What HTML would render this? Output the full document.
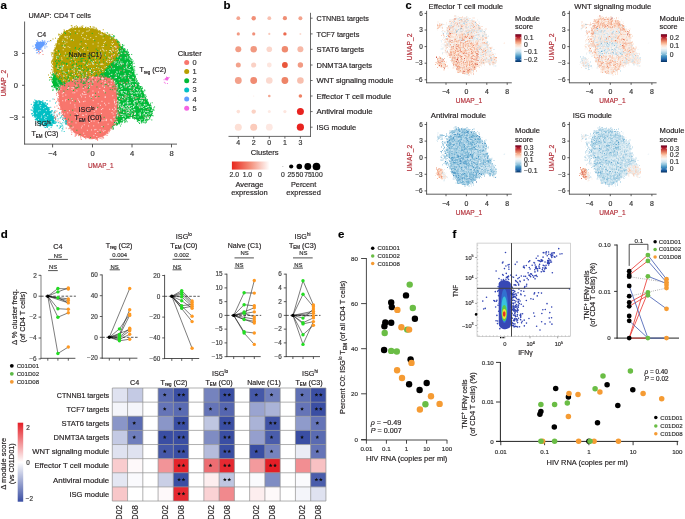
<!DOCTYPE html>
<html><head><meta charset="utf-8"><style>
html,body{margin:0;padding:0;background:#fff;}
svg{display:block;will-change:transform;}
text{font-family:"Liberation Sans",sans-serif;stroke:#231f20;stroke-width:0.18px;}
</style></head><body>
<svg width="685" height="519" viewBox="0 0 685 519" font-size="7" fill="#231f20">
<rect width="685" height="519" fill="#fff"/>
<path d="M106.14 34.6 L108.16 35.6 L110.02 36.61 L111.71 37.62 L113.23 38.64 L114.57 39.66 L115.74 40.61 L116.71 41.47 L117.5 42.25 L118.1 42.95 L118.86 43.79 L119.79 44.76 L120.88 45.88 L122.12 47.12 L123.28 48.28 L124.34 49.34 L125.31 50.31 L126.19 51.19 L126.97 52.09 L127.66 53.03 L128.25 54 L128.75 55 L129.25 56 L129.75 57 L130.25 58 L130.75 59 L131.19 60.06 L131.56 61.19 L131.88 62.38 L132.12 63.62 L132.38 64.91 L132.62 66.22 L132.88 67.56 L133.12 68.94 L133.47 70.47 L133.91 72.16 L134.44 74 L135.06 76 L135.75 77.94 L136.5 79.81 L137.31 81.62 L138.19 83.38 L139 84.88 L139.75 86.12 L140.44 87.12 L141.06 87.88 L141.72 88.91 L142.41 90.22 L143.12 91.81 L143.88 93.69 L144.62 95.44 L145.38 97.06 L146.12 98.56 L146.88 99.94 L147.66 101.28 L148.47 102.59 L149.31 103.88 L150.19 105.12 L150.93 106.31 L151.52 107.44 L151.99 108.5 L152.31 109.5 L152.48 110.59 L152.49 111.76 L152.35 113.02 L152.05 114.38 L151.57 115.64 L150.92 116.83 L150.1 117.94 L149.1 118.96 L147.93 119.81 L146.59 120.49 L145.09 120.99 L143.41 121.31 L141.82 121.39 L140.31 121.21 L138.88 120.79 L137.52 120.11 L136.26 119.44 L135.07 118.76 L133.96 118.09 L132.94 117.41 L132 116.99 L131.15 116.83 L130.39 116.93 L129.71 117.27 L128.96 117.71 L128.12 118.22 L127.2 118.81 L126.2 119.49 L125.11 120.16 L123.94 120.84 L122.67 121.51 L121.33 122.19 L119.97 122.86 L118.62 123.54 L117.27 124.21 L115.93 124.89 L114.66 125.56 L113.47 126.24 L112.36 126.91 L111.34 127.59 L110.71 126.93 L110.47 124.94 L110.62 121.62 L111.18 116.98 L111.65 112.55 L112.05 108.35 L112.38 104.38 L112.62 100.62 L112.31 97 L111.44 93.5 L110 90.12 L108 86.88 L105.56 84.31 L102.69 82.44 L99.38 81.25 L95.62 80.75 L91.56 80.5 L87.19 80.5 L82.5 80.75 L77.5 81.25 L73.31 82 L69.94 83 L67.38 84.25 L65.62 85.75 L63.88 87 L62.12 88 L60.38 88.75 L58.62 89.25 L57.09 89.25 L55.78 88.75 L54.69 87.75 L53.81 86.25 L53.16 84.62 L52.72 82.88 L52.5 81 L52.5 79 L52.97 77.12 L53.91 75.38 L55.31 73.75 L57.19 72.25 L61.09 70.5 L67.03 68.5 L75 66.25 L85 63.75 L92.69 60.19 L98.08 55.58 L101.16 49.91 L101.94 43.19 L103.02 38.39 L104.42 35.53Z" fill="#00BA38"/>
<path d="M53.01 74.46h.01M58.71 73.55h.01M111.23 94.98h.01M107.61 37.38h.01M51.41 77.26h.01M59.86 67.46h.01M142.55 92.5h.01M75.99 65.83h.01M100.77 39.69h.01M76.94 67.77h.01M132.35 64.06h.01M73.26 82.86h.01M119.68 122.07h.01M105.9 83.44h.01M103.09 82.31h.01M110.05 101.13h.01M80.02 81.1h.01M128.27 56.66h.01M99.78 81.37h.01M138.37 120.28h.01M111.49 120.37h.01M138.43 86.95h.01M89.93 79h.01M148.12 102.39h.01M94.8 58.61h.01M116.5 122.43h.01M124.91 120.66h.01M130.37 60.59h.01M102.04 49.83h.01M149.13 105.72h.01M78.94 66.24h.01M136.95 74.34h.01M116.83 125.41h.01M95 80.44h.01M84.07 63.05h.01M52.62 86.35h.01M129.03 115.79h.01M138.93 122.53h.01M111.4 124.11h.01M112.78 93.09h.01M113.13 96.26h.01M117.39 40.21h.01M126.89 51.46h.01M98.31 47.35h.01M102.97 45.69h.01M126.56 120.82h.01M109.17 106.84h.01M96.29 82.11h.01M77.13 81.69h.01M121.72 120.63h.01M111.68 97.46h.01M92.01 57.52h.01M127.48 55.95h.01M53.71 84.25h.01M82.1 61.12h.01M97.41 53.69h.01M131.71 65.77h.01M102.32 42.09h.01M86.29 63.76h.01M117.26 41.79h.01M116.22 40.89h.01M121.25 124.11h.01M90.59 80.08h.01M53.08 85.43h.01M134.75 70.29h.01M81.29 79.05h.01M120.52 120.48h.01M84.4 62.81h.01M111.75 94.57h.01M112.8 99.19h.01M117.66 124.47h.01M109.72 35.04h.01M112.34 124.86h.01M127.49 49.84h.01M152.18 102.81h.01M111.77 112.69h.01M135.85 117.81h.01M144.97 119.6h.01M85.9 83.04h.01M132.37 73.69h.01M54.46 86.83h.01M112.28 106.88h.01M148.93 117.76h.01M144.76 97.92h.01M114.53 101.87h.01M66.49 68.21h.01M101.94 82.42h.01M62.06 71.66h.01M112.32 117.2h.01M110.29 105.75h.01M138.85 83.65h.01M54.73 82.83h.01M56.41 74.4h.01M143.62 119.55h.01M72.71 82.34h.01M124.81 122.56h.01M54.08 87.59h.01M104.36 82.82h.01M109.06 88.5h.01M131.45 63.38h.01M111.34 127.05h.01M67.56 66.94h.01M131.57 69.58h.01M60.66 87.29h.01M138.82 88.11h.01M132.08 59.73h.01M64.18 87.42h.01M69.31 85.4h.01M131.86 115.05h.01M101.9 81.05h.01M53.27 75.04h.01M133.2 73.64h.01M137.38 121.49h.01M75.91 80.02h.01M111.96 39.12h.01M56.86 75.05h.01M74.35 68.33h.01M150.43 103.27h.01M113.6 41.06h.01M91 78.67h.01M142.41 92.18h.01M144.65 90.01h.01M78.25 81.09h.01M117.46 123.38h.01M55.15 72.52h.01M109.36 129.84h.01M131.83 67.35h.01M132.44 117.42h.01M125.65 119.28h.01M53.05 81.57h.01M102.57 42.33h.01M53.62 81.97h.01M128.84 116.44h.01M105.06 83.84h.01M110.92 123.57h.01M96.06 80.22h.01M109.39 36.6h.01M140.89 86.66h.01M134.81 116.75h.01M98.67 79.99h.01M108.5 36.22h.01M55.18 74.47h.01M56.7 90.72h.01M122.39 46.58h.01M141.44 90.87h.01M113.07 127.82h.01M52.61 82.43h.01M118.2 44.3h.01M119.95 47.49h.01M100.38 46h.01M102.08 84.69h.01M112.69 109.49h.01M113.11 129.38h.01M152.62 109.84h.01M74.32 80.36h.01M49.48 80h.01M66.36 83.81h.01M75.84 66.33h.01M144.63 97.72h.01M132.31 62.57h.01M129.53 58.64h.01M120.62 121.24h.01M145.12 120.97h.01M85.39 64.2h.01M52.04 81.56h.01M124.3 50.77h.01M147.43 103.34h.01M77.22 66.63h.01M135.07 76.6h.01M134.03 78.72h.01M60.13 90.21h.01M111.65 94.73h.01M113.1 37.37h.01M144.19 122.72h.01M140.1 86.68h.01M112.61 111.04h.01M54.8 85.64h.01M153.7 107.97h.01M118.39 122.73h.01M81.16 65.94h.01M129.53 58.52h.01M66.24 84.19h.01M112.25 96.7h.01M111.8 97.21h.01M75.92 67.72h.01M52.14 74.93h.01M100.31 48.48h.01M118.67 45.6h.01M150.17 105.13h.01M52.84 75h.01M111.41 125.03h.01M111.21 119.74h.01M103.87 42.76h.01M74.31 67.72h.01M93.66 78.98h.01M101.62 49.94h.01M108.96 36.22h.01M59.08 89.71h.01M126.5 53.2h.01M114.18 40.01h.01M148.68 118.82h.01M103.22 83.22h.01M131.42 68.26h.01M115.2 41.59h.01M141.34 88.58h.01M149.39 105.52h.01M132.69 118.07h.01M142.51 88.42h.01M111.86 114.01h.01M71.25 67.33h.01M130.26 117.94h.01M129.07 54.8h.01M82.79 81.55h.01M141.48 88.35h.01M83.58 79.06h.01M107.94 123.28h.01M116.42 42.33h.01M124.52 48.61h.01M143.3 91.19h.01M130.05 57.33h.01M110.34 121.81h.01M126.23 52.55h.01M128.68 54.3h.01M111.3 127.77h.01M71.02 81.84h.01M111.97 111.18h.01M107.16 32.61h.01M136.15 78.45h.01M141.56 89.92h.01M70.03 82.97h.01M102.81 81.48h.01M87.3 61.74h.01M152.41 111.53h.01M77.87 79.81h.01M130.45 64.39h.01M132.23 115.31h.01M98.42 52.35h.01M87.28 64.64h.01M84.05 63.94h.01M99.54 50.85h.01M67.36 82.05h.01M60.39 92.28h.01M137.58 83.16h.01M103.55 81.22h.01M59.78 72.29h.01M126.93 51.56h.01M129.81 58.97h.01M53.51 75.99h.01M130.62 58.71h.01M111.87 103.19h.01M102.16 49.76h.01M138.17 119.02h.01M65.52 85.07h.01M130.28 62.87h.01M81.62 80.24h.01M89.18 80.29h.01M154.56 106.94h.01M137.39 120.6h.01M151.12 109.01h.01M77.97 80.4h.01M103.28 45.41h.01M139.82 87.78h.01M130.99 61.73h.01M90.2 60.39h.01M128.09 52.51h.01M109.65 117.34h.01M72.68 68.62h.01M106.51 84.38h.01M96.69 54.39h.01M112.75 96.5h.01M131.37 62.6h.01M126.97 50.87h.01M84.32 63.2h.01M143.75 91.93h.01M148.02 119.8h.01M86.51 80.93h.01M134.94 78.25h.01M51.7 80.02h.01M128.15 52.09h.01M145.05 97.57h.01M151.04 115.21h.01M101.75 80.22h.01M93.93 57.71h.01M84.15 62.41h.01M112.7 108.65h.01M60.85 72.14h.01M143.68 96.48h.01M74.87 82.47h.01M85.35 63.22h.01M65.72 83.84h.01M151.78 109.35h.01M138.69 86.96h.01M109.03 90.83h.01M53.29 77.69h.01M136.32 79.93h.01M110.8 124.47h.01M76.24 67.82h.01M134.56 76.98h.01M128.01 55.88h.01M116.47 124.07h.01M52.92 74.26h.01M123.91 45.25h.01M137.72 82.71h.01M131.09 64.75h.01M77.27 82.03h.01M133.03 67.73h.01M153.91 110.33h.01M119.41 44.2h.01M87.5 63.5h.01M141.53 121.6h.01M109.56 91.21h.01M86.64 63.04h.01M71.06 67.98h.01M112.63 113.91h.01M106.17 89.3h.01M147.63 103.45h.01M114.37 40.6h.01M52.67 82.68h.01M59.48 89.08h.01M113.09 113.16h.01M76.39 82.1h.01M122.07 47.12h.01M110.28 123.52h.01M112.85 96.33h.01M147.94 117.6h.01M131.59 61.66h.01M140.11 87.91h.01M146.14 96.47h.01M113.73 105.23h.01M138.26 85.35h.01M78.59 82.54h.01M141.85 120.61h.01M55.58 87.21h.01M118.51 45.7h.01M63.18 85.95h.01M142.49 92.67h.01M64.59 85.9h.01M110.49 118.71h.01M66.41 87.59h.01M99.92 52.78h.01M57.04 89.18h.01M134.82 76.55h.01M104.34 35.3h.01M93.61 59.38h.01M130.84 58.86h.01M89.14 78.52h.01M120.37 47.94h.01M152.28 115.44h.01M147.15 120.57h.01M110.33 113.82h.01M84.2 78.79h.01M116.51 42.36h.01M91.82 80.97h.01M53.79 76.08h.01M112.99 109.68h.01M111.95 120.12h.01M134.56 119.01h.01M99.99 52.29h.01M78.71 82.72h.01M125.97 52.01h.01M111.42 89.03h.01M67.81 68.02h.01M53.15 77.74h.01M138.71 120.82h.01M132.57 69.82h.01M61.1 88.13h.01M144.23 97.42h.01M76.26 79.78h.01M117.54 122.05h.01M56.93 72.99h.01M105.28 83.62h.01M122.54 49.01h.01M92.43 80.69h.01M100.69 52.92h.01M120.53 126h.01M111.02 90.66h.01M62.34 87h.01M125.11 52.63h.01M130.33 115.47h.01M105.55 83.82h.01M73.35 83.65h.01M55.2 85.02h.01M113.85 104.69h.01M121.93 121.44h.01M118.79 46.54h.01M96.58 59.49h.01M117.82 44.32h.01M143.54 119.59h.01M134.02 63.3h.01M99.88 79.55h.01M132.07 68.65h.01M126.18 52.86h.01M107.7 121.8h.01M144.81 90.73h.01M110.4 114.13h.01M111.03 103.47h.01M122.89 47.14h.01M101.04 49.85h.01M133.7 72.24h.01M140.47 86.74h.01M67.66 85.12h.01M65.15 71.18h.01M82.07 66.34h.01M141.16 120.28h.01M100.99 81.45h.01M107.37 35.48h.01M108.39 90.71h.01M123.33 49.18h.01M111.83 111.6h.01M113.18 36.54h.01M129.25 56.75h.01M79.49 66.61h.01M108.27 85.6h.01M113.07 106.5h.01M109.77 122.42h.01M106.09 36.49h.01M59.82 88.51h.01M76.56 66.62h.01M67.92 85.33h.01M109.61 92.93h.01M145.91 98.22h.01M111.76 116.21h.01M137.01 84.46h.01M129.03 118.35h.01M122.42 44.53h.01M111.36 39.24h.01M101.72 80.11h.01M118.09 42.1h.01M137.92 86.77h.01M109.78 86.95h.01M109.5 124.02h.01M138.9 83.45h.01M101.39 45.54h.01M100.19 52.39h.01M133.1 118.31h.01M62.93 88.17h.01M106.99 35.45h.01M137.55 86.09h.01M131.69 54.44h.01M112.61 98.74h.01M53.92 84.83h.01M136.62 117.88h.01M52.18 86.82h.01M113.15 115h.01M104.92 82.33h.01M114.25 104.67h.01M111.65 97.68h.01M81.66 80.53h.01M53.09 78.25h.01M113.74 35.53h.01M91.24 79.22h.01M119.66 121.88h.01M79.39 67.05h.01M136.78 81.49h.01M74.89 65.48h.01M59.54 89.74h.01M113.67 107.68h.01M90.06 58.94h.01M132.49 73.87h.01M111.54 127.77h.01M117.52 41.69h.01M132.76 71.55h.01M146.35 121.43h.01M110.93 96.74h.01M96.56 57.55h.01M132.38 115.54h.01M113.6 40h.01M62.7 72.01h.01M59.93 87.52h.01M117.68 44.92h.01M121.13 47.22h.01M86.36 81.19h.01M87 81.64h.01M116.55 39.38h.01M128.76 56.18h.01M113.36 128.4h.01M110.71 128.08h.01M62.41 89.26h.01M144.28 97.47h.01M129 57.85h.01M132.4 61.85h.01M112.89 94.74h.01M56.45 89.37h.01M60.89 70.27h.01M135.37 117.61h.01M125.19 121.65h.01M72.89 83.58h.01M101.34 81.28h.01M134.37 76.52h.01M128.43 117.94h.01M112.22 94.2h.01M144.71 94.75h.01M138.22 119.95h.01M85.59 81.91h.01M110.65 115.36h.01M62.66 86.48h.01M125.02 121.31h.01M135.4 75.2h.01M99.72 45.93h.01M117.47 124.07h.01M54.26 79.05h.01M86.7 79.29h.01M69.99 81.82h.01M98.96 56.72h.01M112.26 108.61h.01M57.5 89.64h.01M95.04 58.17h.01M141.35 122.84h.01M69.25 69.75h.01M64.57 68.74h.01M102.68 48.3h.01M122 122.46h.01M70.09 81.18h.01M83.68 65.87h.01M98.56 55.79h.01M153.1 115.83h.01M143.1 120.96h.01M122.16 46.89h.01M50.83 77.08h.01M110.41 92.9h.01M140.26 88.8h.01M68.92 69.44h.01M52.68 82.9h.01M130.98 65.59h.01M60.49 86.87h.01M115.08 41.2h.01M112.39 122.83h.01M83.68 79.37h.01M109.96 37.7h.01M111.61 91.38h.01M112.85 40.62h.01M142.06 121.65h.01M150.98 110.84h.01M111.18 117.99h.01M102.34 81.01h.01M60.12 68.88h.01M149.45 118.58h.01M99.42 52.83h.01M96.18 57.16h.01M53.15 73.62h.01M129.94 60.51h.01M102.78 47.28h.01M78.23 79.51h.01M111.74 118.29h.01M109.99 37.67h.01M102.78 50.03h.01M119.43 42.31h.01M127.2 121.82h.01M55.76 85.73h.01M110.67 88.93h.01M69.18 69.51h.01M62.81 71.54h.01M140.81 120.05h.01M90.36 61.7h.01M102.86 34.86h.01M65.83 85.03h.01M118.19 42.72h.01M109.89 35.86h.01M125.32 49.23h.01M103.7 42.57h.01M129.27 118.01h.01M133.99 68.81h.01M55.36 72.38h.01M112.86 127.2h.01M140.76 90.08h.01M141.17 120.67h.01M150.21 104.55h.01M85.33 78.62h.01M113.6 125.04h.01M52.86 90.53h.01M73.27 66.16h.01M136.97 118.65h.01M101.46 49.56h.01M64.63 86.86h.01M112.01 108.28h.01M142.93 95.11h.01M108.49 117.63h.01M92.64 81.91h.01M86.93 64.67h.01M68.23 83.24h.01M115.52 41.08h.01M110.5 99.75h.01M135.94 82.57h.01M133.96 66.55h.01M69.97 69.46h.01M129.34 59.92h.01M69.92 69.09h.01M109.3 116.62h.01M79.03 79.86h.01M77.07 81.16h.01M86.62 63.8h.01M129.18 54.56h.01M147.29 100.33h.01M113.88 124.02h.01M102.21 48.89h.01M54.95 85.09h.01M146.35 119.09h.01M139.17 87.29h.01M97.64 56.45h.01M93.62 58.97h.01M68.82 67.45h.01M94.63 80.72h.01M138.22 85.74h.01M123.56 119.6h.01M66.69 83.9h.01M102.47 40.68h.01M139.5 123.49h.01M113.07 106.49h.01M133.06 70.75h.01M78.22 66.3h.01M113.63 98.48h.01M57.86 74.1h.01M55.68 73.07h.01M118.18 122.47h.01M134.13 118.6h.01M122.78 45.63h.01M150.33 105.81h.01M118.21 42.89h.01M54.61 85.05h.01M108.75 117.38h.01M134.31 74.1h.01M137.2 80.48h.01M51.53 86.3h.01M72.14 67.2h.01M124.88 52.34h.01M138.07 85.73h.01M110.17 91.39h.01M56.75 88.19h.01M53.4 85.7h.01M109.14 37.04h.01M64.78 84.63h.01M149.88 118.95h.01M53.64 73.89h.01M111.59 108.87h.01M122.83 49.35h.01M70.29 67.64h.01M140.13 120.44h.01M135.14 76.5h.01M124.37 49.81h.01M131.41 65.87h.01M74.77 67.92h.01M147.39 119.06h.01M98.38 56.04h.01M82.15 64.32h.01M130.75 66.91h.01M64.09 70.45h.01M105.87 84.84h.01M136.21 81.73h.01M73.87 68.45h.01M102.39 42.26h.01M130.89 63.62h.01M53.85 84.58h.01M85.93 65.19h.01M112.52 98.62h.01M111.73 118.47h.01M77.96 81.52h.01M133.77 69.46h.01M61.59 86.7h.01M54.94 73.04h.01M128.25 52.46h.01M127.99 54.01h.01M79.15 82.1h.01M60.89 87.13h.01M67.29 84.22h.01M140.9 86.51h.01M133.14 115.8h.01M145.76 119.62h.01M79.85 79.99h.01M93.28 80.89h.01M139.19 120.56h.01M130.14 61.3h.01M148.78 118.6h.01M69.23 69.53h.01M54.57 82.2h.01M102.5 81.34h.01M60.55 67.13h.01M97.76 54.25h.01M63.06 85.89h.01M54.44 75.13h.01M149.82 116.19h.01M148.21 105.62h.01M103.56 43.58h.01M102.31 51.91h.01M112.49 106.36h.01M138.97 86.16h.01M94.11 59.6h.01M72.83 80.19h.01M120.01 120.7h.01M153.62 109.62h.01M132.03 69.13h.01M53.39 79.57h.01M138.48 82.8h.01M91.29 60.7h.01M99.59 54.32h.01M113.72 110.57h.01M60.38 72.48h.01M146.06 102.45h.01M105.6 36.49h.01M84.68 63.47h.01M88.77 62.84h.01M133.13 61.13h.01M98.42 79.18h.01M51.2 77.83h.01M82.9 81.37h.01M134.04 116.46h.01M80.58 64.8h.01M118.17 41.92h.01M134.81 80.44h.01M101.16 80.09h.01M133.8 71.08h.01M143.62 95.09h.01M111.27 36.59h.01M119.25 123.7h.01M143.13 95.63h.01M98.14 55.4h.01M73.12 83.08h.01M103.99 40.65h.01M54.84 83.27h.01M135.9 78.86h.01M108.62 88.51h.01M112 119.57h.01M147.98 119.03h.01M104.93 38.99h.01M91.86 62.52h.01M131 60.21h.01M86.29 80.3h.01M114.55 36.27h.01M71.79 80.97h.01M81.25 80.66h.01M112.53 125.06h.01M100.76 85.46h.01M78.67 66.8h.01M149.97 114.83h.01M78.15 81.25h.01M141.75 89.97h.01M61.42 70.44h.01M53.8 85.48h.01M70.83 80.98h.01M113.78 102.04h.01M60.92 88.67h.01M92.02 61.12h.01M68.09 68.52h.01M101.63 46.33h.01M54.75 84.08h.01M131.21 62.63h.01M93.05 79.85h.01M128.08 55.22h.01M135.47 79.37h.01M150.89 105.46h.01M67.61 69.02h.01M116.02 124.3h.01M68.98 84.94h.01M119.34 123.72h.01M111.38 123.46h.01M65.09 84.97h.01M143.44 93.79h.01M149.97 115.75h.01M145.65 95.15h.01M141.87 122.71h.01M76.36 81.91h.01M112.36 102.31h.01M53.94 85.35h.01M106.19 36.83h.01M102.3 49.24h.01M111.87 111.54h.01M122.53 48.47h.01M65.79 84.63h.01M147.81 101.99h.01M102.43 39.64h.01M91.07 57.05h.01M106.04 89.82h.01M89.14 80.73h.01M116.34 43.18h.01M113.03 92.16h.01M81.75 82.54h.01M114.4 41.33h.01M113.76 102.63h.01M68.61 67.65h.01M58.36 73.57h.01M68.78 82.95h.01M110.72 89.86h.01M110.77 91.05h.01M98.96 56.72h.01M56.55 87.35h.01M81.49 66.27h.01M79.02 81.14h.01M111.7 120.42h.01M101.42 83.13h.01M148.3 105.7h.01M72.12 68.52h.01M115.59 43.1h.01M110.79 93.63h.01M55.8 73.79h.01M102.97 42.81h.01M73.85 80.14h.01M123.53 119.94h.01M79.38 66.62h.01M78.76 84.34h.01M131.08 59.45h.01M109.61 96.21h.01M122.18 121.59h.01M113 40.88h.01M141.76 92.01h.01M60.6 89.67h.01M129.56 60.62h.01M99.43 52.8h.01M102.85 49.7h.01M132.05 63.78h.01M72.13 66.39h.01M93.76 55.96h.01M54.9 70.14h.01M111.89 124.5h.01M108.48 88.16h.01M111.67 118.7h.01M67.23 85.99h.01M147.38 99.44h.01M58.4 90.35h.01M68.22 86.95h.01M88.86 79.36h.01M143.38 122.23h.01M152.33 113.67h.01M89.36 60.85h.01M62.79 70.9h.01M105.67 37.14h.01M109.83 121.34h.01M134.7 72.14h.01M56.51 74.29h.01M103.78 44.24h.01M147.02 103.17h.01M112.59 112.79h.01M103.56 84.95h.01M135.72 117.66h.01M109.95 126.24h.01M56.42 75.42h.01M110.17 118.55h.01M130.17 62.64h.01M107.11 85.15h.01M71.37 83.66h.01M151.79 119.95h.01M145.43 122.94h.01M111.82 118.47h.01M60.86 89.38h.01M142.24 87.22h.01M83.62 62.73h.01M116.33 43.35h.01M55.01 74.5h.01M71.44 65.7h.01M103.38 38.31h.01M98.6 46.62h.01M147.4 104.01h.01M103.99 36.39h.01M90.41 79.98h.01M58.11 92.47h.01M93.6 60.67h.01M53.3 82.38h.01M133.94 116.96h.01M91.05 81.38h.01M71.22 80.67h.01M100.67 41.73h.01M112.95 40.3h.01M113.65 38.69h.01M58.97 87.67h.01M130.44 62.1h.01M107.07 88.03h.01M89.61 80.35h.01M134.92 77.67h.01M128.48 117.31h.01M116.11 124.62h.01M101.32 42.61h.01M60.03 87.25h.01M114.36 99.84h.01M118.2 41.43h.01M134.69 66.73h.01M110.62 127.03h.01M110.31 90.61h.01M113.42 110.06h.01M53.07 89.35h.01M52.71 79.25h.01M93.16 82.03h.01M146.17 122.54h.01M124.8 52.29h.01M113.39 124.8h.01M151.38 109.7h.01M109.5 118.82h.01M75.31 85.04h.01M84.79 64.47h.01M111.91 90.73h.01M137.41 82.91h.01M90.11 63.42h.01M110.32 118.53h.01M151.32 107.04h.01M111.93 122.9h.01M56.27 89.42h.01M52.87 79.33h.01M67.4 82.46h.01M61.88 69.76h.01M78.8 82.42h.01M109.77 88.57h.01M118.25 46.02h.01M64.1 71.08h.01" stroke="#00BA38" stroke-width="0.9" stroke-linecap="square" fill="none"/>
<path d="M55.55 74.46 L55.05 73.44 L54.59 72.25 L54.18 70.9 L53.81 69.39 L53.49 67.71 L53.28 65.95 L53.19 64.1 L53.22 62.16 L53.38 60.14 L53.58 58.11 L53.83 56.09 L54.13 54.06 L54.47 52.04 L54.86 50.18 L55.29 48.49 L55.75 46.97 L56.25 45.63 L56.75 44.28 L57.25 42.92 L57.75 41.58 L58.25 40.23 L58.88 38.88 L59.64 37.53 L60.54 36.18 L61.56 34.82 L62.58 33.64 L63.59 32.63 L64.6 31.79 L65.6 31.11 L66.86 30.44 L68.37 29.76 L70.14 29.09 L72.16 28.41 L74.27 27.95 L76.46 27.7 L78.73 27.66 L81.08 27.84 L83.49 28.03 L85.96 28.23 L88.5 28.44 L91.1 28.66 L93.56 29.09 L95.87 29.71 L98.04 30.54 L100.06 31.56 L102.09 32.58 L104.11 33.59 L106.14 34.6 L108.16 35.6 L110.02 36.61 L111.71 37.62 L113.23 38.64 L114.57 39.66 L115.76 40.77 L116.77 41.96 L117.61 43.23 L118.29 44.58 L118.71 46.01 L118.87 47.52 L118.77 49.11 L118.43 50.79 L117.91 52.47 L117.24 54.16 L116.4 55.85 L115.4 57.55 L114.31 59.16 L113.14 60.69 L111.88 62.13 L110.52 63.48 L109.17 64.83 L107.83 66.17 L106.48 67.53 L105.12 68.88 L103.77 70.24 L102.42 71.61 L101.07 73 L99.73 74.4 L98.23 75.64 L96.59 76.71 L94.81 77.62 L92.89 78.38 L90.82 79 L88.61 79.5 L86.25 79.88 L83.75 80.12 L81.25 80.34 L78.75 80.53 L76.25 80.69 L73.75 80.81 L71.38 80.94 L69.12 81.06 L67 81.19 L65 81.31 L63.14 81.06 L61.43 80.44 L59.86 79.44 L58.44 78.06 L57.24 76.78 L56.28 75.57Z" fill="#B79F00"/>
<path d="M108.45 63.54h.01M86.44 79.11h.01M95.22 29.45h.01M85.58 29.05h.01M53.93 64.96h.01M117.7 44.28h.01M101.72 71.93h.01M117.74 40.81h.01M55.61 49.16h.01M54.8 49.24h.01M91.87 77.79h.01M56.48 49.83h.01M93.06 77.52h.01M113.98 41.47h.01M54.35 73.21h.01M82.73 78.59h.01M116.21 42.9h.01M54.26 53.75h.01M59.32 79.6h.01M95.74 76.75h.01M67.43 32.22h.01M58.31 43.45h.01M55.18 71.71h.01M67.77 79.73h.01M70.03 79.29h.01M118.35 43.03h.01M57.7 75.64h.01M110.63 62.22h.01M58.78 43.89h.01M101.7 33.93h.01M69.61 31.35h.01M114.78 55.98h.01M110.34 65.69h.01M118.32 55.7h.01M79.43 28.74h.01M96.01 27.95h.01M87.49 27.93h.01M51.61 66.08h.01M72.59 29.95h.01M109.67 34.33h.01M110.64 38.63h.01M81.86 29.63h.01M54.94 55.05h.01M55.03 66.56h.01M116.27 44.49h.01M66.43 30.99h.01M72.25 28.03h.01M55.08 64.27h.01M65.36 82.42h.01M111 39.44h.01M65.12 79.79h.01M107.28 35.71h.01M91.18 78.69h.01M102.07 72.25h.01M79.54 29.34h.01M66.54 79.72h.01M97.23 74.13h.01M89.8 82.3h.01M59.78 34.52h.01M118.92 47.35h.01M71.32 25.65h.01M120.18 44.2h.01M77.44 28.16h.01M115.08 58.25h.01M82.18 29.48h.01M119.26 51.94h.01M76.78 80.76h.01M97.54 31.25h.01M74.14 29.29h.01M90.47 29.18h.01M87.17 29.62h.01M63.05 80.21h.01M63.32 35.02h.01M111.01 62.67h.01M65.77 81.19h.01M57.63 76.87h.01M62.39 34.65h.01M93.73 30.92h.01M52.44 72.29h.01M63.13 82.15h.01M76.12 81.04h.01M85.45 27.55h.01M93.56 30.55h.01M63.02 35.81h.01M55.76 56.47h.01M70.35 80.77h.01M75.37 29.16h.01M109.97 61.43h.01M103.81 34.98h.01M76.51 82.24h.01M100.6 73.72h.01M74.14 81.82h.01M87.05 28.94h.01M51.87 74.76h.01M103.81 68.6h.01M107.68 33.39h.01M84.13 79.65h.01M86.23 29.58h.01M53.95 56.77h.01M64.52 80.24h.01M102.96 72.95h.01M54.71 55.05h.01M90.63 30.2h.01M117.8 50.76h.01M79.65 27.32h.01M51.62 69.69h.01M117.18 47.59h.01M65.77 79.38h.01M57.69 40.52h.01M113.8 37.37h.01M105.81 36.6h.01M68.3 79.72h.01M104.98 35.32h.01M91.56 29.68h.01M63.95 31.36h.01M93.01 26.89h.01M60.29 39.38h.01M53.33 68.31h.01M60.96 37.8h.01M64.14 29.85h.01M111.32 39.53h.01M53.02 69.79h.01M54.12 67.26h.01M62.74 35.72h.01M53.86 61.41h.01M58.26 42.71h.01M110.25 37.78h.01M114.67 56.95h.01M54.25 50.42h.01M87.37 78.65h.01M112.07 62.69h.01M67.76 80.67h.01M51.63 61.81h.01M115.43 42.76h.01M54.06 69.67h.01M51.92 60.72h.01M53.71 59.84h.01M55.25 60.73h.01M75.58 80.04h.01M70.77 81.54h.01M59.94 40.65h.01M61.12 37.02h.01M110.09 37.46h.01M54.43 69.09h.01M119.28 46.32h.01M111.98 39.4h.01M92.87 78.31h.01M56.36 51.47h.01M56.47 75.32h.01M59.35 78.03h.01M53.81 53.38h.01M65 81.37h.01M99.34 31.69h.01M61.01 78.44h.01M55.07 73.94h.01M90.93 78.37h.01M119.81 54.06h.01M85.46 79.05h.01M54.62 53.61h.01M91.67 30.37h.01M51.63 55.07h.01M64.96 31.85h.01M67.13 81.24h.01M101.35 33.94h.01M55.04 45.58h.01M76.69 80.29h.01M99.56 33.2h.01M55.52 56.65h.01M116.17 56.13h.01M76.45 28.94h.01M97.26 32.29h.01M107.72 36.76h.01M116.43 42.76h.01M54.57 59.82h.01M82.49 27.58h.01M57.43 45.23h.01M56.46 51.59h.01M57.6 41.84h.01M120.55 48.45h.01M115.94 43.5h.01M111.56 38.43h.01M58.46 76.6h.01M57.73 46.31h.01M65.5 33.02h.01M71.31 81.05h.01M55.17 72.19h.01M60.2 39.53h.01M53.85 62.24h.01M78.75 79.96h.01M117.17 53.67h.01M67.39 31.82h.01M56.15 52.19h.01M57.14 47.03h.01M117.04 55.67h.01M78.44 80.94h.01M100.61 32.5h.01M115.89 54.07h.01M112.44 40.37h.01M110.31 36.65h.01M73.54 28.27h.01M117.14 43.65h.01M55.28 71.76h.01M82.12 27.17h.01M83.65 82.39h.01M86.57 29.97h.01M87.62 78.97h.01M117.65 55.88h.01M96.95 75.33h.01M82.42 28.1h.01M113.09 37.78h.01M55.28 69.95h.01M54.55 54.08h.01M52.12 61.55h.01M69.79 80.39h.01M55.31 60.2h.01M61.54 79.88h.01M108.66 34.87h.01M75.89 81.29h.01M63.63 33.08h.01M96.53 32h.01M100.48 31.64h.01M99.9 32.48h.01M54.24 54.9h.01M82.09 27.64h.01M112.18 34.45h.01M53.94 72.01h.01M99.84 32.84h.01M88.47 29.86h.01M59.74 37.11h.01M95.7 75.96h.01M89.51 77.26h.01M106.52 66.5h.01M95.25 30.05h.01M64.27 80.35h.01M66.85 79.2h.01M57.84 76.67h.01M76.35 80.64h.01M76.15 28.74h.01M90.05 78.13h.01M103 34.33h.01M55.72 55.25h.01M57.3 41.84h.01M55.26 57.75h.01M59.3 78.54h.01M117.11 56.9h.01M103.27 71.58h.01M99.06 75.32h.01M111.78 38.61h.01M115.94 40.27h.01M62.11 81.19h.01M105.02 32.99h.01M84.51 28.92h.01M69.69 30.73h.01M73.01 29.89h.01M95.89 76.73h.01M92.46 29.19h.01M98.43 75.37h.01M97.86 73.54h.01M55.48 59.04h.01M89.03 28.56h.01M104.02 72.46h.01M70.09 80.83h.01M105.6 36.14h.01M102.21 33.49h.01M100.54 72.33h.01M100.3 32.71h.01M94.89 29.49h.01M61.11 79.63h.01M81.28 78.34h.01M73.11 29.77h.01M82.8 25.84h.01M55.88 44.11h.01M66.65 30.96h.01M52.79 61.18h.01M116.15 51.61h.01M77.09 27.73h.01M116.54 41.97h.01M81.01 80.54h.01M96.94 29.42h.01M77.3 27.95h.01M70.71 29.34h.01M75.32 80.78h.01M54.12 71.22h.01M90.57 27.21h.01M69.12 29.94h.01M59.71 79.67h.01M55.19 67.8h.01M90.24 78.73h.01M102.2 76.75h.01M57.49 46.84h.01M76.97 28.98h.01M110.58 61.48h.01M63.79 81.82h.01M58.17 41.12h.01M105.13 34.09h.01M75 81.03h.01M57.52 41.91h.01M107.15 66.25h.01M94.18 28.03h.01M110.1 61.64h.01M100.08 72.42h.01M112.55 59.11h.01M52.52 60.18h.01M115.74 43.14h.01M60.72 37.93h.01M54.31 71.5h.01M55.19 68.19h.01M98.58 31.63h.01M73.34 29.67h.01M82.49 27.55h.01M76.93 79.26h.01M62.95 34.93h.01M57.65 43.15h.01M59.65 38.04h.01M85.63 27.87h.01M81.8 28.75h.01M116.39 53.97h.01M91.99 80.85h.01M51.33 52.86h.01M61.79 35.48h.01M104.56 68.68h.01M114.62 57.34h.01M103.71 70.45h.01M65.36 81.95h.01M105.59 67.31h.01M84.72 29.78h.01M109.7 36.74h.01M51.75 62.5h.01M70.07 29.22h.01M62.2 81.59h.01M77.31 27.64h.01M54.46 65.88h.01M52.55 60.8h.01M53.35 59.01h.01M96.12 30.86h.01M64.87 33.56h.01M56.56 47.9h.01M99.44 30.81h.01M51.92 54.19h.01M55.97 49.22h.01M54.3 59.7h.01M97.72 30.84h.01M116.48 42.46h.01M55.58 74.17h.01M117.79 44.97h.01M52.51 64.19h.01M115.01 39.35h.01M90.8 28.92h.01M71.95 25.85h.01M83.76 78.75h.01M56.5 74.68h.01M58.77 41.95h.01M106.64 68.13h.01M68.48 80.33h.01M77.47 79.98h.01M105.48 67.51h.01M64.31 32.46h.01M119.02 43.19h.01M82.8 81.65h.01M64.08 33.88h.01M72.13 81.13h.01M76.4 80.16h.01M73.93 81.97h.01M57.64 40.12h.01M63.56 34.83h.01M92.13 29.78h.01M55.82 74.09h.01M91.48 29.19h.01M64.05 80.34h.01M54.21 56.41h.01M97.52 76.14h.01M96.21 28.51h.01M91.9 80.06h.01M116.53 42.22h.01M52.6 67.18h.01M78.23 28.76h.01M63.04 80.44h.01M97.77 30.25h.01M88.7 29.28h.01M81.83 81.02h.01M55.62 73.15h.01M114.88 55.39h.01M56 47.28h.01M57.84 75.68h.01M54.85 66.44h.01M56.72 48.51h.01M78.85 79.8h.01M56.9 49.06h.01M116.86 52.17h.01M115.84 43.38h.01M60.24 36.16h.01M105.84 34.42h.01M63.76 33.61h.01M76.61 78.99h.01M89.24 78.2h.01M92.85 30.91h.01M76.71 80.07h.01M112.44 60.8h.01M101.82 71.89h.01M56.55 72.65h.01M54.64 68.08h.01M93.99 77.83h.01M58.28 41.69h.01M58.78 34.04h.01M57.66 46.51h.01M109.26 62.35h.01M54.97 60.6h.01M53.67 54.84h.01M52.65 53.6h.01M79.38 79.81h.01M57.61 76.67h.01M74.72 26.72h.01M115.57 60.64h.01M97.54 75.21h.01M54.86 49.59h.01M78.93 79.65h.01M98.3 76.47h.01M85.09 78.73h.01M53.43 62.64h.01M107.67 63.68h.01M54 70.57h.01M53.5 67.76h.01M55.45 48.67h.01M93.22 81.49h.01M54.45 56.69h.01M117.21 45.47h.01M64.52 30.86h.01M103.26 29.73h.01M104.96 69.18h.01M61.66 33.32h.01M90.17 26.69h.01M54.45 72.76h.01M109.62 35.77h.01M82.68 27.17h.01M98.47 31.88h.01M62.86 80.21h.01M57.93 44.61h.01M71.14 28.49h.01M60.59 77.61h.01M108.88 37.03h.01M75.69 78.9h.01M54.49 70.16h.01M107.07 64.11h.01M55.63 73.68h.01M56.64 45.19h.01M103.53 75.15h.01M98.93 31.58h.01M66.83 31.19h.01M56.74 75.16h.01M112.08 37.66h.01M116.87 54.33h.01M108.69 36.37h.01M66.27 80.68h.01M92.82 77.32h.01M117.2 59.47h.01M66.26 32.68h.01M54.39 62.62h.01M113.95 61.61h.01M68.67 31.77h.01M55.36 52.1h.01M68.47 79.93h.01M52.2 56.67h.01M109.4 62.43h.01M74.43 27.85h.01M62.67 36.01h.01M54.24 63.69h.01M105.17 35.2h.01M115.3 40.12h.01M55.44 71.74h.01M72.28 27.36h.01M77.87 79.59h.01M86.04 79.05h.01M114.64 59.56h.01M76.32 25.76h.01M120.8 46.46h.01M101.52 32.51h.01M69.9 79.27h.01M108.07 67.46h.01M95.57 78.63h.01M114.05 41.63h.01M98.1 73.37h.01M118.65 44.21h.01M109.32 36.83h.01M81.88 28.57h.01M117.37 43.45h.01M91.12 78.27h.01M71.43 28.47h.01M55.06 49.45h.01M119.99 52.04h.01M68.44 79.98h.01M52.4 52.78h.01M65.55 33.47h.01M100.87 33.7h.01M63.72 34.63h.01M72.85 29.22h.01M55.62 57.49h.01M56.67 45.62h.01M55.24 74.52h.01M88.1 27.72h.01M54.02 50.26h.01M52.89 71.14h.01M91.23 30.09h.01M97.34 74.55h.01M101.32 70.55h.01M62.29 81.44h.01M103.95 34.65h.01M58.66 44.82h.01M87.24 30.29h.01M112.27 59.86h.01M58.16 38.81h.01M54.83 47.82h.01M53.16 63.77h.01M59.8 36.8h.01M86.03 27.17h.01M54.53 50.5h.01M71.43 80.2h.01M54.62 62.02h.01M53.74 63.04h.01M118.74 46.4h.01M54.35 54.31h.01M92.31 30.67h.01M61.12 38h.01M102.74 69.32h.01M94.83 77.65h.01M56.81 43.72h.01M101.01 33.87h.01M84.8 78.05h.01M97.98 31.75h.01M64.45 33.03h.01M115.44 41.33h.01M58.78 38.54h.01M78.02 79.15h.01M101.68 34.56h.01M58.87 76.85h.01M103.75 71.52h.01M117.27 48.18h.01M104.72 34.08h.01M118.41 46.56h.01M88.2 77.94h.01M109.65 62.02h.01M90.23 79.88h.01M58.44 40.19h.01M90.29 30.12h.01M53.98 63.87h.01M53.84 65.9h.01M94.46 31.39h.01M57.71 78.92h.01M84.7 79.53h.01M58.68 42.08h.01M53.67 61.4h.01M97.02 74.43h.01M55.2 50.99h.01M99.93 30.67h.01M69.67 79.42h.01M119.76 47.05h.01M106.97 35.22h.01M78.15 28.83h.01M116.91 55.76h.01M57.42 75.97h.01M117.66 56.29h.01M90.49 26.62h.01M114.51 41.79h.01M118.78 52.65h.01M54.17 70.89h.01M56.04 44.24h.01M57.95 75.22h.01M116.69 55h.01M81.27 26.34h.01M62.14 81.3h.01M76.4 78.77h.01M58.12 77.77h.01M70.18 29.24h.01M98.06 73.73h.01M80.71 27.79h.01M91.77 77.3h.01M94.1 27.11h.01M91.6 76.78h.01M53.91 52.1h.01M74.98 28.97h.01M53.8 58.63h.01M111.03 39.07h.01M96.8 75.28h.01M113.61 58.64h.01M117.68 53.28h.01M102.94 34.8h.01M77.12 82.28h.01M69.7 29.78h.01M97.61 76.98h.01M56.14 77.24h.01M114.38 56.05h.01M114.21 55.7h.01M107.14 65.46h.01M94.04 77.74h.01M55.77 49.08h.01M62.32 35.73h.01M84.18 30.07h.01M103.9 33.38h.01M60.12 35.19h.01M102.01 32.62h.01M64.08 33.25h.01M55.93 48.82h.01M52.72 64.05h.01M72.72 80.93h.01M56.68 75.17h.01M56.41 46.27h.01M115.91 59.55h.01M54.06 52.13h.01M111.63 60.22h.01M55.04 63.94h.01M53.9 59.56h.01M92.21 28.36h.01M110.99 39.42h.01M53.28 61.12h.01M89.18 78.7h.01M103.55 33.36h.01M62.75 34.62h.01M58.5 34.96h.01M59.23 38.67h.01M80.53 28.61h.01M56.24 75.57h.01M93.66 28.25h.01M104 34.75h.01M52.62 59.18h.01M114.57 56.67h.01M81.89 29.46h.01M77.3 26.55h.01M85.15 28.96h.01M54.81 64.54h.01M96.73 29.43h.01M96.43 77.99h.01M114.23 41.22h.01M114.98 39.62h.01M63.5 33.49h.01M54.91 71.44h.01M57.89 46.69h.01M113.88 60.64h.01M116.35 43.69h.01M64.77 31.8h.01M117 43.52h.01M113.99 39.12h.01M66.02 81.92h.01M82.26 29.36h.01M53.27 57.2h.01M73.47 80.86h.01M76.59 79.52h.01M117.3 53.52h.01M58.97 76.89h.01M101.75 32.67h.01M105.24 68.38h.01M80.43 82.39h.01M102.26 32.51h.01M91.86 28.37h.01M61.08 35.47h.01M107.54 64.14h.01M115.51 57.66h.01M64.12 32.35h.01M104.4 70.48h.01M80.56 78.71h.01M117.44 53.01h.01M56.3 51.92h.01M59.81 41.25h.01M53.22 67.45h.01M63.43 34.5h.01M92.9 79.18h.01M56.96 76.57h.01M88.32 28.09h.01M57.18 76.2h.01M112.05 59.04h.01M94.4 77h.01M86.97 29.74h.01M77.21 27.78h.01M98.63 31.68h.01M110.07 64.45h.01M55.54 72.77h.01M66.34 81.71h.01M95.16 77.2h.01M66.6 32h.01M116.34 40.56h.01M118.37 46.28h.01M75.93 81.05h.01M106.03 66.79h.01M88.45 80.17h.01M89.24 28.64h.01M102.98 35.13h.01M113.38 57.05h.01M114.44 55.61h.01M67.96 30.52h.01M56.45 73.88h.01M117.29 51h.01M60.52 37.66h.01M75.01 26.88h.01M88.22 81h.01M62.09 80.58h.01M59.17 77.45h.01M52.79 64.66h.01M53.95 55.88h.01M66.75 30.53h.01M60.59 77.8h.01M51.71 63.21h.01M108.16 65.59h.01" stroke="#B79F00" stroke-width="0.9" stroke-linecap="square" fill="none"/>
<path d="M59.53 100.25 L59.87 102.95 L60.39 105.65 L61.06 108.35 L61.9 111.05 L62.9 113.75 L63.91 116.28 L64.92 118.64 L65.94 120.84 L66.96 122.86 L68.07 124.8 L69.26 126.65 L70.53 128.41 L71.88 130.09 L73.39 131.59 L75.08 132.93 L76.94 134.1 L78.96 135.1 L81.07 135.98 L83.26 136.74 L85.53 137.39 L87.88 137.91 L90.03 138.26 L91.99 138.44 L93.76 138.44 L95.34 138.26 L96.86 138.04 L98.32 137.78 L99.73 137.48 L101.07 137.12 L102.51 136.44 L104.02 135.43 L105.61 134.09 L107.29 132.41 L108.88 130.57 L110.39 128.56 L111.83 126.38 L113.17 124.02 L114.32 121.42 L115.26 118.56 L115.99 115.44 L116.51 112.06 L116.86 108.69 L117.04 105.31 L117.04 101.94 L116.86 98.56 L116.56 95.19 L116.14 91.81 L115.59 88.44 L114.91 85.06 L113.91 82.41 L112.59 80.47 L110.94 79.25 L108.96 78.75 L106.96 78.28 L104.94 77.84 L102.89 77.44 L100.81 77.06 L98.65 76.88 L96.4 76.88 L94.06 77.06 L91.64 77.44 L89.19 77.81 L86.73 78.19 L84.25 78.56 L81.75 78.94 L79.25 79.38 L76.75 79.88 L74.25 80.44 L71.75 81.06 L69.5 81.78 L67.5 82.59 L65.75 83.5 L64.25 84.5 L62.97 85.5 L61.91 86.5 L61.06 87.5 L60.44 88.5 L59.94 89.64 L59.56 90.91 L59.31 92.32 L59.19 93.88 L59.18 95.71 L59.29 97.84Z" fill="#F8766D"/>
<path d="M105.5 132.23h.01M69.02 124.51h.01M102.12 78.05h.01M114.32 92.25h.01M61.41 113.24h.01M101.3 78.16h.01M113.41 118.43h.01M106.93 133.57h.01M78.39 132.9h.01M109.39 79.17h.01M98.16 137.39h.01M87.24 78.57h.01M75 78.43h.01M61.62 103.58h.01M59.56 97.72h.01M115.58 95.92h.01M115.53 97.01h.01M61.49 100.13h.01M108.97 128.86h.01M115.08 107.2h.01M72.68 81.44h.01M60.77 89.32h.01M61.14 96.73h.01M104.66 79.77h.01M77.52 81.35h.01M62.5 119.27h.01M71.85 132.22h.01M60.61 103.71h.01M64.98 113.94h.01M118.25 114.3h.01M102.85 136.99h.01M90.49 137.37h.01M113.59 85.52h.01M73.59 131.56h.01M108.41 78.64h.01M90.77 76.81h.01M64.46 113.94h.01M115.42 90.82h.01M108.75 78.47h.01M116.37 105.4h.01M108.84 129.94h.01M116.53 104.84h.01M67.45 124.82h.01M76.34 133.42h.01M85.14 136.74h.01M114.05 124.21h.01M71.29 81.57h.01M62.76 111.04h.01M70.82 81.49h.01M118.58 106.41h.01M63.88 111.66h.01M73.66 81.94h.01M77.43 132.45h.01M61.01 101.24h.01M110.48 125.33h.01M58.76 87.2h.01M114.98 85.07h.01M89.73 78.56h.01M76.61 134.76h.01M89.9 138.7h.01M116.24 97.71h.01M100.84 136.06h.01M71.05 81.63h.01M61.75 108.95h.01M96.38 138.27h.01M106.29 131.47h.01M109.4 78.46h.01M67.71 80.03h.01M115.29 100.34h.01M105.43 134.62h.01M115.62 91.4h.01M66.75 83.36h.01M108.95 131.99h.01M92.44 76.4h.01M82.48 78.86h.01M62.06 109.79h.01M116.98 89.8h.01M116.29 97.46h.01M116.77 97.71h.01M94.68 77.87h.01M116.21 107.02h.01M115.77 109.89h.01M93.38 78.59h.01M98.33 136.41h.01M70.13 124.53h.01M115.16 104.92h.01M92.8 77.45h.01M59.61 96.04h.01M117.09 117.38h.01M115.28 97.74h.01M103.25 137.14h.01M109.67 78.79h.01M92.32 138.76h.01M68.26 123.53h.01M115.49 116.44h.01M114.33 120.23h.01M115.07 89.03h.01M115.31 103.19h.01M56.47 93.42h.01M71.15 126.84h.01M60.59 106.49h.01M114.12 124.32h.01M102.03 138.87h.01M63.51 84.02h.01M66.67 119.45h.01M114.47 114.61h.01M108.35 78.15h.01M104.01 134.04h.01M94.75 77.16h.01M115.2 87.37h.01M111.09 125.92h.01M70.35 124.85h.01M83.37 80.57h.01M116.87 103.35h.01M79.59 78.03h.01M82.63 135.23h.01M83.99 135.78h.01M79.76 80.6h.01M88.89 137.42h.01M102.26 79.27h.01M86.45 77.11h.01M62.69 87.93h.01M105.33 132.02h.01M97.91 78.77h.01M116.79 114.87h.01M60.76 92.66h.01M103.83 133.15h.01M115.43 115.81h.01M61.57 91.14h.01M96.75 78.4h.01M62.36 111.71h.01M110.39 130.01h.01M90.44 78.44h.01M116.79 108.16h.01M97.28 77.78h.01M112.35 79.64h.01M80.82 79.75h.01M114.86 112.67h.01M110.9 126.01h.01M116.24 112.85h.01M61.91 112.22h.01M107.6 131.27h.01M73.52 79.79h.01M67.18 119.79h.01M115.79 95.61h.01M58.81 91.35h.01M100.38 78.32h.01M118.64 103.75h.01M79.29 134.88h.01M104.03 132.93h.01M66.06 118.12h.01M114.54 87.18h.01M115.94 95.26h.01M61.89 86.45h.01M105.57 77.73h.01M65.45 118.84h.01M61.86 88.69h.01M76.35 135.08h.01M81.86 135.48h.01M65.63 118.88h.01M61.56 86.07h.01M69.47 83.2h.01M73.05 80.17h.01M117 102.69h.01M102.03 76.68h.01M62.4 86.47h.01M88.08 79.56h.01M70.16 82.83h.01M82.32 79.34h.01M103.03 135.05h.01M113.97 116.76h.01M103.59 138.01h.01M60.78 101.86h.01M58.95 92.79h.01M115.47 116.87h.01M93.09 138.19h.01M81.71 79.59h.01M115.2 121.22h.01M60 100.9h.01M79.22 79.33h.01M61.27 99.89h.01M109.39 130.71h.01M94.91 138.28h.01M74.26 78.34h.01M102.35 136.79h.01M65.12 117.09h.01M75.34 135.16h.01M105.74 78.03h.01M83.42 80.15h.01M115.48 98.99h.01M114.94 85.85h.01M92.06 138.19h.01M81.3 139.4h.01M68.33 125.59h.01M97.57 139.78h.01M94.06 138.08h.01M81.41 135.15h.01M114.78 110.63h.01M105.91 134.7h.01M117.41 94.99h.01M115.14 109.4h.01M66.32 119.44h.01M110.3 77.96h.01M115.34 118.7h.01M59.68 97.94h.01M81.92 134.2h.01M115.41 95.94h.01M77.41 132.56h.01M96.51 139.08h.01M105.08 132.7h.01M98.93 78.61h.01M79.39 134.8h.01M85.6 79.32h.01M101.89 78.88h.01M68.82 128.72h.01M85.37 79.26h.01M61.97 86.34h.01M117.37 99.96h.01M115.22 97.97h.01M116.29 87.85h.01M63.1 85.34h.01M63.7 115.68h.01M116.53 119.63h.01M59.05 104.55h.01M103.43 134.86h.01M66.3 84.69h.01M63.24 112.37h.01M115.99 110.66h.01M60.12 105.46h.01M100.58 77.12h.01M116.86 88.23h.01M100.28 75.8h.01M67.48 122.2h.01M80.84 78.52h.01M83.39 80.06h.01M96.47 78.28h.01M116.17 88.47h.01M96.1 74.88h.01M60.44 89.8h.01M75.2 133.01h.01M74.12 132.15h.01M98.03 75.49h.01M116.06 93.41h.01M58.02 98.15h.01M114.99 109.96h.01M94.92 77.14h.01M74.74 131.29h.01M65.15 116.92h.01M114.85 111.79h.01M60.35 87.48h.01M116.23 98.1h.01M115.1 87.31h.01M114.48 94.58h.01M114.18 84.94h.01M74.52 130.98h.01M119.22 116.13h.01M62.24 111.76h.01M67.58 83.76h.01M60.65 100.11h.01M112.89 121.74h.01M117.4 92.18h.01M57.87 100.55h.01M108.68 80.55h.01M77.73 133.16h.01M113.25 120.45h.01M66.29 118.83h.01M107.71 132.86h.01M58.65 108.34h.01M91.69 136.93h.01M76.83 131.9h.01M112.31 82.03h.01M106.16 79.85h.01M84.12 78.51h.01M113.92 87.6h.01M82.19 78.91h.01M85.79 138.69h.01M61.16 87.64h.01M114.92 119.79h.01M117.98 93.55h.01M63.02 109.85h.01M115.55 98.3h.01M102.03 136.99h.01M113.5 118.39h.01M112.89 120.09h.01M66.56 122.47h.01M60.68 88.79h.01M62.5 107.87h.01M76.21 80.19h.01M63.78 115.69h.01M70.24 80.59h.01M98.38 137.11h.01M116.54 113.58h.01M97.46 136.54h.01M114.23 121.3h.01M87.96 136.43h.01M79.92 133.77h.01M56.55 95.1h.01M114.41 118.91h.01M68.85 83.41h.01M107.15 78.85h.01M75.7 78.59h.01M59.49 100.16h.01M62.27 111.57h.01M115.95 101.66h.01M114.01 123.52h.01M59.72 94.72h.01M84.93 135.56h.01M99.59 135.95h.01M116.58 89.59h.01M111.58 127.53h.01M59.54 97.52h.01M61.66 105.04h.01M66.78 121.27h.01M64.88 119.37h.01M60.14 101.34h.01M72.01 128.28h.01M99.12 77.09h.01M60.33 104.59h.01M64.63 113h.01M60.18 88.72h.01M105.42 133.24h.01M76.46 81.87h.01M66.26 128.11h.01M60.12 109.3h.01M107.32 80.02h.01M87.92 137.75h.01M116.7 96.98h.01M80.8 137.94h.01M113.63 86.69h.01M97.27 136.21h.01M84.78 137.35h.01M69.79 82.23h.01M80.91 135.63h.01M71.62 127.43h.01M104.48 79.45h.01M64.41 115.96h.01M99.72 135.89h.01M88.82 136.99h.01M58.78 93.8h.01M118.06 88.01h.01M60.46 105.06h.01M60.08 103.39h.01M117.32 106.13h.01M85.14 136.69h.01M89.28 76.68h.01M104.9 132.17h.01M115.79 114.04h.01M60.25 101.01h.01M64.52 115.86h.01M76.69 80.76h.01M107.96 129.44h.01M99.49 136.68h.01M91.17 138.75h.01M61.82 88.38h.01M58.95 90.48h.01M74.64 79.35h.01M116.57 101.64h.01M79.58 79.42h.01M61.76 106.02h.01M95.75 139.12h.01M64.32 112.99h.01M106.57 77.38h.01M60.08 91.96h.01M63.08 117.37h.01M112.08 128.4h.01M118.12 112.07h.01M62.32 107.06h.01M116.6 109.72h.01M91.49 137.45h.01M102.8 77.8h.01M116.4 105.6h.01M116.05 101.07h.01M103.7 135.07h.01M105.68 79.15h.01M118.28 115.55h.01M85.75 137.96h.01M107.84 133.61h.01M85.01 137.04h.01M107.63 130.67h.01M97.03 136.32h.01M62.27 108.95h.01M94.17 76.85h.01M70.29 128.3h.01M116.03 115.29h.01M68.05 84.52h.01M114.17 82.69h.01M67.67 120.22h.01M61.93 87.77h.01M113.18 125.19h.01M62.21 111.77h.01M85.95 79.05h.01M92.27 137.83h.01M61.05 107.26h.01M79.92 77.08h.01M116.57 87.02h.01M109.09 131.57h.01M114.81 86.51h.01M110.51 125.62h.01M61.22 92.39h.01M106.92 133.13h.01M81.66 80.2h.01M112.61 125.65h.01M108.82 79.7h.01M100.02 138.41h.01M89.87 137.44h.01M67.79 124.4h.01M113.71 124.21h.01M97.02 137.83h.01M107.31 130.39h.01M110.77 126.1h.01M60.43 85.23h.01M82.18 80.12h.01M117.5 111.09h.01M74.62 132.34h.01M118.79 114.51h.01M112.03 81.38h.01M111.96 82.3h.01M112.83 122.1h.01M102.99 78.11h.01M112.49 81.1h.01M72.57 82.42h.01M68.08 121.16h.01M98.12 76.88h.01M97.91 136.2h.01M114.9 90.04h.01M98.81 78.26h.01M87.74 77.57h.01M83.4 79.12h.01M118.95 96.16h.01M91.85 78.22h.01M70.99 129.27h.01M60.01 105.68h.01M114.18 82.24h.01M66.81 82.62h.01M106.45 130.4h.01M85.22 79.42h.01M101.68 77.62h.01M95.8 76.66h.01M109.23 80.03h.01M60.01 102.84h.01M93.88 138.52h.01M113.87 117.94h.01M62.15 85.91h.01M114.34 88.55h.01M118.73 107.83h.01M62.43 114.49h.01M112.25 83.62h.01M111.47 124.6h.01M58.75 93.28h.01M82.92 78.99h.01M59.86 87.46h.01M63.48 113.4h.01M59.21 101.85h.01M106.42 78.59h.01M115.31 102.09h.01M87.2 77.54h.01M108.14 130.58h.01M112.97 80.34h.01M114.1 116.91h.01M70.36 83.39h.01M107.53 130.02h.01M61.16 95.15h.01M95.35 136.32h.01M75.37 134.01h.01M65.54 121.24h.01M109.65 128.66h.01M63.87 118.45h.01M72.06 129.73h.01M113.74 86.62h.01M59.24 98.65h.01M57.99 92.59h.01M61 97.22h.01M71.28 81.59h.01M102.28 134.61h.01M113.45 81.94h.01M66.64 83.56h.01M58.89 92.21h.01M71.63 134.3h.01M102.7 78.75h.01M83.73 80.06h.01M115.72 90.41h.01M61.32 89.13h.01M103.29 133.54h.01M92.85 78.46h.01M104.9 77.93h.01M61.57 107.29h.01M80.62 136.74h.01M75.41 80.35h.01M84.6 80.1h.01M66.57 122.51h.01M96.38 76.09h.01M111.26 80.8h.01M82.57 136.21h.01M61.98 109.15h.01M100.04 136.5h.01M71.12 130.66h.01M117.74 103.85h.01M97.13 77.94h.01M116.36 112.66h.01M114.35 90.45h.01M112.2 80.51h.01M81.44 135.31h.01M115.85 95.18h.01M105.92 130.96h.01M115.6 98.75h.01M114.79 116.95h.01M68.91 125.03h.01M113.46 122.74h.01M59.9 97.31h.01M97.59 140.17h.01M90.19 136.61h.01M115.52 97.6h.01M116.36 107.24h.01M67.38 83.96h.01M68.46 123.27h.01M115.71 101.24h.01M60.9 103.9h.01M84.04 136.71h.01M98.84 78.46h.01M100.92 137.9h.01M101.14 78.52h.01M59.09 93.45h.01M68.89 124.68h.01M101.38 135.62h.01M116.59 99.65h.01M112.27 82.71h.01M61.04 109.49h.01M88.51 136.84h.01M61.89 109.23h.01M78.57 135.62h.01M112.39 123.24h.01M84.54 137.41h.01M103.79 134.06h.01M60.01 99.06h.01M60.6 108.74h.01M114.11 85.18h.01M88.11 137.42h.01M61.55 87.5h.01M112.74 80.6h.01M116.99 100h.01M115.9 109.94h.01M113.65 88.63h.01M100.61 78.12h.01M104.11 76.1h.01M116.34 91.25h.01M84.17 135.87h.01M116.98 111.17h.01M90.75 137.97h.01M106.1 131.36h.01M65.76 120.19h.01M60.16 93.47h.01M110.86 77.99h.01M75.07 81.43h.01M105.5 131.92h.01M65.71 123.69h.01M84.37 79.64h.01M61.54 115.84h.01M100.21 135.59h.01M60.53 95.34h.01M100.25 136.26h.01M64.23 115.93h.01M113.31 86.67h.01M66.51 84.22h.01M72.89 82.21h.01M83.53 136.88h.01M68.7 83.29h.01M113.19 120.97h.01M112.51 82.24h.01M114.55 93.21h.01M115.76 111.35h.01M63.07 86.44h.01M101.25 75.59h.01M114.02 115.92h.01M96.89 138.48h.01M80.14 133.43h.01M108.39 80.2h.01M61.35 89.7h.01M82.22 135.48h.01M60.17 104.74h.01M111.92 125.38h.01M67.91 120.59h.01M108.86 79.32h.01M95.13 137.91h.01M88.95 137.45h.01M60.35 109.19h.01M63.48 113.97h.01M108.71 128.53h.01M112.75 80.78h.01M117.45 100.87h.01M115.14 102.98h.01M97.63 138.67h.01M106.43 78.81h.01M61.44 90.37h.01M115.17 90.76h.01M107.11 132.81h.01M96.69 74.89h.01M106.27 80.15h.01M107.09 135.45h.01M57.9 89.49h.01M62.97 83.2h.01M107.46 129.97h.01M88.01 76.91h.01M93.19 138.42h.01M107.12 132.12h.01M112.7 121.48h.01M115.08 94.68h.01M60.41 93.06h.01M75.18 136.31h.01M93.45 136.7h.01M61.32 103.7h.01M81.34 135.64h.01M76.04 79.5h.01M60.41 93.77h.01M60.15 99.47h.01M82.56 80.63h.01M63.25 115.65h.01M114.74 93.01h.01M67.37 123.01h.01M73.59 80.61h.01M115.18 84.03h.01M96.8 78.72h.01M61.3 107.12h.01M105.35 132.08h.01M79.1 134.17h.01M87.59 76.2h.01M59.88 96.73h.01M66.29 85.3h.01M74.67 80.37h.01M58.66 99.97h.01M118.05 107.28h.01M109.29 126.88h.01M60.48 99.21h.01M59.63 105.41h.01M81.23 134.34h.01M64.51 116.22h.01M58.49 96.42h.01M66.31 120.29h.01M60.08 95.41h.01M106.09 132.28h.01M89.26 138.52h.01M70.25 126.9h.01M115.32 121.28h.01M109.56 80.57h.01M63.2 112.65h.01M117.76 104.98h.01M59.57 114.79h.01M112.98 79.27h.01M65.76 82.3h.01M102.92 133.79h.01M115.21 116.23h.01M105.84 77.19h.01M62.59 87.52h.01M63.19 86.37h.01M58.35 91.69h.01M111.94 128.95h.01M112.13 79.9h.01M112.57 81.38h.01M112.17 81.42h.01M118.15 95.29h.01M117.06 119.3h.01M110.33 126.79h.01M118.35 109.77h.01M99.13 78.91h.01M60.7 88.78h.01M114.64 90.91h.01M60.26 98.54h.01M61.58 85.25h.01M60.67 107.64h.01M89.49 138.03h.01M114.02 120.88h.01M115.96 95.24h.01M96.58 138.62h.01M74.12 130.47h.01M68.86 122.28h.01M101.18 78.29h.01M104.68 135.21h.01M111.88 125.73h.01M69.48 128.1h.01M115.5 112.51h.01M62.26 107.54h.01M69.85 83.38h.01M97.2 75.84h.01M80.72 134.26h.01M63.31 114.32h.01M88.7 77.96h.01M118.47 102.03h.01M63.37 87.12h.01M109.28 128.7h.01M86.6 79.88h.01M58.91 94.58h.01M86.03 136.33h.01M115.84 99.87h.01M85.21 80.17h.01M106.93 78.05h.01M60.57 87.05h.01M90.91 78.14h.01M84.09 78.98h.01M66.85 124.17h.01M98.21 77.12h.01M67.4 119.64h.01" stroke="#F8766D" stroke-width="0.9" stroke-linecap="square" fill="none"/>
<path d="M37.19 101.05 L38.31 100.75 L39.44 100.76 L40.56 101.07 L41.69 101.69 L42.81 102.61 L43.94 103.65 L45.06 104.8 L46.19 106.06 L47.31 107.44 L48.34 108.81 L49.28 110.19 L50.12 111.56 L50.88 112.94 L51.56 114.31 L52.19 115.69 L52.75 117.06 L53.25 118.44 L53.56 119.75 L53.69 121 L53.62 122.19 L53.38 123.31 L52.92 124.22 L52.28 124.91 L51.43 125.38 L50.38 125.62 L49.19 125.72 L47.88 125.66 L46.44 125.44 L44.86 125.06 L43.37 124.58 L41.96 123.97 L40.62 123.26 L39.38 122.44 L38.22 121.51 L37.16 120.47 L36.19 119.33 L35.31 118.08 L34.62 116.75 L34.12 115.35 L33.81 113.88 L33.69 112.32 L33.62 110.85 L33.62 109.45 L33.69 108.12 L33.81 106.88 L34 105.72 L34.25 104.66 L34.56 103.69 L34.94 102.81 L35.5 102.08 L36.25 101.49Z" fill="#00BFC4"/>
<path d="M35.28 112.29h.01M34.9 106.24h.01M52.92 116.31h.01M44.77 103.11h.01M53.87 120.36h.01M46.78 109.76h.01M54.23 123.43h.01M45.9 105.96h.01M35.79 120.22h.01M36.29 101.58h.01M43.97 103.02h.01M34.21 111.49h.01M44.39 125.24h.01M39.95 101.32h.01M53.33 120.57h.01M46.94 125.19h.01M53.68 122.13h.01M35.44 112.55h.01M51.69 112.15h.01M45.47 105.94h.01M38.24 122.15h.01M34.45 106.81h.01M52.16 116.27h.01M48.11 108.97h.01M32.36 107.07h.01M55.99 122.02h.01M41.05 103.18h.01M45.17 124.53h.01M49.93 111.16h.01M46.3 105.7h.01M41.72 103.5h.01M45.3 102.53h.01M34.26 117.09h.01M44.77 123.06h.01M33.6 108.32h.01M35.47 101.94h.01M49.57 109.11h.01M52.41 118.25h.01M35.64 112.79h.01M38.41 102.6h.01M44.56 124.22h.01M34.38 115.09h.01M34.91 113.16h.01M48.1 107.94h.01M42.07 122.33h.01M55.51 119.28h.01M39.98 120.7h.01M35.03 111.06h.01M46.24 125.93h.01M51.19 125.43h.01M41.92 124.63h.01M44.22 122.82h.01M45 123.04h.01M52.96 121.87h.01M53.2 122.44h.01M49.51 107.77h.01M44.47 104.59h.01M40.79 122.89h.01M45.55 105.27h.01M50.76 115.43h.01M38.77 101.24h.01M47.45 125.53h.01M41.34 102.06h.01M42.92 123.41h.01M46.59 108.37h.01M51.35 117.22h.01M34.18 103.17h.01M46.91 108.8h.01M51.61 120.11h.01M51.7 125.11h.01M31.03 109.91h.01M51.77 124.11h.01M50.95 113.81h.01M46.96 107.06h.01M46.02 106.74h.01M47.3 103.61h.01M48.6 124.06h.01M47 127.25h.01M44.38 127.1h.01M55.59 118.61h.01M50.21 114.54h.01M40.13 101.99h.01M34.34 105.15h.01M53.21 116.25h.01M32.8 107.88h.01M52.29 118.72h.01M35.62 100.69h.01M44.09 124.92h.01M40.8 123.31h.01M47.95 124.78h.01M35.16 106.75h.01M49.82 112.27h.01M43.82 124.38h.01M51.41 118.87h.01M36.47 117.59h.01M37.88 102.68h.01M45.04 124.74h.01M37.5 120.59h.01M33.61 105.91h.01M35.33 112.84h.01M54.08 121.23h.01M34.34 103.97h.01M51.04 114.82h.01M50.38 113.39h.01M38.07 118.8h.01M42.87 122.21h.01M45.76 105.91h.01M38.14 101.65h.01M33.98 104.72h.01M37.28 117.94h.01M49.32 111.6h.01M37.27 120.72h.01M34.45 102.42h.01M49.07 129.05h.01M34.8 116.03h.01M43.74 123.81h.01M33.58 102.04h.01M50.05 111.62h.01M35.58 110.55h.01M51.69 124.32h.01M44.98 125.38h.01M38.48 121.39h.01M49 124.03h.01M37.36 103.12h.01M37.46 119.68h.01M45.54 105.78h.01M35.91 103.65h.01M52.32 121.75h.01M42.75 101.09h.01M51.64 116.02h.01M56 122.61h.01M55.51 119.69h.01M33.26 115.18h.01M34.19 107.55h.01M49.39 113.73h.01M46.38 123.62h.01M34.79 99.98h.01M34.69 106.46h.01M44.02 105.98h.01M45.29 106.88h.01M42.63 122.59h.01M32.74 110.84h.01M36.46 102.81h.01M40.02 102.98h.01M39.98 120.6h.01M51.34 114.81h.01M46.84 109.17h.01M39.33 123.47h.01M48.4 107.71h.01M34.38 108.97h.01M34.99 106.1h.01M33.55 111.39h.01M39.02 102.36h.01M52.16 116.59h.01M34.16 110.79h.01M53 116.9h.01M45.18 123.9h.01M45.32 107.63h.01M51.88 125.83h.01M52.95 121.64h.01M44.77 105.3h.01M44 125.43h.01M40.52 101.95h.01M53.93 117.23h.01M48.59 108.56h.01M35.75 105.1h.01M46.91 109.83h.01M53.27 118.01h.01M53.62 121.75h.01M53.25 120.29h.01M37.86 118.9h.01M31.75 110.23h.01M35.69 119.47h.01M43.42 102.97h.01M37.41 101.14h.01M35.57 104.77h.01M45.65 103.72h.01M54.13 115.82h.01M53.54 120.72h.01M54.02 112.28h.01M47.56 104.26h.01M35.65 123.36h.01M41 123.49h.01M46.23 109.33h.01M39.24 101.05h.01M34.53 105.78h.01M44.33 106.51h.01M52.74 116.44h.01M48.57 107.74h.01M47.8 124.45h.01M50.3 125.03h.01M50.73 107.3h.01M51.23 114.6h.01M47.12 107.12h.01M47.51 107.17h.01M43.76 125.77h.01M34.72 109.43h.01M35.6 105.62h.01M42.63 122.8h.01M36.24 102.24h.01M51.68 122.46h.01M38.94 120.71h.01M31.56 113.93h.01M34.71 116.21h.01M46.14 106.94h.01M49.05 109.55h.01M51.46 124.55h.01M53.01 118.72h.01M52.34 114.23h.01M35.48 102.41h.01M40.08 124.29h.01M46.11 107.84h.01M46.56 126.26h.01M43.02 104.53h.01M47.33 109.37h.01M35.86 104.99h.01M46.22 104.23h.01M53.83 120.61h.01M52.02 111.41h.01M49.36 113.96h.01M44.55 104.38h.01M45.9 106.7h.01M43.86 104.68h.01M32.14 113.6h.01M43.58 125.31h.01M54.3 123.09h.01M50.86 112.36h.01M46.36 123.56h.01M46 105.54h.01M45.52 127.54h.01M47.18 107.99h.01M38.5 101.02h.01M48.99 126.04h.01M47.28 110.14h.01M51.81 116.52h.01M34.12 105.57h.01M49.68 112.27h.01M51.46 124.07h.01M50.94 125.55h.01M36.35 101.87h.01M43.29 125.55h.01M39.8 101.12h.01M35.24 119.47h.01M33.79 105.34h.01M41.39 102.51h.01M54.61 122.07h.01M51.16 127.33h.01M47.49 109.71h.01M52.06 125.47h.01M34.85 106.98h.01M47.26 110h.01M52.16 110.52h.01M51.04 123.57h.01M40.18 126.12h.01M39.8 121.81h.01M51.63 119.01h.01M50.76 112.3h.01M47.33 127.53h.01M47.13 125.93h.01M33.82 115.13h.01M43.38 103.44h.01M37.36 118.01h.01M36.49 119.16h.01M32.46 115.9h.01M51.98 116.57h.01M53.01 121.85h.01M44.56 104.11h.01M44.11 104.79h.01M38.63 123.74h.01M33.32 109.74h.01M37.02 102.4h.01M48.58 109.41h.01M53.06 118.05h.01M53.13 122.37h.01M46.22 107.82h.01M45.17 125.39h.01M40 124.92h.01M31.31 104.38h.01M36.45 100.76h.01M42.14 102.72h.01M40.45 124.43h.01M37.19 119.57h.01M51.7 117.77h.01M42.75 104.14h.01M32.78 115.23h.01M33.51 112.26h.01M36.53 103.43h.01M38.13 120.95h.01M43.08 123.39h.01M37.48 120.49h.01M34.64 110.95h.01M35.74 104.76h.01M41.51 101.89h.01M32.6 113.37h.01M42.82 100.96h.01M55.7 121.92h.01M34.59 104.67h.01M42.59 103.32h.01M47.73 126.55h.01M42.41 102.22h.01" stroke="#00BFC4" stroke-width="0.9" stroke-linecap="square" fill="none"/>
<path d="M36.38 43.25 L37.03 42.75 L37.76 42.34 L38.59 42.03 L39.5 41.81 L40.5 41.69 L41.47 41.64 L42.41 41.66 L43.31 41.76 L44.19 41.94 L44.75 42.28 L45 42.78 L44.94 43.44 L44.56 44.26 L44.09 45.04 L43.53 45.76 L42.88 46.44 L42.12 47.06 L41.47 47.72 L40.91 48.41 L40.44 49.12 L40.06 49.88 L39.62 50.38 L39.12 50.62 L38.56 50.62 L37.94 50.38 L37.38 50.06 L36.88 49.69 L36.44 49.25 L36.06 48.75 L35.77 48.12 L35.58 47.38 L35.46 46.5 L35.44 45.5 L35.58 44.62 L35.89 43.88Z" fill="#619CFF"/>
<path d="M42.34 42.07h.01M37.01 43.05h.01M36.95 40.33h.01M37.82 41.72h.01M35.47 45.57h.01M46.15 44.13h.01M43.99 44.64h.01M36.37 42.62h.01M40.76 46.61h.01M43.01 45.87h.01M36.52 44.94h.01M42.81 41.11h.01M38.88 44.02h.01M44.9 48.16h.01M37.03 44.92h.01M39.53 52.79h.01M45.73 42.22h.01M38.82 42.48h.01M41.85 45.04h.01M42.01 47.23h.01M46.89 46.82h.01M32.97 46.16h.01M35.36 44.59h.01M36.06 45.72h.01M41.44 45.87h.01M44.75 40.86h.01M44.17 41.56h.01M37.21 45.99h.01M42.81 42.33h.01M35.35 47.58h.01M40.49 41.96h.01M36.59 52.83h.01M43.96 45.29h.01M34.2 48.6h.01M42.54 50.97h.01M40.5 49.46h.01M36.28 50.49h.01M45.13 44.2h.01M37.64 41.21h.01M42.28 40.4h.01M44.9 46.84h.01M39.98 46.89h.01M37.22 49.95h.01M36.35 43.63h.01M37.56 47.73h.01M39.03 51.65h.01M41.65 48.97h.01M37.59 52.65h.01M37.32 42.54h.01M38.35 51.05h.01" stroke="#619CFF" stroke-width="0.9" stroke-linecap="square" fill="none"/>
<path d="M166.06 77.55 L166.44 77.25 L166.84 77.07 L167.28 77.01 L167.75 77.06 L168.25 77.24 L168.59 77.49 L168.78 77.83 L168.81 78.25 L168.69 78.75 L168.47 79.19 L168.16 79.56 L167.75 79.88 L167.25 80.12 L166.78 80.28 L166.34 80.34 L165.94 80.31 L165.56 80.19 L165.31 79.97 L165.19 79.66 L165.19 79.25 L165.31 78.75 L165.5 78.3 L165.75 77.9Z" fill="#F564E3"/>
<path d="M164.34 82.29h.01M166.51 77.07h.01M164.05 79.71h.01M167.45 83.49h.01M166.58 78.93h.01M165.25 78.84h.01M165.8 78.95h.01M165.29 83.21h.01M167.2 80.23h.01M169.11 77.42h.01" stroke="#F564E3" stroke-width="0.9" stroke-linecap="square" fill="none"/>
<path d="M100.36 70.39h.01M91.11 61.04h.01M65.53 33.56h.01M87.44 60.96h.01M66.25 63.35h.01M91.17 60.63h.01M55.79 53.38h.01M91.2 57.24h.01M64.44 77.39h.01M68.87 79.77h.01M59.31 65.44h.01M110.83 60h.01M73.52 61.39h.01M87.77 76.69h.01M76.55 63.41h.01M97.01 53.12h.01M72.97 73.66h.01M89.42 63.96h.01M62.9 80.19h.01M58.71 69.28h.01M78.2 72.34h.01M63.82 75.23h.01M82.31 58.62h.01M72.2 65.62h.01M68.3 80.07h.01M81.83 67.85h.01M70.7 69.4h.01M71.36 75.85h.01M96.29 75.25h.01M96.5 58.39h.01M58.35 58.17h.01M93.08 73.26h.01M59.57 78.08h.01M82.01 69.93h.01M73.96 64.09h.01M59.53 67.75h.01M68.81 74.67h.01M80.73 73.27h.01M96.12 73h.01M78.39 76.98h.01M72.35 65.13h.01M61.65 66.48h.01M58.8 51.37h.01M68.18 77.18h.01M100.06 53.02h.01M72.92 60.39h.01M68.12 76.91h.01M75.63 76.08h.01M66.7 63.72h.01M55.56 61.41h.01M109.86 51.65h.01M64.98 45.59h.01M62.12 45.84h.01M85.3 75.97h.01M72.01 58.19h.01M70.37 52.89h.01M65.75 55.68h.01M56.86 72.33h.01M96.28 53.67h.01M76.09 79.84h.01M57.47 69.39h.01M81.41 77.02h.01M94.05 68.16h.01M60.26 54.36h.01M96.98 75.22h.01M76.81 58.25h.01M97.8 52.32h.01M110.05 55.13h.01M92.28 33.42h.01M58.55 50.64h.01M96.08 54.99h.01M67.9 78.6h.01M61.85 71.09h.01M70.29 75.67h.01M96.16 70.57h.01M72.24 40.23h.01M56.76 63h.01M78.6 49.95h.01M81.42 61.66h.01M59.3 61.72h.01M97.65 50.49h.01M56.81 56.22h.01M87.47 47.82h.01M93.29 63.33h.01M99.1 59.76h.01M96.23 49.14h.01M78.78 70.96h.01M70.55 73.98h.01M70.31 54.35h.01M94.98 76.29h.01M82.32 61.07h.01M66.57 72.72h.01M81.61 65.45h.01M56.24 74.18h.01M86.82 62.18h.01M60.14 75.74h.01M76.99 67.24h.01M67.11 73.36h.01M75.44 33.15h.01M84.8 73.98h.01M66.48 64.55h.01M62.61 73.44h.01M70.5 50.88h.01M99.5 61.77h.01M111.33 39h.01M83.63 76.77h.01M60.3 67.29h.01M70.84 58.89h.01M100.82 52.4h.01M87.87 70.25h.01M82.72 79.05h.01M91.39 74.44h.01M91.92 72.05h.01M57.13 57.05h.01M73.56 77.83h.01M82.61 75.73h.01M75.3 73.42h.01M63.92 41.87h.01M59.61 54.39h.01M68.2 71.34h.01M88.94 58.01h.01M90.54 68.65h.01M75.44 47.62h.01M87.4 74.42h.01M59.54 77.19h.01M76.45 76.41h.01M81.77 74.53h.01M82.46 73.53h.01M62.16 66.75h.01M86.56 63.06h.01M65.12 78.52h.01M98.66 72.11h.01M85.89 75.7h.01M88.02 68.94h.01M71.39 73.06h.01M91.41 55.78h.01M90.8 59.75h.01M66.77 79.35h.01M105.35 55.81h.01M94.76 40.73h.01M63.89 63.09h.01M92.71 63.57h.01M81.35 66.33h.01M66.95 63.53h.01M70.29 34.07h.01M99.65 62.68h.01M72.88 67.95h.01M81.15 46.92h.01M106.43 66.53h.01M64.24 63.09h.01M87.73 77.57h.01M87.99 77.25h.01M110.76 47.29h.01M116.71 48.06h.01M74.76 78.63h.01M60.4 75.99h.01M60.17 77.37h.01M70.43 62.22h.01M61.26 78.14h.01M69.15 53.73h.01M68.34 77.64h.01M86.93 70.74h.01M69.47 80.48h.01M77.32 57.03h.01M76.56 64.44h.01M76.4 57.37h.01M75.25 79.19h.01M84.55 69.66h.01M64.76 32.54h.01M85 65.44h.01M86.45 67.43h.01M81.13 41.69h.01M113.31 58.31h.01M84.55 53.54h.01M91.55 72.21h.01M89.74 54.38h.01M56.84 63.54h.01M87.94 55.49h.01M77.61 77.15h.01M101.54 71.25h.01M56.04 73.56h.01M82.62 75.28h.01M103.81 62.02h.01M96.78 58.04h.01M106.33 58.63h.01M73.91 78.11h.01M96.73 75.31h.01M97.89 64.17h.01M56.7 67.35h.01M74.24 67.39h.01M96.56 74.87h.01M63.09 66.44h.01M106.86 63.16h.01M80.23 59.11h.01M79.12 68.79h.01M78.43 61.77h.01M98.83 67.06h.01M73.08 64.62h.01M95.77 62.48h.01M85.83 64.33h.01M96.23 66.08h.01M85.79 72.68h.01M103.4 59.61h.01M113.58 52.55h.01M83.83 53.35h.01M65.08 72.35h.01M56.27 65.02h.01M88.62 69.17h.01M90.81 55.18h.01M86.32 78.73h.01M81.49 58.7h.01M62.34 68.73h.01M81 79.52h.01M79.29 65.44h.01M56.28 60.32h.01M67.11 72.44h.01M80.22 54.51h.01M79.79 65.75h.01M56.51 65.99h.01M70.12 62.06h.01M83.89 58.54h.01M83.42 76.65h.01M55.71 73.59h.01M70.25 68.99h.01M105.08 52.97h.01M92.48 72.12h.01M57.29 63.09h.01M77.77 77.93h.01M67.04 69.21h.01M89.02 58.82h.01M68.09 58.88h.01M61.43 65.22h.01M75.34 68.17h.01M60.84 66.93h.01M61.33 63.1h.01M60.32 60.34h.01M61.58 77.89h.01M58.76 60.63h.01M93.35 59.48h.01M57.8 57.57h.01M73.08 69.74h.01M78.08 66.68h.01M92.7 61.45h.01M83.47 70.38h.01M81.26 60.25h.01M106.03 45.07h.01M76.03 77.26h.01M104.78 55.08h.01M67.84 75.93h.01M91.21 70.31h.01M95.65 75.72h.01M106.92 57.21h.01M79.49 48.61h.01M75.18 48.68h.01M88.19 78.5h.01M76.13 71.13h.01M104.19 36.15h.01M55.82 66.24h.01M91.06 74.09h.01M62.64 62.1h.01M80.49 70.17h.01M70.93 57.26h.01M58.29 60.96h.01M67.06 58.57h.01M80.1 61.36h.01M72.92 76.31h.01M78.88 68.75h.01M67.08 54.22h.01M85.49 60.64h.01M88.31 58.3h.01M79.36 68.91h.01M68.9 56.86h.01M100.11 67.61h.01M63.07 71.34h.01M83.86 72.18h.01M106.98 65.82h.01M59.04 56.16h.01" stroke="#00BA38" stroke-width="0.9" stroke-linecap="square" fill="none"/>
<path d="M75.77 88.04h.01M112.34 89.71h.01M68.5 99.61h.01M105.24 84.41h.01M93.37 79.83h.01M76.86 130.25h.01M85.09 85.55h.01M75.46 83.94h.01M81.24 82.09h.01M104.43 85.93h.01M92.83 84.05h.01M103.39 126.75h.01M71 125.99h.01M74.79 82.89h.01M87 79.52h.01M95.37 96.68h.01M98.85 96.54h.01M88.94 90.96h.01M82.94 83.2h.01M68.48 119.17h.01M86.32 81.05h.01M89.36 86.39h.01M77.76 81.58h.01M63.94 91.17h.01M100.86 79.32h.01M83.83 83.47h.01M83.45 86.72h.01M75.3 101.08h.01M64.96 110.64h.01M100.15 132.33h.01M88.93 85.4h.01M89.44 81.58h.01M80.82 82.09h.01M101.22 83.69h.01M70.27 115.01h.01M64.45 85.44h.01M75.82 81.02h.01M91.39 98.37h.01M88.38 82.47h.01M92.29 82.28h.01M106.16 80.01h.01M72.7 110.18h.01M88.93 87.91h.01M64.73 85.85h.01M76.29 87.19h.01M105.28 92.84h.01M78.67 86.04h.01M98.7 80.8h.01M95.56 93.25h.01M72.28 81.58h.01M84.85 83.03h.01M108.09 85.88h.01M114.82 88.91h.01M88.59 87.59h.01M79.91 134.44h.01M112.76 86.86h.01M78.22 84.81h.01M104.09 79.32h.01M84.04 82.25h.01M83.86 81.77h.01M100.23 79.57h.01M100.25 115.25h.01M97.6 81.89h.01M71.96 98.88h.01M96.94 87h.01M78.9 87.09h.01M100.57 78.02h.01M86 80.78h.01M77.56 87.53h.01M104.1 117.32h.01M109.04 82.01h.01M74.19 86.65h.01M90.52 137.66h.01M68.74 86.21h.01M113.86 86.15h.01M110.28 89.34h.01M106.33 84.38h.01M83.35 83.66h.01M85.12 83.2h.01M91.01 81.26h.01M71.92 121.89h.01M81.54 80.84h.01M73.53 90.47h.01M88.12 88.55h.01M87.83 92.04h.01M67.65 89.38h.01M92.26 84.42h.01M97.63 107.4h.01M76.19 88.27h.01" stroke="#00BA38" stroke-width="0.9" stroke-linecap="square" fill="none"/>
<path d="M89.32 78.39h.01M60.94 77.37h.01M86.9 72.88h.01M73.79 73.64h.01M60.56 75.65h.01M96.14 71.57h.01M78.14 75.55h.01M55.46 73.07h.01M65.51 80.43h.01M92.95 74.21h.01M59.78 73.88h.01M86.82 74.66h.01M90.37 74.29h.01M79.2 72.78h.01M83.22 75.44h.01M91.11 78.03h.01" stroke="#F8766D" stroke-width="0.9" stroke-linecap="square" fill="none"/>
<path d="M111.69 56.12h.01M132.1 90.44h.01M129.34 106.6h.01M125.73 96.41h.01M121.05 57.25h.01M133.63 116.85h.01M127.52 65.92h.01M111.84 55.49h.01M138.12 104.81h.01M119.96 82.43h.01M147.64 109.65h.01M135.7 97.34h.01M113.23 106.65h.01M133.93 111.62h.01M137.55 101.89h.01M130.02 73.77h.01M115.93 124.2h.01M117.27 122.13h.01M121.41 98.89h.01M113.95 51.47h.01M114.59 123.68h.01M113.02 122.04h.01M116.51 47.8h.01M117.45 84.69h.01M143.48 98.48h.01M112.69 120.42h.01M119.84 60.92h.01M116.56 109.2h.01M110.41 84.85h.01M141.85 98.39h.01M115.67 124.24h.01M127.32 82.39h.01M120.94 111.4h.01M121.04 65.79h.01M125.14 99.1h.01M132.45 114.21h.01M129.14 106.94h.01M120.15 82.9h.01M115.93 48.18h.01M113.62 105.56h.01M116.84 46.71h.01M124.28 52.92h.01M116.67 85.61h.01M143.91 116.76h.01M135.22 98.51h.01M116.47 77.64h.01M129.35 115.33h.01M121.11 99.5h.01M125.23 109.48h.01M147.22 118.31h.01M132.17 95.21h.01M121.93 107.5h.01M135.69 85.1h.01M112.21 57.45h.01M120.17 48.14h.01M122.21 49.42h.01M114.67 92.12h.01M122.76 77.34h.01M111.49 66.76h.01M110.53 85.06h.01M122.16 107.25h.01M119.13 54.64h.01M119.74 116.38h.01M126.08 75.48h.01M116.86 107.9h.01M137.9 97.53h.01M112.41 116.54h.01M112.25 58.75h.01M130.73 85.62h.01M114.98 74.72h.01M116.72 46.22h.01M135.34 78.92h.01M118.16 56.09h.01M119.93 70.21h.01M130.94 80.05h.01M115.21 121.17h.01M123.88 97.31h.01M123.74 67.94h.01M114.3 63.98h.01M110.42 84.08h.01M128.6 112.63h.01M148.3 115.95h.01M126.33 87.3h.01M115.84 121.68h.01M126.98 55.27h.01M124.78 83.77h.01M139.73 108.03h.01M128.39 93.13h.01M125.03 112.27h.01M124.79 95.78h.01M123.58 82.33h.01M120.15 113.91h.01M135.61 85.69h.01M119.08 93.13h.01M123.93 71.66h.01M113.91 103.06h.01M111.77 67.23h.01M115.73 95.73h.01M134.4 113.89h.01M119.54 54.73h.01M123.25 64.1h.01M144.6 101.2h.01M129.23 110.49h.01M114.32 40.96h.01M110.71 61.44h.01M115.19 90.99h.01M118.18 113.11h.01M128.36 78.32h.01M116.73 120.8h.01M121.07 70.25h.01M126.48 82.74h.01M133.15 87.91h.01M127.11 95.92h.01" stroke="#F8766D" stroke-width="0.9" stroke-linecap="square" fill="none"/>
<path d="M112.56 44.54h.01M125.11 53.28h.01M80.19 70.73h.01M114.89 63.27h.01M78.44 70.22h.01M139.48 100.4h.01M120.85 76.04h.01M115.75 73.52h.01M112.97 68.77h.01M117.15 86.46h.01M121.55 92.89h.01M120.63 62.15h.01M130.83 87.92h.01M119.25 104.48h.01M132.9 81.59h.01M116.04 82.8h.01M123.59 104.09h.01M109.33 71.83h.01M124.64 98.61h.01M113.29 50.06h.01M104.08 50.95h.01M117.6 122.55h.01M126.88 85.39h.01M116.29 85.42h.01M124.81 76.1h.01M138.9 113.9h.01M125.27 58.93h.01M68.58 79.25h.01M110.12 68.86h.01M120.74 57.83h.01M126.64 63.3h.01M59.58 73.69h.01M116.33 75.01h.01M68.04 81.95h.01M75.92 80.7h.01M79.92 70.68h.01M114.96 91.04h.01M102.13 46.57h.01M145.94 115.98h.01M121.95 77.95h.01M110.07 58h.01M110.36 38.21h.01M130.82 79.41h.01M135.82 86.22h.01M79.85 70.24h.01M124.62 68.45h.01M126.83 113.8h.01M90.47 70.59h.01M131.61 114.75h.01M93.36 72.24h.01M128.86 75.58h.01M102.12 79h.01M129.4 73.3h.01M102.47 77.91h.01M134.57 116.55h.01M124.89 116.34h.01M121.29 91.47h.01M84.96 80.06h.01M126.84 97.08h.01M130.55 60.02h.01M101.36 68.69h.01M117.47 114.95h.01M118.29 61.96h.01M74.05 70.4h.01M72.87 79.6h.01M113.94 117.38h.01M127.16 57.93h.01M128.76 106.39h.01M126.37 66.78h.01M107.16 62.3h.01M61.09 86.76h.01M137.44 90.28h.01M108.47 84.11h.01M89.97 76.25h.01M56.14 87.12h.01M117.17 116.21h.01M141.37 110.96h.01M125.83 53.2h.01M93.64 64.23h.01M122.81 97.56h.01M128.42 96.19h.01M137.97 93.13h.01M118.03 92.02h.01M117.75 56.97h.01M109.71 62.38h.01M105.24 80.7h.01M147.82 106.99h.01M129.22 58.24h.01M114.88 77.9h.01M57.41 87.39h.01M144.05 113.29h.01M123.72 108.73h.01M115.87 62.18h.01M134.83 109.79h.01M140.56 120.63h.01M57.14 81.02h.01M135.07 112.83h.01M122.32 96.57h.01M130.27 62.4h.01M82.37 68.62h.01M59.47 85.74h.01M124.06 70.32h.01M63.21 80.71h.01M103.54 46.52h.01M129.7 87.5h.01M123.44 84.81h.01M111.98 121.05h.01M115.76 109.11h.01M123.86 109.05h.01M82.02 73.09h.01M141 106.82h.01M111.86 52.63h.01M114.9 123.64h.01M105.24 41.59h.01M83.34 79.46h.01M96.4 77.78h.01M89.92 70.59h.01M103.18 78.58h.01M101.17 53.16h.01M101.55 64.37h.01M110.57 50.51h.01M113.44 43.56h.01M90.22 72.5h.01M103.44 49.96h.01M109.94 86.3h.01M125.68 106.17h.01M122.26 116.47h.01M125.24 97.11h.01M111.34 80.75h.01M127.1 107.73h.01M65.8 73.24h.01M109.29 52.44h.01M57.97 82.78h.01M141.95 100.59h.01M128.09 85.66h.01M105.03 67.19h.01M119.19 64.82h.01M126.46 64.77h.01M98.82 68.01h.01M137.75 89.71h.01M92.8 64.01h.01M131.44 64.62h.01M100 53.1h.01M128.13 115.19h.01M123.65 112.05h.01M58.99 84.27h.01M112.85 47.92h.01M78.07 78.85h.01M121.57 86.34h.01M116.36 113.3h.01M113.16 113.94h.01M134.92 100.82h.01M128.13 112.76h.01M142.03 119.36h.01M127.08 105.37h.01M122.78 99.86h.01M97.07 64.53h.01M121.53 63.71h.01M111.87 74.29h.01M108.24 70.03h.01M125.18 75.01h.01M57.2 74.42h.01M85.49 77.33h.01M130.37 92.24h.01M58.67 88.43h.01M93.54 61.52h.01M140.68 105.01h.01M130.71 82.96h.01M103.61 44.67h.01M144.22 97.07h.01M102.84 71.37h.01M127.84 84.02h.01M111.19 74.6h.01M86.66 73.27h.01M109.6 57.94h.01M150.61 113.85h.01M93.83 68.52h.01M144.83 105.41h.01M119.54 71.92h.01M140.63 98.43h.01M150.27 106.61h.01M120.8 76.21h.01M122.28 50.78h.01M140.61 100.34h.01M134.07 109.66h.01M120.66 86.94h.01M118 63.74h.01M102.91 64.49h.01M100.34 56.25h.01M129.68 59.29h.01M134.86 96.77h.01M108.33 57.22h.01M106.33 50.68h.01M64.28 72.2h.01M121.46 83.26h.01M109.4 75.65h.01M102.26 81.22h.01M111.2 51.4h.01M146.03 114.8h.01M111.38 60.56h.01M123.19 120.29h.01M95.64 60.8h.01M118.59 54.82h.01M121.67 53.58h.01M93.1 63.4h.01M117.36 49.45h.01M125.38 57.44h.01M72.62 80.06h.01M121.96 62h.01M68.63 70.51h.01M102.63 69.51h.01M143.77 108.58h.01M116.56 71.92h.01M118.06 51.15h.01M119.74 101.39h.01M131.6 110.16h.01M98.94 77.23h.01M111.49 56.16h.01M63.85 79.95h.01M134.38 101.54h.01M117.48 85.01h.01M149.29 116.65h.01M118.43 74.95h.01M82.65 78.03h.01M74.41 73.71h.01M112.08 80.97h.01M129.47 79.24h.01M105.39 71.52h.01M110.81 77.84h.01M127.89 100.37h.01M88.73 64.16h.01M126.44 91.72h.01M104.89 83.02h.01M134.21 90.89h.01M117 92.33h.01M111.18 46.49h.01M123.28 93.69h.01M122.99 119.01h.01M128.69 85.14h.01M135.52 113.56h.01M117.05 121.61h.01M116.5 77.39h.01M115.64 46.35h.01" stroke="#ffffff" stroke-width="0.75" stroke-linecap="square" fill="none"/>
<path d="M88.07 31.08h.01M63.17 71.83h.01M86.48 65.08h.01M91.96 73.41h.01M114.47 54.71h.01M62.35 41.43h.01M112.33 41.39h.01M93.2 76.83h.01M75.93 55.86h.01M86.3 44.05h.01M84.8 38.71h.01M74.24 71.68h.01M109.55 60.47h.01M109.72 50.64h.01M70.26 62.8h.01M93.32 39.57h.01M69.79 76.64h.01M57.98 66.26h.01M63.25 46.46h.01M56.62 50.26h.01M84.66 50.06h.01M76.68 57.56h.01M87.43 65.46h.01M65.18 47.21h.01M98.07 46.06h.01M102.79 34.87h.01M66.84 75.69h.01M104.25 42.51h.01M75.43 61.85h.01M85.03 39.07h.01M63.22 49.77h.01M81.8 71.79h.01M68.99 31.43h.01M100.56 50.26h.01M102.06 63.62h.01M90.69 37.66h.01M83.71 47.66h.01M74.8 66.76h.01M62.61 67.82h.01M61.96 68.88h.01M77.27 67.47h.01M99.7 70.76h.01M67.29 38.69h.01M89.36 30.08h.01M106.52 66.58h.01M86.47 35.73h.01M74.21 57.5h.01M77.22 50.73h.01M64.88 36.76h.01M103.13 38.23h.01M75.05 67.09h.01M90 64.18h.01M65.45 52.91h.01M114.48 46.38h.01M84.63 62.85h.01M66.91 42.13h.01M57.94 56.82h.01M89.74 60.09h.01M62.76 69.1h.01M101.33 33.12h.01M86.81 31.22h.01M56.56 56.84h.01M75.36 75.63h.01M100.32 34.58h.01M73.95 68.97h.01M86.29 75.37h.01M98.73 33.27h.01M94.46 71.5h.01M58.17 68.46h.01M66.12 37h.01M80.04 44.13h.01M112.74 49.78h.01M102.57 49.15h.01M56.52 58.32h.01M96.1 36.37h.01M88.89 54.65h.01M82.95 74.81h.01M85.42 43.48h.01M86.4 72.8h.01M101.05 54.75h.01M74.81 78.09h.01M82.86 37.63h.01M100.37 64.22h.01M77.28 33.66h.01M72.27 69.63h.01M112.78 59.96h.01M91.43 68.61h.01M107.89 60.16h.01M82.92 76.71h.01M69.42 36.82h.01M87.88 39.49h.01M111.87 43.78h.01M62.06 65.97h.01M83.25 32.81h.01M74 59.01h.01M79.13 31.01h.01M89.95 69.84h.01M67.37 65.63h.01M71.68 39.42h.01M76.55 77.81h.01M83.28 62.3h.01M65.07 43.17h.01M106.44 61.41h.01M82.48 48.53h.01M75.2 30.58h.01M60.32 66.1h.01M92.5 77.3h.01M95.25 57.89h.01M64.7 41.33h.01M99.14 60.95h.01M57.18 67.86h.01M101.22 54.35h.01M78.57 51.29h.01M77.47 72.21h.01M61.63 57.99h.01M92.5 62.97h.01M87.95 50.6h.01M80.26 53h.01M61.9 67.02h.01M64.44 47.36h.01M91.89 61.82h.01M113.33 55.24h.01M63.64 45.05h.01M101.49 34.74h.01M115.9 47.4h.01M63.95 76.43h.01M98.23 42.93h.01M69.78 47.44h.01M59.49 54.17h.01M67.25 36.87h.01M58.36 75.21h.01M81.52 35.31h.01M105.53 55h.01M65.31 37.14h.01M68.74 71.64h.01M117.31 52.62h.01M59.59 54.01h.01M64.25 55.84h.01M61.95 59.67h.01M70.29 32.47h.01M82.33 33.23h.01M72.54 74.43h.01M68.14 46.67h.01M59.02 43.82h.01M73.55 40.13h.01M75.01 65.42h.01M63.24 66.2h.01M60.2 69.62h.01M71.03 39.83h.01M67.09 55.99h.01M93.07 43.96h.01M93.34 53.84h.01M63.08 39.97h.01M71.24 59.36h.01M63.51 65.42h.01M63.8 75.32h.01M78.95 74.4h.01M96.57 67.43h.01" stroke="#ffffff" stroke-width="0.75" stroke-linecap="square" fill="none"/>
<path d="M81.11 107.43h.01M81.59 96.85h.01M76.81 113.28h.01M84.84 94.59h.01M94.73 129.75h.01M73.27 127.06h.01M79.75 119.01h.01M77.75 98.87h.01M67.99 88.42h.01M100.46 105.31h.01M65.98 99.45h.01M93.79 94.79h.01M95.03 115.87h.01M114.05 110.81h.01M91.53 129.96h.01M68.73 87.6h.01M103.85 90.71h.01M83.51 115.32h.01M80.01 112.89h.01M101.54 109.59h.01M106.43 120.57h.01M71.98 87.53h.01M82.45 115.19h.01M63.64 92.73h.01M104.54 103.26h.01M114.59 101.38h.01M98.35 122.76h.01M103.71 131.63h.01M102.95 130.18h.01M72.1 127.88h.01M90.59 106.53h.01M109.69 109.26h.01M95.38 133.49h.01M88.57 125.97h.01M92.76 80.98h.01M76.87 90.86h.01M74.93 112.27h.01M84.29 120.92h.01M76.08 86h.01M101.4 113.53h.01M94.19 111.29h.01M73.03 92.8h.01M88.99 81.31h.01M83.4 101.65h.01M108.86 103.29h.01M84.97 101.17h.01M91.23 97.8h.01M102.75 108.55h.01M105.08 120.16h.01M65.81 95.02h.01M64.68 113.99h.01M104.44 87.55h.01M73.06 87.89h.01M102.98 120.72h.01M92.54 94.97h.01M100.03 129.87h.01M105.18 97.46h.01M86.09 114.24h.01M92.71 95.14h.01M67.72 112.86h.01M102.76 86.03h.01M83.03 94.65h.01M71.96 89.62h.01M83.97 91.63h.01M112.76 95.74h.01M100.78 120.74h.01M62.96 96.18h.01M81.43 127.89h.01M91.56 121.12h.01M89.43 122.56h.01M84.03 121.8h.01M104.6 91.93h.01M83.13 120.6h.01M75.85 117.72h.01M98.5 92.07h.01M79.43 101.45h.01M101.94 101.33h.01M105.67 104.94h.01M84.31 124.78h.01M84.76 92.38h.01M92.89 82.26h.01M70.4 103.02h.01M85.95 94.38h.01M71.75 98.65h.01M79.62 102.21h.01M104.4 86.04h.01M101.83 78.64h.01M83.17 88.47h.01M77.83 119.96h.01M91.9 78h.01M92.95 91.05h.01M69.51 110.69h.01M96.08 109.69h.01M96.79 136.5h.01M95.87 129.39h.01M74.75 92.73h.01M83.68 133.16h.01M80.91 120.53h.01M63.22 92.44h.01M91.87 85.12h.01M96.23 109.17h.01M65.49 100.84h.01M111.22 83.33h.01M98.19 103.78h.01M89.59 96.11h.01M106.44 119.37h.01M85.35 97.22h.01M99.82 88.43h.01M105.15 82.4h.01M62.31 93.76h.01M82.19 126.1h.01M85.63 87.02h.01M111.97 112.59h.01M105.23 96.69h.01M72.42 100.54h.01M110.47 119.88h.01M74.79 104.94h.01M80.76 95.1h.01M110.93 86.08h.01M87.36 130.3h.01M115.22 109h.01M96.67 108.11h.01M114.57 102.95h.01M69.15 122.25h.01M87.43 111.11h.01M92.57 118.37h.01M93.86 135.73h.01M111.49 119.95h.01M94.06 121.05h.01M89.51 87.33h.01M103.14 79.08h.01M96 97.72h.01M86.65 110.08h.01M103.85 90.35h.01M73.54 87.91h.01M79.88 108.39h.01M89.27 85.83h.01M76.01 122.88h.01M93.72 125.89h.01M94.95 113.96h.01M77.45 114.78h.01M62.72 100.73h.01M104.98 130.48h.01M75.14 107.12h.01M89.11 80.96h.01M78.48 100.27h.01M101.87 126.56h.01M93.2 100.66h.01M60.95 89.19h.01M108.1 124.19h.01M82.36 93.64h.01M84.85 135.66h.01M89.65 109.43h.01M95.67 80.09h.01M112.51 109.35h.01M97.78 131.51h.01" stroke="#ffffff" stroke-width="0.75" stroke-linecap="square" fill="none"/>
<path d="M40.75 105.45h.01M44.13 113.78h.01M38.08 103.41h.01M46.33 110.64h.01M47.68 115.67h.01M42.63 123.04h.01M39.81 105.93h.01M38.54 119.55h.01M40.68 107.73h.01M48.92 123.9h.01M51.5 121.86h.01M45.03 116.98h.01M43.56 123.36h.01M36.14 117.23h.01M43.76 122.11h.01M47.53 123.14h.01M38.55 111.03h.01M38.28 102.08h.01M45.26 107.46h.01M46.06 117.45h.01M41.45 103.26h.01M52.13 123.94h.01M50.43 121.61h.01M45.98 119.66h.01M47.38 122.82h.01M50.56 113.91h.01M36.7 113.24h.01M44.55 113.9h.01M47.78 121.29h.01M40.01 110.59h.01M43.53 114.62h.01M43.66 108.61h.01M44.64 118.69h.01M41.59 116.15h.01M41.32 117.67h.01" stroke="#ffffff" stroke-width="0.75" stroke-linecap="square" fill="none"/>
<path d="M121.14 109.95h.01M136.21 98.03h.01M123.4 115.86h.01M121.62 88.74h.01M136.5 93h.01M122.9 114.44h.01M139.08 105.13h.01M131.76 105.33h.01M118.14 103.93h.01M118.48 106.39h.01M133.4 107.45h.01M135.64 116.89h.01M127.12 110.26h.01M131.33 115.49h.01M120.72 85.95h.01M137.03 101.95h.01M139.1 87h.01M139.74 107.56h.01M117.91 96.53h.01M122.4 96.98h.01M117.33 72.08h.01M133.97 102.51h.01M131.72 97.21h.01M132.45 110.72h.01M127.44 62.35h.01M123.54 119.28h.01M127.32 103.07h.01M144.7 104.39h.01M119.32 98.66h.01M132.37 92.73h.01M137.03 82.77h.01M127.78 56.82h.01M133.65 99.58h.01M133.51 85h.01M122.41 116.34h.01M126.29 106.46h.01M141.08 102.19h.01M147.84 113.3h.01M116.06 62.01h.01M133.69 103.06h.01M124 103.12h.01M114.5 81.55h.01M140.14 112.72h.01M121.97 92.98h.01M131.73 107.59h.01M133.24 97.9h.01M143.78 111.05h.01M117.66 112.95h.01M140.43 114.8h.01M117.63 65.43h.01M119.42 59.93h.01M129.08 110.5h.01M130.11 84.65h.01M129.38 106.03h.01M141.84 107.06h.01M148.56 118.59h.01M119.02 102.06h.01M147.88 111.32h.01M130.26 102.71h.01M143.3 106.43h.01M121.66 64.33h.01M123.05 106.56h.01M145.91 118.51h.01M121.14 91.96h.01M131.09 74.13h.01M116.38 103.87h.01M114.34 61.87h.01M130.6 66.44h.01M146.7 111.62h.01M131.34 81.4h.01M132.43 71.32h.01M148.39 106.63h.01M120.4 104.95h.01M138.42 92.12h.01M125.55 117.15h.01M146.52 107.44h.01M141.6 95.08h.01M124.98 86.87h.01M114.72 83.14h.01M127.1 112.5h.01M132.5 95.35h.01M123.21 76h.01M128.52 77.36h.01M144.19 101.95h.01M148.09 111.64h.01M115.84 50.63h.01M135.83 92.82h.01M151.29 110.35h.01M141.94 98.72h.01M117.07 87.71h.01M138.82 103.93h.01M121.74 114.56h.01M115.58 122.71h.01M139.85 90.36h.01M116.89 101.19h.01M144.48 120.21h.01M125.19 77.95h.01M131.29 92.11h.01M123.44 103.92h.01M137.68 105.61h.01M124.99 94.46h.01M124.67 108.2h.01M126.26 67.46h.01M151.15 112.91h.01M145.48 118.05h.01M140.75 89.11h.01M125.08 73.83h.01M127.81 63.9h.01M119.55 98.5h.01M129.85 109.16h.01M117.6 115.7h.01M139.91 119.52h.01M123.63 118.99h.01M121.66 120.65h.01M136.02 80.69h.01M136.8 100.77h.01M118.59 90.14h.01M114.82 80.93h.01M139.11 106.69h.01M145.52 111.28h.01M117.88 100.54h.01M133.78 106.51h.01M121.08 53.13h.01M120.23 96.95h.01M148.96 114.34h.01M140.81 92.4h.01M147.7 117.2h.01M131.21 93.22h.01M124.56 75.56h.01M129.2 87.79h.01M134.89 113.24h.01M115.76 77.21h.01M130.36 86.86h.01M115.21 119.32h.01M118.04 109.57h.01M145.11 114.7h.01M147.71 117.88h.01M127.88 108.62h.01M131.32 95.48h.01M134.12 109.31h.01M126.06 108.84h.01M129.3 69.43h.01M128.99 106.2h.01M114.12 116.84h.01M130.68 69.85h.01M144.23 104.66h.01M134.09 93.36h.01M143.08 98.32h.01M134.88 104.82h.01M140 93.76h.01M133.64 89.41h.01M128.17 69.23h.01M126.37 92.76h.01M132.94 96.5h.01M137.02 92.89h.01M116.19 77.46h.01M128.94 102.84h.01M134.89 105.32h.01M132.76 77.22h.01M120.75 50.85h.01M130.71 108.52h.01M145.81 107.35h.01M150.08 112.96h.01M127.01 68.73h.01M149.08 108.94h.01M140.11 115.65h.01M138.09 116.95h.01M140.16 114.42h.01M120.86 114.35h.01M134.67 103.3h.01M141.93 101.4h.01M119.58 110.51h.01M117.63 95.54h.01M114.57 102.14h.01M124.66 85.32h.01M129.43 67.53h.01M146.14 104.85h.01M144.58 112.96h.01M132.46 84.32h.01M148.14 118.52h.01M136.58 89.45h.01M121.41 107.87h.01M129.38 108h.01M122.3 107.82h.01M120.31 63.62h.01M125.54 91.95h.01M130.21 80.67h.01M147.86 106.31h.01M126.64 86.23h.01M114.71 107.31h.01M147.18 118.89h.01M148.83 118.11h.01M130.95 112h.01M127.86 100.32h.01M145.08 118.93h.01M137.2 100.83h.01M115.26 104.8h.01M124.48 84.52h.01M122.41 88.2h.01M128.31 112.42h.01M147.13 117.13h.01M121.97 82.95h.01M144.69 98.66h.01M119.07 101.8h.01M123.65 112.33h.01M123 63.55h.01M126.1 95.26h.01M119.5 111.07h.01M114.41 68.38h.01M133.49 77.7h.01M134.53 114.48h.01M129.61 82.75h.01M135.25 101.5h.01M119.76 89.55h.01M134.22 87.38h.01M129.84 81.87h.01M123.78 107.26h.01M135.61 79h.01M131.41 85.66h.01M127.94 103.74h.01M144.77 119.8h.01M124.34 91.51h.01M134.22 88.48h.01M127.97 98.84h.01M141.23 97.28h.01M130.19 90.71h.01M148.36 117.61h.01M135.31 81.6h.01M114.2 99.91h.01M130.77 105.75h.01M135.53 84.47h.01M127.8 105.22h.01M142.14 107.33h.01M136.43 85.07h.01M116.96 121.45h.01M137.37 95.24h.01M126.33 111h.01M142.42 100.65h.01M145 117.41h.01M129.18 111.27h.01M122.07 106.88h.01M146.63 114.62h.01M127.6 102.66h.01M151.86 109.96h.01M120.43 106.78h.01M120.12 103.99h.01M122.51 91.78h.01M144.22 113.51h.01M118.82 105.49h.01M119.21 79.73h.01M140.17 113.61h.01M119.13 108.97h.01M134.92 114.38h.01M122.27 105.26h.01M127.09 101.22h.01M128.34 109.65h.01M135.11 114.05h.01M132.17 113.66h.01M129.7 113.15h.01M124.91 115.03h.01M124.1 119.09h.01M118.52 51.25h.01M125.82 102.8h.01M140.13 92.06h.01M142.99 114.83h.01M133.71 106.45h.01" stroke="#ffffff" stroke-width="0.8" stroke-linecap="square" fill="none"/>
<path d="M50.15 120.32h.01M58.33 122.63h.01M59.73 112.79h.01M66.27 121.86h.01M53.68 117.95h.01M50.77 111.43h.01M60.88 117.43h.01M63.55 120.58h.01M57.14 125.5h.01M62.25 128.59h.01M62.97 118.06h.01M48.17 111.03h.01M54.54 117.81h.01M49.73 117.5h.01M65.56 121.99h.01M54.02 113.9h.01M58.14 118.93h.01M59.29 128.18h.01M61.9 130.9h.01M64.19 131.47h.01M57.28 126.05h.01M53.53 118.88h.01M66.24 123.79h.01M54.43 111.96h.01M62.86 129.08h.01M62.93 127.05h.01M60.62 126.71h.01M61.38 116.18h.01M62.63 125.2h.01M65.97 124.29h.01M60.3 127.55h.01M66.17 121.4h.01M65.81 120.5h.01M61.67 126.07h.01M62.83 122.78h.01M60.1 125.85h.01M51.04 119.7h.01M56.96 114.98h.01M50.54 116.98h.01M51.67 110.78h.01M55.23 123.46h.01M48.01 118.92h.01M55.1 110.79h.01M60.2 118.13h.01M66.39 123.39h.01M59.69 113.1h.01M64.93 118.27h.01M65.36 123.11h.01M66.64 120.92h.01M57.34 116.3h.01M62.86 115.4h.01M53.57 123.38h.01M60.25 123.28h.01M53.71 121.74h.01M53.64 121.66h.01M64.87 122h.01M62.79 119.41h.01M61.46 123.91h.01M65.32 118.48h.01M50 101h.01M47 100.5h.01M53 99h.01M55.5 103h.01" stroke="#00BFC4" stroke-width="0.9" stroke-linecap="square" fill="none"/>
<path d="M47.5 41.8h.01M49 41.3h.01M51 40.8h.01M46.5 43.5h.01M45.8 45h.01" stroke="#619CFF" stroke-width="0.9" stroke-linecap="square" fill="none"/>
<path d="M38.5 51.5h.01M40.5 52.5h.01M42 51h.01M39 53.8h.01M43 54.5h.01M37 49.5h.01" stroke="#F8766D" stroke-width="0.9" stroke-linecap="square" fill="none"/>
<path d="M50.5 40.5h.01M53 39h.01M55.5 38.2h.01M48.5 75h.01M49.5 77.5h.01M50.5 73h.01M51 79.5h.01" stroke="#B79F00" stroke-width="0.9" stroke-linecap="square" fill="none"/>
<path d="M55.78 117.92h.01M54.4 118.07h.01M58.17 108.39h.01M55.72 116.74h.01M59.46 101.42h.01M56.87 111.18h.01M56.99 105.94h.01M54.92 112.06h.01M58.87 99.64h.01M55.38 117.67h.01M58.75 113.93h.01M54.15 115.34h.01M59.87 121.96h.01M58.21 99.17h.01M59.05 103.26h.01M57.87 120.85h.01M58.27 101.23h.01M55.75 120.03h.01M54.9 112.65h.01M56.48 101.87h.01M57.73 99.05h.01M54.65 107.1h.01M54.43 99.38h.01M57.45 115.82h.01M59.27 101.22h.01" stroke="#F8766D" stroke-width="0.9" stroke-linecap="square" fill="none"/>
<text x="37.2" y="36.77" textLength="9" lengthAdjust="spacingAndGlyphs" font-size="7.35">C4</text>
<text x="68.5" y="57.15" textLength="33.2" lengthAdjust="spacingAndGlyphs" font-size="7.56">Naive (C1)</text>
<text x="139.4" y="72.19" font-size="7.2">T<tspan font-size="4.46" dy="1.7">reg</tspan><tspan dy="-1.7"> (C2)</tspan></text>
<text x="78.6" y="112.29" font-size="7.2">ISG<tspan font-size="4.46" dy="-2.7">lo</tspan></text>
<text x="74.5" y="120.09" font-size="7.2">T<tspan font-size="4.46" dy="1.7">EM</tspan><tspan dy="-1.7"> (C0)</tspan></text>
<text x="34.7" y="126.39" font-size="7.2">ISG<tspan font-size="4.46" dy="-2.7">hi</tspan></text>
<text x="31.4" y="135.89" font-size="7.2">T<tspan font-size="4.46" dy="1.7">EM</tspan><tspan dy="-1.7"> (C3)</tspan></text>
<text x="0.6" y="8.88" fill="#000" style="stroke:#000" font-weight="bold" font-size="11.5">a</text>
<text x="28.6" y="18.25" textLength="62.4" lengthAdjust="spacingAndGlyphs" font-size="7.56">UMAP: CD4 T cells</text>
<line x1="24.6" y1="21.5" x2="24.6" y2="144.4" stroke="#333" stroke-width="0.8"/>
<line x1="24.2" y1="144.1" x2="177" y2="144.1" stroke="#333" stroke-width="0.8"/>
<line x1="22" y1="53.4" x2="24.6" y2="53.4" stroke="#333" stroke-width="0.8"/>
<text x="18.1" y="56.06" text-anchor="end" fill="#333" style="stroke:#333" font-size="7.6">3</text>
<line x1="22" y1="85.3" x2="24.6" y2="85.3" stroke="#333" stroke-width="0.8"/>
<text x="18.1" y="87.96" text-anchor="end" fill="#333" style="stroke:#333" font-size="7.6">0</text>
<line x1="22" y1="117.1" x2="24.6" y2="117.1" stroke="#333" stroke-width="0.8"/>
<text x="18.1" y="119.76" text-anchor="end" fill="#333" style="stroke:#333" font-size="7.6">−3</text>
<line x1="52.6" y1="144.1" x2="52.6" y2="147.4" stroke="#333" stroke-width="0.8"/>
<text x="52.6" y="156.36" text-anchor="middle" fill="#333" style="stroke:#333" font-size="7.6">−4</text>
<line x1="92.5" y1="144.1" x2="92.5" y2="147.4" stroke="#333" stroke-width="0.8"/>
<text x="92.5" y="156.36" text-anchor="middle" fill="#333" style="stroke:#333" font-size="7.6">0</text>
<line x1="132" y1="144.1" x2="132" y2="147.4" stroke="#333" stroke-width="0.8"/>
<text x="132" y="156.36" text-anchor="middle" fill="#333" style="stroke:#333" font-size="7.6">4</text>
<line x1="171.5" y1="144.1" x2="171.5" y2="147.4" stroke="#333" stroke-width="0.8"/>
<text x="171.5" y="156.36" text-anchor="middle" fill="#333" style="stroke:#333" font-size="7.6">8</text>
<text x="100.75" y="168.02" text-anchor="middle" fill="#b3303a" style="stroke:#b3303a" textLength="25.7" lengthAdjust="spacingAndGlyphs" font-size="7.77">UMAP_1</text>
<text transform="translate(6.42 83.2) rotate(-90)" text-anchor="middle" fill="#b3303a" style="stroke:#b3303a" textLength="26.6" lengthAdjust="spacingAndGlyphs" font-size="7.77">UMAP_2</text>
<text x="177.7" y="56.09" textLength="24.1" lengthAdjust="spacingAndGlyphs" font-size="7.98">Cluster</text>
<circle cx="186.7" cy="62.4" r="2.5" fill="#F8766D"/>
<text x="192.6" y="64.99" fill="#333" style="stroke:#333" font-size="7.4">0</text>
<circle cx="186.7" cy="71.56" r="2.5" fill="#B79F00"/>
<text x="192.6" y="74.15" fill="#333" style="stroke:#333" font-size="7.4">1</text>
<circle cx="186.7" cy="80.72" r="2.5" fill="#00BA38"/>
<text x="192.6" y="83.31" fill="#333" style="stroke:#333" font-size="7.4">2</text>
<circle cx="186.7" cy="89.88" r="2.5" fill="#00BFC4"/>
<text x="192.6" y="92.47" fill="#333" style="stroke:#333" font-size="7.4">3</text>
<circle cx="186.7" cy="99.04" r="2.5" fill="#619CFF"/>
<text x="192.6" y="101.63" fill="#333" style="stroke:#333" font-size="7.4">4</text>
<circle cx="186.7" cy="108.2" r="2.5" fill="#F564E3"/>
<text x="192.6" y="110.79" fill="#333" style="stroke:#333" font-size="7.4">5</text>
<text x="223.6" y="8.88" fill="#000" style="stroke:#000" font-weight="bold" font-size="11.5">b</text>
<circle cx="238.3" cy="18.2" r="1.9" fill="#f4a590"/>
<circle cx="253.7" cy="18.2" r="2.2" fill="#f18f77"/>
<circle cx="269.3" cy="18.2" r="1.9" fill="#f8c0b0"/>
<circle cx="284.9" cy="18.2" r="2.1" fill="#ef8e74"/>
<circle cx="300.4" cy="18.2" r="2" fill="#f3a28c"/>
<circle cx="238.3" cy="33.9" r="1.6" fill="#f29a83"/>
<circle cx="253.7" cy="33.9" r="1.6" fill="#f0907a"/>
<circle cx="269.3" cy="33.9" r="1.1" fill="#f9c8ba"/>
<circle cx="284.9" cy="33.9" r="1.7" fill="#ec6a4f"/>
<circle cx="300.4" cy="33.9" r="1" fill="#fbdbd1"/>
<circle cx="238.3" cy="49.3" r="3" fill="#f29c85"/>
<circle cx="253.7" cy="49.3" r="3.2" fill="#f19880"/>
<circle cx="269.3" cy="49.3" r="2.8" fill="#fbd6cb"/>
<circle cx="284.9" cy="49.3" r="3.2" fill="#ef8a6f"/>
<circle cx="300.4" cy="49.3" r="3" fill="#f7b8a6"/>
<circle cx="238.3" cy="65" r="2.5" fill="#f3a28c"/>
<circle cx="253.7" cy="65" r="2.6" fill="#fad1c5"/>
<circle cx="269.3" cy="65" r="2.4" fill="#fde6df"/>
<circle cx="284.9" cy="65" r="2.9" fill="#e9573c"/>
<circle cx="300.4" cy="65" r="2.7" fill="#f29a83"/>
<circle cx="238.3" cy="80.5" r="3.4" fill="#f3a08a"/>
<circle cx="253.7" cy="80.5" r="3.4" fill="#f08b72"/>
<circle cx="269.3" cy="80.5" r="3.3" fill="#fbd9cf"/>
<circle cx="284.9" cy="80.5" r="3.4" fill="#ee8467"/>
<circle cx="300.4" cy="80.5" r="3.3" fill="#f8bfae"/>
<circle cx="238.3" cy="96" r="0.3" fill="#fff3f0"/>
<circle cx="253.7" cy="96" r="0.6" fill="#fde8e2"/>
<circle cx="269.3" cy="96" r="1.3" fill="#f4a58f"/>
<circle cx="300.4" cy="96" r="1.8" fill="#ef8063"/>
<circle cx="238.3" cy="111.6" r="1.8" fill="#fde0d6"/>
<circle cx="253.7" cy="111.6" r="2.2" fill="#fbd2c4"/>
<circle cx="269.3" cy="111.6" r="1.5" fill="#fdeae4"/>
<circle cx="284.9" cy="111.6" r="1.6" fill="#fde5de"/>
<circle cx="300.4" cy="111.6" r="3.5" fill="#e8231f"/>
<circle cx="238.3" cy="127.2" r="3.5" fill="#fde0d6"/>
<circle cx="253.7" cy="127.2" r="3.5" fill="#fbcbbb"/>
<circle cx="269.3" cy="127.2" r="3.4" fill="#fde8e2"/>
<circle cx="300.4" cy="127.2" r="3.6" fill="#e8231f"/>
<line x1="310.5" y1="12.8" x2="310.5" y2="136.8" stroke="#444" stroke-width="0.8"/>
<line x1="228.5" y1="136.4" x2="310.9" y2="136.4" stroke="#444" stroke-width="0.8"/>
<line x1="310.5" y1="18.2" x2="312.6" y2="18.2" stroke="#444" stroke-width="0.8"/>
<text x="316.5" y="20.92" textLength="52.4" lengthAdjust="spacingAndGlyphs" font-size="7.77">CTNNB1 targets</text>
<line x1="310.5" y1="33.9" x2="312.6" y2="33.9" stroke="#444" stroke-width="0.8"/>
<text x="316.5" y="36.62" textLength="42.8" lengthAdjust="spacingAndGlyphs" font-size="7.77">TCF7 targets</text>
<line x1="310.5" y1="49.3" x2="312.6" y2="49.3" stroke="#444" stroke-width="0.8"/>
<text x="316.5" y="52.02" textLength="47.6" lengthAdjust="spacingAndGlyphs" font-size="7.77">STAT6 targets</text>
<line x1="310.5" y1="65" x2="312.6" y2="65" stroke="#444" stroke-width="0.8"/>
<text x="316.5" y="67.72" textLength="55.6" lengthAdjust="spacingAndGlyphs" font-size="7.77">DNMT3A targets</text>
<line x1="310.5" y1="80.5" x2="312.6" y2="80.5" stroke="#444" stroke-width="0.8"/>
<text x="316.5" y="83.22" textLength="77" lengthAdjust="spacingAndGlyphs" font-size="7.77">WNT signaling module</text>
<line x1="310.5" y1="96" x2="312.6" y2="96" stroke="#444" stroke-width="0.8"/>
<text x="316.5" y="98.72" textLength="74.8" lengthAdjust="spacingAndGlyphs" font-size="7.77">Effector T cell module</text>
<line x1="310.5" y1="111.6" x2="312.6" y2="111.6" stroke="#444" stroke-width="0.8"/>
<text x="316.5" y="114.32" textLength="56.1" lengthAdjust="spacingAndGlyphs" font-size="7.77">Antiviral module</text>
<line x1="310.5" y1="127.2" x2="312.6" y2="127.2" stroke="#444" stroke-width="0.8"/>
<text x="316.5" y="129.92" textLength="39.7" lengthAdjust="spacingAndGlyphs" font-size="7.77">ISG module</text>
<line x1="238.3" y1="136.4" x2="238.3" y2="138.6" stroke="#444" stroke-width="0.8"/>
<text x="238.3" y="145.25" text-anchor="middle" fill="#333" style="stroke:#333">4</text>
<line x1="253.7" y1="136.4" x2="253.7" y2="138.6" stroke="#444" stroke-width="0.8"/>
<text x="253.7" y="145.25" text-anchor="middle" fill="#333" style="stroke:#333">2</text>
<line x1="269.3" y1="136.4" x2="269.3" y2="138.6" stroke="#444" stroke-width="0.8"/>
<text x="269.3" y="145.25" text-anchor="middle" fill="#333" style="stroke:#333">0</text>
<line x1="284.9" y1="136.4" x2="284.9" y2="138.6" stroke="#444" stroke-width="0.8"/>
<text x="284.9" y="145.25" text-anchor="middle" fill="#333" style="stroke:#333">1</text>
<line x1="300.4" y1="136.4" x2="300.4" y2="138.6" stroke="#444" stroke-width="0.8"/>
<text x="300.4" y="145.25" text-anchor="middle" fill="#333" style="stroke:#333">3</text>
<text x="264.7" y="154.65" text-anchor="middle" textLength="27.8" lengthAdjust="spacingAndGlyphs" font-size="7.56">Clusters</text>
<defs><linearGradient id="gb" x1="0" x2="1" y1="0" y2="0"><stop offset="0" stop-color="#e8281e"/><stop offset="0.5" stop-color="#f4917c"/><stop offset="1" stop-color="#fff"/></linearGradient></defs>
<rect x="231.9" y="161.5" width="37.6" height="8.1" fill="url(#gb)"/>
<text x="234.2" y="176.88" text-anchor="middle" fill="#333" style="stroke:#333" font-size="6.8">2.0</text>
<text x="247.4" y="176.88" text-anchor="middle" fill="#333" style="stroke:#333" font-size="6.8">1.0</text>
<text x="260" y="176.88" text-anchor="middle" fill="#333" style="stroke:#333" font-size="6.8">0</text>
<text x="249.4" y="187.15" text-anchor="middle" textLength="27.9" lengthAdjust="spacingAndGlyphs" font-size="7.56">Average</text>
<text x="249.4" y="194.75" text-anchor="middle" textLength="36.5" lengthAdjust="spacingAndGlyphs" font-size="7.56">expression</text>
<circle cx="282.9" cy="166.5" r="0.35" fill="#000"/>
<circle cx="291.2" cy="166.5" r="2.1" fill="#000"/>
<circle cx="299.3" cy="166.5" r="2.8" fill="#000"/>
<circle cx="307.8" cy="166.5" r="3.4" fill="#000"/>
<circle cx="316.5" cy="166.5" r="3.85" fill="#000"/>
<text x="282.9" y="176.88" text-anchor="middle" fill="#333" style="stroke:#333" font-size="6.8">0</text>
<text x="291.2" y="176.88" text-anchor="middle" fill="#333" style="stroke:#333" font-size="6.8">25</text>
<text x="299.6" y="176.88" text-anchor="middle" fill="#333" style="stroke:#333" font-size="6.8">50</text>
<text x="308.1" y="176.88" text-anchor="middle" fill="#333" style="stroke:#333" font-size="6.8">75</text>
<text x="317" y="176.88" text-anchor="middle" fill="#333" style="stroke:#333" font-size="6.8">100</text>
<text x="303.6" y="187.15" text-anchor="middle" textLength="25.3" lengthAdjust="spacingAndGlyphs" font-size="7.56">Percent</text>
<text x="303.6" y="194.75" text-anchor="middle" textLength="34.5" lengthAdjust="spacingAndGlyphs" font-size="7.56">expressed</text>
<text x="405.5" y="8.49" fill="#000" style="stroke:#000" font-weight="bold" font-size="11">c</text>
<path d="M473.63 22.07 L474.59 22.55 L475.47 23.04 L476.27 23.53 L476.99 24.02 L477.63 24.52 L478.19 24.98 L478.65 25.4 L479.02 25.78 L479.31 26.12 L479.67 26.52 L480.11 27 L480.63 27.54 L481.22 28.14 L481.77 28.7 L482.27 29.22 L482.73 29.69 L483.15 30.11 L483.52 30.55 L483.85 31.01 L484.13 31.48 L484.37 31.96 L484.6 32.45 L484.84 32.93 L485.08 33.42 L485.31 33.9 L485.52 34.42 L485.7 34.97 L485.85 35.54 L485.97 36.15 L486.09 36.77 L486.21 37.41 L486.32 38.06 L486.44 38.73 L486.61 39.47 L486.81 40.29 L487.07 41.18 L487.36 42.15 L487.69 43.09 L488.05 44 L488.43 44.88 L488.85 45.73 L489.23 46.46 L489.59 47.06 L489.92 47.55 L490.21 47.91 L490.52 48.41 L490.85 49.05 L491.19 49.82 L491.55 50.73 L491.9 51.58 L492.26 52.37 L492.62 53.1 L492.97 53.77 L493.34 54.42 L493.73 55.05 L494.13 55.68 L494.54 56.28 L494.9 56.86 L495.18 57.4 L495.4 57.92 L495.55 58.41 L495.63 58.93 L495.64 59.5 L495.57 60.12 L495.43 60.77 L495.2 61.39 L494.9 61.96 L494.5 62.5 L494.03 63 L493.47 63.41 L492.84 63.74 L492.12 63.98 L491.33 64.14 L490.57 64.17 L489.85 64.09 L489.17 63.88 L488.53 63.55 L487.93 63.23 L487.37 62.9 L486.84 62.57 L486.35 62.24 L485.91 62.04 L485.5 61.96 L485.14 62.01 L484.82 62.18 L484.46 62.39 L484.07 62.64 L483.63 62.92 L483.15 63.25 L482.64 63.58 L482.08 63.91 L481.48 64.23 L480.84 64.56 L480.2 64.89 L479.56 65.22 L478.92 65.54 L478.28 65.87 L477.67 66.2 L477.11 66.53 L476.58 66.85 L476.1 67.18 L475.8 66.86 L475.68 65.9 L475.76 64.29 L476.02 62.03 L476.25 59.89 L476.44 57.85 L476.59 55.92 L476.71 54.1 L476.56 52.34 L476.14 50.64 L475.46 49.01 L474.51 47.43 L473.35 46.18 L471.99 45.28 L470.42 44.7 L468.64 44.46 L466.71 44.34 L464.63 44.34 L462.4 44.46 L460.03 44.7 L458.04 45.06 L456.44 45.55 L455.22 46.15 L454.39 46.88 L453.56 47.49 L452.73 47.97 L451.9 48.34 L451.07 48.58 L450.34 48.58 L449.72 48.34 L449.2 47.85 L448.78 47.13 L448.47 46.34 L448.26 45.49 L448.16 44.58 L448.16 43.61 L448.38 42.7 L448.83 41.85 L449.49 41.06 L450.38 40.33 L452.24 39.48 L455.06 38.51 L458.84 37.42 L463.59 36.21 L467.24 34.48 L469.8 32.25 L471.27 29.49 L471.63 26.23 L472.15 23.91 L472.81 22.52Z" fill="#f9efe9" opacity="0.7"/>
<path d="M448.4 40.21 L448.17 39.71 L447.95 39.13 L447.75 38.48 L447.58 37.74 L447.42 36.93 L447.33 36.08 L447.28 35.18 L447.3 34.24 L447.37 33.26 L447.46 32.27 L447.58 31.29 L447.73 30.31 L447.89 29.33 L448.08 28.43 L448.28 27.61 L448.5 26.87 L448.73 26.22 L448.97 25.56 L449.21 24.91 L449.45 24.25 L449.68 23.6 L449.98 22.94 L450.35 22.29 L450.77 21.63 L451.26 20.98 L451.74 20.4 L452.22 19.91 L452.7 19.5 L453.17 19.17 L453.77 18.85 L454.49 18.52 L455.33 18.19 L456.29 17.86 L457.29 17.64 L458.33 17.52 L459.41 17.5 L460.52 17.58 L461.67 17.68 L462.84 17.77 L464.05 17.88 L465.28 17.99 L466.45 18.19 L467.55 18.49 L468.58 18.89 L469.54 19.39 L470.5 19.89 L471.46 20.38 L472.42 20.87 L473.39 21.35 L474.27 21.84 L475.07 22.33 L475.79 22.82 L476.43 23.32 L476.99 23.86 L477.47 24.44 L477.87 25.05 L478.19 25.71 L478.39 26.4 L478.47 27.13 L478.43 27.91 L478.26 28.72 L478.02 29.54 L477.69 30.35 L477.3 31.18 L476.82 32 L476.31 32.78 L475.75 33.52 L475.15 34.22 L474.51 34.88 L473.87 35.53 L473.23 36.19 L472.58 36.84 L471.94 37.5 L471.3 38.16 L470.66 38.82 L470.02 39.5 L469.38 40.18 L468.67 40.78 L467.89 41.3 L467.05 41.74 L466.13 42.1 L465.15 42.41 L464.1 42.65 L462.98 42.83 L461.79 42.95 L460.61 43.06 L459.42 43.15 L458.23 43.23 L457.04 43.29 L455.92 43.35 L454.85 43.41 L453.84 43.47 L452.89 43.53 L452.01 43.41 L451.2 43.11 L450.45 42.62 L449.77 41.95 L449.21 41.33 L448.75 40.75Z" fill="#f9ece4" opacity="0.7"/>
<path d="M450.45 54.62 L450.62 55.93 L450.86 57.24 L451.18 58.55 L451.58 59.86 L452.06 61.17 L452.53 62.39 L453.02 63.54 L453.5 64.61 L453.99 65.59 L454.51 66.53 L455.08 67.43 L455.68 68.28 L456.32 69.09 L457.04 69.82 L457.84 70.47 L458.72 71.04 L459.68 71.53 L460.68 71.95 L461.72 72.32 L462.8 72.64 L463.92 72.89 L464.94 73.06 L465.87 73.14 L466.71 73.14 L467.46 73.06 L468.18 72.95 L468.88 72.83 L469.54 72.68 L470.18 72.51 L470.86 72.18 L471.58 71.69 L472.34 71.03 L473.13 70.22 L473.89 69.33 L474.61 68.35 L475.29 67.29 L475.93 66.15 L476.47 64.89 L476.92 63.5 L477.27 61.99 L477.52 60.35 L477.68 58.71 L477.76 57.07 L477.76 55.44 L477.68 53.8 L477.54 52.16 L477.34 50.52 L477.08 48.89 L476.76 47.25 L476.28 45.96 L475.65 45.02 L474.87 44.43 L473.93 44.19 L472.98 43.96 L472.02 43.75 L471.05 43.55 L470.06 43.37 L469.03 43.28 L467.96 43.28 L466.85 43.37 L465.7 43.55 L464.54 43.73 L463.37 43.91 L462.2 44.09 L461.01 44.28 L459.82 44.49 L458.63 44.73 L457.45 45 L456.26 45.31 L455.19 45.66 L454.24 46.05 L453.41 46.49 L452.7 46.98 L452.09 47.46 L451.59 47.95 L451.18 48.43 L450.89 48.92 L450.65 49.47 L450.47 50.09 L450.35 50.77 L450.29 51.52 L450.29 52.42 L450.34 53.45Z" fill="#fce1d1" opacity="0.7"/>
<path d="M439.16 57.6 L439.62 57.48 L440.08 57.48 L440.53 57.61 L440.99 57.87 L441.45 58.25 L441.91 58.69 L442.37 59.17 L442.83 59.69 L443.29 60.27 L443.71 60.84 L444.1 61.42 L444.44 61.99 L444.75 62.56 L445.03 63.14 L445.28 63.71 L445.51 64.29 L445.72 64.86 L445.85 65.41 L445.9 65.93 L445.87 66.42 L445.77 66.89 L445.58 67.27 L445.32 67.56 L444.97 67.75 L444.54 67.86 L444.06 67.9 L443.52 67.87 L442.93 67.78 L442.29 67.62 L441.68 67.42 L441.1 67.17 L440.56 66.87 L440.05 66.53 L439.58 66.14 L439.14 65.71 L438.75 65.23 L438.39 64.71 L438.11 64.15 L437.91 63.57 L437.78 62.95 L437.73 62.31 L437.7 61.69 L437.7 61.11 L437.73 60.56 L437.78 60.03 L437.85 59.55 L437.96 59.11 L438.08 58.7 L438.24 58.34 L438.47 58.03 L438.77 57.79Z" fill="#fddbc7" opacity="0.7"/>
<path d="M437.99 24.93 L438.25 24.72 L438.56 24.55 L438.89 24.42 L439.27 24.33 L439.67 24.28 L440.07 24.26 L440.45 24.27 L440.82 24.31 L441.18 24.38 L441.41 24.52 L441.51 24.73 L441.49 25.01 L441.33 25.35 L441.14 25.67 L440.91 25.98 L440.64 26.26 L440.34 26.52 L440.07 26.79 L439.84 27.08 L439.65 27.38 L439.5 27.69 L439.32 27.9 L439.11 28.01 L438.88 28.01 L438.63 27.9 L438.4 27.77 L438.19 27.62 L438.01 27.43 L437.86 27.22 L437.74 26.96 L437.66 26.65 L437.62 26.29 L437.61 25.87 L437.66 25.5 L437.79 25.19Z" fill="#fbe6da" opacity="0.7"/>
<path d="M503.95 42.68 L504.1 42.55 L504.27 42.48 L504.45 42.45 L504.64 42.48 L504.84 42.55 L504.98 42.66 L505.06 42.8 L505.07 42.97 L505.02 43.18 L504.93 43.36 L504.8 43.52 L504.64 43.65 L504.43 43.75 L504.24 43.82 L504.06 43.84 L503.9 43.83 L503.74 43.78 L503.64 43.69 L503.59 43.56 L503.59 43.39 L503.64 43.18 L503.72 42.99 L503.82 42.82Z" fill="#fddbc7" opacity="0.7"/>
<g transform="scale(.5)" fill="none" stroke-linecap="square" stroke-width="1.7">
<path d="M975 90h0M988 132h0M962 111h0M906 114h0M966 102h0M935 83h0M973 113h0M937 103h0M926 41h0M955 133h0M939 125h0M971 91h0M916 53h0M919 57h0M942 122h0M935 79h0M947 63h0M894 67h0M954 108h0M966 69h0M950 134h0M891 82h0M959 125h0M928 93h0M901 50h0M902 95h0M932 82h0M909 76h0M908 99h0M986 118h0M958 89h0M943 140h0M946 110h0M944 48h0M931 130h0M928 74h0M915 124h0M945 59h0M950 105h0M981 99h0M943 68h0M912 48h0M930 69h0M908 41h0M928 61h0M884 118h0M906 115h0M949 57h0M952 136h0M917 37h0M978 127h0M919 39h0M943 80h0M928 59h0M945 53h0M961 122h0M944 52h0M964 129h0M985 116h0M983 121h0M886 132h0M964 117h0M973 85h0M930 128h0M928 123h0M926 133h0M904 54h0M944 79h0M979 96h0M956 95h0M960 62h0M906 68h0M940 75h0M946 49h0M896 82h0M957 69h0M949 74h0M914 36h0M932 112h0M898 104h0M985 128h0M911 40h0M969 64h0M957 63h0M979 115h0M969 130h0M939 67h0M924 73h0M937 45h0M919 112h0M935 135h0M947 130h0M925 78h0M902 51h0M923 116h0M905 63h0M895 62h0M938 74h0M902 92h0M895 76h0M933 131h0M928 50h0M902 54h0M922 113h0M900 85h0M905 59h0M952 115h0M935 71h0M921 62h0M915 58h0M912 126h0M951 66h0M973 115h0M910 130h0M973 93h0M936 36h0M956 123h0M909 92h0M934 125h0M949 51h0M939 90h0M896 60h0M914 63h0M971 65h0M896 65h0M954 73h0M921 55h0M938 141h0M988 126h0M952 130h0M911 117h0M912 36h0M904 40h0M915 66h0M939 53h0M876 122h0M904 99h0M903 58h0M933 146h0M949 78h0M915 72h0M975 89h0M945 143h0M966 104h0M933 129h0M903 93h0M979 100h0M923 49h0M898 91h0M910 39h0M926 38h0M949 64h0M907 122h0M948 44h0M948 69h0M989 127h0M948 115h0M917 49h0M898 69h0M971 107h0M985 107h0M968 122h0M897 88h0M942 71h0M941 82h0M967 70h0M959 51h0M960 65h0M988 127h0M942 48h0M908 34h0M943 52h0M912 144h0M914 65h0M914 83h0M953 107h0M977 120h0M973 68h0M944 75h0M957 120h0M932 82h0M949 108h0M905 54h0M937 65h0M967 119h0M947 75h0M967 124h0M916 88h0M923 58h0M912 62h0M884 137h0M950 55h0M978 99h0M902 56h0M936 45h0M904 40h0M915 124h0M906 105h0M906 103h0M939 61h0M926 65h0M961 56h0M888 131h0M979 127h0M974 100h0M940 98h0M917 37h0M930 127h0M935 46h0M962 118h0M942 75h0M925 81h0M896 59h0M951 81h0M876 54h0M873 124h0M940 84h0M910 63h0M949 83h0M952 47h0M935 99h0M913 51h0M909 103h0M917 67h0M970 80h0M942 110h0M971 73h0M902 77h0M935 55h0M883 118h0M920 53h0M954 77h0M898 68h0M915 72h0M962 91h0M895 83h0M933 44h0M929 90h0M937 41h0M875 47h0M950 47h0M911 135h0M958 68h0M912 97h0M935 43h0M902 59h0M947 104h0M930 42h0M962 69h0M937 61h0M968 121h0M922 53h0M982 125h0M921 39h0M971 105h0M903 41h0M920 52h0M913 34h0M912 88h0M964 76h0M910 114h0M975 125h0M906 111h0M889 92h0M883 93h0M893 108h0M882 57h0M890 54h0M891 50h0M894 102h0M882 92h0M893 49h0M886 64h0M885 65h0M888 89h0M884 94h0M890 93h0M889 73h0" stroke="#f7f7f7"/>
<path d="M889 135h0M948 49h0M972 76h0M956 82h0M922 144h0M895 83h0M965 59h0M927 63h0M936 104h0M880 127h0M960 52h0M907 57h0M908 62h0M919 130h0M910 95h0M936 143h0M909 48h0M930 85h0M987 122h0M932 137h0M942 137h0M874 58h0M969 73h0M968 97h0M937 42h0M917 38h0M936 96h0M916 71h0M882 53h0M902 58h0M917 121h0M970 99h0M937 44h0M894 57h0M956 55h0M936 37h0M917 61h0M917 37h0M895 67h0M971 117h0M930 91h0M943 135h0M961 126h0M884 132h0M902 69h0M950 54h0M939 76h0M946 76h0M946 102h0M941 80h0M924 88h0M962 108h0M953 56h0M956 117h0M976 119h0M909 63h0M942 138h0M924 138h0M903 123h0M909 123h0M932 146h0M923 101h0M970 118h0M979 112h0M977 73h0M905 45h0M975 86h0M970 113h0M945 63h0M934 41h0M953 128h0M962 66h0M944 57h0M900 65h0M939 91h0M969 107h0M926 52h0M904 55h0M898 65h0M947 111h0M909 62h0M935 49h0M903 61h0M965 123h0M896 77h0M926 53h0M926 70h0M875 120h0M928 82h0M971 111h0M955 79h0M972 109h0M912 129h0M936 147h0M919 145h0M934 50h0M964 88h0M959 125h0M912 48h0M928 124h0M944 48h0M941 47h0M942 138h0M936 109h0M957 78h0M899 86h0M926 82h0M922 62h0M931 69h0M942 119h0M949 76h0M961 57h0M903 116h0M927 47h0M955 86h0M970 120h0M899 93h0M919 62h0M941 133h0M962 126h0M971 104h0M933 104h0M965 102h0M967 128h0M961 86h0M918 41h0M930 38h0M981 112h0M971 67h0M910 47h0M991 116h0M906 76h0M894 57h0M913 75h0M943 48h0M986 112h0M940 51h0M928 38h0M992 124h0M980 124h0M948 48h0M901 67h0M904 66h0M930 84h0M943 52h0M932 40h0M912 132h0M938 38h0M943 43h0M964 78h0M962 92h0M988 111h0M977 102h0M921 51h0M912 59h0M958 54h0M950 62h0M929 47h0M945 94h0M950 54h0M902 116h0M969 96h0M905 60h0M926 120h0M908 46h0M915 61h0M961 61h0M949 56h0M962 79h0M916 68h0M936 104h0M908 56h0M953 125h0M912 51h0M935 89h0M914 125h0M969 87h0M906 58h0M907 92h0M900 88h0M913 57h0M914 51h0M947 44h0M937 40h0M934 43h0M940 119h0M898 47h0M940 62h0M949 137h0M984 117h0M978 102h0M963 84h0M893 67h0M976 105h0M958 106h0M929 43h0M949 98h0M954 125h0M955 98h0M953 67h0M928 53h0M913 37h0M959 103h0M926 128h0M907 50h0M974 105h0M910 83h0M987 127h0M928 36h0M950 66h0M942 62h0M903 110h0M931 121h0M878 120h0M923 93h0M912 51h0M901 50h0M936 129h0M939 88h0M908 43h0M915 45h0M928 43h0M956 73h0M956 78h0M960 109h0M906 122h0M966 81h0M962 92h0M898 81h0M948 64h0M920 50h0M900 100h0M926 97h0M957 78h0M903 65h0M901 92h0M955 106h0M961 108h0M982 121h0M981 117h0M970 68h0M976 91h0M951 61h0M974 86h0M958 99h0M964 81h0M936 58h0M921 88h0M942 85h0M982 108h0M914 39h0M978 104h0M922 53h0M931 36h0M928 70h0M914 56h0M917 48h0M937 104h0M907 59h0M921 70h0M932 66h0M878 114h0M926 49h0M930 123h0M934 87h0M957 50h0M960 130h0M969 80h0M968 80h0M890 102h0M890 62h0M887 90h0M890 65h0M882 81h0M886 66h0M891 82h0M883 55h0M894 104h0M891 101h0M885 55h0M884 89h0M891 102h0M890 64h0" stroke="#eef2f5"/>
<path d="M933 124h0M937 142h0M921 134h0M920 89h0M894 132h0M937 104h0M956 109h0M986 109h0M969 59h0M975 93h0M939 54h0M956 68h0M951 71h0M975 122h0M913 113h0M911 78h0M904 48h0M935 146h0M911 55h0M955 62h0M925 69h0M940 52h0M929 135h0M955 72h0M912 39h0M932 40h0M878 55h0M910 60h0M907 94h0M911 52h0M950 65h0M965 122h0M950 78h0M925 45h0M893 131h0M972 118h0M901 110h0M928 63h0M933 46h0M947 44h0M957 90h0M943 81h0M894 100h0M926 92h0M894 78h0M939 49h0M960 125h0M959 114h0M935 81h0M921 55h0M916 62h0M909 43h0M929 100h0M908 111h0M972 101h0M926 67h0M967 97h0M878 120h0M946 77h0M923 100h0M965 73h0M894 68h0M954 131h0M946 101h0M900 87h0M933 126h0M952 50h0M979 119h0M901 71h0M912 52h0M960 73h0M897 68h0M927 47h0M933 55h0M962 100h0M974 119h0M978 121h0M909 87h0M940 64h0M929 55h0M932 85h0M901 54h0M911 112h0M928 82h0M983 118h0M981 109h0M931 124h0M924 88h0M875 60h0M933 57h0M909 66h0M908 131h0M919 45h0M931 125h0M953 131h0M917 126h0M957 126h0M936 66h0M923 74h0M929 104h0M949 41h0M926 85h0M953 69h0M948 70h0M948 79h0M983 118h0M953 89h0M959 88h0M953 114h0M933 75h0M915 102h0M916 117h0M905 56h0M963 125h0M907 76h0M938 123h0M909 82h0M958 64h0M966 90h0M926 120h0M905 90h0M906 67h0M922 67h0M957 91h0M966 67h0M885 122h0M923 43h0M973 109h0M964 121h0M956 120h0M992 124h0M897 58h0M948 94h0M979 118h0M967 112h0M943 121h0M949 48h0M965 119h0M923 49h0M952 104h0M940 81h0M964 95h0M931 86h0M980 125h0M984 94h0M951 51h0M956 55h0M946 133h0M908 132h0M930 85h0M971 76h0M972 110h0M970 114h0M959 60h0M929 43h0M919 69h0M910 116h0M964 88h0M903 93h0M962 99h0M932 96h0M895 61h0M909 87h0M977 105h0M963 109h0M944 89h0M914 50h0M931 60h0M940 54h0M936 49h0M934 55h0M959 74h0M933 60h0M897 73h0M916 72h0M981 118h0M932 121h0M942 137h0M940 78h0M968 102h0M917 33h0M946 139h0M930 75h0M967 70h0M950 134h0M948 50h0M918 66h0M967 103h0M933 121h0M902 69h0M966 78h0M941 138h0M904 45h0M935 58h0M968 119h0M911 94h0M933 142h0M908 64h0M894 103h0M925 142h0M951 132h0M948 51h0M934 61h0M923 99h0M956 94h0M947 85h0M968 105h0M882 126h0M958 86h0M918 49h0M950 76h0M926 145h0M955 112h0M926 93h0M961 83h0M898 67h0M909 42h0M933 130h0M944 46h0M902 56h0M899 53h0M918 46h0M967 124h0M985 105h0M977 92h0M958 68h0M974 124h0M938 48h0M986 122h0M972 91h0M979 108h0M961 123h0M910 55h0M931 104h0M937 65h0M909 106h0M948 120h0M956 81h0M913 124h0M936 62h0M929 124h0M918 87h0M916 54h0M906 63h0M916 97h0M908 68h0M943 133h0M916 33h0M938 66h0M934 100h0M927 134h0M953 95h0M949 117h0M946 126h0M929 127h0M895 71h0M975 85h0M971 87h0M947 85h0M913 106h0M921 49h0M930 50h0M953 130h0M936 110h0M984 123h0M907 94h0M897 62h0M878 121h0M959 132h0M953 50h0M975 119h0M953 44h0M946 135h0M918 116h0M963 111h0M961 77h0M934 103h0M897 62h0M906 43h0M935 43h0M916 62h0M919 60h0M959 90h0M885 132h0M937 117h0M916 118h0M961 125h0M930 100h0M961 101h0M981 128h0M944 97h0M951 110h0M907 68h0M950 43h0M909 122h0M988 125h0M945 49h0M932 99h0M926 51h0M926 83h0M937 138h0M942 49h0M981 104h0M966 115h0M919 116h0M983 112h0M927 68h0M942 141h0M969 92h0M910 69h0M957 93h0M970 126h0M960 94h0M909 120h0M965 90h0M957 86h0M934 95h0M952 70h0M937 79h0M942 128h0M924 35h0M946 67h0M921 91h0M911 54h0M970 109h0M953 114h0M933 93h0M949 73h0M950 52h0M922 79h0M929 112h0M933 101h0M941 50h0M943 149h0M942 101h0M924 112h0M892 103h0M894 50h0M886 68h0M886 87h0M882 47h0M885 79h0M891 106h0" stroke="#f8f0eb"/>
<path d="M889 134h0M924 46h0M914 76h0M907 90h0M915 84h0M969 99h0M908 67h0M947 54h0M980 128h0M943 78h0M933 135h0M974 108h0M934 33h0M966 76h0M919 50h0M965 127h0M975 86h0M901 57h0M959 125h0M992 132h0M971 91h0M964 64h0M972 125h0M907 118h0M936 55h0M957 100h0M924 46h0M938 66h0M903 104h0M913 53h0M914 74h0M950 85h0M912 36h0M906 85h0M929 89h0M933 36h0M898 51h0M944 87h0M936 146h0M964 93h0M942 126h0M919 36h0M928 50h0M975 76h0M942 75h0M947 76h0M937 54h0M946 60h0M915 74h0M986 117h0M980 116h0M943 44h0M941 63h0M952 70h0M952 63h0M950 82h0M961 105h0M921 107h0M930 41h0M951 50h0M959 57h0M920 46h0M918 98h0M929 147h0M918 37h0M893 68h0M914 87h0M976 116h0M987 127h0M951 72h0M960 60h0M945 60h0M908 46h0M931 54h0M928 39h0M939 107h0M946 48h0M955 60h0M958 123h0M921 86h0M897 51h0M896 68h0M936 60h0M960 119h0M970 115h0M903 87h0M927 138h0M971 90h0M924 43h0M921 51h0M913 61h0M960 64h0M937 54h0M961 111h0M927 77h0M905 86h0M923 65h0M970 117h0M947 44h0M988 112h0M909 59h0M936 73h0M933 107h0M988 107h0M967 90h0M941 79h0M925 93h0M939 45h0M944 83h0M972 112h0M914 55h0M915 135h0M974 117h0M946 61h0M955 95h0M961 81h0M967 119h0M962 80h0M956 93h0M989 128h0M958 59h0M942 41h0M956 51h0M963 85h0M919 96h0M968 102h0M924 39h0M943 70h0M898 67h0M961 119h0M913 66h0M959 91h0M884 49h0M926 85h0M988 113h0M902 91h0M949 118h0M917 38h0M919 36h0M924 75h0M940 57h0M920 41h0M946 62h0M974 106h0M966 108h0M984 119h0M912 56h0M931 107h0M929 108h0M972 98h0M930 101h0M992 116h0M983 98h0M965 69h0M883 132h0M962 106h0M901 49h0M945 108h0M922 95h0M968 67h0M918 80h0M978 109h0M945 67h0M925 41h0M929 69h0M976 111h0M969 91h0M964 117h0M943 84h0M978 104h0M890 63h0M883 84h0M889 86h0M893 55h0M885 52h0M890 100h0M887 76h0" stroke="#e4eef4"/>
<path d="M903 98h0M918 73h0M925 125h0M959 129h0M971 85h0M911 70h0M878 125h0M941 51h0M899 51h0M910 116h0M957 91h0M897 98h0M986 118h0M964 94h0M906 110h0M963 100h0M934 108h0M902 50h0M902 76h0M976 125h0M916 66h0M934 105h0M929 64h0M923 145h0M963 111h0M941 90h0M938 61h0M881 132h0M935 83h0M901 75h0M961 59h0M882 126h0M903 106h0M976 95h0M930 93h0M945 95h0M906 74h0M951 82h0M969 126h0M928 70h0M952 55h0M929 94h0M961 81h0M986 130h0M927 61h0M938 78h0M991 108h0M957 130h0M895 62h0M948 138h0M914 93h0M904 120h0M963 86h0M896 69h0M956 92h0M939 126h0M923 52h0M969 66h0M938 109h0M920 68h0M952 95h0M944 92h0M967 127h0M938 104h0M940 123h0M945 127h0M960 117h0M971 71h0M939 54h0M930 135h0M920 127h0M947 86h0M980 103h0M936 116h0M916 125h0M904 106h0M934 131h0M939 107h0M917 128h0M951 124h0M940 117h0M924 107h0M993 124h0M904 121h0M978 125h0M919 64h0M945 67h0M910 105h0M922 58h0M902 64h0M889 139h0M916 45h0M961 55h0M970 125h0M950 96h0M968 107h0M899 99h0M942 76h0M881 119h0M917 51h0M936 46h0M925 106h0M923 133h0M918 52h0M953 123h0M927 119h0M950 52h0M900 76h0M982 125h0M966 68h0M942 77h0M901 59h0M913 128h0M969 69h0M955 40h0M972 122h0M915 40h0M888 132h0M898 66h0M957 132h0M964 102h0M984 106h0M903 90h0M924 118h0M937 112h0M884 131h0M904 123h0M920 136h0M922 77h0M972 76h0M877 126h0M904 107h0M921 48h0M942 98h0M937 42h0M903 108h0M900 63h0M945 63h0M991 126h0M925 43h0M963 75h0M921 101h0M950 56h0M937 69h0M912 103h0M913 84h0M944 101h0M971 103h0M951 43h0M916 121h0M954 102h0M978 124h0M971 98h0M961 98h0M964 87h0M897 59h0M920 99h0M947 127h0M932 61h0M901 76h0M960 116h0M929 42h0M913 48h0M960 90h0M903 118h0M920 84h0M927 98h0M939 66h0M970 122h0M939 59h0M935 148h0M911 98h0M956 83h0M921 40h0M955 97h0M960 106h0M986 126h0M919 74h0M982 100h0M932 141h0M922 81h0M901 102h0M908 87h0M895 112h0M962 89h0M942 52h0M895 113h0M955 119h0M899 44h0M886 125h0M941 116h0M946 82h0M975 94h0M940 131h0M900 66h0M976 84h0M946 139h0M919 100h0M902 43h0M937 86h0M918 79h0M984 109h0M983 115h0M951 138h0M930 79h0M941 75h0M900 55h0M944 109h0M958 84h0M914 76h0M954 57h0M947 97h0M968 116h0M899 90h0M941 130h0M959 105h0M901 71h0M968 101h0M969 101h0M942 41h0M965 65h0M905 106h0M948 87h0M905 71h0M945 114h0M957 127h0M967 72h0M978 113h0M922 61h0M986 128h0M900 84h0M932 121h0M957 121h0M943 125h0M952 49h0M976 124h0M964 58h0M905 39h0M924 128h0M963 106h0M922 128h0M906 124h0M937 115h0M960 122h0M932 56h0M939 75h0M910 44h0M957 76h0M978 97h0M977 89h0M925 129h0M956 60h0M962 106h0M899 64h0M901 63h0M913 84h0M992 119h0M927 78h0M879 132h0M903 64h0M966 78h0M935 139h0M939 107h0M947 88h0M911 75h0M988 122h0M910 98h0M902 110h0M973 100h0M941 144h0M923 92h0M951 93h0M899 57h0M930 135h0M975 121h0M941 87h0M893 89h0M913 57h0M924 114h0M945 110h0M905 122h0M950 53h0M920 138h0M887 130h0M921 50h0M902 42h0M928 93h0M916 107h0M965 90h0M932 133h0M923 100h0M927 59h0M941 122h0M881 121h0M945 36h0M936 89h0M929 107h0M944 136h0M929 70h0M959 82h0M900 62h0M970 96h0M967 87h0M909 51h0M957 93h0M903 100h0M918 51h0M983 111h0M918 112h0M941 135h0M945 95h0M937 76h0M930 89h0M958 96h0M947 113h0M949 73h0M901 53h0M938 99h0M948 64h0M961 59h0M933 112h0M956 57h0M970 121h0M904 58h0M967 112h0M910 74h0M968 96h0M914 47h0M927 70h0M986 122h0M943 61h0M928 52h0M986 129h0M922 119h0M907 101h0M903 40h0M934 48h0M899 93h0M909 92h0M929 51h0M908 42h0M903 46h0M928 127h0M893 87h0M967 78h0M961 119h0M928 57h0M973 70h0M876 116h0M927 78h0M956 57h0M928 111h0M927 66h0M895 88h0M942 57h0M940 100h0M944 67h0M928 127h0M959 118h0M916 89h0M961 72h0M972 100h0M911 82h0M955 55h0M938 41h0M885 79h0M889 79h0M890 74h0M891 96h0M888 105h0M888 94h0M890 94h0M891 91h0M889 90h0M885 61h0" stroke="#fae9df"/>
<path d="M953 108h0M957 133h0M917 90h0M927 141h0M937 122h0M885 128h0M917 115h0M962 105h0M972 119h0M927 57h0M970 121h0M938 106h0M917 86h0M924 88h0M974 106h0M943 132h0M904 93h0M919 78h0M918 47h0M916 68h0M923 35h0M910 95h0M944 106h0M913 121h0M935 74h0M967 106h0M969 126h0M992 121h0M926 67h0M883 119h0M961 96h0M952 113h0M899 72h0M888 131h0M909 124h0M915 120h0M939 102h0M954 85h0M907 125h0M932 83h0M927 103h0M914 130h0M948 109h0M945 87h0M930 101h0M900 66h0M916 90h0M898 88h0M942 97h0M926 126h0M965 80h0M947 81h0M975 94h0M915 45h0M957 93h0M910 68h0M947 95h0M927 146h0M956 75h0M957 55h0M943 70h0M916 53h0M960 95h0M877 55h0M900 94h0M953 58h0M920 100h0M958 94h0M899 75h0M947 83h0M913 125h0M955 128h0M924 112h0M927 96h0M978 111h0M934 40h0M904 125h0M935 106h0M888 130h0M980 112h0M941 64h0M908 51h0M954 111h0M930 63h0M970 64h0M932 77h0M952 105h0M950 103h0M929 142h0M924 135h0M941 69h0M928 129h0M937 112h0M923 123h0M888 138h0M940 51h0M956 86h0M923 124h0M914 49h0M924 131h0M973 106h0M912 72h0M972 82h0M946 41h0M958 134h0M955 113h0M942 57h0M969 130h0M926 75h0M933 114h0M976 123h0M915 73h0M891 129h0M894 62h0M898 68h0M927 74h0M924 102h0M927 80h0M936 89h0M923 72h0M927 136h0M910 119h0M924 93h0M912 94h0M911 126h0M920 130h0M914 59h0M935 143h0M921 69h0M880 122h0M913 83h0M891 126h0M913 52h0M911 61h0M912 120h0M987 123h0M910 99h0M915 128h0M957 50h0M940 134h0M983 101h0M961 76h0M923 131h0M959 47h0M943 96h0M945 60h0M917 138h0M914 118h0M906 120h0M949 44h0M931 64h0M916 85h0M943 107h0M921 44h0M970 70h0M879 133h0M912 132h0M981 126h0M936 118h0M929 136h0M901 47h0M948 45h0M973 99h0M917 54h0M914 85h0M963 132h0M961 87h0M945 53h0M911 99h0M960 56h0M908 43h0M970 114h0M892 82h0M950 127h0M925 85h0M907 55h0M981 100h0M950 91h0M929 88h0M897 86h0M923 143h0M939 106h0M945 51h0M937 90h0M877 52h0M925 39h0M904 49h0M951 132h0M964 96h0M973 105h0M932 102h0M965 113h0M917 139h0M978 122h0M943 74h0M915 144h0M975 110h0M942 88h0M937 77h0M896 136h0M967 105h0M941 135h0M909 88h0M922 64h0M941 100h0M900 101h0M959 92h0M921 41h0M931 54h0M888 122h0M878 133h0M906 43h0M914 121h0M930 130h0M962 90h0M937 121h0M930 44h0M929 125h0M922 52h0M964 118h0M922 80h0M909 64h0M930 149h0M964 104h0M932 132h0M907 93h0M928 95h0M928 147h0M904 85h0M921 64h0M907 102h0M891 135h0M966 100h0M895 65h0M910 133h0M942 42h0M933 107h0M931 147h0M921 132h0M914 61h0M901 80h0M919 58h0M948 137h0M918 95h0M911 38h0M954 122h0M935 78h0M927 130h0M940 132h0M961 91h0M937 60h0M878 117h0M908 84h0M935 82h0M891 84h0M943 97h0M933 106h0M915 100h0M939 107h0M967 99h0M947 104h0M911 105h0M969 67h0M923 36h0M919 102h0M942 117h0M988 120h0M932 110h0M954 102h0M898 68h0M940 129h0M965 60h0M933 46h0M948 119h0M915 116h0M944 66h0M918 108h0M930 135h0M941 98h0M987 120h0M930 45h0M885 130h0M928 36h0M973 90h0M937 86h0M931 131h0M975 98h0M902 108h0M913 89h0M950 76h0M910 116h0M920 64h0M924 114h0M907 134h0M941 130h0M935 37h0M917 71h0M955 69h0M957 60h0M965 125h0M914 120h0M915 107h0M969 88h0M917 70h0M977 103h0M942 125h0M885 108h0M888 81h0M890 85h0M882 48h0M886 68h0M886 98h0M889 63h0M893 97h0M886 61h0M893 46h0" stroke="#fce2d3"/>
<path d="M906 46h0M919 37h0M959 52h0M908 40h0M938 83h0M935 122h0M921 134h0M917 47h0M952 107h0M933 48h0M913 126h0M919 58h0M916 43h0M934 50h0M893 77h0M936 78h0M951 50h0M955 77h0M919 66h0M986 128h0M905 94h0M881 122h0M960 106h0M956 111h0M900 52h0M956 61h0M916 70h0M953 69h0M908 89h0M946 62h0M974 123h0M941 65h0M974 90h0M941 83h0M921 61h0M954 60h0M942 45h0M919 37h0M963 104h0M917 60h0M963 60h0M918 38h0M977 119h0M957 70h0M930 44h0M963 96h0M925 48h0M933 48h0M900 67h0M923 55h0M947 130h0M948 79h0M924 62h0M938 63h0M992 123h0M959 97h0M902 83h0M910 113h0M969 63h0M980 131h0M948 72h0M921 46h0M929 67h0M952 56h0M917 37h0M956 82h0M958 72h0M976 101h0M975 91h0M957 120h0M912 122h0M935 44h0M916 47h0M959 73h0M990 120h0M975 118h0M979 113h0M955 80h0M898 89h0M909 58h0M907 52h0M929 37h0M976 119h0M915 38h0M966 90h0M951 56h0M907 61h0M922 58h0M948 62h0M912 51h0M977 100h0M969 118h0M952 79h0M969 86h0M959 119h0M991 132h0M944 81h0M973 70h0M935 84h0M961 61h0M948 60h0M969 106h0M909 57h0M944 47h0M912 32h0M899 94h0M920 46h0M918 46h0M976 100h0M988 132h0M928 70h0M974 86h0M951 48h0M913 77h0M909 42h0M900 68h0M978 108h0M972 119h0M951 75h0M902 66h0M976 96h0M898 92h0M916 52h0M976 90h0M915 62h0M936 68h0M943 109h0M935 43h0M984 120h0M981 124h0M896 61h0M979 88h0M916 89h0M971 61h0M910 58h0M980 102h0M979 126h0M934 68h0M981 114h0M946 134h0M882 98h0M884 63h0M885 48h0M889 90h0M893 84h0M883 82h0M893 105h0M888 49h0" stroke="#daeaf2"/>
<path d="M949 105h0M938 87h0M907 129h0M925 125h0M896 92h0M951 57h0M963 92h0M937 70h0M988 117h0M939 47h0M893 86h0M933 72h0M946 63h0M975 99h0M940 91h0M949 129h0M914 59h0M952 99h0M877 124h0M922 138h0M908 136h0M984 122h0M941 67h0M936 139h0M924 67h0M940 120h0M975 91h0M928 71h0M903 72h0M882 116h0M905 108h0M883 125h0M935 131h0M937 112h0M915 130h0M910 74h0M925 142h0M947 113h0M935 48h0M975 99h0M956 62h0M913 96h0M893 124h0M904 61h0M972 124h0M937 147h0M878 128h0M920 121h0M927 100h0M959 135h0M911 65h0M922 52h0M934 86h0M971 104h0M900 115h0M952 91h0M932 128h0M927 98h0M945 87h0M928 142h0M926 102h0M901 69h0M953 52h0M925 67h0M905 84h0M916 85h0M939 116h0M953 62h0M918 134h0M971 104h0M949 110h0M927 120h0M888 123h0M898 80h0M903 72h0M943 46h0M950 104h0M907 68h0M876 52h0M887 129h0M901 63h0M896 64h0M972 74h0M911 73h0M920 84h0M990 120h0M876 44h0M946 41h0M904 55h0M924 103h0M942 75h0M929 107h0M955 104h0M956 87h0M983 111h0M938 100h0M905 85h0M953 113h0M907 118h0M943 82h0M933 49h0M920 60h0M929 140h0M905 43h0M972 111h0M913 124h0M949 67h0M984 123h0M984 96h0M886 133h0M947 96h0M893 79h0M937 145h0M949 63h0M930 75h0M957 90h0M973 124h0M933 90h0M907 114h0M946 49h0M925 51h0M926 131h0M911 124h0M922 45h0M934 42h0M900 74h0M959 79h0M882 49h0M952 122h0M934 51h0M909 47h0M987 115h0M926 92h0M913 37h0M973 69h0M948 97h0M912 115h0M934 62h0M961 130h0M945 128h0M953 126h0M907 99h0M953 125h0M973 85h0M916 93h0M911 122h0M964 128h0M923 77h0M910 50h0M958 116h0M907 98h0M915 102h0M924 117h0M944 57h0M934 136h0M938 83h0M903 116h0M910 125h0M949 59h0M958 58h0M913 69h0M953 87h0M939 127h0M918 124h0M967 124h0M917 92h0M876 123h0M878 131h0M926 142h0M904 68h0M911 95h0M913 78h0M945 135h0M937 138h0M939 136h0M909 67h0M900 73h0M931 102h0M935 146h0M924 117h0M875 52h0M916 97h0M884 134h0M991 124h0M950 63h0M954 132h0M917 82h0M971 107h0M906 67h0M944 54h0M953 81h0M915 142h0M942 126h0M958 124h0M910 102h0M913 120h0M925 56h0M923 55h0M940 142h0M927 51h0M955 115h0M910 76h0M895 81h0M946 145h0M925 104h0M945 108h0M940 47h0M946 134h0M925 140h0M910 87h0M917 116h0M934 94h0M972 87h0M962 126h0M950 116h0M949 117h0M909 52h0M895 95h0M923 56h0M915 87h0M936 115h0M916 124h0M892 84h0M918 70h0M920 90h0M973 102h0M911 123h0M959 94h0M954 132h0M896 77h0M916 107h0M883 123h0M946 141h0M918 114h0M930 127h0M924 134h0M917 118h0M934 88h0M916 127h0M963 115h0M944 69h0M916 82h0M910 120h0M888 132h0M931 46h0M940 83h0M882 128h0M899 74h0M914 131h0M993 121h0M957 56h0M934 64h0M922 119h0M905 117h0M917 103h0M909 114h0M929 117h0M929 133h0M897 72h0M900 40h0M960 79h0M972 117h0M917 102h0M951 86h0M917 92h0M881 120h0M965 102h0M912 91h0M969 75h0M914 77h0M928 54h0M987 114h0M961 79h0M940 68h0M952 92h0M922 143h0M949 67h0M902 106h0M901 101h0M950 130h0M964 122h0M933 129h0M935 94h0M889 72h0M885 56h0M894 108h0M888 74h0" stroke="#fddbc7"/>
<path d="M944 51h0M921 54h0M945 141h0M923 78h0M963 62h0M928 45h0M965 125h0M962 122h0M929 48h0M978 104h0M980 120h0M926 80h0M958 44h0M899 84h0M947 59h0M959 62h0M893 68h0M970 88h0M989 120h0M925 96h0M958 52h0M934 55h0M900 61h0M940 64h0M929 49h0M949 120h0M924 49h0M940 82h0M974 73h0M904 52h0M945 66h0M898 86h0M964 62h0M982 120h0M922 50h0M967 63h0M924 98h0M934 99h0M972 70h0M935 41h0M974 90h0M964 111h0M917 40h0M900 40h0M943 66h0M977 72h0M901 66h0M989 113h0M936 36h0M969 103h0M939 70h0M964 60h0M960 115h0M965 72h0M894 94h0M895 62h0M917 110h0M904 123h0M896 86h0M908 90h0M923 75h0M975 103h0M901 54h0M908 38h0M885 125h0M920 40h0M962 63h0M973 75h0M919 125h0M990 125h0M886 96h0M891 77h0" stroke="#d1e5f0"/>
<path d="M929 77h0M958 69h0M915 134h0M911 47h0M896 83h0M909 84h0M958 131h0M929 100h0M947 86h0M947 62h0M966 85h0M957 54h0M915 92h0M903 74h0M959 55h0M901 114h0M938 84h0M947 119h0M926 145h0M936 142h0M951 106h0M950 130h0M908 91h0M936 141h0M933 34h0M942 129h0M936 93h0M951 106h0M915 98h0M917 83h0M921 98h0M923 68h0M916 84h0M990 127h0M950 44h0M921 50h0M910 113h0M937 89h0M912 66h0M964 125h0M908 40h0M924 64h0M950 60h0M945 92h0M947 137h0M932 54h0M962 126h0M915 103h0M939 122h0M951 115h0M898 62h0M899 82h0M972 75h0M942 73h0M895 91h0M956 80h0M899 88h0M954 95h0M979 113h0M957 100h0M910 106h0M953 47h0M879 52h0M950 121h0M928 146h0M954 127h0M897 106h0M971 96h0M957 82h0M920 93h0M924 49h0M928 39h0M905 67h0M928 90h0M940 37h0M947 111h0M972 106h0M965 109h0M965 74h0M950 56h0M985 109h0M936 67h0M920 129h0M978 123h0M909 99h0M920 133h0M948 103h0M965 81h0M949 138h0M926 76h0M956 83h0M923 86h0M931 140h0M966 103h0M937 93h0M933 136h0M931 146h0M908 115h0M919 98h0M943 105h0M905 93h0M900 110h0M955 49h0M943 105h0M916 102h0M901 105h0M962 109h0M942 114h0M938 61h0M921 125h0M953 51h0M875 57h0M923 105h0M945 90h0M907 58h0M905 98h0M928 105h0M965 117h0M924 127h0M873 126h0M929 76h0M924 75h0M876 126h0M933 117h0M906 136h0M880 51h0M898 111h0M938 101h0M953 89h0M920 78h0M948 71h0M960 54h0M914 132h0M934 120h0M907 129h0M910 110h0M944 46h0M961 122h0M921 104h0M909 115h0M904 122h0M924 108h0M925 95h0M908 40h0M915 113h0M922 55h0M910 80h0M935 91h0M921 144h0M926 76h0M898 92h0M919 111h0M876 121h0M969 87h0M906 59h0M923 69h0M919 136h0M910 39h0M932 111h0M922 116h0M907 128h0M907 53h0M879 54h0M982 120h0M903 94h0M896 63h0M914 130h0M878 130h0M943 124h0M939 127h0M944 109h0M924 77h0M942 146h0M914 140h0M877 56h0M904 85h0M906 112h0M962 76h0M941 57h0M904 120h0M907 45h0M952 131h0M905 103h0M934 61h0M984 118h0M987 109h0M911 93h0M875 127h0M932 92h0M944 91h0M915 74h0M894 77h0M892 89h0M906 97h0M933 74h0M904 102h0M941 131h0M896 63h0M914 98h0M943 66h0M933 63h0M940 129h0M945 89h0M907 103h0M982 120h0M896 61h0M906 109h0M917 100h0M928 78h0M961 93h0M931 114h0M911 62h0M939 131h0M923 81h0M934 136h0M895 89h0M934 73h0M976 91h0M888 127h0M935 90h0M886 123h0M921 100h0M944 86h0M965 101h0M968 103h0M926 124h0M936 91h0M913 50h0M934 87h0M898 83h0M952 115h0M936 71h0M930 87h0M959 93h0M898 74h0M904 63h0M942 85h0M878 123h0M969 63h0M925 135h0M938 116h0M903 98h0M968 126h0M932 76h0M934 43h0M928 109h0M957 109h0M921 92h0M903 104h0M895 88h0M957 52h0M920 73h0M931 100h0M898 57h0M940 88h0M906 62h0M925 137h0M956 114h0M878 130h0M946 137h0M953 126h0M958 59h0M950 113h0M941 108h0M905 98h0M942 133h0M943 51h0M876 51h0M890 84h0M886 49h0M891 101h0M892 98h0M883 71h0" stroke="#fbceb6"/>
<path d="M937 41h0M961 62h0M885 117h0M944 72h0M903 119h0M933 66h0M988 99h0M946 80h0M908 65h0M924 79h0M923 120h0M947 64h0M946 53h0M939 63h0M942 50h0M941 54h0M933 38h0M892 91h0M962 63h0M973 85h0M909 48h0M932 53h0M954 62h0M981 103h0M962 100h0M918 53h0M970 103h0M970 69h0M957 91h0M931 62h0M949 61h0M962 112h0M983 119h0M936 60h0M937 54h0M928 69h0M929 67h0M945 74h0M953 77h0M973 105h0M956 94h0M978 126h0M895 62h0M983 118h0M885 106h0M884 98h0" stroke="#c1ddec"/>
<path d="M929 129h0M951 122h0M915 127h0M980 95h0M992 117h0M926 105h0M916 142h0M883 49h0M920 35h0M916 117h0M904 98h0M942 71h0M947 123h0M938 75h0M928 73h0M946 102h0M979 128h0M882 118h0M876 126h0M917 145h0M942 126h0M902 67h0M891 131h0M952 98h0M930 36h0M907 103h0M938 145h0M900 104h0M939 74h0M981 97h0M959 125h0M908 89h0M918 96h0M947 103h0M917 133h0M988 125h0M891 131h0M936 122h0M937 142h0M936 116h0M928 44h0M911 60h0M902 121h0M950 125h0M934 113h0M936 114h0M958 116h0M940 136h0M913 133h0M909 118h0M926 102h0M938 144h0M897 108h0M943 75h0M963 126h0M923 130h0M929 101h0M937 64h0M941 88h0M950 139h0M980 110h0M948 102h0M902 96h0M966 79h0M935 129h0M908 50h0M910 37h0M895 79h0M906 105h0M971 110h0M923 115h0M921 136h0M947 130h0M945 60h0M959 96h0M885 56h0M892 79h0M939 140h0M946 125h0M925 90h0M939 126h0M944 139h0M935 127h0M929 118h0M900 85h0M910 129h0M955 107h0M913 69h0M928 126h0M911 106h0M929 140h0M912 131h0M882 130h0M883 127h0M925 78h0M986 128h0M946 88h0M967 113h0M875 120h0M954 133h0M918 134h0M943 102h0M970 108h0M884 118h0M947 131h0M934 56h0M916 138h0M947 129h0M927 141h0M918 132h0M903 105h0M935 124h0M944 133h0M952 136h0M932 88h0M920 113h0M924 63h0M912 103h0M878 117h0M948 36h0M940 143h0M930 105h0M914 84h0M880 54h0M909 104h0M946 73h0M912 103h0M953 117h0M921 96h0M921 75h0M940 61h0M941 99h0M932 52h0M930 90h0M912 45h0M889 128h0M935 116h0M898 70h0M933 83h0M961 97h0M914 63h0M943 123h0M940 125h0M956 70h0M919 111h0M951 118h0M953 127h0M980 129h0M981 117h0M953 65h0M942 146h0M947 130h0M911 102h0M938 144h0M941 98h0M932 49h0M915 110h0M937 120h0M940 81h0M924 120h0M917 107h0M945 47h0M898 84h0M938 129h0M900 79h0M963 119h0M932 113h0M919 41h0M898 52h0M925 70h0M935 81h0M925 113h0M935 123h0M901 67h0M904 122h0M875 118h0M922 119h0M944 77h0M925 119h0M952 128h0M875 128h0M946 106h0M925 34h0M939 143h0M964 53h0M933 120h0M941 98h0M932 143h0M892 104h0" stroke="#f8c0a4"/>
<path d="M909 43h0M926 60h0M894 66h0M922 63h0M952 71h0M903 51h0M922 81h0M971 120h0M983 121h0M960 79h0M934 149h0M906 54h0M932 56h0M958 70h0M957 56h0M967 101h0M955 78h0M943 60h0M953 100h0M956 65h0M959 99h0M896 88h0M931 42h0M933 45h0M928 44h0M938 92h0M903 46h0M944 40h0M897 68h0M895 102h0" stroke="#b2d5e7"/>
<path d="M943 64h0M967 109h0M957 51h0M920 78h0M981 115h0M969 64h0M967 125h0M959 57h0M948 76h0M917 59h0M929 81h0M961 96h0M975 84h0M900 52h0M887 67h0" stroke="#a2cde2"/>
<path d="M974 88h0M935 143h0M924 72h0M921 84h0M909 80h0M934 144h0M942 123h0M973 116h0M908 104h0M883 133h0M983 116h0M950 133h0M889 117h0M921 113h0M879 114h0M951 130h0M921 87h0M937 147h0M968 98h0M908 124h0M950 135h0M937 138h0M971 102h0M950 136h0M944 88h0M906 127h0M913 111h0M939 129h0M923 40h0M942 121h0M907 106h0M901 90h0M929 107h0M883 50h0M908 128h0M903 94h0M875 135h0M894 60h0M955 88h0M916 133h0M871 129h0M938 81h0M908 108h0M939 123h0M921 90h0M940 77h0M935 70h0M896 71h0M932 129h0M904 56h0M952 113h0M897 71h0M900 108h0M968 103h0M911 123h0M900 56h0M919 75h0M922 120h0M906 74h0M935 125h0M882 134h0M930 103h0M899 68h0M914 100h0M934 146h0M918 108h0M965 105h0M900 75h0M938 135h0M916 128h0M946 106h0M942 87h0M954 120h0M946 73h0M946 134h0M917 52h0M990 115h0M900 112h0M952 92h0M918 140h0M937 99h0M908 124h0M953 121h0M939 84h0M919 144h0M923 123h0M881 116h0M915 139h0M914 120h0M939 124h0M925 72h0M888 140h0M972 87h0M991 115h0M901 83h0M943 65h0M927 130h0M926 94h0M972 75h0M906 117h0M928 136h0M967 121h0M932 126h0M921 115h0M943 90h0M953 98h0M945 74h0M916 137h0M955 90h0M940 97h0M923 103h0M878 121h0M925 69h0M885 123h0M920 112h0M915 126h0M933 122h0M919 125h0M904 54h0M916 137h0M942 124h0M945 93h0M978 120h0M928 79h0M919 96h0M989 119h0M872 125h0M946 43h0M900 115h0M968 119h0M950 89h0M932 114h0M920 72h0M953 142h0M937 109h0M934 136h0M925 106h0M921 142h0M945 100h0M910 83h0M916 93h0M887 119h0M955 126h0M920 70h0M897 54h0M925 138h0M912 109h0M964 122h0M949 113h0M946 72h0M917 134h0M897 53h0M915 90h0M925 147h0M932 89h0M948 139h0M954 103h0M928 104h0M967 126h0M912 82h0M912 119h0M911 129h0M924 135h0M923 127h0M935 143h0M960 57h0M924 58h0M913 83h0M919 136h0M895 132h0M879 48h0M972 58h0M920 105h0M903 85h0M894 95h0" stroke="#f6b293"/>
<path d="M933 124h0M938 150h0M947 50h0M921 111h0M918 142h0M919 133h0M934 39h0M932 83h0M911 79h0M929 121h0M924 42h0M922 95h0M935 83h0M914 82h0M949 133h0M933 106h0M914 125h0M963 99h0M949 138h0M880 51h0M889 123h0M919 128h0M932 102h0M936 145h0M920 90h0M944 122h0M916 110h0M927 87h0M911 105h0M943 99h0M901 104h0M880 128h0M930 42h0M969 85h0M930 138h0M895 56h0M916 145h0M921 141h0M953 88h0M876 56h0M919 46h0M941 87h0M935 96h0M910 32h0M905 116h0M908 121h0M949 98h0M944 129h0M953 107h0M927 126h0M913 119h0M904 66h0M908 124h0M937 69h0M906 84h0M931 70h0M900 110h0M892 92h0M929 97h0M947 55h0M934 131h0M933 132h0M906 53h0M923 103h0M934 101h0M937 112h0M877 125h0M946 131h0M906 112h0M939 110h0M899 68h0M938 112h0M949 98h0M930 85h0M947 142h0M929 143h0M966 78h0M901 70h0M900 43h0M982 96h0M949 53h0M937 142h0M936 68h0M950 127h0M922 123h0M938 141h0M929 105h0M916 102h0M993 115h0M932 75h0M944 95h0M921 98h0M909 107h0M956 103h0M930 74h0M944 116h0M972 77h0M940 93h0M913 70h0M925 76h0M873 113h0M937 92h0M952 84h0M947 111h0M941 98h0M928 68h0M938 105h0M986 125h0M939 126h0M944 106h0M939 131h0M902 105h0M923 52h0M901 89h0" stroke="#f4a582"/>
<path d="M974 94h0M893 73h0M921 58h0M951 45h0" stroke="#92c5de"/>
<path d="M930 74h0M931 125h0M935 73h0M912 96h0M927 90h0M875 118h0M913 130h0M903 108h0M942 76h0M907 96h0M943 129h0M943 107h0M917 90h0M926 80h0M957 104h0M920 135h0M905 120h0M917 92h0M948 118h0M902 104h0M900 111h0M918 81h0M943 86h0M950 128h0M881 117h0M923 117h0M943 118h0M946 134h0M910 78h0M953 129h0M945 127h0M906 115h0M911 101h0M925 78h0M915 126h0M971 101h0M881 116h0M918 95h0M891 129h0M912 90h0M902 99h0M875 50h0M922 57h0M917 132h0M900 56h0M926 86h0M954 109h0M912 131h0M909 111h0M912 128h0M956 96h0M947 148h0M948 95h0M933 133h0M927 80h0M956 108h0M936 87h0M966 86h0M939 130h0M918 138h0M936 108h0M933 75h0M931 84h0M915 117h0M955 86h0M942 140h0M892 133h0M895 104h0M887 70h0" stroke="#ec9475"/>
<path d="M928 47h0M922 39h0M936 65h0M923 57h0" stroke="#7eb8d7"/>
<path d="M880 126h0M952 119h0M915 48h0M946 111h0M917 110h0M916 121h0M913 89h0M955 100h0M956 113h0M913 97h0M922 85h0M916 115h0M928 147h0M951 104h0M931 92h0M931 100h0M903 110h0M876 123h0M942 116h0M945 106h0M894 78h0M956 109h0M914 98h0M899 59h0M910 116h0M899 66h0M930 111h0M907 93h0M910 116h0M943 103h0M948 119h0M921 100h0M920 101h0M931 73h0M934 139h0M884 123h0M883 132h0M942 138h0M904 94h0M883 131h0M889 137h0M927 94h0M945 117h0M882 122h0" stroke="#e58268"/>
<path d="M914 62h0M913 64h0" stroke="#6aacd0"/>
<path d="M923 113h0M916 103h0M945 76h0M932 107h0M927 107h0M947 91h0M949 135h0M913 138h0M939 139h0M917 124h0M939 77h0M943 73h0M888 135h0M944 123h0M907 130h0M922 103h0M880 125h0M926 144h0M924 53h0M927 124h0M900 82h0M944 113h0M928 134h0" stroke="#de715a"/>
<path d="M966 72h0" stroke="#57a0ca"/>
<path d="M954 111h0M901 67h0M915 134h0M924 81h0M900 108h0M914 93h0M954 107h0M936 141h0M879 131h0" stroke="#d6604d"/>
<path d="M929 117h0M956 121h0M955 129h0M910 38h0M951 128h0M904 81h0M898 73h0M913 123h0M954 116h0" stroke="#cd4e44"/>
<path d="M873 115h0" stroke="#c43c3c"/>
<path d="M886 120h0M915 119h0M928 143h0" stroke="#bb2a34"/>
</g>
<path d="M617.73 22.07 L618.69 22.55 L619.57 23.04 L620.37 23.53 L621.09 24.02 L621.73 24.52 L622.29 24.98 L622.75 25.4 L623.12 25.78 L623.41 26.12 L623.77 26.52 L624.21 27 L624.73 27.54 L625.32 28.14 L625.87 28.7 L626.37 29.22 L626.83 29.69 L627.25 30.11 L627.62 30.55 L627.95 31.01 L628.23 31.48 L628.47 31.96 L628.7 32.45 L628.94 32.93 L629.18 33.42 L629.41 33.9 L629.62 34.42 L629.8 34.97 L629.95 35.54 L630.07 36.15 L630.19 36.77 L630.31 37.41 L630.42 38.06 L630.54 38.73 L630.71 39.47 L630.91 40.29 L631.17 41.18 L631.46 42.15 L631.79 43.09 L632.15 44 L632.53 44.88 L632.95 45.73 L633.33 46.46 L633.69 47.06 L634.02 47.55 L634.31 47.91 L634.62 48.41 L634.95 49.05 L635.29 49.82 L635.65 50.73 L636 51.58 L636.36 52.37 L636.72 53.1 L637.07 53.77 L637.44 54.42 L637.83 55.05 L638.23 55.68 L638.64 56.28 L639 56.86 L639.28 57.4 L639.5 57.92 L639.65 58.41 L639.73 58.93 L639.74 59.5 L639.67 60.12 L639.53 60.77 L639.3 61.39 L639 61.96 L638.6 62.5 L638.13 63 L637.57 63.41 L636.94 63.74 L636.22 63.98 L635.43 64.14 L634.67 64.17 L633.95 64.09 L633.27 63.88 L632.63 63.55 L632.03 63.23 L631.47 62.9 L630.94 62.57 L630.45 62.24 L630.01 62.04 L629.6 61.96 L629.24 62.01 L628.92 62.18 L628.56 62.39 L628.17 62.64 L627.73 62.92 L627.25 63.25 L626.74 63.58 L626.18 63.91 L625.58 64.23 L624.94 64.56 L624.3 64.89 L623.66 65.22 L623.02 65.54 L622.38 65.87 L621.77 66.2 L621.21 66.53 L620.68 66.85 L620.2 67.18 L619.9 66.86 L619.78 65.9 L619.86 64.29 L620.12 62.03 L620.35 59.89 L620.54 57.85 L620.69 55.92 L620.81 54.1 L620.66 52.34 L620.24 50.64 L619.56 49.01 L618.61 47.43 L617.45 46.18 L616.09 45.28 L614.52 44.7 L612.74 44.46 L610.81 44.34 L608.73 44.34 L606.5 44.46 L604.13 44.7 L602.14 45.06 L600.54 45.55 L599.32 46.15 L598.49 46.88 L597.66 47.49 L596.83 47.97 L596 48.34 L595.17 48.58 L594.44 48.58 L593.82 48.34 L593.3 47.85 L592.88 47.13 L592.57 46.34 L592.36 45.49 L592.26 44.58 L592.26 43.61 L592.48 42.7 L592.93 41.85 L593.59 41.06 L594.48 40.33 L596.34 39.48 L599.16 38.51 L602.94 37.42 L607.69 36.21 L611.34 34.48 L613.9 32.25 L615.37 29.49 L615.73 26.23 L616.25 23.91 L616.91 22.52Z" fill="#fbe6da" opacity="0.7"/>
<path d="M592.5 40.21 L592.27 39.71 L592.05 39.13 L591.85 38.48 L591.68 37.74 L591.52 36.93 L591.43 36.08 L591.38 35.18 L591.4 34.24 L591.47 33.26 L591.56 32.27 L591.68 31.29 L591.83 30.31 L591.99 29.33 L592.18 28.43 L592.38 27.61 L592.6 26.87 L592.83 26.22 L593.07 25.56 L593.31 24.91 L593.55 24.25 L593.78 23.6 L594.08 22.94 L594.45 22.29 L594.87 21.63 L595.36 20.98 L595.84 20.4 L596.32 19.91 L596.8 19.5 L597.27 19.17 L597.87 18.85 L598.59 18.52 L599.43 18.19 L600.39 17.86 L601.39 17.64 L602.43 17.52 L603.51 17.5 L604.62 17.58 L605.77 17.68 L606.94 17.77 L608.15 17.88 L609.38 17.99 L610.55 18.19 L611.65 18.49 L612.68 18.89 L613.64 19.39 L614.6 19.89 L615.56 20.38 L616.52 20.87 L617.49 21.35 L618.37 21.84 L619.17 22.33 L619.89 22.82 L620.53 23.32 L621.09 23.86 L621.57 24.44 L621.97 25.05 L622.29 25.71 L622.49 26.4 L622.57 27.13 L622.53 27.91 L622.36 28.72 L622.12 29.54 L621.79 30.35 L621.4 31.18 L620.92 32 L620.41 32.78 L619.85 33.52 L619.25 34.22 L618.61 34.88 L617.97 35.53 L617.33 36.19 L616.68 36.84 L616.04 37.5 L615.4 38.16 L614.76 38.82 L614.12 39.5 L613.48 40.18 L612.77 40.78 L611.99 41.3 L611.15 41.74 L610.23 42.1 L609.25 42.41 L608.2 42.65 L607.08 42.83 L605.89 42.95 L604.71 43.06 L603.52 43.15 L602.33 43.23 L601.14 43.29 L600.02 43.35 L598.95 43.41 L597.94 43.47 L596.99 43.53 L596.11 43.41 L595.3 43.11 L594.55 42.62 L593.87 41.95 L593.31 41.33 L592.85 40.75Z" fill="#fbe6da" opacity="0.7"/>
<path d="M594.55 54.62 L594.72 55.93 L594.96 57.24 L595.28 58.55 L595.68 59.86 L596.16 61.17 L596.63 62.39 L597.12 63.54 L597.6 64.61 L598.09 65.59 L598.61 66.53 L599.18 67.43 L599.78 68.28 L600.42 69.09 L601.14 69.82 L601.94 70.47 L602.82 71.04 L603.78 71.53 L604.78 71.95 L605.82 72.32 L606.9 72.64 L608.02 72.89 L609.04 73.06 L609.97 73.14 L610.81 73.14 L611.56 73.06 L612.28 72.95 L612.98 72.83 L613.64 72.68 L614.28 72.51 L614.96 72.18 L615.68 71.69 L616.44 71.03 L617.23 70.22 L617.99 69.33 L618.71 68.35 L619.39 67.29 L620.03 66.15 L620.57 64.89 L621.02 63.5 L621.37 61.99 L621.62 60.35 L621.78 58.71 L621.86 57.07 L621.86 55.44 L621.78 53.8 L621.64 52.16 L621.44 50.52 L621.18 48.89 L620.86 47.25 L620.38 45.96 L619.75 45.02 L618.97 44.43 L618.03 44.19 L617.08 43.96 L616.12 43.75 L615.15 43.55 L614.16 43.37 L613.13 43.28 L612.06 43.28 L610.95 43.37 L609.8 43.55 L608.64 43.73 L607.47 43.91 L606.3 44.09 L605.11 44.28 L603.92 44.49 L602.73 44.73 L601.55 45 L600.36 45.31 L599.29 45.66 L598.34 46.05 L597.51 46.49 L596.8 46.98 L596.19 47.46 L595.69 47.95 L595.28 48.43 L594.99 48.92 L594.75 49.47 L594.57 50.09 L594.45 50.77 L594.39 51.52 L594.39 52.42 L594.44 53.45Z" fill="#f9efe9" opacity="0.7"/>
<path d="M583.26 57.6 L583.72 57.48 L584.18 57.48 L584.63 57.61 L585.09 57.87 L585.55 58.25 L586.01 58.69 L586.47 59.17 L586.93 59.69 L587.39 60.27 L587.81 60.84 L588.2 61.42 L588.54 61.99 L588.85 62.56 L589.13 63.14 L589.38 63.71 L589.61 64.29 L589.82 64.86 L589.95 65.41 L590 65.93 L589.97 66.42 L589.87 66.89 L589.68 67.27 L589.42 67.56 L589.07 67.75 L588.64 67.86 L588.16 67.9 L587.62 67.87 L587.03 67.78 L586.39 67.62 L585.78 67.42 L585.2 67.17 L584.66 66.87 L584.15 66.53 L583.68 66.14 L583.24 65.71 L582.85 65.23 L582.49 64.71 L582.21 64.15 L582.01 63.57 L581.88 62.95 L581.83 62.31 L581.8 61.69 L581.8 61.11 L581.83 60.56 L581.88 60.03 L581.95 59.55 L582.06 59.11 L582.18 58.7 L582.34 58.34 L582.57 58.03 L582.87 57.79Z" fill="#f7f7f7" opacity="0.7"/>
<path d="M582.09 24.93 L582.35 24.72 L582.66 24.55 L582.99 24.42 L583.37 24.33 L583.77 24.28 L584.17 24.26 L584.55 24.27 L584.92 24.31 L585.28 24.38 L585.51 24.52 L585.61 24.73 L585.59 25.01 L585.43 25.35 L585.24 25.67 L585.01 25.98 L584.74 26.26 L584.44 26.52 L584.17 26.79 L583.94 27.08 L583.75 27.38 L583.6 27.69 L583.42 27.9 L583.21 28.01 L582.98 28.01 L582.73 27.9 L582.5 27.77 L582.29 27.62 L582.11 27.43 L581.96 27.22 L581.84 26.96 L581.76 26.65 L581.72 26.29 L581.71 25.87 L581.76 25.5 L581.89 25.19Z" fill="#fae9df" opacity="0.7"/>
<path d="M648.05 42.68 L648.2 42.55 L648.37 42.48 L648.55 42.45 L648.74 42.48 L648.94 42.55 L649.08 42.66 L649.16 42.8 L649.17 42.97 L649.12 43.18 L649.03 43.36 L648.9 43.52 L648.74 43.65 L648.53 43.75 L648.34 43.82 L648.16 43.84 L648 43.83 L647.84 43.78 L647.74 43.69 L647.69 43.56 L647.69 43.39 L647.74 43.18 L647.82 42.99 L647.92 42.82Z" fill="#f7f7f7" opacity="0.7"/>
<g transform="scale(.5)" fill="none" stroke-linecap="square" stroke-width="1.7">
<path d="M1237 105h0M1226 87h0M1206 73h0M1213 46h0M1247 129h0M1184 83h0M1213 125h0M1223 143h0M1261 113h0M1225 103h0M1214 41h0M1274 109h0M1268 95h0M1226 70h0M1243 133h0M1244 82h0M1181 86h0M1223 73h0M1205 47h0M1212 72h0M1236 63h0M1201 113h0M1205 86h0M1209 35h0M1217 64h0M1203 92h0M1229 90h0M1207 78h0M1170 126h0M1218 85h0M1208 133h0M1181 131h0M1238 133h0M1201 130h0M1196 91h0M1201 121h0M1210 63h0M1235 102h0M1221 34h0M1246 90h0M1216 71h0M1187 72h0M1224 96h0M1238 135h0M1215 61h0M1191 58h0M1274 128h0M1205 84h0M1247 125h0M1195 103h0M1225 44h0M1204 90h0M1210 95h0M1216 107h0M1214 126h0M1243 100h0M1249 126h0M1245 100h0M1235 137h0M1212 46h0M1224 122h0M1231 70h0M1186 62h0M1216 59h0M1262 123h0M1190 121h0M1159 129h0M1214 102h0M1267 113h0M1205 92h0M1210 61h0M1241 47h0M1228 136h0M1198 118h0M1185 71h0M1163 60h0M1221 57h0M1242 111h0M1234 49h0M1251 104h0M1259 113h0M1186 80h0M1194 74h0M1191 110h0M1238 103h0M1274 128h0M1193 67h0M1164 52h0M1235 60h0M1189 59h0M1245 63h0M1254 123h0M1211 120h0M1187 68h0M1257 130h0M1273 109h0M1191 90h0M1268 110h0M1236 130h0M1212 131h0M1261 106h0M1211 86h0M1204 117h0M1221 136h0M1184 79h0M1183 76h0M1230 57h0M1228 64h0M1217 50h0M1230 87h0M1238 128h0M1204 145h0M1208 46h0M1179 129h0M1169 117h0M1211 117h0M1193 59h0M1252 121h0M1279 115h0M1208 99h0M1199 126h0M1202 48h0M1228 81h0M1234 125h0M1261 115h0M1253 102h0M1216 105h0M1199 61h0M1190 83h0M1209 40h0M1218 38h0M1269 112h0M1259 67h0M1227 90h0M1245 50h0M1279 116h0M1220 141h0M1247 60h0M1221 117h0M1207 144h0M1195 114h0M1170 116h0M1205 37h0M1231 48h0M1246 123h0M1202 64h0M1225 60h0M1240 122h0M1249 119h0M1232 89h0M1218 84h0M1190 83h0M1199 99h0M1236 97h0M1218 79h0M1229 75h0M1249 130h0M1206 132h0M1270 118h0M1192 66h0M1222 129h0M1269 103h0M1222 99h0M1235 97h0M1201 61h0M1223 124h0M1238 134h0M1246 116h0M1186 91h0M1195 98h0M1188 110h0M1221 121h0M1186 89h0M1193 71h0M1258 117h0M1239 62h0M1195 52h0M1256 119h0M1204 137h0M1190 116h0M1218 105h0M1231 74h0M1231 125h0M1195 93h0M1244 94h0M1166 121h0M1238 76h0M1228 75h0M1195 112h0M1198 67h0M1188 73h0M1249 83h0M1206 46h0M1229 79h0M1276 127h0M1246 68h0M1227 112h0M1222 61h0M1263 124h0M1266 100h0M1231 48h0M1249 123h0M1195 92h0M1221 122h0M1219 54h0M1275 109h0M1260 112h0M1191 64h0M1245 120h0M1254 78h0M1234 61h0M1223 84h0M1217 124h0M1221 74h0M1191 110h0M1228 142h0M1211 92h0M1255 119h0M1233 89h0M1257 103h0M1200 62h0M1230 87h0M1228 62h0M1215 80h0M1235 134h0M1213 140h0M1195 102h0M1244 70h0M1160 125h0M1201 37h0M1192 40h0M1184 65h0M1203 124h0M1251 126h0M1225 142h0M1188 115h0M1224 110h0M1202 61h0M1207 58h0M1217 107h0M1209 72h0M1166 121h0M1231 62h0M1249 56h0M1224 115h0M1218 70h0M1219 121h0M1269 117h0M1276 113h0M1253 72h0M1243 132h0M1198 83h0M1200 102h0M1248 109h0M1204 62h0M1164 54h0M1218 74h0M1217 67h0M1247 90h0M1203 100h0M1235 104h0M1213 138h0M1218 87h0M1211 36h0M1207 102h0M1272 119h0M1214 97h0M1277 120h0M1270 104h0M1255 115h0M1203 47h0M1236 119h0M1249 108h0M1230 110h0M1228 83h0M1170 128h0M1213 70h0M1230 141h0M1223 43h0M1253 69h0M1218 51h0M1202 131h0M1219 84h0M1216 109h0M1263 86h0M1246 99h0M1252 81h0M1242 103h0M1275 120h0M1210 53h0M1216 68h0M1274 125h0M1255 78h0M1191 108h0M1164 116h0M1215 78h0M1253 102h0M1243 86h0M1214 119h0M1256 67h0M1244 114h0M1163 128h0M1268 102h0M1267 126h0M1249 79h0M1213 41h0M1222 68h0M1205 71h0M1221 93h0M1239 52h0M1224 141h0M1259 105h0M1258 88h0M1231 101h0M1257 80h0M1212 112h0M1191 85h0M1180 103h0M1178 54h0M1178 85h0M1173 48h0M1174 96h0M1176 105h0M1176 89h0M1182 95h0M1175 70h0" stroke="#f7f7f7"/>
<path d="M1262 88h0M1199 47h0M1245 133h0M1250 111h0M1202 76h0M1215 141h0M1230 122h0M1253 59h0M1194 110h0M1190 50h0M1196 67h0M1211 78h0M1243 62h0M1203 59h0M1230 71h0M1198 95h0M1231 78h0M1272 122h0M1208 58h0M1221 137h0M1190 95h0M1171 118h0M1224 93h0M1164 126h0M1204 121h0M1245 130h0M1201 89h0M1240 98h0M1233 87h0M1213 142h0M1218 101h0M1226 145h0M1235 113h0M1191 51h0M1192 61h0M1198 113h0M1260 124h0M1218 91h0M1233 59h0M1200 66h0M1254 73h0M1239 60h0M1231 68h0M1248 117h0M1276 125h0M1171 50h0M1216 146h0M1241 69h0M1215 80h0M1267 119h0M1205 90h0M1189 71h0M1188 94h0M1216 44h0M1276 99h0M1210 81h0M1200 60h0M1177 123h0M1208 100h0M1243 88h0M1207 128h0M1210 58h0M1197 87h0M1242 95h0M1228 64h0M1193 84h0M1204 85h0M1261 85h0M1218 128h0M1233 79h0M1259 118h0M1257 107h0M1268 112h0M1212 88h0M1194 68h0M1213 106h0M1212 133h0M1208 90h0M1245 69h0M1215 120h0M1228 139h0M1241 128h0M1185 108h0M1218 142h0M1218 103h0M1217 104h0M1236 111h0M1217 101h0M1258 64h0M1216 90h0M1217 129h0M1257 69h0M1202 100h0M1222 146h0M1207 145h0M1273 106h0M1266 123h0M1244 83h0M1212 103h0M1224 129h0M1233 63h0M1279 126h0M1197 82h0M1240 63h0M1226 100h0M1221 131h0M1194 105h0M1225 69h0M1200 103h0M1225 109h0M1190 54h0M1189 85h0M1214 82h0M1210 62h0M1222 149h0M1188 67h0M1234 60h0M1209 125h0M1212 62h0M1229 87h0M1224 71h0M1217 140h0M1173 56h0M1241 104h0M1168 122h0M1232 139h0M1223 148h0M1202 52h0M1256 128h0M1174 133h0M1206 41h0M1198 129h0M1194 76h0M1275 126h0M1200 106h0M1183 112h0M1228 107h0M1170 130h0M1217 67h0M1233 66h0M1202 120h0M1195 129h0M1265 101h0M1272 109h0M1249 56h0M1232 109h0M1213 85h0M1278 120h0M1211 49h0M1226 54h0M1229 130h0M1233 51h0M1223 91h0M1181 92h0M1193 49h0M1245 127h0M1212 65h0M1211 69h0M1252 96h0M1207 136h0M1220 102h0M1274 128h0M1200 94h0M1182 103h0M1222 101h0M1205 92h0M1270 120h0M1256 122h0M1199 95h0M1165 125h0M1230 71h0M1257 105h0M1231 60h0M1237 56h0M1200 103h0M1204 68h0M1219 102h0M1205 132h0M1273 105h0M1198 88h0M1188 108h0M1195 58h0M1274 122h0M1245 60h0M1272 118h0M1220 104h0M1201 84h0M1177 122h0M1216 78h0M1225 65h0M1201 57h0M1230 99h0M1207 125h0M1197 106h0M1232 91h0M1219 62h0M1221 82h0M1247 124h0M1224 62h0M1243 95h0M1276 122h0M1236 60h0M1197 57h0M1212 55h0M1196 68h0M1204 88h0M1198 76h0M1218 149h0M1177 128h0M1212 58h0M1241 95h0M1272 117h0M1209 64h0M1236 85h0M1244 98h0M1270 96h0M1179 135h0M1204 107h0M1216 59h0M1169 121h0M1262 105h0M1183 95h0M1207 95h0M1215 65h0M1180 84h0M1223 136h0M1228 98h0M1224 129h0M1202 93h0M1172 123h0M1250 118h0M1217 43h0M1226 60h0M1223 103h0M1175 119h0M1228 57h0M1195 122h0M1179 84h0M1254 101h0M1201 50h0M1262 106h0M1235 113h0M1204 82h0M1220 99h0M1214 51h0M1220 110h0M1191 98h0M1211 75h0M1221 76h0M1260 98h0M1270 121h0M1220 89h0M1242 77h0M1223 64h0M1205 103h0M1191 104h0M1209 88h0M1171 131h0M1163 47h0M1217 36h0M1192 122h0M1216 57h0M1213 137h0M1174 125h0M1241 70h0M1225 79h0M1169 120h0M1200 82h0M1212 35h0M1212 135h0M1230 57h0M1275 114h0M1209 91h0M1234 106h0M1218 69h0M1228 68h0M1239 130h0M1221 129h0M1242 116h0M1230 133h0M1205 89h0M1257 80h0M1179 74h0M1177 94h0M1174 61h0M1172 98h0M1181 105h0M1177 90h0" stroke="#eef2f5"/>
<path d="M1217 129h0M1276 132h0M1239 122h0M1251 92h0M1209 54h0M1263 93h0M1260 76h0M1205 115h0M1245 91h0M1260 91h0M1185 98h0M1215 63h0M1241 107h0M1200 96h0M1168 127h0M1226 106h0M1213 69h0M1229 52h0M1242 108h0M1189 67h0M1169 132h0M1247 55h0M1166 55h0M1230 67h0M1213 67h0M1271 116h0M1218 93h0M1199 95h0M1177 117h0M1222 50h0M1256 97h0M1182 77h0M1235 44h0M1281 121h0M1254 76h0M1208 50h0M1173 117h0M1204 71h0M1274 118h0M1246 89h0M1170 53h0M1191 108h0M1224 81h0M1250 122h0M1223 131h0M1207 66h0M1189 57h0M1260 101h0M1281 132h0M1236 109h0M1225 112h0M1186 88h0M1192 119h0M1208 68h0M1241 95h0M1195 118h0M1205 37h0M1235 81h0M1195 106h0M1208 78h0M1208 121h0M1197 40h0M1202 125h0M1239 54h0M1242 131h0M1227 76h0M1235 101h0M1260 71h0M1188 87h0M1179 131h0M1201 97h0M1227 122h0M1238 85h0M1224 116h0M1234 62h0M1183 91h0M1246 94h0M1250 100h0M1266 125h0M1229 65h0M1263 90h0M1230 83h0M1197 63h0M1208 135h0M1220 102h0M1215 96h0M1271 121h0M1224 106h0M1223 70h0M1197 123h0M1181 68h0M1258 125h0M1167 52h0M1216 82h0M1267 112h0M1248 62h0M1224 46h0M1198 66h0M1255 125h0M1205 60h0M1220 77h0M1177 123h0M1250 66h0M1238 104h0M1254 72h0M1231 77h0M1258 88h0M1272 121h0M1201 128h0M1184 77h0M1243 40h0M1237 70h0M1188 111h0M1260 106h0M1208 84h0M1271 118h0M1213 73h0M1225 45h0M1211 124h0M1212 118h0M1223 135h0M1208 136h0M1253 105h0M1236 102h0M1214 76h0M1231 98h0M1194 63h0M1188 63h0M1213 48h0M1226 93h0M1244 113h0M1227 77h0M1252 75h0M1196 115h0M1258 130h0M1259 110h0M1194 67h0M1203 73h0M1250 105h0M1254 67h0M1235 130h0M1280 124h0M1230 114h0M1259 98h0M1210 141h0M1242 88h0M1226 61h0M1231 121h0M1188 112h0M1211 49h0M1248 90h0M1203 58h0M1227 63h0M1201 126h0M1233 90h0M1252 95h0M1280 123h0M1195 58h0M1201 124h0M1179 126h0M1261 93h0M1196 124h0M1218 85h0M1201 69h0M1161 126h0M1199 99h0M1262 73h0M1225 145h0M1187 59h0M1237 63h0M1202 63h0M1249 76h0M1211 131h0M1227 84h0M1210 81h0M1192 52h0M1237 98h0M1233 129h0M1169 51h0M1236 72h0M1210 45h0M1243 119h0M1233 60h0M1274 128h0M1203 66h0M1202 118h0M1280 124h0M1208 78h0M1237 44h0M1244 82h0M1251 109h0M1234 139h0M1222 146h0M1213 72h0M1176 140h0M1246 72h0M1271 120h0M1213 78h0M1233 143h0M1239 138h0M1239 128h0M1201 119h0M1191 87h0M1245 120h0M1233 128h0M1197 115h0M1231 137h0M1194 117h0M1257 102h0M1202 76h0M1261 85h0M1261 70h0M1218 75h0M1268 100h0M1219 70h0M1240 136h0M1249 111h0M1223 41h0M1244 78h0M1256 101h0M1209 51h0M1198 80h0M1235 55h0M1237 59h0M1236 69h0M1255 72h0M1257 87h0M1195 130h0M1197 59h0M1218 37h0M1243 90h0M1219 111h0M1214 142h0M1198 116h0M1254 90h0M1225 77h0M1231 124h0M1250 79h0M1213 69h0M1194 112h0M1174 123h0M1221 107h0M1209 96h0M1255 90h0M1250 76h0M1200 51h0M1241 125h0M1229 100h0M1240 131h0M1242 132h0M1213 93h0M1198 55h0M1210 41h0M1237 98h0M1265 120h0M1261 68h0M1214 86h0M1250 90h0M1262 117h0M1204 137h0M1244 81h0M1201 120h0M1224 36h0M1266 120h0M1225 65h0M1198 98h0M1194 63h0M1257 106h0M1204 97h0M1221 63h0M1243 115h0M1204 33h0M1244 93h0M1252 104h0M1218 135h0M1263 121h0M1266 99h0M1213 114h0M1217 95h0M1182 67h0M1221 133h0M1224 45h0M1246 106h0M1208 101h0M1175 130h0M1207 96h0M1219 114h0M1272 123h0M1216 143h0M1206 59h0M1217 105h0M1224 89h0M1249 119h0M1232 136h0M1236 137h0M1176 131h0M1174 123h0M1225 109h0M1228 132h0M1263 119h0M1209 98h0M1243 126h0M1208 41h0M1205 110h0M1214 124h0M1206 112h0M1205 118h0M1249 125h0M1260 119h0M1240 75h0M1233 74h0M1264 96h0M1241 77h0M1269 128h0M1250 92h0M1240 110h0M1221 112h0M1186 74h0M1236 64h0M1244 57h0M1198 120h0M1204 52h0M1217 108h0M1251 119h0M1189 92h0M1274 122h0M1258 80h0M1215 68h0M1187 74h0M1197 92h0M1198 69h0M1219 135h0M1184 88h0M1197 114h0M1189 49h0M1222 95h0M1184 61h0M1249 119h0M1194 62h0M1219 42h0M1198 116h0M1216 111h0M1177 137h0M1195 134h0M1225 61h0M1266 109h0M1263 84h0M1240 92h0M1237 73h0M1233 113h0M1270 125h0M1195 59h0M1190 101h0M1170 122h0M1221 101h0M1252 53h0M1206 70h0M1191 41h0M1222 87h0M1198 114h0M1220 143h0M1208 105h0M1170 98h0M1171 93h0M1182 50h0M1173 106h0M1171 84h0M1171 48h0M1174 68h0M1171 81h0M1173 52h0M1170 47h0M1171 55h0M1178 94h0M1174 79h0M1171 71h0M1182 104h0" stroke="#f8f0eb"/>
<path d="M1243 111h0M1276 117h0M1234 63h0M1257 99h0M1223 79h0M1190 76h0M1204 117h0M1192 98h0M1209 111h0M1226 61h0M1261 116h0M1195 94h0M1214 60h0M1190 75h0M1172 133h0M1221 46h0M1263 108h0M1224 141h0M1214 67h0M1172 119h0M1203 98h0M1225 138h0M1260 102h0M1211 68h0M1220 83h0M1259 91h0M1188 66h0M1226 109h0M1244 62h0M1166 120h0M1211 100h0M1205 61h0M1236 103h0M1228 123h0M1190 69h0M1226 66h0M1200 65h0M1218 69h0M1235 102h0M1172 118h0M1229 80h0M1202 74h0M1214 80h0M1240 91h0M1212 88h0M1233 87h0M1269 115h0M1189 69h0M1264 119h0M1196 65h0M1174 132h0M1203 134h0M1192 56h0M1188 99h0M1230 64h0M1228 75h0M1207 75h0M1232 122h0M1191 72h0M1251 60h0M1231 75h0M1189 63h0M1164 123h0M1237 79h0M1215 70h0M1176 132h0M1245 132h0M1233 106h0M1247 125h0M1192 123h0M1210 77h0M1214 78h0M1200 72h0M1229 63h0M1196 76h0M1260 82h0M1207 98h0M1221 114h0M1231 105h0M1204 102h0M1206 98h0M1173 122h0M1212 102h0M1211 72h0M1208 60h0M1202 59h0M1189 76h0M1209 84h0M1215 98h0M1259 104h0M1221 104h0M1227 126h0M1193 98h0M1244 123h0M1200 98h0M1273 123h0M1188 85h0M1243 107h0M1231 73h0M1218 75h0M1165 126h0M1268 131h0M1231 96h0M1175 125h0M1194 120h0M1220 96h0M1209 86h0M1163 120h0M1219 64h0M1248 54h0M1191 58h0M1258 115h0M1269 126h0M1280 115h0M1221 40h0M1206 79h0M1210 58h0M1219 60h0M1200 101h0M1204 72h0M1228 78h0M1213 95h0M1204 93h0M1248 73h0M1255 101h0M1217 88h0M1198 39h0M1220 88h0M1215 77h0M1225 90h0M1170 116h0M1202 69h0M1241 87h0M1206 95h0M1211 103h0M1252 106h0M1184 136h0M1234 73h0M1224 104h0M1192 120h0M1248 65h0M1188 68h0M1194 67h0M1228 61h0M1167 133h0M1232 75h0M1220 92h0M1202 121h0M1233 93h0M1237 108h0M1219 85h0M1206 87h0M1204 54h0M1202 98h0M1244 96h0M1168 125h0M1226 66h0M1277 128h0M1233 108h0M1221 83h0M1189 70h0M1190 56h0M1192 85h0M1244 51h0M1212 100h0M1227 70h0M1211 81h0M1219 147h0M1238 89h0M1238 66h0M1233 100h0M1209 100h0M1216 69h0M1212 75h0M1207 60h0M1234 141h0M1230 98h0M1232 116h0M1228 93h0M1202 70h0M1195 68h0M1186 92h0M1277 125h0M1211 57h0M1214 76h0M1191 65h0M1256 112h0M1242 102h0M1205 67h0M1231 61h0M1280 116h0M1274 129h0M1257 92h0M1242 107h0M1224 81h0M1258 126h0M1281 121h0M1186 68h0M1171 132h0M1265 91h0M1260 117h0M1245 86h0M1261 90h0M1228 88h0M1235 104h0M1205 89h0M1208 64h0M1216 66h0M1232 67h0M1269 114h0M1237 67h0M1210 79h0M1229 108h0M1229 98h0M1278 125h0M1174 87h0" stroke="#e4eef4"/>
<path d="M1168 126h0M1191 98h0M1264 90h0M1221 124h0M1226 142h0M1212 113h0M1244 109h0M1239 57h0M1257 59h0M1227 54h0M1195 90h0M1252 94h0M1197 80h0M1222 144h0M1254 85h0M1204 66h0M1231 123h0M1268 128h0M1207 142h0M1225 143h0M1196 104h0M1264 95h0M1224 139h0M1235 119h0M1214 145h0M1234 111h0M1204 68h0M1214 45h0M1226 75h0M1221 135h0M1209 113h0M1241 71h0M1239 50h0M1193 108h0M1264 86h0M1242 85h0M1195 125h0M1192 120h0M1258 99h0M1214 67h0M1194 94h0M1195 127h0M1227 126h0M1212 42h0M1230 97h0M1220 107h0M1247 125h0M1223 83h0M1227 129h0M1254 80h0M1221 106h0M1203 124h0M1167 128h0M1253 125h0M1244 61h0M1248 135h0M1182 68h0M1235 76h0M1244 75h0M1196 41h0M1194 115h0M1222 66h0M1205 37h0M1207 39h0M1192 106h0M1239 115h0M1200 52h0M1260 75h0M1187 84h0M1248 73h0M1237 135h0M1237 138h0M1205 128h0M1186 68h0M1281 124h0M1192 121h0M1198 105h0M1273 116h0M1196 108h0M1190 64h0M1266 111h0M1186 51h0M1204 45h0M1192 125h0M1228 77h0M1220 146h0M1206 134h0M1212 79h0M1201 138h0M1230 76h0M1238 121h0M1265 73h0M1207 37h0M1264 86h0M1218 63h0M1214 102h0M1245 82h0M1232 57h0M1187 104h0M1211 74h0M1223 125h0M1211 130h0M1197 62h0M1214 53h0M1230 116h0M1199 73h0M1238 56h0M1252 102h0M1209 133h0M1225 112h0M1269 116h0M1188 75h0M1220 140h0M1235 53h0M1218 138h0M1254 103h0M1247 134h0M1247 57h0M1219 146h0M1242 120h0M1239 82h0M1239 43h0M1242 102h0M1206 37h0M1185 58h0M1236 79h0M1215 136h0M1258 120h0M1212 93h0M1181 68h0M1247 96h0M1191 118h0M1224 143h0M1240 66h0M1193 43h0M1275 127h0M1202 98h0M1261 111h0M1258 122h0M1198 130h0M1250 63h0M1244 83h0M1234 133h0M1257 63h0M1217 76h0M1271 101h0M1261 124h0M1221 90h0M1242 73h0M1234 49h0M1214 51h0M1227 141h0M1241 56h0M1187 44h0M1247 47h0M1246 70h0M1241 107h0M1233 127h0M1241 89h0M1231 107h0M1203 72h0M1224 118h0M1226 38h0M1253 62h0M1252 78h0M1263 91h0M1200 122h0M1242 62h0M1205 33h0M1199 122h0M1238 91h0M1225 69h0M1212 77h0M1232 133h0M1236 50h0M1189 71h0M1263 118h0M1230 41h0M1190 69h0M1209 115h0M1236 87h0M1213 63h0M1254 78h0M1231 90h0M1226 83h0M1193 86h0M1191 116h0M1199 125h0M1277 127h0M1197 58h0M1223 58h0M1179 129h0M1277 112h0M1221 142h0M1255 124h0M1237 36h0M1196 64h0M1190 99h0M1264 119h0M1265 124h0M1225 73h0M1202 130h0M1233 135h0M1225 138h0M1231 146h0M1227 136h0M1197 104h0M1210 58h0M1245 76h0M1210 103h0M1210 57h0M1208 112h0M1223 146h0M1230 57h0M1193 81h0M1247 51h0M1200 51h0M1212 117h0M1265 89h0M1163 52h0M1265 92h0M1193 103h0M1172 134h0M1213 129h0M1279 124h0M1260 91h0M1196 34h0M1257 118h0M1188 101h0M1247 119h0M1194 43h0M1220 52h0M1230 124h0M1203 74h0M1217 125h0M1277 113h0M1235 88h0M1192 102h0M1197 111h0M1231 66h0M1186 70h0M1207 96h0M1270 120h0M1220 132h0M1264 105h0M1216 147h0M1230 41h0M1277 119h0M1251 112h0M1260 87h0M1207 111h0M1194 105h0M1238 127h0M1211 123h0M1226 141h0M1272 119h0M1200 38h0M1241 127h0M1252 60h0M1215 130h0M1206 70h0M1197 42h0M1220 75h0M1262 100h0M1189 50h0M1209 142h0M1188 68h0M1234 135h0M1184 62h0M1230 146h0M1197 51h0M1226 92h0M1171 123h0M1231 97h0M1173 132h0M1234 62h0M1222 87h0M1184 86h0M1198 63h0M1224 71h0M1225 120h0M1230 85h0M1230 117h0M1166 123h0M1249 96h0M1193 58h0M1213 135h0M1186 68h0M1256 96h0M1256 126h0M1254 60h0M1216 70h0M1220 113h0M1263 103h0M1232 66h0M1245 94h0M1195 101h0M1245 56h0M1271 118h0M1225 41h0M1217 117h0M1229 98h0M1218 45h0M1173 130h0M1196 38h0M1261 70h0M1232 77h0M1200 119h0M1230 128h0M1216 54h0M1212 127h0M1228 100h0M1233 67h0M1201 83h0M1259 109h0M1191 106h0M1238 113h0M1209 70h0M1202 120h0M1252 117h0M1214 49h0M1249 72h0M1265 103h0M1167 48h0M1244 55h0M1227 41h0M1182 108h0M1177 72h0M1176 81h0M1173 56h0M1175 98h0M1182 108h0M1173 65h0M1181 84h0M1179 101h0" stroke="#fae9df"/>
<path d="M1177 135h0M1259 85h0M1203 134h0M1209 134h0M1195 114h0M1166 125h0M1198 116h0M1226 83h0M1274 118h0M1222 108h0M1199 78h0M1223 146h0M1264 125h0M1235 62h0M1237 129h0M1251 62h0M1245 54h0M1243 72h0M1211 145h0M1240 119h0M1231 132h0M1192 93h0M1196 136h0M1227 84h0M1224 142h0M1233 95h0M1232 106h0M1189 110h0M1216 73h0M1216 63h0M1228 120h0M1220 82h0M1239 130h0M1182 100h0M1205 38h0M1191 67h0M1251 86h0M1196 111h0M1279 127h0M1196 96h0M1218 36h0M1255 97h0M1263 99h0M1209 50h0M1255 127h0M1211 40h0M1268 120h0M1224 55h0M1245 93h0M1192 104h0M1245 55h0M1216 61h0M1210 52h0M1201 53h0M1225 142h0M1224 116h0M1165 55h0M1266 127h0M1246 44h0M1234 80h0M1168 51h0M1239 124h0M1250 108h0M1241 56h0M1187 75h0M1163 135h0M1205 133h0M1244 80h0M1187 88h0M1243 128h0M1224 146h0M1191 123h0M1192 54h0M1246 116h0M1189 54h0M1216 147h0M1271 118h0M1170 119h0M1188 108h0M1197 131h0M1184 82h0M1263 76h0M1220 112h0M1206 126h0M1271 125h0M1230 75h0M1245 126h0M1235 76h0M1199 40h0M1170 134h0M1277 120h0M1236 118h0M1212 123h0M1278 120h0M1227 67h0M1245 70h0M1252 96h0M1208 129h0M1207 112h0M1241 114h0M1203 119h0M1182 78h0M1192 55h0M1202 49h0M1237 138h0M1218 42h0M1260 76h0M1206 81h0M1200 48h0M1217 124h0M1183 62h0M1247 64h0M1204 128h0M1230 138h0M1211 67h0M1234 134h0M1211 55h0M1189 105h0M1211 43h0M1244 120h0M1250 109h0M1243 86h0M1252 87h0M1185 59h0M1207 62h0M1244 129h0M1221 38h0M1198 38h0M1265 116h0M1180 79h0M1181 91h0M1268 125h0M1227 59h0M1194 54h0M1239 51h0M1234 134h0M1234 60h0M1201 120h0M1221 56h0M1275 123h0M1260 76h0M1197 121h0M1198 47h0M1228 134h0M1258 114h0M1241 121h0M1270 100h0M1259 65h0M1189 102h0M1217 43h0M1210 46h0M1217 47h0M1188 74h0M1203 139h0M1229 116h0M1242 133h0M1186 51h0M1268 124h0M1197 87h0M1189 66h0M1265 105h0M1200 132h0M1197 47h0M1204 138h0M1231 65h0M1271 115h0M1233 53h0M1247 74h0M1245 56h0M1192 105h0M1241 126h0M1215 138h0M1243 57h0M1256 121h0M1191 93h0M1209 51h0M1196 124h0M1195 55h0M1232 123h0M1238 64h0M1196 122h0M1257 101h0M1256 103h0M1253 65h0M1187 66h0M1222 132h0M1192 45h0M1227 127h0M1210 116h0M1233 74h0M1206 124h0M1194 53h0M1188 84h0M1167 54h0M1245 121h0M1187 69h0M1164 123h0M1185 63h0M1166 131h0M1203 144h0M1263 110h0M1203 38h0M1253 58h0M1210 128h0M1167 130h0M1214 145h0M1242 117h0M1229 82h0M1209 75h0M1196 56h0M1255 124h0M1202 125h0M1257 87h0M1189 56h0M1236 76h0M1201 144h0M1232 54h0M1227 45h0M1168 132h0M1202 55h0M1202 51h0M1164 127h0M1241 81h0M1230 126h0M1236 120h0M1228 119h0M1199 75h0M1250 80h0M1228 129h0M1183 81h0M1195 103h0M1235 145h0M1217 127h0M1193 122h0M1244 65h0M1198 87h0M1205 116h0M1247 99h0M1209 50h0M1254 90h0M1237 53h0M1214 128h0M1212 39h0M1229 122h0M1276 132h0M1183 89h0M1211 56h0M1242 122h0M1264 91h0M1224 60h0M1166 120h0M1241 44h0M1182 94h0M1235 130h0M1206 116h0M1251 111h0M1244 73h0M1184 77h0M1246 93h0M1204 93h0M1240 81h0M1185 54h0M1227 107h0M1203 110h0M1237 83h0M1240 115h0M1186 81h0M1229 81h0M1250 59h0M1192 94h0M1232 69h0M1189 100h0M1258 121h0M1258 63h0M1226 129h0M1176 132h0M1201 51h0M1265 90h0M1187 93h0M1208 53h0M1239 61h0M1270 108h0M1217 133h0M1266 104h0M1255 126h0M1186 57h0M1224 43h0M1238 76h0M1227 126h0M1211 119h0M1206 80h0M1258 75h0M1183 88h0M1203 56h0M1205 48h0M1212 58h0M1208 40h0M1211 143h0M1254 125h0M1261 75h0M1257 91h0M1235 134h0M1223 94h0M1231 84h0M1200 88h0M1252 76h0M1218 123h0M1249 130h0M1260 58h0M1171 57h0M1182 55h0M1174 66h0M1177 63h0M1179 102h0M1178 64h0" stroke="#fce2d3"/>
<path d="M1218 74h0M1173 128h0M1197 84h0M1221 72h0M1260 119h0M1215 90h0M1171 49h0M1165 124h0M1239 106h0M1162 58h0M1216 93h0M1220 83h0M1267 128h0M1253 127h0M1196 99h0M1274 130h0M1183 62h0M1230 126h0M1199 79h0M1217 100h0M1232 88h0M1234 110h0M1169 122h0M1226 89h0M1202 82h0M1263 94h0M1226 104h0M1212 64h0M1204 70h0M1217 107h0M1198 68h0M1222 86h0M1230 73h0M1252 129h0M1262 119h0M1266 121h0M1209 90h0M1211 101h0M1259 104h0M1240 104h0M1212 81h0M1206 52h0M1175 129h0M1251 126h0M1216 82h0M1274 117h0M1206 108h0M1253 81h0M1258 85h0M1243 104h0M1231 105h0M1193 93h0M1241 113h0M1220 69h0M1204 121h0M1215 80h0M1225 89h0M1236 94h0M1208 130h0M1202 83h0M1245 55h0M1198 113h0M1198 78h0M1207 74h0M1184 113h0M1231 102h0M1164 122h0M1208 100h0M1168 133h0M1261 99h0M1202 85h0M1221 60h0M1222 62h0M1213 98h0M1269 100h0M1186 86h0M1203 102h0M1212 117h0M1232 57h0M1267 113h0M1200 59h0M1215 76h0M1193 60h0M1192 68h0M1229 97h0M1211 103h0M1248 122h0M1170 126h0M1168 54h0M1249 61h0M1165 56h0M1276 107h0M1228 110h0M1210 64h0M1204 97h0M1267 108h0M1202 83h0M1198 102h0M1209 100h0M1237 61h0M1216 79h0M1234 126h0M1182 89h0M1254 78h0M1224 68h0M1194 103h0M1198 83h0M1216 70h0M1240 118h0M1227 61h0M1202 66h0M1224 90h0M1209 90h0M1258 96h0M1230 75h0M1196 84h0M1213 81h0M1161 115h0M1226 76h0M1219 89h0M1228 84h0M1190 66h0M1223 88h0M1201 109h0M1218 100h0M1252 122h0M1232 97h0M1237 64h0M1215 124h0M1212 120h0M1222 75h0M1198 74h0M1204 90h0M1185 68h0M1225 92h0M1206 108h0M1184 62h0M1230 85h0M1218 90h0M1189 67h0M1204 117h0M1211 95h0M1200 91h0M1233 117h0M1166 130h0M1203 107h0M1173 108h0M1172 63h0M1183 104h0M1178 90h0" stroke="#daeaf2"/>
<path d="M1217 77h0M1241 108h0M1208 89h0M1199 70h0M1233 76h0M1214 105h0M1264 122h0M1218 100h0M1235 86h0M1197 62h0M1223 105h0M1231 64h0M1198 60h0M1163 118h0M1253 125h0M1205 110h0M1255 106h0M1216 70h0M1210 87h0M1248 125h0M1226 78h0M1247 114h0M1239 106h0M1206 83h0M1205 121h0M1231 76h0M1199 74h0M1235 91h0M1238 105h0M1215 100h0M1227 54h0M1235 95h0M1233 52h0M1235 59h0M1212 107h0M1233 67h0M1233 87h0M1249 55h0M1176 130h0M1240 113h0M1260 120h0M1219 92h0M1204 110h0M1228 91h0M1200 105h0M1229 69h0M1177 138h0M1229 88h0M1267 115h0M1164 120h0M1265 119h0M1225 67h0M1197 99h0M1236 103h0M1251 125h0M1231 86h0M1201 84h0M1193 85h0M1259 103h0M1262 109h0M1249 57h0M1188 93h0M1163 57h0M1240 92h0M1237 67h0M1236 96h0M1194 136h0M1196 87h0M1208 69h0M1201 75h0M1227 101h0M1177 135h0M1172 118h0M1275 115h0M1215 94h0M1212 108h0M1227 106h0M1193 106h0M1200 103h0M1266 113h0M1241 98h0M1166 117h0M1203 61h0M1230 88h0M1231 103h0M1215 93h0M1237 62h0M1231 66h0M1223 89h0M1205 82h0M1259 107h0M1279 132h0M1199 93h0M1242 109h0M1242 100h0M1255 124h0M1213 104h0M1202 63h0M1260 87h0M1205 100h0M1222 94h0M1199 62h0M1189 80h0M1268 129h0M1267 127h0M1211 93h0M1281 115h0M1166 117h0M1171 132h0M1197 107h0M1244 103h0M1271 111h0M1256 103h0M1224 91h0M1221 106h0M1233 95h0M1218 81h0M1204 127h0M1199 105h0M1192 63h0M1203 62h0M1218 101h0M1190 77h0M1171 118h0M1209 92h0M1250 106h0M1208 73h0M1233 108h0M1163 118h0M1216 70h0M1216 94h0M1234 67h0M1265 111h0M1180 133h0M1252 122h0M1220 66h0M1264 125h0M1177 86h0M1180 104h0" stroke="#d1e5f0"/>
<path d="M1232 51h0M1213 125h0M1195 129h0M1227 47h0M1197 43h0M1227 125h0M1203 84h0M1224 104h0M1239 71h0M1263 106h0M1207 130h0M1255 109h0M1216 45h0M1275 122h0M1192 106h0M1180 82h0M1260 118h0M1194 74h0M1239 82h0M1230 137h0M1257 126h0M1223 74h0M1257 126h0M1240 55h0M1230 129h0M1227 49h0M1257 98h0M1218 121h0M1179 131h0M1239 136h0M1252 64h0M1183 57h0M1212 52h0M1217 48h0M1269 97h0M1232 92h0M1232 48h0M1260 125h0M1239 44h0M1219 130h0M1248 106h0M1225 147h0M1237 133h0M1183 67h0M1260 117h0M1189 52h0M1172 132h0M1269 99h0M1251 99h0M1208 127h0M1235 86h0M1174 120h0M1205 53h0M1240 136h0M1232 80h0M1233 53h0M1196 89h0M1249 122h0M1200 36h0M1228 117h0M1235 83h0M1245 117h0M1241 52h0M1201 125h0M1238 125h0M1222 40h0M1222 113h0M1224 114h0M1212 138h0M1184 71h0M1227 116h0M1216 123h0M1239 96h0M1252 93h0M1201 133h0M1231 45h0M1242 127h0M1199 123h0M1207 45h0M1216 50h0M1241 131h0M1210 120h0M1258 107h0M1187 65h0M1184 64h0M1260 122h0M1229 37h0M1260 109h0M1200 129h0M1224 147h0M1218 44h0M1214 96h0M1235 64h0M1209 48h0M1191 108h0M1196 50h0M1240 70h0M1198 37h0M1244 87h0M1233 48h0M1239 56h0M1214 75h0M1245 78h0M1211 115h0M1234 73h0M1209 136h0M1230 119h0M1229 54h0M1217 147h0M1267 124h0M1215 47h0M1164 56h0M1231 118h0M1195 118h0M1201 94h0M1221 49h0M1221 61h0M1248 116h0M1217 42h0M1230 133h0M1250 126h0M1206 140h0M1224 127h0M1253 117h0M1273 96h0M1243 97h0M1203 128h0M1217 140h0M1251 89h0M1199 124h0M1241 130h0M1192 93h0M1171 127h0M1234 48h0M1243 60h0M1199 117h0M1200 36h0M1192 40h0M1186 111h0M1228 51h0M1255 113h0M1250 99h0M1227 124h0M1227 53h0M1183 61h0M1236 71h0M1202 132h0M1171 49h0M1263 89h0M1215 141h0M1251 132h0M1260 75h0M1203 126h0M1185 73h0M1250 122h0M1254 104h0M1220 53h0M1180 82h0M1238 127h0M1195 84h0M1248 64h0M1211 143h0M1206 66h0M1220 126h0M1222 136h0M1213 142h0M1206 40h0M1259 107h0M1240 49h0M1274 107h0M1222 61h0M1193 39h0M1194 124h0M1164 50h0M1227 127h0M1243 112h0M1256 105h0M1220 56h0M1202 140h0M1230 135h0M1265 72h0M1221 130h0M1187 53h0M1227 48h0M1250 106h0M1248 92h0M1281 119h0M1239 45h0M1232 83h0M1204 142h0M1200 131h0M1203 135h0M1223 139h0M1218 44h0M1213 56h0M1200 45h0M1229 131h0M1230 144h0M1232 47h0M1201 57h0M1183 71h0M1187 94h0M1206 46h0M1228 47h0M1229 125h0M1242 125h0M1238 53h0M1254 100h0M1252 85h0M1264 100h0M1242 130h0M1220 133h0M1237 117h0M1256 119h0M1220 42h0M1223 136h0M1275 127h0M1185 62h0M1192 110h0M1248 115h0M1204 124h0M1249 91h0M1241 65h0M1238 118h0M1250 77h0M1185 62h0M1194 43h0M1185 59h0M1226 144h0M1206 114h0M1218 127h0M1229 135h0M1221 49h0M1227 130h0M1260 77h0M1206 118h0M1206 138h0M1189 53h0M1226 99h0M1240 47h0M1234 72h0M1225 138h0M1230 49h0M1219 107h0M1207 116h0M1271 112h0M1269 117h0M1224 55h0M1266 126h0M1203 72h0M1250 91h0M1216 104h0M1202 123h0M1191 46h0M1238 47h0M1185 72h0M1246 68h0M1267 88h0M1220 36h0M1239 86h0M1199 129h0M1223 143h0M1234 137h0M1225 104h0M1241 114h0M1213 34h0M1216 127h0M1217 112h0M1247 118h0M1221 120h0M1229 50h0M1216 134h0M1231 149h0M1193 98h0M1202 34h0M1173 79h0M1175 90h0M1170 92h0M1179 100h0M1175 76h0M1172 82h0M1179 77h0M1177 73h0" stroke="#fddbc7"/>
<path d="M1247 69h0M1196 40h0M1225 104h0M1223 83h0M1236 49h0M1226 150h0M1235 50h0M1219 125h0M1244 68h0M1205 53h0M1264 99h0M1223 122h0M1183 83h0M1192 48h0M1201 126h0M1205 142h0M1210 138h0M1191 74h0M1223 83h0M1239 78h0M1238 130h0M1257 73h0M1249 62h0M1182 66h0M1225 42h0M1249 96h0M1240 113h0M1222 33h0M1249 81h0M1225 147h0M1196 124h0M1197 124h0M1279 108h0M1204 120h0M1236 138h0M1184 69h0M1203 130h0M1217 117h0M1266 104h0M1206 96h0M1222 126h0M1248 95h0M1204 125h0M1222 131h0M1215 47h0M1196 128h0M1183 60h0M1247 62h0M1226 81h0M1221 36h0M1269 109h0M1245 95h0M1219 124h0M1224 145h0M1197 51h0M1188 56h0M1215 119h0M1231 46h0M1188 65h0M1215 52h0M1237 41h0M1192 61h0M1225 112h0M1235 111h0M1259 111h0M1243 79h0M1260 74h0M1228 51h0M1245 86h0M1252 88h0M1221 75h0M1226 135h0M1192 107h0M1232 44h0M1254 79h0M1226 74h0M1214 43h0M1189 61h0M1254 90h0M1210 113h0M1189 110h0M1236 130h0M1218 41h0M1182 62h0M1237 120h0M1240 115h0M1241 51h0M1272 94h0M1212 49h0M1193 116h0M1229 82h0M1261 85h0M1248 106h0M1260 110h0M1276 126h0M1230 52h0M1274 112h0M1216 38h0M1263 94h0M1192 99h0M1209 44h0M1237 78h0M1231 52h0M1223 51h0M1189 47h0M1200 132h0M1235 131h0M1235 129h0M1231 43h0M1188 55h0M1258 114h0M1251 92h0M1259 90h0M1212 43h0M1252 128h0M1198 116h0M1196 40h0M1256 116h0M1199 50h0M1265 102h0M1165 52h0M1262 90h0M1208 113h0M1217 97h0M1229 138h0M1222 131h0M1206 53h0M1235 44h0M1261 105h0M1258 103h0M1253 113h0M1205 49h0M1236 51h0M1214 120h0M1185 88h0M1202 84h0M1225 115h0M1234 131h0M1247 86h0M1186 67h0M1237 119h0M1232 46h0M1240 79h0M1190 63h0M1261 70h0M1235 44h0M1225 40h0M1201 124h0M1194 54h0M1180 89h0M1250 61h0M1185 63h0M1200 128h0M1235 148h0M1215 134h0M1237 117h0M1238 55h0M1194 109h0M1236 95h0M1263 85h0M1218 50h0M1256 102h0M1227 131h0M1231 70h0M1209 132h0M1195 94h0M1217 36h0M1254 86h0M1201 77h0M1222 139h0M1247 132h0M1248 82h0M1261 102h0M1203 45h0M1205 38h0M1207 36h0M1225 117h0M1255 99h0M1186 83h0M1192 123h0M1232 40h0M1249 101h0M1208 50h0M1233 49h0M1200 56h0M1226 116h0M1205 134h0M1185 53h0M1222 46h0M1210 119h0M1272 120h0M1222 48h0M1223 43h0M1246 93h0M1193 117h0M1224 58h0M1213 113h0M1203 39h0M1199 135h0M1253 90h0M1216 127h0M1224 123h0M1188 40h0M1181 87h0M1249 79h0M1202 77h0M1257 121h0M1231 140h0M1198 58h0M1249 57h0M1211 53h0M1241 126h0M1227 143h0M1208 52h0M1231 51h0M1260 100h0M1164 51h0M1167 131h0M1194 111h0M1266 104h0M1178 62h0M1179 82h0M1179 91h0M1178 93h0M1176 49h0M1172 89h0M1173 61h0" stroke="#fbceb6"/>
<path d="M1205 90h0M1280 117h0M1207 57h0M1250 105h0M1240 99h0M1253 122h0M1254 69h0M1264 91h0M1167 114h0M1217 94h0M1231 140h0M1203 93h0M1215 103h0M1201 96h0M1230 121h0M1233 92h0M1237 57h0M1227 107h0M1259 104h0M1194 85h0M1245 104h0M1245 100h0M1199 106h0M1259 96h0M1237 110h0M1188 76h0M1240 105h0M1219 100h0M1225 64h0M1203 102h0M1232 101h0M1264 123h0M1215 74h0M1268 118h0M1255 112h0M1223 96h0M1209 69h0M1227 66h0M1234 88h0M1204 85h0M1190 67h0M1214 92h0M1195 99h0M1247 105h0M1276 111h0M1165 121h0M1194 59h0M1211 99h0M1192 85h0M1252 118h0M1255 119h0M1195 93h0M1237 98h0M1221 107h0M1204 102h0M1222 73h0M1176 127h0M1189 62h0M1227 88h0M1208 70h0M1266 108h0M1161 124h0M1223 99h0M1161 113h0M1189 79h0M1243 106h0M1231 109h0M1186 52h0M1188 82h0M1219 100h0M1225 86h0M1202 89h0M1232 106h0M1166 114h0M1189 89h0M1179 106h0" stroke="#c1ddec"/>
<path d="M1177 134h0M1212 88h0M1248 125h0M1191 72h0M1177 131h0M1197 76h0M1214 92h0M1228 102h0M1210 98h0M1232 72h0M1228 74h0M1181 124h0M1232 107h0M1217 89h0M1207 64h0M1212 112h0M1194 120h0M1214 67h0M1224 66h0M1196 68h0M1231 99h0M1172 131h0M1168 128h0M1217 107h0M1227 63h0M1209 62h0M1202 87h0M1212 105h0M1219 86h0M1196 132h0M1212 75h0M1192 66h0M1198 110h0M1200 115h0M1209 104h0M1220 121h0M1210 61h0M1233 94h0M1233 109h0M1238 63h0M1202 65h0M1225 65h0M1189 66h0M1227 107h0M1198 64h0M1223 100h0M1244 108h0M1234 110h0M1201 106h0M1216 93h0M1223 78h0M1213 106h0M1204 107h0M1232 95h0M1251 115h0M1224 108h0M1197 103h0M1245 109h0M1206 102h0M1183 132h0M1200 82h0" stroke="#b2d5e7"/>
<path d="M1207 37h0M1254 102h0M1246 131h0M1262 94h0M1209 134h0M1233 141h0M1251 100h0M1209 84h0M1258 121h0M1217 135h0M1251 111h0M1200 39h0M1220 40h0M1197 48h0M1199 52h0M1225 41h0M1204 48h0M1235 123h0M1204 43h0M1182 78h0M1172 125h0M1209 55h0M1244 77h0M1224 37h0M1196 89h0M1217 74h0M1244 111h0M1244 113h0M1203 45h0M1233 127h0M1189 90h0M1250 126h0M1240 50h0M1187 82h0M1189 115h0M1216 98h0M1221 55h0M1216 142h0M1217 55h0M1230 138h0M1241 62h0M1220 129h0M1193 45h0M1207 36h0M1222 41h0M1226 144h0M1208 93h0M1241 123h0M1238 52h0M1213 49h0M1224 49h0M1213 135h0M1214 85h0M1189 104h0M1203 74h0M1238 139h0M1254 109h0M1186 66h0M1253 74h0M1247 52h0M1222 55h0M1235 41h0M1222 50h0M1166 126h0M1191 96h0M1212 116h0M1231 75h0M1222 48h0M1234 41h0M1229 47h0M1184 56h0M1187 86h0M1243 49h0M1218 49h0M1209 107h0M1237 76h0M1191 116h0M1250 98h0M1207 46h0M1253 119h0M1199 32h0M1239 72h0M1212 127h0M1246 90h0M1184 65h0M1183 57h0M1214 131h0M1222 42h0M1186 86h0M1205 138h0M1228 131h0M1265 84h0M1202 50h0M1222 56h0M1201 37h0M1262 69h0M1222 55h0M1210 50h0M1223 44h0M1241 125h0M1234 139h0M1256 70h0M1187 90h0M1215 38h0M1210 55h0M1210 144h0M1186 92h0M1246 54h0M1233 114h0M1207 111h0M1252 111h0M1236 115h0M1217 47h0M1196 128h0M1206 139h0M1259 69h0M1239 132h0M1221 121h0M1238 54h0M1191 94h0M1225 112h0M1235 85h0M1239 56h0M1266 97h0M1203 126h0M1186 73h0M1231 52h0M1245 91h0M1188 88h0M1218 130h0M1225 121h0M1182 77h0M1235 142h0M1262 100h0M1235 75h0M1240 93h0M1249 81h0M1223 116h0M1237 137h0M1184 61h0M1266 102h0M1251 84h0M1188 43h0M1249 97h0M1231 123h0M1241 67h0M1208 138h0M1217 53h0M1217 78h0M1249 93h0M1234 43h0M1197 52h0M1263 86h0M1214 144h0M1200 51h0M1247 94h0M1205 37h0M1190 91h0M1245 78h0M1192 46h0M1223 82h0M1237 73h0M1257 67h0M1230 138h0M1238 43h0M1237 113h0M1196 90h0M1228 129h0M1208 41h0M1217 52h0M1259 73h0M1271 98h0M1235 111h0M1192 40h0M1213 147h0M1258 68h0M1269 124h0M1211 119h0M1221 44h0M1197 42h0M1190 59h0M1220 131h0M1263 98h0M1212 114h0M1223 37h0M1243 69h0M1207 136h0M1209 39h0M1231 125h0M1177 92h0M1179 63h0M1178 102h0M1174 49h0M1174 68h0M1179 101h0M1179 96h0M1180 98h0M1176 74h0M1181 46h0" stroke="#f8c0a4"/>
<path d="M1215 57h0M1224 78h0M1170 116h0M1201 111h0M1210 85h0M1178 139h0M1220 85h0M1241 89h0M1271 111h0M1244 109h0M1213 90h0M1197 92h0M1225 86h0M1200 90h0M1266 122h0M1218 90h0M1241 142h0M1214 85h0M1232 86h0M1229 98h0M1200 97h0M1206 92h0" stroke="#a2cde2"/>
<path d="M1229 51h0M1188 51h0M1248 52h0M1189 114h0M1212 35h0M1245 51h0M1189 50h0M1205 145h0M1204 62h0M1244 92h0M1257 66h0M1218 135h0M1268 103h0M1245 121h0M1191 94h0M1228 123h0M1252 117h0M1257 64h0M1230 126h0M1257 103h0M1205 51h0M1219 125h0M1258 64h0M1216 39h0M1192 55h0M1206 38h0M1190 104h0M1203 40h0M1182 73h0M1164 44h0M1226 123h0M1190 92h0M1215 120h0M1234 106h0M1230 50h0M1206 52h0M1198 119h0M1235 127h0M1237 48h0M1227 140h0M1247 97h0M1197 46h0M1219 54h0M1209 55h0M1234 82h0M1206 134h0M1197 48h0M1258 108h0M1190 43h0M1260 87h0M1195 115h0M1237 45h0M1205 54h0M1249 87h0M1224 49h0M1215 126h0M1232 46h0M1214 39h0M1236 44h0M1246 58h0M1251 100h0M1198 39h0M1220 111h0M1213 128h0M1206 49h0M1195 61h0M1198 44h0M1195 45h0M1258 86h0M1232 81h0M1193 54h0M1223 43h0M1194 97h0M1187 57h0M1217 143h0M1247 59h0M1217 43h0M1209 49h0M1198 133h0M1247 103h0M1195 50h0M1187 67h0M1222 45h0M1247 91h0M1217 44h0M1196 43h0M1225 54h0M1206 51h0M1212 134h0M1254 81h0M1247 93h0M1186 84h0M1214 83h0M1246 78h0M1189 54h0M1203 116h0M1236 139h0M1245 52h0M1245 57h0M1240 128h0M1229 130h0M1250 69h0M1259 61h0M1227 131h0M1247 59h0M1178 84h0M1175 67h0M1183 102h0M1178 65h0M1182 49h0M1173 55h0" stroke="#f6b293"/>
<path d="M1194 46h0M1221 124h0M1225 122h0M1221 48h0M1236 54h0M1199 55h0M1183 67h0M1249 59h0M1206 47h0M1238 134h0M1197 43h0M1203 130h0M1231 129h0M1188 104h0M1235 77h0M1244 55h0M1232 135h0M1206 133h0M1221 54h0M1204 115h0M1267 96h0M1216 146h0M1185 106h0M1233 63h0M1237 74h0M1202 36h0M1242 69h0M1205 124h0M1247 88h0M1191 51h0M1225 42h0M1249 79h0M1231 82h0M1248 60h0M1237 51h0M1216 126h0M1212 123h0M1241 129h0M1222 120h0M1217 136h0M1229 54h0M1215 130h0M1192 122h0M1246 84h0M1216 136h0M1204 47h0M1259 101h0M1243 80h0M1239 132h0M1228 143h0M1258 96h0M1196 46h0M1213 77h0M1197 42h0M1255 70h0M1231 133h0M1208 46h0M1191 42h0M1238 116h0M1184 88h0M1233 36h0M1256 87h0M1223 43h0M1246 96h0M1254 108h0M1197 122h0M1234 47h0M1219 46h0M1240 84h0M1183 83h0M1199 54h0M1251 63h0M1191 105h0M1211 52h0M1207 125h0M1245 50h0M1177 79h0M1172 94h0" stroke="#f4a582"/>
<path d="M1204 103h0M1182 132h0M1239 65h0M1209 101h0M1225 99h0M1241 107h0M1210 80h0M1172 137h0M1224 87h0M1241 50h0M1205 107h0" stroke="#92c5de"/>
<path d="M1247 52h0M1184 92h0M1211 144h0M1223 48h0M1241 58h0M1220 128h0M1194 90h0M1239 50h0M1247 57h0M1250 86h0M1216 39h0M1213 78h0M1185 68h0M1196 43h0M1203 113h0M1195 53h0M1189 40h0M1190 56h0M1187 64h0M1200 123h0M1218 127h0M1223 46h0M1191 100h0M1212 53h0M1261 105h0M1224 68h0M1245 60h0M1180 50h0M1182 102h0M1181 97h0" stroke="#ec9475"/>
<path d="M1229 91h0M1202 62h0M1201 78h0M1203 87h0M1172 49h0" stroke="#7eb8d7"/>
<path d="M1195 57h0M1215 87h0M1226 105h0" stroke="#6aacd0"/>
<path d="M1201 48h0M1215 133h0M1242 60h0M1225 54h0M1186 68h0M1182 79h0M1222 125h0M1200 131h0M1198 116h0M1252 88h0M1236 48h0M1259 70h0M1255 63h0M1186 47h0M1231 42h0M1219 73h0M1220 114h0M1248 94h0M1197 120h0M1174 64h0" stroke="#e58268"/>
<path d="M1204 127h0M1231 81h0M1193 56h0M1217 118h0M1184 60h0M1210 39h0M1210 52h0M1215 51h0M1239 48h0" stroke="#de715a"/>
<path d="M1203 103h0" stroke="#57a0ca"/>
<path d="M1222 39h0M1199 112h0M1245 91h0M1247 79h0M1200 32h0M1188 52h0" stroke="#d6604d"/>
<path d="M1255 68h0" stroke="#c43c3c"/>
<path d="M1224 36h0" stroke="#7a0622"/>
</g>
<path d="M473.63 133.17 L474.59 133.65 L475.47 134.14 L476.27 134.63 L476.99 135.12 L477.63 135.62 L478.19 136.08 L478.65 136.5 L479.02 136.88 L479.31 137.22 L479.67 137.62 L480.11 138.1 L480.63 138.64 L481.22 139.24 L481.77 139.8 L482.27 140.32 L482.73 140.79 L483.15 141.21 L483.52 141.65 L483.85 142.11 L484.13 142.58 L484.37 143.06 L484.6 143.55 L484.84 144.03 L485.08 144.52 L485.31 145 L485.52 145.52 L485.7 146.07 L485.85 146.64 L485.97 147.25 L486.09 147.87 L486.21 148.51 L486.32 149.16 L486.44 149.83 L486.61 150.57 L486.81 151.39 L487.07 152.28 L487.36 153.25 L487.69 154.19 L488.05 155.1 L488.43 155.98 L488.85 156.83 L489.23 157.56 L489.59 158.16 L489.92 158.65 L490.21 159.01 L490.52 159.51 L490.85 160.15 L491.19 160.92 L491.55 161.83 L491.9 162.68 L492.26 163.47 L492.62 164.2 L492.97 164.87 L493.34 165.52 L493.73 166.15 L494.13 166.78 L494.54 167.38 L494.9 167.96 L495.18 168.5 L495.4 169.02 L495.55 169.51 L495.63 170.03 L495.64 170.6 L495.57 171.22 L495.43 171.87 L495.2 172.49 L494.9 173.06 L494.5 173.6 L494.03 174.1 L493.47 174.51 L492.84 174.84 L492.12 175.08 L491.33 175.24 L490.57 175.27 L489.85 175.19 L489.17 174.98 L488.53 174.65 L487.93 174.33 L487.37 174 L486.84 173.67 L486.35 173.34 L485.91 173.14 L485.5 173.06 L485.14 173.11 L484.82 173.28 L484.46 173.49 L484.07 173.74 L483.63 174.02 L483.15 174.35 L482.64 174.68 L482.08 175.01 L481.48 175.33 L480.84 175.66 L480.2 175.99 L479.56 176.32 L478.92 176.64 L478.28 176.97 L477.67 177.3 L477.11 177.63 L476.58 177.95 L476.1 178.28 L475.8 177.96 L475.68 177 L475.76 175.39 L476.02 173.13 L476.25 170.99 L476.44 168.95 L476.59 167.02 L476.71 165.2 L476.56 163.44 L476.14 161.74 L475.46 160.11 L474.51 158.53 L473.35 157.28 L471.99 156.38 L470.42 155.8 L468.64 155.56 L466.71 155.44 L464.63 155.44 L462.4 155.56 L460.03 155.8 L458.04 156.16 L456.44 156.65 L455.22 157.25 L454.39 157.98 L453.56 158.59 L452.73 159.07 L451.9 159.44 L451.07 159.68 L450.34 159.68 L449.72 159.44 L449.2 158.95 L448.78 158.23 L448.47 157.44 L448.26 156.59 L448.16 155.68 L448.16 154.71 L448.38 153.8 L448.83 152.95 L449.49 152.16 L450.38 151.43 L452.24 150.58 L455.06 149.61 L458.84 148.52 L463.59 147.31 L467.24 145.58 L469.8 143.35 L471.27 140.59 L471.63 137.33 L472.15 135.01 L472.81 133.62Z" fill="#b8d8e9" opacity="0.7"/>
<path d="M448.4 151.31 L448.17 150.81 L447.95 150.23 L447.75 149.58 L447.58 148.84 L447.42 148.03 L447.33 147.18 L447.28 146.28 L447.3 145.34 L447.37 144.36 L447.46 143.37 L447.58 142.39 L447.73 141.41 L447.89 140.43 L448.08 139.53 L448.28 138.71 L448.5 137.97 L448.73 137.32 L448.97 136.66 L449.21 136.01 L449.45 135.35 L449.68 134.7 L449.98 134.04 L450.35 133.39 L450.77 132.73 L451.26 132.08 L451.74 131.5 L452.22 131.01 L452.7 130.6 L453.17 130.27 L453.77 129.95 L454.49 129.62 L455.33 129.29 L456.29 128.96 L457.29 128.74 L458.33 128.62 L459.41 128.6 L460.52 128.68 L461.67 128.78 L462.84 128.87 L464.05 128.98 L465.28 129.09 L466.45 129.29 L467.55 129.59 L468.58 129.99 L469.54 130.49 L470.5 130.99 L471.46 131.48 L472.42 131.97 L473.39 132.45 L474.27 132.94 L475.07 133.43 L475.79 133.92 L476.43 134.42 L476.99 134.96 L477.47 135.54 L477.87 136.15 L478.19 136.81 L478.39 137.5 L478.47 138.23 L478.43 139.01 L478.26 139.82 L478.02 140.64 L477.69 141.45 L477.3 142.28 L476.82 143.1 L476.31 143.88 L475.75 144.62 L475.15 145.32 L474.51 145.98 L473.87 146.63 L473.23 147.29 L472.58 147.94 L471.94 148.6 L471.3 149.26 L470.66 149.92 L470.02 150.6 L469.38 151.28 L468.67 151.88 L467.89 152.4 L467.05 152.84 L466.13 153.2 L465.15 153.51 L464.1 153.75 L462.98 153.93 L461.79 154.05 L460.61 154.16 L459.42 154.25 L458.23 154.33 L457.04 154.39 L455.92 154.45 L454.85 154.51 L453.84 154.57 L452.89 154.63 L452.01 154.51 L451.2 154.21 L450.45 153.72 L449.77 153.05 L449.21 152.43 L448.75 151.85Z" fill="#abd2e5" opacity="0.7"/>
<path d="M450.45 165.72 L450.62 167.03 L450.86 168.34 L451.18 169.65 L451.58 170.96 L452.06 172.27 L452.53 173.49 L453.02 174.64 L453.5 175.71 L453.99 176.69 L454.51 177.63 L455.08 178.53 L455.68 179.38 L456.32 180.19 L457.04 180.92 L457.84 181.57 L458.72 182.14 L459.68 182.63 L460.68 183.05 L461.72 183.42 L462.8 183.74 L463.92 183.99 L464.94 184.16 L465.87 184.24 L466.71 184.24 L467.46 184.16 L468.18 184.05 L468.88 183.93 L469.54 183.78 L470.18 183.61 L470.86 183.28 L471.58 182.79 L472.34 182.13 L473.13 181.32 L473.89 180.43 L474.61 179.45 L475.29 178.39 L475.93 177.25 L476.47 175.99 L476.92 174.6 L477.27 173.09 L477.52 171.45 L477.68 169.81 L477.76 168.17 L477.76 166.54 L477.68 164.9 L477.54 163.26 L477.34 161.62 L477.08 159.99 L476.76 158.35 L476.28 157.06 L475.65 156.12 L474.87 155.53 L473.93 155.29 L472.98 155.06 L472.02 154.85 L471.05 154.65 L470.06 154.47 L469.03 154.38 L467.96 154.38 L466.85 154.47 L465.7 154.65 L464.54 154.83 L463.37 155.01 L462.2 155.19 L461.01 155.38 L459.82 155.59 L458.63 155.83 L457.45 156.1 L456.26 156.41 L455.19 156.76 L454.24 157.15 L453.41 157.59 L452.7 158.08 L452.09 158.56 L451.59 159.05 L451.18 159.53 L450.89 160.02 L450.65 160.57 L450.47 161.19 L450.35 161.87 L450.29 162.62 L450.29 163.52 L450.34 164.55Z" fill="#abd2e5" opacity="0.7"/>
<path d="M439.16 168.7 L439.62 168.58 L440.08 168.58 L440.53 168.71 L440.99 168.97 L441.45 169.35 L441.91 169.79 L442.37 170.27 L442.83 170.79 L443.29 171.37 L443.71 171.94 L444.1 172.52 L444.44 173.09 L444.75 173.66 L445.03 174.24 L445.28 174.81 L445.51 175.39 L445.72 175.96 L445.85 176.51 L445.9 177.03 L445.87 177.52 L445.77 177.99 L445.58 178.37 L445.32 178.66 L444.97 178.85 L444.54 178.96 L444.06 179 L443.52 178.97 L442.93 178.88 L442.29 178.72 L441.68 178.52 L441.1 178.27 L440.56 177.97 L440.05 177.63 L439.58 177.24 L439.14 176.81 L438.75 176.33 L438.39 175.81 L438.11 175.25 L437.91 174.67 L437.78 174.05 L437.73 173.41 L437.7 172.79 L437.7 172.21 L437.73 171.66 L437.78 171.13 L437.85 170.65 L437.96 170.21 L438.08 169.8 L438.24 169.44 L438.47 169.13 L438.77 168.89Z" fill="#fce1d1" opacity="0.7"/>
<path d="M437.99 136.03 L438.25 135.82 L438.56 135.65 L438.89 135.52 L439.27 135.43 L439.67 135.38 L440.07 135.36 L440.45 135.37 L440.82 135.41 L441.18 135.48 L441.41 135.62 L441.51 135.83 L441.49 136.11 L441.33 136.45 L441.14 136.77 L440.91 137.08 L440.64 137.36 L440.34 137.62 L440.07 137.89 L439.84 138.18 L439.65 138.48 L439.5 138.79 L439.32 139 L439.11 139.11 L438.88 139.11 L438.63 139 L438.4 138.87 L438.19 138.72 L438.01 138.53 L437.86 138.32 L437.74 138.06 L437.66 137.75 L437.62 137.39 L437.61 136.97 L437.66 136.6 L437.79 136.29Z" fill="#d1e5f0" opacity="0.7"/>
<path d="M503.95 153.78 L504.1 153.65 L504.27 153.58 L504.45 153.55 L504.64 153.58 L504.84 153.65 L504.98 153.76 L505.06 153.9 L505.07 154.07 L505.02 154.28 L504.93 154.46 L504.8 154.62 L504.64 154.75 L504.43 154.85 L504.24 154.92 L504.06 154.94 L503.9 154.93 L503.74 154.88 L503.64 154.79 L503.59 154.66 L503.59 154.49 L503.64 154.28 L503.72 154.09 L503.82 153.92Z" fill="#d1e5f0" opacity="0.7"/>
<g transform="scale(.5)" fill="none" stroke-linecap="square" stroke-width="1.7">
<path d="M885 351h0M983 338h0M893 346h0M939 298h0M983 340h0M888 345h0M888 354h0M984 346h0M967 350h0M958 346h0M888 357h0M906 339h0M891 351h0M896 358h0M959 325h0M987 349h0M887 341h0" stroke="#f7f7f7"/>
<path d="M988 355h0M967 332h0M882 348h0M886 354h0M972 328h0M883 349h0M888 345h0M880 348h0M955 308h0M891 323h0" stroke="#f8f0eb"/>
<path d="M972 298h0M921 356h0M965 349h0M891 353h0M938 326h0M981 338h0M941 305h0M976 342h0M889 361h0M951 326h0M981 331h0M975 298h0M887 351h0M957 354h0M980 338h0M969 307h0M886 355h0M957 272h0M968 338h0M908 287h0M978 344h0M988 349h0M889 350h0M887 353h0M968 341h0M911 345h0M984 342h0M875 269h0M934 317h0M979 310h0" stroke="#eef2f5"/>
<path d="M889 357h0M973 335h0M988 339h0M972 341h0M964 316h0M889 339h0M933 257h0M986 350h0M904 342h0M950 359h0M948 331h0M950 266h0M921 272h0M886 342h0M889 345h0M938 303h0M936 336h0M958 338h0M929 364h0M972 344h0M990 337h0M965 341h0M885 278h0M905 266h0M971 327h0M907 280h0M910 352h0M891 348h0M955 319h0M880 273h0M986 335h0M896 291h0M925 294h0M936 271h0M970 336h0M964 351h0M947 278h0M978 335h0M917 272h0M936 295h0M949 278h0M941 322h0M950 285h0M972 313h0M901 288h0M953 322h0M978 342h0M912 267h0M949 283h0M936 309h0M961 319h0M936 291h0M888 353h0M965 324h0M940 306h0M952 338h0M959 315h0M971 295h0M954 329h0M962 313h0M922 341h0M982 330h0M889 359h0M945 339h0M965 347h0M973 297h0M895 355h0M978 326h0M890 287h0M892 320h0" stroke="#e4eef4"/>
<path d="M889 357h0M891 357h0M872 347h0M886 345h0M878 339h0M885 354h0M892 355h0M882 344h0" stroke="#fae9df"/>
<path d="M893 353h0M879 337h0M885 339h0M881 345h0M891 353h0M891 351h0M881 339h0M881 338h0M881 342h0" stroke="#fce2d3"/>
<path d="M921 356h0M894 354h0M971 314h0M919 280h0M895 305h0M883 271h0M908 284h0M920 257h0M930 307h0M924 290h0M950 352h0M972 340h0M917 332h0M969 348h0M992 344h0M961 318h0M888 353h0M951 329h0M971 325h0M909 265h0M908 333h0M992 354h0M946 333h0M972 347h0M914 304h0M930 313h0M936 277h0M910 291h0M956 297h0M926 302h0M941 302h0M952 272h0M904 328h0M942 295h0M978 347h0M974 342h0M905 342h0M915 356h0M971 326h0M931 347h0M962 288h0M911 327h0M989 342h0M896 287h0M965 345h0M979 337h0M985 331h0M964 324h0M980 332h0M953 336h0M972 299h0M910 259h0M942 279h0M969 352h0M934 371h0M973 331h0M875 279h0M992 345h0M984 316h0M959 319h0M929 341h0M913 274h0M918 264h0M930 307h0M972 332h0M954 295h0M923 345h0M962 311h0M922 268h0M898 309h0M943 318h0M886 347h0M992 346h0M904 321h0M888 362h0M901 269h0M967 285h0M935 266h0M927 360h0M892 305h0M950 313h0M929 310h0M967 292h0M922 278h0M932 310h0M909 280h0M950 284h0M965 335h0M967 346h0M970 292h0M950 276h0M904 290h0M940 319h0M875 272h0M910 266h0M936 326h0M961 345h0M959 314h0M952 301h0M948 298h0M944 303h0M942 346h0M939 329h0M941 366h0M967 346h0M898 270h0M914 285h0M971 309h0M959 322h0M916 329h0M926 350h0M907 272h0M950 311h0M961 341h0M897 284h0M884 272h0M936 282h0M927 352h0M973 324h0M962 340h0M956 295h0M917 332h0M972 300h0M950 265h0M904 285h0M908 312h0M957 300h0M931 329h0M915 285h0M981 339h0M903 262h0M978 348h0M960 316h0M933 266h0M987 342h0M937 301h0M965 324h0M942 350h0M939 354h0M935 259h0M940 322h0M934 290h0M955 291h0M940 290h0M957 282h0M964 275h0M902 327h0M917 292h0M876 274h0M901 311h0M975 347h0M968 302h0M893 330h0M889 308h0M890 307h0" stroke="#daeaf2"/>
<path d="M906 268h0M896 314h0M956 332h0M947 272h0M911 300h0M911 277h0M932 262h0M973 339h0M874 281h0M921 335h0M932 304h0M974 331h0M928 293h0M905 330h0M927 283h0M937 360h0M935 353h0M916 306h0M938 367h0M937 266h0M939 296h0M898 310h0M972 346h0M895 289h0M943 357h0M960 339h0M894 290h0M939 276h0M930 291h0M926 303h0M927 321h0M920 322h0M974 313h0M985 339h0M919 351h0M955 350h0M909 285h0M920 357h0M978 343h0M979 336h0M973 307h0M944 301h0M953 285h0M970 340h0M909 340h0M875 283h0M919 258h0M925 328h0M975 308h0M928 272h0M924 272h0M939 313h0M969 286h0M888 360h0M923 343h0M972 296h0M956 308h0M946 263h0M933 297h0M972 305h0M963 297h0M966 312h0M971 332h0M905 308h0M948 301h0M927 358h0M979 340h0M960 338h0M913 270h0M929 362h0M940 303h0M951 294h0M965 324h0M960 282h0M936 258h0M983 323h0M908 268h0M949 320h0M926 353h0M895 335h0M945 289h0M955 282h0M904 262h0M986 350h0M962 322h0M920 300h0M904 288h0M909 269h0M964 284h0M917 276h0M912 345h0M914 298h0M973 307h0M931 292h0M959 327h0M955 300h0M975 340h0M921 273h0M942 263h0M979 335h0M967 325h0M912 281h0M904 272h0M906 282h0M922 283h0M947 266h0M953 320h0M973 327h0M934 323h0M940 365h0M932 343h0M914 307h0M880 276h0M877 279h0M904 307h0M941 304h0M920 335h0M912 273h0M902 278h0M918 268h0M935 311h0M907 267h0M958 290h0M934 283h0M974 346h0M971 329h0M907 314h0M921 263h0M992 341h0M987 332h0M977 342h0M962 312h0M931 285h0M935 362h0M937 287h0M955 317h0M933 296h0M906 285h0M909 287h0M961 303h0M949 359h0M976 328h0M936 268h0M956 287h0M989 342h0M955 321h0M962 334h0M928 315h0M953 353h0M949 275h0M968 325h0M946 265h0M895 317h0M922 345h0M983 342h0M951 340h0M939 284h0M916 325h0M976 313h0M888 349h0M961 279h0M909 264h0M912 274h0M900 285h0M963 333h0M903 268h0M925 303h0M896 282h0M876 276h0M955 348h0M959 312h0M918 336h0M930 349h0M944 338h0M947 326h0M976 318h0M963 337h0M948 286h0M988 348h0M956 280h0M973 327h0M970 343h0M913 273h0M919 338h0M968 318h0M931 268h0M917 289h0M986 344h0M940 305h0M900 304h0M902 299h0M929 273h0M921 315h0M928 349h0M945 330h0M900 262h0M898 279h0M930 264h0M968 343h0M976 333h0M925 256h0M981 336h0M962 285h0M902 329h0M932 288h0M921 262h0M969 311h0M926 272h0M942 324h0M885 329h0M890 296h0M893 319h0M890 322h0M891 299h0" stroke="#d1e5f0"/>
<path d="M875 340h0M883 355h0M884 340h0M871 351h0M888 352h0M877 348h0M876 344h0M878 353h0M884 359h0M881 343h0M878 343h0M883 345h0M883 340h0M878 352h0M879 353h0" stroke="#fddbc7"/>
<path d="M974 311h0M958 292h0M937 364h0M925 347h0M966 324h0M941 273h0M963 314h0M975 315h0M917 337h0M974 316h0M907 312h0M946 286h0M935 344h0M935 368h0M976 347h0M942 345h0M914 281h0M963 284h0M957 276h0M929 286h0M923 368h0M936 366h0M987 345h0M966 291h0M950 301h0M925 267h0M951 328h0M923 257h0M951 304h0M959 347h0M928 286h0M969 348h0M933 268h0M934 261h0M932 306h0M936 363h0M946 324h0M943 303h0M942 351h0M979 350h0M950 357h0M986 353h0M986 340h0M990 349h0M944 295h0M964 286h0M969 288h0M981 319h0M913 318h0M935 306h0M937 369h0M980 343h0M928 297h0M920 301h0M965 295h0M938 289h0M936 344h0M946 325h0M916 275h0M979 341h0M945 276h0M912 274h0M961 344h0M936 338h0M928 267h0M911 282h0M993 346h0M953 278h0M929 312h0M958 316h0M962 322h0M947 305h0M922 280h0M950 347h0M934 336h0M916 307h0M932 368h0M939 338h0M970 347h0M879 274h0M928 369h0M979 335h0M952 335h0M931 346h0M908 273h0M906 290h0M908 353h0M900 278h0M939 361h0M943 269h0M982 347h0M942 297h0M903 332h0M943 321h0M909 285h0M926 307h0M928 351h0M913 350h0M955 263h0M912 351h0M934 369h0M917 346h0M965 296h0M963 319h0M958 274h0M876 266h0M919 334h0M923 346h0M924 340h0M937 334h0M964 310h0M894 301h0M904 277h0M914 271h0M948 324h0M922 299h0M973 328h0M918 303h0M926 298h0M912 270h0M905 285h0M928 346h0M902 314h0M960 302h0M923 337h0M900 333h0M976 345h0M950 304h0M950 350h0M966 289h0M978 346h0M962 331h0M992 346h0M971 320h0M876 278h0M897 280h0M964 309h0M967 334h0M960 312h0M903 340h0M976 338h0M927 320h0M972 333h0M939 282h0M939 348h0M935 349h0M973 315h0M984 318h0M910 336h0M932 278h0M908 347h0M908 354h0M971 289h0M969 285h0M943 295h0M949 285h0M970 337h0M919 296h0M973 346h0M961 298h0M922 303h0M906 358h0M933 312h0M952 278h0M958 292h0M941 338h0M914 340h0M921 308h0M895 283h0M956 304h0M963 331h0M960 341h0M949 300h0M934 274h0M981 348h0M991 337h0M987 337h0M973 321h0M947 353h0M897 295h0M930 301h0M916 294h0M942 359h0M924 265h0M930 297h0M981 322h0M937 291h0M908 262h0M907 320h0M915 324h0M945 273h0M944 279h0M974 313h0M921 366h0M902 292h0M934 358h0M958 276h0M941 360h0M904 267h0M970 325h0M910 261h0M932 333h0M945 296h0M907 350h0M988 334h0M906 275h0M907 353h0M911 316h0M900 306h0M951 354h0M957 344h0M943 347h0M969 319h0M952 271h0M985 329h0M968 345h0M964 280h0M911 317h0M923 321h0M914 352h0M897 311h0M960 344h0M943 326h0M937 299h0M967 327h0M922 280h0M900 323h0M922 262h0M959 342h0M913 279h0M914 277h0M932 274h0M953 304h0M912 353h0M937 262h0M974 339h0M958 346h0M905 276h0M947 364h0M918 310h0M906 319h0M988 344h0M969 329h0M923 277h0M896 286h0M935 338h0M956 316h0M969 325h0M919 319h0M950 277h0M944 269h0M929 349h0M925 326h0M945 330h0M984 339h0M913 280h0M978 324h0M928 318h0M899 316h0M920 269h0M950 275h0M953 290h0M921 273h0M928 300h0M962 348h0M923 303h0M934 295h0M993 338h0M925 329h0M959 316h0M988 335h0M970 318h0M937 276h0M937 282h0M934 325h0M951 303h0M941 320h0M945 296h0M924 276h0M916 349h0M901 275h0M940 315h0M912 332h0M969 289h0M951 332h0M942 307h0M942 271h0M903 287h0M938 351h0M888 354h0M929 330h0M897 275h0M966 338h0M976 312h0M968 349h0M983 334h0M948 342h0M915 338h0M972 320h0M956 316h0M947 333h0M948 361h0M935 277h0M920 275h0M928 331h0M958 321h0M981 347h0M934 286h0M957 331h0M954 326h0M962 328h0M913 345h0M903 269h0M920 295h0M958 290h0M967 348h0M986 347h0M931 353h0M947 326h0M961 342h0M916 312h0M885 347h0M951 309h0M944 299h0M925 341h0M912 314h0M969 297h0M946 289h0M987 336h0M911 276h0M970 332h0M953 336h0M907 281h0M950 274h0M950 335h0M928 349h0M964 344h0M900 274h0M959 340h0M933 342h0M928 356h0M943 372h0M879 270h0M990 347h0M883 306h0M888 304h0M885 274h0M886 288h0M886 318h0M886 283h0M889 312h0M890 317h0M893 306h0M888 311h0M885 278h0M884 311h0" stroke="#c1ddec"/>
<path d="M881 354h0M883 342h0M882 357h0M880 350h0M880 344h0M873 348h0M884 340h0M881 339h0M876 343h0M882 348h0M878 352h0M878 355h0M875 349h0M878 343h0M873 346h0M885 353h0" stroke="#fbceb6"/>
<path d="M880 348h0M880 349h0M877 346h0M882 338h0M883 347h0M881 341h0M876 345h0M884 353h0M878 339h0M884 345h0M878 345h0M873 335h0" stroke="#f8c0a4"/>
<path d="M975 312h0M959 351h0M957 355h0M962 333h0M906 336h0M899 273h0M933 346h0M914 298h0M986 332h0M955 356h0M909 265h0M916 275h0M962 328h0M897 320h0M969 321h0M965 281h0M963 322h0M935 301h0M909 302h0M917 308h0M947 284h0M925 291h0M916 289h0M980 350h0M942 293h0M878 277h0M908 359h0M926 282h0M911 274h0M901 297h0M965 344h0M926 368h0M916 290h0M919 356h0M930 316h0M950 355h0M944 328h0M975 313h0M926 289h0M921 309h0M966 298h0M952 277h0M929 316h0M936 318h0M968 320h0M960 347h0M958 312h0M882 275h0M957 352h0M939 324h0M917 305h0M962 345h0M921 277h0M963 308h0M952 320h0M956 315h0M971 313h0M915 352h0M910 297h0M943 351h0M900 327h0M942 319h0M929 340h0M907 340h0M936 259h0M923 263h0M926 348h0M917 259h0M949 355h0M942 343h0M915 346h0M945 281h0M950 327h0M912 288h0M961 348h0M959 357h0M901 312h0M945 314h0M946 298h0M924 268h0M883 272h0M913 319h0M947 317h0M920 349h0M947 308h0M922 307h0M953 291h0M949 279h0M914 296h0M917 260h0M960 318h0M939 345h0M978 349h0M917 312h0M901 293h0M900 317h0M971 326h0M949 358h0M964 351h0M974 345h0M932 350h0M880 273h0M957 326h0M924 329h0M953 274h0M913 347h0M933 258h0M939 345h0M932 324h0M983 343h0M905 306h0M964 315h0M932 351h0M968 329h0M913 355h0M980 334h0M924 311h0M900 330h0M977 296h0M960 284h0M954 333h0M919 267h0M949 333h0M970 286h0M923 355h0M926 324h0M918 274h0M917 282h0M957 291h0M949 296h0M927 342h0M914 258h0M953 350h0M952 327h0M927 310h0M926 274h0M947 298h0M943 297h0M876 274h0M929 323h0M941 291h0M969 291h0M953 292h0M923 345h0M955 301h0M972 331h0M915 263h0M911 295h0M919 367h0M920 352h0M959 347h0M915 324h0M925 300h0M912 294h0M956 305h0M921 270h0M943 267h0M916 340h0M929 329h0M931 362h0M908 272h0M958 356h0M931 368h0M983 334h0M942 360h0M937 291h0M902 277h0M913 306h0M946 295h0M922 289h0M951 265h0M922 284h0M929 271h0M900 289h0M957 313h0M905 281h0M964 343h0M898 290h0M942 336h0M918 259h0M953 310h0M924 325h0M948 316h0M938 283h0M924 284h0M924 315h0M955 351h0M935 293h0M929 264h0M923 271h0M935 365h0M951 289h0M925 312h0M951 274h0M902 305h0M956 305h0M947 318h0M940 304h0M981 334h0M915 350h0M940 356h0M906 298h0M953 343h0M929 362h0M923 353h0M896 288h0M980 353h0M931 276h0M907 336h0M928 261h0M939 329h0M910 339h0M952 352h0M964 310h0M921 268h0M917 259h0M898 333h0M967 336h0M946 304h0M945 349h0M897 273h0M918 356h0M916 307h0M976 306h0M943 329h0M915 295h0M932 262h0M934 343h0M947 351h0M984 331h0M914 308h0M963 355h0M915 348h0M959 296h0M922 273h0M932 343h0M900 277h0M904 344h0M940 301h0M968 324h0M981 325h0M921 273h0M959 295h0M913 283h0M990 342h0M906 306h0M960 286h0M937 276h0M944 356h0M952 358h0M915 335h0M901 293h0M961 333h0M988 333h0M900 332h0M877 275h0M926 298h0M948 309h0M948 292h0M913 292h0M989 349h0M899 288h0M953 310h0M933 355h0M918 317h0M922 338h0M968 341h0M923 325h0M912 313h0M879 276h0M917 314h0M898 292h0M982 342h0M917 263h0M896 285h0M956 316h0M968 328h0M966 312h0M918 271h0M924 299h0M926 315h0M914 362h0M885 345h0M921 318h0M988 330h0M943 288h0M967 312h0M967 292h0M921 297h0M909 310h0M875 274h0M977 314h0M916 319h0M969 310h0M938 334h0M900 330h0M991 346h0M910 277h0M962 328h0M906 289h0M944 277h0M939 267h0M927 300h0M936 288h0M909 328h0M914 343h0M903 287h0M935 306h0M910 324h0M936 258h0M892 311h0M967 341h0M948 282h0M916 276h0M923 315h0M955 337h0M951 315h0M895 303h0M989 350h0M975 343h0M912 284h0M940 284h0M906 331h0M933 305h0M963 306h0M907 315h0M902 278h0M956 330h0M907 324h0M956 292h0M928 275h0M963 307h0M895 287h0M976 322h0M927 281h0M950 338h0M911 285h0M900 338h0M988 354h0M974 327h0M928 365h0M931 295h0M928 292h0M938 363h0M933 268h0M911 261h0M923 278h0M964 282h0M916 346h0M918 292h0M959 304h0M932 297h0M901 272h0M900 290h0M961 313h0M917 259h0M915 267h0M942 368h0M902 313h0M896 299h0M916 315h0M935 265h0M916 284h0M983 334h0M920 292h0M943 319h0M968 325h0M961 347h0M941 357h0M897 276h0M910 285h0M937 343h0M930 309h0M940 303h0M961 281h0M898 315h0M919 325h0M925 298h0M945 269h0M926 273h0M898 306h0M926 305h0M963 341h0M975 325h0M982 343h0M935 266h0M965 291h0M910 291h0M930 357h0M931 306h0M905 339h0M917 325h0M983 340h0M903 326h0M895 310h0M909 337h0M957 274h0M908 264h0M911 357h0M965 313h0M941 320h0M928 290h0M901 289h0M972 339h0M973 312h0M975 320h0M928 279h0M968 289h0M907 356h0M941 352h0M971 284h0M895 310h0M928 276h0M975 306h0M924 281h0M979 348h0M961 301h0M913 305h0M925 263h0M944 289h0M922 275h0M958 281h0M952 314h0M944 336h0M982 347h0M941 320h0M919 347h0M932 365h0M960 353h0M938 264h0M890 307h0M885 330h0M890 286h0M887 289h0M890 276h0M884 285h0M889 285h0M894 324h0M886 309h0M894 317h0M891 314h0M884 316h0M884 321h0M889 312h0M891 324h0" stroke="#b2d5e7"/>
<path d="M949 327h0M938 309h0M953 330h0M919 259h0M933 346h0M920 311h0M915 349h0M980 318h0M921 277h0M939 269h0M992 339h0M893 308h0M915 306h0M917 269h0M945 363h0M927 280h0M940 313h0M970 344h0M913 348h0M934 366h0M940 275h0M907 279h0M974 328h0M955 295h0M922 360h0M912 261h0M921 333h0M941 312h0M959 277h0M907 316h0M919 281h0M919 301h0M961 281h0M976 317h0M950 356h0M965 347h0M940 342h0M969 295h0M935 296h0M937 265h0M893 299h0M928 293h0M952 294h0M951 272h0M894 322h0M937 369h0M894 300h0M939 272h0M975 308h0M938 300h0M916 343h0M991 331h0M935 303h0M895 285h0M954 307h0M911 301h0M923 290h0M914 315h0M907 347h0M901 279h0M972 323h0M930 258h0M945 309h0M930 324h0M947 335h0M894 279h0M903 273h0M903 341h0M944 271h0M922 317h0M978 326h0M939 351h0M923 322h0M904 283h0M910 336h0M965 302h0M908 312h0M943 329h0M947 313h0M971 339h0M920 343h0M900 275h0M908 262h0M940 345h0M902 291h0M945 349h0M943 290h0M950 276h0M929 329h0M954 354h0M971 293h0M988 347h0M911 287h0M933 288h0M933 349h0M877 277h0M908 311h0M950 307h0M899 306h0M946 284h0M960 295h0M895 313h0M922 303h0M906 307h0M952 314h0M951 346h0M962 330h0M927 270h0M933 277h0M901 291h0M908 330h0M924 334h0M908 287h0M940 286h0M925 289h0M957 323h0M904 347h0M942 361h0M935 329h0M940 300h0M903 345h0M910 329h0M935 292h0M896 293h0M928 345h0M954 282h0M942 267h0M897 293h0M954 350h0M897 328h0M945 286h0M930 285h0M934 263h0M896 304h0M938 366h0M953 354h0M966 291h0M898 326h0M966 294h0M928 261h0M905 289h0M898 287h0M937 276h0M947 333h0M901 281h0M924 357h0M957 285h0M903 283h0M902 327h0M901 326h0M926 275h0M948 301h0M965 332h0M898 288h0M990 343h0M939 289h0M986 340h0M953 311h0M903 312h0M978 345h0M934 277h0M947 287h0M942 320h0M942 297h0M946 275h0M907 299h0M991 348h0M933 270h0M938 345h0M966 325h0M955 327h0M933 358h0M943 308h0M956 309h0M938 296h0M921 324h0M919 320h0M938 322h0M933 354h0M941 269h0M906 327h0M926 297h0M939 285h0M926 342h0M942 272h0M957 300h0M900 307h0M915 296h0M926 304h0M953 335h0M942 341h0M916 324h0M921 329h0M945 283h0M946 356h0M920 269h0M949 298h0M954 324h0M918 320h0M923 265h0M956 343h0M949 342h0M927 296h0M927 269h0M952 337h0M907 340h0M923 294h0M970 342h0M910 341h0M912 316h0M943 343h0M901 298h0M914 309h0M915 280h0M938 285h0M910 260h0M921 291h0M920 307h0M910 254h0M964 317h0M987 349h0M906 276h0M962 285h0M956 277h0M905 338h0M912 342h0M961 308h0M900 307h0M921 262h0M949 273h0M913 291h0M928 348h0M974 295h0M908 343h0M991 339h0M957 313h0M896 283h0M924 297h0M914 286h0M986 349h0M982 323h0M911 328h0M939 306h0M921 277h0M925 274h0M894 279h0M988 348h0M899 267h0M959 269h0M945 282h0M943 270h0M917 360h0M953 329h0M953 311h0M940 353h0M913 286h0M948 270h0M948 293h0M960 276h0M909 270h0M882 271h0M977 328h0M901 289h0M921 267h0M933 368h0M930 307h0M970 338h0M912 354h0M972 310h0M906 337h0M948 267h0M912 354h0M907 351h0M927 352h0M927 363h0M913 341h0M972 298h0M911 321h0M912 337h0M975 313h0M941 297h0M918 354h0M981 340h0M907 321h0M925 317h0M954 279h0M967 344h0M946 361h0M916 269h0M911 344h0M947 319h0M935 347h0M944 345h0M958 338h0M898 313h0M971 323h0M969 323h0M910 302h0M920 335h0M905 329h0M955 302h0M938 305h0M898 311h0M934 353h0M962 323h0M919 358h0M902 338h0M930 333h0M971 329h0M975 333h0M915 260h0M976 347h0M963 328h0M922 351h0M923 326h0M945 357h0M937 337h0M915 283h0M943 282h0M943 346h0M937 360h0M955 335h0M906 334h0M941 357h0M925 291h0M948 284h0M957 298h0M953 339h0M933 329h0M961 305h0M898 289h0M977 294h0M933 352h0M962 299h0M935 368h0M941 279h0M960 287h0M967 346h0M941 301h0M922 286h0M905 325h0M942 271h0M908 256h0M954 355h0M969 340h0M912 366h0M931 276h0M937 287h0M940 283h0M951 267h0M972 334h0M941 322h0M919 348h0M973 292h0M947 267h0M954 331h0M930 352h0M904 277h0M915 357h0M966 301h0M946 283h0M915 296h0M913 346h0M936 285h0M925 278h0M947 310h0M961 283h0M911 297h0M964 340h0M941 353h0M947 297h0M916 319h0M922 302h0M916 255h0M962 302h0M898 293h0M934 322h0M907 326h0M982 342h0M924 336h0M933 355h0M927 302h0M958 329h0M904 307h0M925 362h0M949 320h0M917 322h0M917 338h0M954 347h0M902 264h0M913 259h0M961 315h0M965 312h0M932 356h0M919 334h0M931 336h0M906 328h0M941 344h0M906 325h0M896 310h0M943 292h0M931 264h0M914 283h0M950 349h0M929 327h0M898 289h0M928 258h0M966 308h0M951 270h0M895 311h0M920 294h0M959 313h0M953 349h0M928 266h0M936 337h0M931 343h0M926 366h0M974 323h0M940 354h0M920 312h0M936 352h0M953 266h0M945 322h0M895 284h0M910 306h0M938 314h0M949 340h0M944 308h0M911 324h0M956 300h0M961 299h0M944 317h0M897 285h0M960 331h0M917 260h0M908 306h0M909 330h0M924 298h0M919 283h0M946 363h0M937 339h0M913 272h0M945 318h0M937 298h0M898 305h0M915 332h0M896 308h0M929 303h0M966 330h0M911 327h0M962 314h0M942 360h0M898 297h0M916 304h0M984 341h0M917 330h0M910 342h0M926 319h0M967 334h0M981 327h0M898 290h0M901 314h0M897 290h0M940 351h0M933 269h0M901 277h0M943 283h0M992 339h0M986 351h0M898 275h0M942 363h0M934 270h0M957 315h0M970 348h0M954 300h0M993 343h0M951 283h0M974 309h0M895 305h0M925 335h0M914 262h0M909 342h0M950 269h0M897 294h0M935 345h0M908 261h0M904 344h0M902 281h0M925 359h0M952 293h0M928 293h0M913 311h0M910 338h0M912 341h0M952 350h0M962 291h0M956 336h0M935 365h0M922 365h0M949 289h0M941 272h0M971 328h0M903 263h0M964 298h0M930 345h0M957 272h0M977 325h0M906 333h0M969 302h0M955 277h0M890 325h0M882 279h0M887 312h0M886 290h0M885 278h0M893 277h0M888 317h0M886 286h0M891 304h0M883 278h0M891 328h0" stroke="#a2cde2"/>
<path d="M884 354h0M875 357h0M875 342h0M885 344h0M875 342h0M878 343h0M882 350h0M875 350h0" stroke="#f6b293"/>
<path d="M878 348h0M878 342h0M879 355h0M877 347h0M884 357h0M879 354h0M883 353h0M875 341h0" stroke="#f4a582"/>
<path d="M903 320h0M918 295h0M925 347h0M971 307h0M908 262h0M948 271h0M937 292h0M939 276h0M909 307h0M939 347h0M958 353h0M956 290h0M986 340h0M927 285h0M921 307h0M926 327h0M975 344h0M912 319h0M960 274h0M933 270h0M904 271h0M902 298h0M947 308h0M916 365h0M927 312h0M915 314h0M910 317h0M918 364h0M910 283h0M984 344h0M938 306h0M909 270h0M950 288h0M915 270h0M903 329h0M947 341h0M916 265h0M891 304h0M938 297h0M910 317h0M933 357h0M901 332h0M928 315h0M968 319h0M913 344h0M894 288h0M899 294h0M909 298h0M926 314h0M903 330h0M929 343h0M917 343h0M913 312h0M944 311h0M914 352h0M926 289h0M967 319h0M975 322h0M952 317h0M927 330h0M967 349h0M947 304h0M937 311h0M956 283h0M927 322h0M916 292h0M950 283h0M957 315h0M914 347h0M963 321h0M927 368h0M903 326h0M957 277h0M943 292h0M962 348h0M922 274h0M913 275h0M952 358h0M936 338h0M953 280h0M988 321h0M949 360h0M912 258h0M947 281h0M900 337h0M946 302h0M904 344h0M908 351h0M928 364h0M894 282h0M955 310h0M916 355h0M941 287h0M945 290h0M916 337h0M978 333h0M898 273h0M954 317h0M929 277h0M921 312h0M932 307h0M953 269h0M979 319h0M923 323h0M911 335h0M971 342h0M924 304h0M936 268h0M911 345h0M909 288h0M970 335h0M967 347h0M932 299h0M920 315h0M953 345h0M898 302h0M919 297h0M922 343h0M916 333h0M957 348h0M963 282h0M936 288h0M950 325h0M942 300h0M935 348h0M911 262h0M930 325h0M901 285h0M937 335h0M940 259h0M977 341h0M914 322h0M940 273h0M920 306h0M936 369h0M930 266h0M893 296h0M920 355h0M959 310h0M915 342h0M904 345h0M947 352h0M949 361h0M900 297h0M902 273h0M924 326h0M941 285h0M905 279h0M903 330h0M966 301h0M930 360h0M955 336h0M909 304h0M939 299h0M900 283h0M940 287h0M944 270h0M908 337h0M916 351h0M943 327h0M946 328h0M912 326h0M936 331h0M933 336h0M922 335h0M931 291h0M941 276h0M916 343h0M917 275h0M961 279h0M955 308h0M921 364h0M956 332h0M897 281h0M899 315h0M947 349h0M919 285h0M914 281h0M932 283h0M949 271h0M952 315h0M939 362h0M973 337h0M939 288h0M913 346h0M946 356h0M928 327h0M911 283h0M909 314h0M934 347h0M910 321h0M937 368h0M960 328h0M959 282h0M901 324h0M933 339h0M904 275h0M929 265h0M929 289h0M928 269h0M934 264h0M915 288h0M940 273h0M959 301h0M939 346h0M949 267h0M931 286h0M909 310h0M900 288h0M903 280h0M970 292h0M970 330h0M918 301h0M901 305h0M931 282h0M975 312h0M916 360h0M982 343h0M983 337h0M973 291h0M933 283h0M964 301h0M961 344h0M961 353h0M908 265h0M903 327h0M944 332h0M958 306h0M928 358h0M950 349h0M972 292h0M910 338h0M910 262h0M948 272h0M939 328h0M924 339h0M927 299h0M918 288h0M925 261h0M933 343h0M892 314h0M921 337h0M924 285h0M929 319h0M966 300h0M949 281h0M951 354h0M945 336h0M923 292h0M907 274h0M939 349h0M986 350h0M929 270h0M918 346h0M917 361h0M894 325h0M916 359h0M955 312h0M905 283h0M937 334h0M947 308h0M942 293h0M906 346h0M942 311h0M951 279h0M961 284h0M944 332h0M907 283h0M926 367h0M942 368h0M962 301h0M939 358h0M909 326h0M906 334h0M916 290h0M900 295h0M978 320h0M931 324h0M909 265h0M948 341h0M944 268h0M953 347h0M985 327h0M977 311h0M914 347h0M925 351h0M956 282h0M979 331h0M925 315h0M917 305h0M933 345h0M984 341h0M900 310h0M969 308h0M901 285h0M914 305h0M953 329h0M944 306h0M914 273h0M911 315h0M957 342h0M937 343h0M948 342h0M956 303h0M949 331h0M930 266h0M989 335h0M940 341h0M909 279h0M940 364h0M914 320h0M956 319h0M927 273h0M947 370h0M933 285h0M943 355h0M967 341h0M940 351h0M899 279h0M923 280h0M964 326h0M930 357h0M945 311h0M929 365h0M893 290h0M958 281h0M946 356h0M910 309h0M956 273h0M934 316h0M966 322h0M910 356h0M930 272h0M924 261h0M939 293h0M984 345h0M909 274h0M933 330h0M931 369h0M929 330h0M913 299h0M950 289h0M980 351h0M942 284h0M915 309h0M926 307h0M979 350h0M892 306h0M940 320h0M975 341h0M965 294h0M894 317h0M921 322h0M954 354h0M928 291h0M919 258h0M903 322h0M978 330h0M906 344h0M946 284h0M915 323h0M972 341h0M939 329h0M917 340h0M966 303h0M934 310h0M944 262h0M961 323h0M913 292h0M944 319h0M898 303h0M949 335h0M952 269h0M933 334h0M927 346h0M924 342h0M948 286h0M945 271h0M933 297h0M946 294h0M912 278h0M938 338h0M954 325h0M923 297h0M927 292h0M932 335h0M970 302h0M961 330h0M936 290h0M928 275h0M983 320h0M943 331h0M925 292h0M922 341h0M952 306h0M914 353h0M957 278h0M942 307h0M978 326h0M931 322h0M901 272h0M893 309h0M957 308h0M917 324h0M935 265h0M902 330h0M917 314h0M915 339h0M927 300h0M922 342h0M928 334h0M924 336h0M944 328h0M918 302h0M942 363h0M923 349h0M917 270h0M978 332h0M937 326h0M917 294h0M946 328h0M901 323h0M919 359h0M969 313h0M914 343h0M964 339h0M923 274h0M954 338h0M942 356h0M943 273h0M913 257h0M961 294h0M972 322h0M910 336h0M911 304h0M972 280h0M883 315h0M892 326h0M889 294h0M886 320h0M891 318h0M894 330h0M895 326h0M888 327h0M888 297h0M882 270h0M885 287h0M885 301h0M892 327h0M887 292h0" stroke="#92c5de"/>
<path d="M930 296h0M915 357h0M951 344h0M935 365h0M937 326h0M911 292h0M935 306h0M937 325h0M927 363h0M956 304h0M933 294h0M957 313h0M938 305h0M931 347h0M935 295h0M922 367h0M942 345h0M906 332h0M951 293h0M929 323h0M908 289h0M947 276h0M923 300h0M954 330h0M952 321h0M916 340h0M952 341h0M963 333h0M903 297h0M938 283h0M904 315h0M935 305h0M901 336h0M943 300h0M941 289h0M918 269h0M946 333h0M932 359h0M957 273h0M945 317h0M934 272h0M961 284h0M936 300h0M922 285h0M951 352h0M934 255h0M908 321h0M916 293h0M917 367h0M915 342h0M902 289h0M948 360h0M955 299h0M902 280h0M970 321h0M896 291h0M942 298h0M907 318h0M937 334h0M925 364h0M907 325h0M900 288h0M905 317h0M906 349h0M939 348h0M935 270h0M913 333h0M923 274h0M938 331h0M956 284h0M960 328h0M933 328h0M956 333h0M964 348h0M947 325h0M957 322h0M946 324h0M912 270h0M947 359h0M930 357h0M932 276h0M908 263h0M928 283h0M934 308h0M980 326h0M916 347h0M928 281h0M939 329h0M972 297h0M924 310h0M897 290h0M940 339h0M902 343h0M956 302h0M956 340h0M916 267h0M936 368h0M930 350h0M961 277h0M893 290h0M950 318h0M918 357h0M940 358h0M928 304h0M928 368h0M936 367h0M905 267h0M917 273h0M931 315h0M963 326h0M957 304h0M927 341h0M932 334h0M944 344h0M950 274h0M906 297h0M969 330h0M923 296h0M985 351h0M970 310h0M946 282h0M923 352h0M935 271h0M948 340h0M900 333h0M941 310h0M926 292h0M947 333h0M950 361h0M942 339h0M950 278h0M945 328h0M983 340h0M936 289h0M984 328h0M924 295h0M909 321h0M935 357h0M965 303h0M965 328h0M924 354h0M904 329h0M923 308h0M900 285h0M935 352h0M946 263h0M925 265h0M895 301h0M895 298h0M952 286h0M928 272h0M942 309h0M921 358h0M961 327h0M951 272h0M959 279h0M923 277h0M901 327h0M947 352h0M923 339h0M943 340h0M936 311h0M961 320h0M921 347h0M959 318h0M943 304h0M933 271h0M911 348h0M920 352h0M921 284h0M952 326h0M923 327h0M941 355h0M918 362h0M931 308h0M933 326h0M944 361h0M937 321h0M911 320h0M965 339h0M946 355h0M893 301h0M910 351h0M987 346h0M910 300h0M929 298h0M973 307h0M930 297h0M932 363h0M908 309h0M919 366h0M944 351h0M938 363h0M903 316h0M900 296h0M912 258h0M914 342h0M938 323h0M946 310h0M932 318h0M954 355h0M980 347h0M946 361h0M952 345h0M919 322h0M914 272h0M929 358h0M926 314h0M943 287h0M961 309h0M951 350h0M945 275h0M944 268h0M960 278h0M957 278h0M903 310h0M934 285h0M945 350h0M904 289h0M953 348h0M962 314h0M953 347h0M971 312h0M934 321h0M925 308h0M967 324h0M979 322h0M950 356h0M899 313h0M910 272h0M897 308h0M926 260h0M968 323h0M949 286h0M932 349h0M898 314h0M948 266h0M903 339h0M910 347h0M958 280h0M912 325h0M957 349h0M923 288h0M970 339h0M969 310h0M964 318h0M964 333h0M948 338h0M932 324h0M929 259h0M902 322h0M976 341h0M903 316h0M915 366h0M934 283h0M900 262h0M905 262h0M910 338h0M913 300h0M958 309h0M939 349h0M939 297h0M939 332h0M899 275h0M959 273h0M924 340h0M915 348h0M899 290h0M938 271h0M943 274h0M899 286h0M949 320h0M973 290h0M926 309h0M930 312h0M894 299h0M913 342h0M929 347h0M922 274h0M902 332h0M973 322h0M912 351h0M927 356h0M928 301h0M946 367h0M896 283h0M932 354h0M901 292h0M948 317h0M918 268h0M940 270h0M943 345h0M929 265h0M940 347h0M942 263h0M921 286h0M947 307h0M982 318h0M913 328h0M919 318h0M945 259h0M910 306h0M907 316h0M901 302h0M918 318h0M926 288h0M935 300h0M959 355h0M937 331h0M934 358h0M939 310h0M930 349h0M935 268h0M918 338h0M909 273h0M942 297h0M906 265h0M935 304h0M940 279h0M938 366h0M936 313h0M916 340h0M933 329h0M934 309h0M939 352h0M930 311h0M974 328h0M904 345h0M902 288h0M925 360h0M949 305h0M949 295h0M964 344h0M938 321h0M904 316h0M936 330h0M961 318h0M937 360h0M917 356h0M900 302h0M910 296h0M903 320h0M914 270h0M965 283h0M919 263h0M930 323h0M927 290h0M925 369h0M909 315h0M970 290h0M915 294h0M964 303h0M921 310h0M929 312h0M929 340h0M940 310h0M950 299h0M939 348h0M912 304h0M911 351h0M914 299h0M914 278h0M924 357h0M960 279h0M929 291h0M939 366h0M922 302h0M921 292h0M941 331h0M950 352h0M933 351h0M935 316h0M915 329h0M943 306h0M912 310h0M934 309h0M942 347h0M885 301h0M895 325h0M890 284h0M885 270h0M882 314h0M887 298h0M894 327h0M890 315h0M885 283h0M890 286h0" stroke="#7eb8d7"/>
<path d="M876 348h0M882 352h0M876 345h0M883 354h0M883 354h0M876 339h0M878 337h0" stroke="#ec9475"/>
<path d="M896 305h0M916 326h0M945 298h0M937 344h0M938 372h0M975 321h0M936 326h0M934 330h0M947 285h0M913 335h0M938 328h0M949 351h0M966 308h0M929 357h0M894 290h0M904 320h0M901 289h0M919 352h0M943 286h0M928 267h0M937 263h0M914 284h0M908 326h0M936 362h0M936 364h0M906 296h0M901 272h0M902 317h0M947 266h0M957 312h0M961 304h0M903 294h0M915 320h0M943 362h0M921 320h0M942 348h0M916 284h0M929 322h0M929 270h0M920 290h0M946 299h0M931 352h0M917 283h0M907 328h0M955 322h0M975 316h0M937 364h0M915 326h0M951 337h0M943 302h0M958 266h0M899 304h0M945 309h0M899 297h0M910 327h0M899 310h0M909 309h0M944 309h0M964 339h0M969 287h0M924 360h0M909 345h0M921 283h0M904 276h0M942 349h0M904 279h0M901 276h0M913 360h0M942 298h0M956 317h0M968 325h0M933 280h0M919 259h0M971 318h0M897 330h0M903 294h0M900 298h0M944 279h0M931 322h0M929 326h0M949 263h0M983 343h0M918 260h0M896 300h0M948 293h0M915 296h0M899 291h0M928 304h0M971 333h0M969 352h0M937 267h0M963 348h0M895 284h0M937 315h0M959 279h0M958 286h0M895 278h0M905 312h0M906 290h0M944 323h0M971 325h0M943 327h0M947 352h0M916 367h0M930 263h0M929 369h0M894 284h0M927 302h0M920 321h0M893 290h0M920 282h0M900 335h0M935 319h0M912 348h0M933 261h0M892 313h0M946 347h0M905 320h0M935 370h0M956 345h0M945 282h0M930 260h0M955 329h0M971 298h0M939 312h0M912 353h0M919 291h0M946 271h0M895 335h0M942 274h0M913 297h0M925 300h0M911 339h0M953 351h0M928 260h0M906 342h0M939 275h0M944 311h0M902 265h0M958 294h0M943 274h0M937 308h0M936 340h0M921 280h0M911 324h0M913 259h0M926 316h0M934 277h0M948 319h0M957 342h0M966 326h0M909 338h0M924 321h0M933 351h0M924 330h0M903 315h0M916 315h0M923 271h0M923 365h0M941 352h0M937 312h0M905 293h0M919 333h0M918 275h0M948 258h0M945 316h0M909 281h0M943 296h0M924 350h0M907 316h0M946 353h0M932 278h0M909 289h0M922 325h0M917 354h0M904 343h0M908 278h0M912 273h0M898 295h0M906 280h0M913 306h0M914 287h0M906 265h0M942 349h0M916 360h0M932 304h0M930 307h0M904 324h0M943 289h0M916 310h0M938 288h0M949 339h0M978 321h0M893 311h0M895 293h0M900 265h0M975 307h0M928 369h0M942 264h0M972 309h0M923 323h0M937 365h0M917 281h0M936 312h0M948 359h0M913 288h0M954 344h0M903 332h0M960 337h0M981 339h0M923 315h0M953 272h0M921 364h0M946 357h0M908 265h0M953 287h0M947 352h0M967 309h0M957 315h0M921 320h0M956 326h0M920 263h0M926 347h0M932 271h0M967 321h0M953 299h0M909 344h0M935 322h0M923 279h0M900 322h0M904 280h0M969 286h0M988 343h0M932 333h0M915 312h0M937 314h0M955 328h0M944 288h0M942 332h0M969 314h0M935 303h0M918 330h0M898 290h0M936 280h0M937 263h0M929 355h0M930 267h0M938 328h0M928 258h0M896 283h0M973 293h0M931 258h0M920 286h0M927 316h0M927 288h0M937 283h0M980 324h0M945 289h0M920 262h0M946 359h0M933 315h0M936 363h0M946 356h0M920 274h0M924 334h0M903 307h0M882 320h0M889 314h0M894 272h0M889 302h0M886 290h0M891 273h0M893 272h0M883 304h0M893 268h0M888 271h0M889 295h0" stroke="#6aacd0"/>
<path d="M876 348h0M873 338h0" stroke="#e58268"/>
<path d="M929 299h0M929 352h0M924 268h0M911 269h0M954 333h0M910 339h0M969 282h0M902 273h0M955 284h0M943 354h0M947 345h0M928 295h0M908 314h0M936 315h0M908 347h0M932 305h0M924 265h0M944 315h0M956 277h0M918 318h0M981 321h0M900 310h0M903 316h0M919 286h0M959 284h0M934 262h0M917 314h0M926 355h0M924 301h0M940 298h0M946 271h0M917 348h0M950 327h0M900 287h0M907 290h0M904 277h0M937 286h0M934 272h0M930 265h0M902 318h0M923 338h0M937 264h0M925 270h0M945 285h0M952 292h0M954 342h0M899 308h0M953 273h0M962 348h0M892 302h0M980 347h0M924 271h0M970 344h0M913 305h0M949 289h0M955 341h0M946 270h0M915 362h0M943 324h0M936 282h0M914 355h0M940 276h0M976 323h0M925 300h0M910 333h0M945 365h0M951 360h0M927 349h0M954 284h0M923 300h0M907 345h0M943 312h0M905 308h0M933 364h0M925 364h0M926 364h0M908 269h0M946 295h0M912 325h0M922 279h0M904 303h0M986 344h0M900 279h0M991 355h0M944 297h0M932 314h0M915 364h0M944 313h0M945 315h0M910 320h0M909 334h0M908 290h0M910 298h0M946 349h0M920 360h0M921 272h0M904 262h0M915 346h0M949 340h0M936 332h0M939 354h0M921 354h0M934 359h0M974 308h0M919 280h0M944 358h0M935 312h0M934 362h0M914 315h0M928 265h0M916 329h0M930 296h0M918 273h0M929 289h0M891 307h0M918 334h0M958 319h0M936 293h0M930 323h0M981 350h0M907 290h0M944 291h0M925 357h0M899 296h0M932 311h0M976 313h0M922 275h0M912 320h0M960 301h0M967 300h0M924 258h0M910 280h0M921 313h0M949 295h0M929 334h0M933 324h0M886 271h0M883 294h0M893 328h0" stroke="#57a0ca"/>
<path d="M882 340h0M878 350h0" stroke="#de715a"/>
<path d="M944 273h0M923 335h0M917 313h0M926 263h0M951 279h0M952 329h0M924 294h0M934 327h0M913 352h0M919 272h0M917 260h0M909 346h0M927 326h0M959 347h0M916 313h0M932 329h0M956 336h0M924 286h0M917 355h0M906 337h0M919 262h0M934 353h0M898 284h0M944 274h0M917 351h0M956 344h0M902 286h0M927 318h0M899 322h0M950 344h0M941 286h0M928 312h0M957 292h0M918 330h0M925 318h0M920 358h0M950 278h0M905 315h0M955 271h0M903 338h0M919 269h0M941 309h0M945 312h0M914 320h0M924 349h0M971 287h0M948 295h0M938 260h0M921 327h0M907 277h0M935 263h0M977 324h0M965 287h0M935 281h0M907 275h0M930 327h0M948 273h0M926 342h0M950 298h0M977 322h0M957 313h0M931 326h0M929 347h0M930 372h0M953 317h0M912 254h0M966 301h0M945 332h0M920 323h0M929 293h0M951 298h0M947 335h0M923 258h0M920 272h0M932 322h0M942 339h0M916 274h0M909 325h0M932 298h0M907 324h0M899 315h0M941 320h0M928 326h0M937 308h0M906 284h0M956 279h0M882 270h0" stroke="#4393c3"/>
<path d="M907 351h0M924 310h0M967 328h0M952 335h0M959 336h0M919 288h0M959 347h0M926 324h0M920 313h0M963 349h0M948 325h0M899 281h0M910 269h0M943 265h0M932 275h0M917 256h0M908 346h0M935 314h0M967 294h0M924 356h0M918 360h0M934 265h0M942 279h0M953 348h0M920 327h0M882 303h0" stroke="#3a88bd"/>
<path d="M942 359h0M915 268h0M911 346h0M975 316h0M934 278h0M952 354h0M934 265h0M941 309h0M905 344h0M932 336h0M895 284h0M922 317h0M905 320h0M916 311h0M891 323h0" stroke="#327cb8"/>
<path d="M938 357h0M921 322h0" stroke="#2a71b2"/>
<path d="M959 274h0" stroke="#2166ac"/>
<path d="M953 364h0" stroke="#1a5899"/>
</g>
<path d="M617.73 133.17 L618.69 133.65 L619.57 134.14 L620.37 134.63 L621.09 135.12 L621.73 135.62 L622.29 136.08 L622.75 136.5 L623.12 136.88 L623.41 137.22 L623.77 137.62 L624.21 138.1 L624.73 138.64 L625.32 139.24 L625.87 139.8 L626.37 140.32 L626.83 140.79 L627.25 141.21 L627.62 141.65 L627.95 142.11 L628.23 142.58 L628.47 143.06 L628.7 143.55 L628.94 144.03 L629.18 144.52 L629.41 145 L629.62 145.52 L629.8 146.07 L629.95 146.64 L630.07 147.25 L630.19 147.87 L630.31 148.51 L630.42 149.16 L630.54 149.83 L630.71 150.57 L630.91 151.39 L631.17 152.28 L631.46 153.25 L631.79 154.19 L632.15 155.1 L632.53 155.98 L632.95 156.83 L633.33 157.56 L633.69 158.16 L634.02 158.65 L634.31 159.01 L634.62 159.51 L634.95 160.15 L635.29 160.92 L635.65 161.83 L636 162.68 L636.36 163.47 L636.72 164.2 L637.07 164.87 L637.44 165.52 L637.83 166.15 L638.23 166.78 L638.64 167.38 L639 167.96 L639.28 168.5 L639.5 169.02 L639.65 169.51 L639.73 170.03 L639.74 170.6 L639.67 171.22 L639.53 171.87 L639.3 172.49 L639 173.06 L638.6 173.6 L638.13 174.1 L637.57 174.51 L636.94 174.84 L636.22 175.08 L635.43 175.24 L634.67 175.27 L633.95 175.19 L633.27 174.98 L632.63 174.65 L632.03 174.33 L631.47 174 L630.94 173.67 L630.45 173.34 L630.01 173.14 L629.6 173.06 L629.24 173.11 L628.92 173.28 L628.56 173.49 L628.17 173.74 L627.73 174.02 L627.25 174.35 L626.74 174.68 L626.18 175.01 L625.58 175.33 L624.94 175.66 L624.3 175.99 L623.66 176.32 L623.02 176.64 L622.38 176.97 L621.77 177.3 L621.21 177.63 L620.68 177.95 L620.2 178.28 L619.9 177.96 L619.78 177 L619.86 175.39 L620.12 173.13 L620.35 170.99 L620.54 168.95 L620.69 167.02 L620.81 165.2 L620.66 163.44 L620.24 161.74 L619.56 160.11 L618.61 158.53 L617.45 157.28 L616.09 156.38 L614.52 155.8 L612.74 155.56 L610.81 155.44 L608.73 155.44 L606.5 155.56 L604.13 155.8 L602.14 156.16 L600.54 156.65 L599.32 157.25 L598.49 157.98 L597.66 158.59 L596.83 159.07 L596 159.44 L595.17 159.68 L594.44 159.68 L593.82 159.44 L593.3 158.95 L592.88 158.23 L592.57 157.44 L592.36 156.59 L592.26 155.68 L592.26 154.71 L592.48 153.8 L592.93 152.95 L593.59 152.16 L594.48 151.43 L596.34 150.58 L599.16 149.61 L602.94 148.52 L607.69 147.31 L611.34 145.58 L613.9 143.35 L615.37 140.59 L615.73 137.33 L616.25 135.01 L616.91 133.62Z" fill="#d9e9f1" opacity="0.7"/>
<path d="M592.5 151.31 L592.27 150.81 L592.05 150.23 L591.85 149.58 L591.68 148.84 L591.52 148.03 L591.43 147.18 L591.38 146.28 L591.4 145.34 L591.47 144.36 L591.56 143.37 L591.68 142.39 L591.83 141.41 L591.99 140.43 L592.18 139.53 L592.38 138.71 L592.6 137.97 L592.83 137.32 L593.07 136.66 L593.31 136.01 L593.55 135.35 L593.78 134.7 L594.08 134.04 L594.45 133.39 L594.87 132.73 L595.36 132.08 L595.84 131.5 L596.32 131.01 L596.8 130.6 L597.27 130.27 L597.87 129.95 L598.59 129.62 L599.43 129.29 L600.39 128.96 L601.39 128.74 L602.43 128.62 L603.51 128.6 L604.62 128.68 L605.77 128.78 L606.94 128.87 L608.15 128.98 L609.38 129.09 L610.55 129.29 L611.65 129.59 L612.68 129.99 L613.64 130.49 L614.6 130.99 L615.56 131.48 L616.52 131.97 L617.49 132.45 L618.37 132.94 L619.17 133.43 L619.89 133.92 L620.53 134.42 L621.09 134.96 L621.57 135.54 L621.97 136.15 L622.29 136.81 L622.49 137.5 L622.57 138.23 L622.53 139.01 L622.36 139.82 L622.12 140.64 L621.79 141.45 L621.4 142.28 L620.92 143.1 L620.41 143.88 L619.85 144.62 L619.25 145.32 L618.61 145.98 L617.97 146.63 L617.33 147.29 L616.68 147.94 L616.04 148.6 L615.4 149.26 L614.76 149.92 L614.12 150.6 L613.48 151.28 L612.77 151.88 L611.99 152.4 L611.15 152.84 L610.23 153.2 L609.25 153.51 L608.2 153.75 L607.08 153.93 L605.89 154.05 L604.71 154.16 L603.52 154.25 L602.33 154.33 L601.14 154.39 L600.02 154.45 L598.95 154.51 L597.94 154.57 L596.99 154.63 L596.11 154.51 L595.3 154.21 L594.55 153.72 L593.87 153.05 L593.31 152.43 L592.85 151.85Z" fill="#d1e5f0" opacity="0.7"/>
<path d="M594.55 165.72 L594.72 167.03 L594.96 168.34 L595.28 169.65 L595.68 170.96 L596.16 172.27 L596.63 173.49 L597.12 174.64 L597.6 175.71 L598.09 176.69 L598.61 177.63 L599.18 178.53 L599.78 179.38 L600.42 180.19 L601.14 180.92 L601.94 181.57 L602.82 182.14 L603.78 182.63 L604.78 183.05 L605.82 183.42 L606.9 183.74 L608.02 183.99 L609.04 184.16 L609.97 184.24 L610.81 184.24 L611.56 184.16 L612.28 184.05 L612.98 183.93 L613.64 183.78 L614.28 183.61 L614.96 183.28 L615.68 182.79 L616.44 182.13 L617.23 181.32 L617.99 180.43 L618.71 179.45 L619.39 178.39 L620.03 177.25 L620.57 175.99 L621.02 174.6 L621.37 173.09 L621.62 171.45 L621.78 169.81 L621.86 168.17 L621.86 166.54 L621.78 164.9 L621.64 163.26 L621.44 161.62 L621.18 159.99 L620.86 158.35 L620.38 157.06 L619.75 156.12 L618.97 155.53 L618.03 155.29 L617.08 155.06 L616.12 154.85 L615.15 154.65 L614.16 154.47 L613.13 154.38 L612.06 154.38 L610.95 154.47 L609.8 154.65 L608.64 154.83 L607.47 155.01 L606.3 155.19 L605.11 155.38 L603.92 155.59 L602.73 155.83 L601.55 156.1 L600.36 156.41 L599.29 156.76 L598.34 157.15 L597.51 157.59 L596.8 158.08 L596.19 158.56 L595.69 159.05 L595.28 159.53 L594.99 160.02 L594.75 160.57 L594.57 161.19 L594.45 161.87 L594.39 162.62 L594.39 163.52 L594.44 164.55Z" fill="#d1e5f0" opacity="0.7"/>
<path d="M583.26 168.7 L583.72 168.58 L584.18 168.58 L584.63 168.71 L585.09 168.97 L585.55 169.35 L586.01 169.79 L586.47 170.27 L586.93 170.79 L587.39 171.37 L587.81 171.94 L588.2 172.52 L588.54 173.09 L588.85 173.66 L589.13 174.24 L589.38 174.81 L589.61 175.39 L589.82 175.96 L589.95 176.51 L590 177.03 L589.97 177.52 L589.87 177.99 L589.68 178.37 L589.42 178.66 L589.07 178.85 L588.64 178.96 L588.16 179 L587.62 178.97 L587.03 178.88 L586.39 178.72 L585.78 178.52 L585.2 178.27 L584.66 177.97 L584.15 177.63 L583.68 177.24 L583.24 176.81 L582.85 176.33 L582.49 175.81 L582.21 175.25 L582.01 174.67 L581.88 174.05 L581.83 173.41 L581.8 172.79 L581.8 172.21 L581.83 171.66 L581.88 171.13 L581.95 170.65 L582.06 170.21 L582.18 169.8 L582.34 169.44 L582.57 169.13 L582.87 168.89Z" fill="#fddbc7" opacity="0.7"/>
<path d="M582.09 136.03 L582.35 135.82 L582.66 135.65 L582.99 135.52 L583.37 135.43 L583.77 135.38 L584.17 135.36 L584.55 135.37 L584.92 135.41 L585.28 135.48 L585.51 135.62 L585.61 135.83 L585.59 136.11 L585.43 136.45 L585.24 136.77 L585.01 137.08 L584.74 137.36 L584.44 137.62 L584.17 137.89 L583.94 138.18 L583.75 138.48 L583.6 138.79 L583.42 139 L583.21 139.11 L582.98 139.11 L582.73 139 L582.5 138.87 L582.29 138.72 L582.11 138.53 L581.96 138.32 L581.84 138.06 L581.76 137.75 L581.72 137.39 L581.71 136.97 L581.76 136.6 L581.89 136.29Z" fill="#e4eef4" opacity="0.7"/>
<path d="M648.05 153.78 L648.2 153.65 L648.37 153.58 L648.55 153.55 L648.74 153.58 L648.94 153.65 L649.08 153.76 L649.16 153.9 L649.17 154.07 L649.12 154.28 L649.03 154.46 L648.9 154.62 L648.74 154.75 L648.53 154.85 L648.34 154.92 L648.16 154.94 L648 154.93 L647.84 154.88 L647.74 154.79 L647.69 154.66 L647.69 154.49 L647.74 154.28 L647.82 154.09 L647.92 153.92Z" fill="#e4eef4" opacity="0.7"/>
<g transform="scale(.5)" fill="none" stroke-linecap="square" stroke-width="1.7">
<path d="M1247 274h0M1276 339h0M1185 320h0M1260 341h0M1243 295h0M1261 339h0M1162 281h0M1224 363h0M1257 348h0M1281 344h0M1240 335h0M1204 313h0M1192 341h0M1205 283h0M1233 314h0M1179 353h0M1224 344h0M1241 291h0M1221 277h0M1262 342h0M1267 336h0M1204 307h0M1233 301h0M1267 335h0M1259 335h0M1218 364h0M1164 274h0M1265 341h0M1230 339h0M1278 343h0M1241 311h0M1164 266h0M1202 271h0M1209 270h0M1251 348h0M1279 348h0M1190 314h0M1194 290h0M1222 371h0M1252 343h0M1173 278h0M1265 338h0M1215 320h0M1193 320h0M1217 341h0M1273 346h0M1257 285h0M1262 295h0M1247 269h0M1205 360h0M1191 280h0M1280 337h0M1226 260h0M1251 355h0M1247 296h0M1204 294h0M1209 337h0M1217 319h0M1186 314h0M1193 293h0M1243 312h0M1168 276h0M1213 299h0M1250 301h0M1165 279h0M1174 345h0M1265 311h0M1265 314h0M1276 349h0M1279 346h0M1263 346h0M1245 313h0M1217 347h0M1255 341h0M1254 322h0M1247 325h0M1225 365h0M1172 272h0M1174 345h0M1269 339h0M1256 309h0M1164 276h0M1256 325h0M1233 318h0M1212 276h0M1238 265h0M1211 279h0M1277 343h0M1280 339h0M1269 339h0M1202 345h0M1191 269h0M1217 258h0M1177 359h0M1230 279h0M1259 332h0M1251 285h0M1259 328h0M1231 273h0M1182 324h0M1178 312h0" stroke="#f7f7f7"/>
<path d="M1213 347h0M1226 292h0M1263 315h0M1260 298h0M1244 304h0M1223 344h0M1274 340h0M1253 281h0M1215 280h0M1264 347h0M1237 351h0M1204 289h0M1189 289h0M1251 333h0M1189 336h0M1214 368h0M1182 288h0M1210 309h0M1254 298h0M1177 353h0M1224 315h0M1257 320h0M1264 308h0M1204 343h0M1191 280h0M1251 308h0M1201 312h0M1279 349h0M1203 352h0M1281 354h0M1233 309h0M1255 349h0M1226 311h0M1235 313h0M1268 343h0M1243 322h0M1248 318h0M1239 337h0M1205 312h0M1208 322h0M1250 322h0M1221 258h0M1264 342h0M1208 357h0M1266 333h0M1203 356h0M1204 267h0M1230 361h0M1199 329h0M1216 345h0M1271 340h0M1224 367h0M1194 290h0M1188 278h0M1212 355h0M1191 294h0M1191 332h0M1254 294h0M1258 330h0M1236 340h0M1245 285h0M1259 333h0M1245 308h0M1238 278h0M1273 331h0M1268 332h0M1203 342h0M1269 338h0M1211 308h0M1247 356h0M1194 312h0M1225 331h0M1203 296h0M1209 329h0M1231 340h0M1236 316h0M1255 334h0M1188 335h0M1221 283h0M1248 312h0M1221 261h0M1252 317h0M1261 333h0M1261 337h0M1258 344h0M1198 352h0M1213 312h0M1224 349h0M1259 289h0M1260 332h0M1184 283h0M1220 363h0M1183 279h0M1199 346h0M1241 329h0M1194 342h0M1280 346h0M1268 347h0M1227 346h0M1171 271h0M1249 341h0M1253 284h0M1271 337h0M1262 291h0M1229 297h0M1246 306h0M1235 319h0M1255 324h0M1278 342h0M1196 262h0M1211 271h0M1276 333h0M1262 313h0M1245 349h0M1202 292h0M1257 310h0M1227 349h0M1210 338h0M1256 341h0M1255 346h0M1202 307h0M1203 283h0M1256 327h0M1220 278h0M1198 289h0M1186 289h0M1267 331h0M1242 355h0M1257 340h0M1250 328h0M1272 341h0M1188 310h0M1202 287h0M1202 305h0M1242 331h0M1234 283h0M1277 335h0M1192 324h0M1196 290h0M1244 316h0M1233 330h0M1195 315h0M1224 309h0M1209 286h0M1237 320h0M1195 324h0M1209 272h0M1264 322h0M1194 328h0M1268 351h0M1249 313h0M1241 266h0M1226 282h0M1240 303h0M1266 330h0M1195 344h0M1254 324h0M1231 319h0M1227 329h0M1203 332h0M1223 310h0M1250 314h0M1232 319h0M1222 297h0M1191 287h0M1219 329h0M1256 334h0M1270 327h0M1255 338h0M1265 312h0M1215 290h0M1274 351h0M1197 264h0M1208 295h0M1255 348h0M1225 308h0M1211 342h0M1267 348h0M1234 359h0M1265 333h0M1188 274h0M1183 355h0M1221 342h0M1205 311h0M1260 322h0M1245 272h0M1178 307h0M1183 325h0M1182 330h0M1181 328h0M1178 315h0" stroke="#eef2f5"/>
<path d="M1173 351h0M1250 328h0M1258 344h0M1249 281h0M1257 348h0M1170 275h0M1250 345h0M1244 299h0M1192 342h0M1179 353h0M1260 347h0M1260 346h0M1254 302h0M1230 343h0M1174 342h0M1266 349h0M1273 339h0M1174 354h0M1176 352h0M1239 318h0M1163 283h0M1271 347h0M1274 351h0M1177 360h0M1231 297h0M1201 306h0M1262 331h0M1185 280h0M1241 326h0M1179 348h0M1279 339h0M1261 346h0M1222 264h0M1175 347h0M1255 336h0M1177 357h0M1275 337h0M1272 331h0M1270 340h0M1232 332h0M1256 344h0M1199 344h0M1256 338h0M1186 313h0M1263 340h0M1274 350h0M1233 296h0M1225 334h0M1248 344h0M1242 339h0M1275 332h0M1260 334h0M1255 346h0M1277 350h0M1256 341h0M1232 317h0M1247 312h0M1228 306h0M1237 305h0M1237 295h0M1269 350h0M1258 343h0M1189 302h0M1256 349h0M1231 283h0M1263 309h0M1269 347h0M1271 340h0M1275 342h0M1260 339h0M1274 347h0M1268 324h0M1275 336h0M1252 275h0M1252 339h0M1278 347h0M1173 274h0M1181 319h0" stroke="#f8f0eb"/>
<path d="M1177 357h0M1213 347h0M1241 330h0M1203 357h0M1184 305h0M1245 355h0M1250 333h0M1221 346h0M1181 308h0M1219 347h0M1195 312h0M1209 356h0M1205 269h0M1252 316h0M1223 301h0M1236 285h0M1264 344h0M1192 271h0M1211 300h0M1251 284h0M1240 321h0M1231 354h0M1166 277h0M1196 359h0M1195 316h0M1208 281h0M1207 301h0M1235 341h0M1224 364h0M1214 267h0M1238 355h0M1239 304h0M1190 317h0M1182 299h0M1216 293h0M1187 294h0M1267 350h0M1215 283h0M1247 336h0M1245 352h0M1260 325h0M1195 347h0M1247 347h0M1236 331h0M1214 289h0M1220 329h0M1217 297h0M1197 262h0M1239 283h0M1269 321h0M1202 347h0M1218 357h0M1235 317h0M1196 263h0M1250 348h0M1194 337h0M1210 274h0M1267 341h0M1196 311h0M1249 344h0M1205 351h0M1214 303h0M1252 351h0M1240 314h0M1245 344h0M1269 338h0M1200 282h0M1246 316h0M1197 309h0M1242 317h0M1257 287h0M1241 269h0M1246 338h0M1241 285h0M1228 358h0M1201 355h0M1198 340h0M1185 328h0M1233 286h0M1184 304h0M1210 343h0M1232 279h0M1251 282h0M1219 322h0M1196 290h0M1228 313h0M1258 310h0M1175 351h0M1251 349h0M1272 343h0M1213 357h0M1216 312h0M1188 333h0M1257 352h0M1233 328h0M1245 292h0M1207 367h0M1225 289h0M1213 295h0M1247 347h0M1223 357h0M1253 328h0M1214 298h0M1191 318h0M1204 340h0M1193 279h0M1184 301h0M1189 283h0M1252 297h0M1227 285h0M1230 272h0M1232 323h0M1239 304h0M1245 313h0M1254 289h0M1242 310h0M1207 285h0M1201 316h0M1181 313h0M1195 280h0M1194 276h0M1250 285h0M1261 315h0M1273 318h0M1199 321h0M1203 350h0M1248 328h0M1249 298h0M1192 275h0M1242 295h0M1195 336h0M1233 351h0M1212 345h0M1230 274h0M1192 316h0M1205 259h0M1199 339h0M1247 301h0M1216 260h0M1202 340h0M1209 308h0M1237 267h0M1236 270h0M1265 328h0M1222 343h0M1200 324h0M1229 276h0M1265 323h0M1231 287h0M1199 321h0M1249 278h0M1263 313h0M1250 344h0M1249 353h0M1209 327h0M1255 285h0M1197 338h0M1243 279h0M1204 269h0M1261 292h0M1246 338h0M1198 262h0M1203 324h0M1220 310h0M1244 300h0M1265 324h0M1165 275h0M1257 323h0M1223 314h0M1213 285h0M1231 312h0M1243 302h0M1186 311h0M1207 333h0M1235 266h0M1241 320h0M1182 325h0M1167 276h0M1238 276h0M1190 338h0M1245 344h0M1270 342h0M1259 329h0M1263 333h0M1225 295h0M1196 269h0M1225 299h0M1225 360h0M1214 367h0M1231 368h0M1245 298h0M1224 326h0M1255 292h0M1196 278h0M1248 287h0M1255 346h0M1163 274h0M1204 319h0M1246 290h0M1260 313h0M1189 279h0M1187 286h0M1281 341h0M1177 345h0M1218 312h0M1223 362h0M1204 360h0M1237 331h0M1194 276h0M1228 341h0M1230 366h0M1240 315h0M1213 326h0M1217 365h0M1254 301h0M1189 292h0M1249 319h0M1231 345h0M1192 307h0M1236 307h0M1270 318h0M1179 357h0M1191 264h0M1222 316h0M1231 264h0M1231 292h0M1275 349h0M1189 302h0M1263 308h0M1232 358h0M1204 325h0M1203 309h0M1180 306h0M1206 292h0M1209 312h0M1228 320h0M1197 273h0M1209 320h0M1185 282h0M1204 284h0M1208 292h0M1179 307h0M1221 329h0M1186 305h0M1246 319h0M1264 318h0M1204 304h0M1220 322h0M1197 325h0M1205 289h0M1221 298h0M1216 292h0M1263 325h0M1189 277h0M1260 320h0M1270 343h0M1188 304h0M1213 369h0M1202 353h0M1242 300h0M1184 310h0M1266 326h0M1199 357h0M1253 313h0M1196 261h0M1222 317h0M1226 328h0M1192 344h0M1228 310h0M1205 312h0M1174 347h0M1239 309h0M1253 324h0M1216 316h0M1209 313h0M1243 291h0M1240 314h0M1224 363h0M1221 324h0M1231 306h0M1211 274h0M1179 286h0M1183 326h0M1177 317h0M1174 283h0M1170 270h0M1181 306h0M1171 294h0M1173 283h0" stroke="#e4eef4"/>
<path d="M1177 357h0M1276 355h0M1280 339h0M1275 345h0M1274 340h0M1168 273h0M1177 345h0M1266 343h0M1178 361h0M1271 343h0M1167 274h0M1266 345h0M1271 334h0M1264 345h0M1267 346h0M1258 342h0M1279 337h0M1224 293h0M1163 279h0M1275 349h0M1202 274h0M1188 307h0M1275 346h0M1275 349h0M1176 362h0M1267 335h0M1277 349h0M1179 351h0M1277 334h0M1256 345h0M1184 358h0M1276 354h0M1263 341h0M1173 354h0M1277 348h0M1271 334h0M1216 276h0M1164 274h0M1167 270h0" stroke="#fae9df"/>
<path d="M1268 350h0M1260 340h0M1276 347h0M1281 346h0M1266 347h0M1269 331h0M1268 334h0M1255 347h0M1277 342h0M1260 331h0M1176 354h0M1244 309h0M1196 337h0M1258 352h0M1268 340h0M1174 355h0M1269 334h0M1268 353h0M1274 350h0M1269 348h0M1258 339h0M1266 344h0M1201 366h0M1265 342h0M1167 355h0M1262 339h0M1266 342h0M1166 343h0M1176 353h0M1276 335h0M1274 344h0M1272 342h0M1258 348h0" stroke="#fce2d3"/>
<path d="M1226 309h0M1262 311h0M1217 352h0M1264 312h0M1247 351h0M1221 346h0M1195 336h0M1182 354h0M1251 314h0M1225 344h0M1227 269h0M1227 276h0M1226 372h0M1221 294h0M1246 353h0M1205 275h0M1234 286h0M1222 330h0M1201 335h0M1203 281h0M1217 286h0M1226 283h0M1197 270h0M1202 284h0M1196 326h0M1253 344h0M1245 273h0M1238 352h0M1201 352h0M1216 295h0M1257 295h0M1214 289h0M1240 277h0M1239 272h0M1225 369h0M1205 260h0M1224 318h0M1197 346h0M1226 300h0M1228 324h0M1224 303h0M1206 305h0M1183 285h0M1191 289h0M1211 290h0M1231 298h0M1218 258h0M1213 364h0M1223 270h0M1226 331h0M1191 273h0M1269 319h0M1232 315h0M1181 346h0M1244 277h0M1247 347h0M1198 336h0M1248 328h0M1244 333h0M1218 313h0M1226 326h0M1249 348h0M1208 343h0M1204 292h0M1231 290h0M1239 276h0M1235 324h0M1235 298h0M1227 276h0M1216 368h0M1225 364h0M1222 349h0M1205 275h0M1259 326h0M1216 267h0M1248 295h0M1230 295h0M1237 360h0M1194 307h0M1192 344h0M1187 297h0M1245 340h0M1207 351h0M1210 280h0M1215 318h0M1228 286h0M1214 289h0M1192 347h0M1224 368h0M1218 350h0M1258 347h0M1267 319h0M1245 317h0M1212 311h0M1265 296h0M1230 286h0M1259 318h0M1207 258h0M1226 366h0M1205 282h0M1245 304h0M1241 345h0M1202 258h0M1241 350h0M1241 354h0M1220 334h0M1185 330h0M1245 348h0M1200 327h0M1217 323h0M1258 286h0M1257 291h0M1242 292h0M1189 326h0M1243 301h0M1253 296h0M1209 355h0M1208 358h0M1237 361h0M1214 300h0M1200 294h0M1244 305h0M1194 285h0M1232 267h0M1217 329h0M1218 360h0M1226 296h0M1214 265h0M1231 327h0M1230 360h0M1259 332h0M1193 308h0M1243 271h0M1188 289h0M1242 324h0M1217 369h0M1211 339h0M1237 342h0M1230 336h0M1215 296h0M1206 259h0M1225 311h0M1185 281h0M1247 318h0M1231 304h0M1244 351h0M1199 348h0M1208 352h0M1202 270h0M1227 285h0M1212 327h0M1233 312h0M1227 348h0M1248 282h0M1200 320h0M1244 305h0M1193 338h0M1201 342h0M1206 264h0M1201 291h0M1198 300h0M1260 298h0M1225 368h0M1212 297h0M1217 362h0M1184 288h0M1200 353h0M1207 366h0M1217 265h0M1169 273h0M1228 329h0M1231 318h0M1246 292h0M1233 349h0M1263 316h0M1208 300h0M1244 304h0M1197 310h0M1232 311h0M1259 292h0M1246 294h0M1225 308h0M1217 358h0M1261 321h0M1235 353h0M1202 308h0M1215 316h0M1260 298h0M1222 351h0M1259 312h0M1261 307h0M1204 315h0M1218 297h0M1201 283h0M1217 310h0M1225 291h0M1226 276h0M1187 313h0M1215 260h0M1223 263h0M1233 273h0M1220 349h0M1222 358h0M1193 308h0M1236 266h0M1199 347h0M1187 288h0M1194 282h0M1252 333h0M1239 284h0M1217 270h0M1206 346h0M1195 353h0M1205 314h0M1239 354h0M1187 292h0M1231 296h0M1191 316h0M1236 273h0M1240 271h0M1199 317h0M1231 326h0M1231 346h0M1243 335h0M1197 326h0M1276 330h0M1229 304h0M1190 278h0M1209 297h0M1228 332h0M1193 303h0M1273 327h0M1198 310h0M1257 310h0M1227 334h0M1222 283h0M1213 351h0M1240 301h0M1236 298h0M1258 308h0M1279 355h0M1225 287h0M1261 292h0M1245 342h0M1203 357h0M1230 346h0M1201 342h0M1243 317h0M1191 332h0M1204 310h0M1177 350h0M1223 322h0M1270 342h0M1217 349h0M1266 324h0M1190 278h0M1260 309h0M1235 356h0M1229 347h0M1213 362h0M1244 292h0M1241 290h0M1204 329h0M1198 356h0M1254 312h0M1256 325h0M1216 281h0M1224 291h0M1184 310h0M1216 365h0M1206 281h0M1209 354h0M1211 345h0M1226 363h0M1272 342h0M1207 318h0M1227 284h0M1242 344h0M1264 313h0M1192 332h0M1176 349h0M1252 282h0M1224 312h0M1224 282h0M1222 362h0M1211 315h0M1209 322h0M1200 324h0M1230 297h0M1246 315h0M1245 300h0M1250 299h0M1197 330h0M1212 298h0M1175 341h0M1244 326h0M1224 313h0M1206 334h0M1249 347h0M1221 271h0M1233 296h0M1260 300h0M1206 340h0M1218 303h0M1228 315h0M1252 344h0M1251 337h0M1237 335h0M1240 269h0M1250 281h0M1215 346h0M1232 291h0M1186 315h0M1208 272h0M1244 280h0M1261 327h0M1200 278h0M1204 274h0M1258 286h0M1219 268h0M1228 351h0M1258 302h0M1217 275h0M1235 333h0M1257 314h0M1206 330h0M1222 270h0M1218 273h0M1224 277h0M1250 313h0M1230 307h0M1213 335h0M1163 269h0M1229 320h0M1189 289h0M1249 301h0M1245 308h0M1241 293h0M1215 300h0M1216 334h0M1240 350h0M1212 336h0M1229 352h0M1250 291h0M1258 297h0M1203 278h0M1241 348h0M1221 315h0M1234 328h0M1269 336h0M1191 329h0M1257 313h0M1235 356h0M1223 316h0M1242 338h0M1200 310h0M1265 325h0M1194 333h0M1257 302h0M1266 326h0M1171 315h0M1182 272h0M1173 329h0M1175 289h0M1171 303h0M1179 318h0M1173 287h0M1176 311h0M1178 286h0" stroke="#daeaf2"/>
<path d="M1218 296h0M1207 259h0M1195 351h0M1212 335h0M1223 365h0M1184 314h0M1225 325h0M1243 356h0M1197 307h0M1197 265h0M1235 272h0M1245 313h0M1227 347h0M1203 306h0M1224 326h0M1226 328h0M1183 290h0M1210 360h0M1231 286h0M1231 300h0M1218 307h0M1239 301h0M1239 328h0M1218 316h0M1199 317h0M1181 353h0M1232 328h0M1248 347h0M1216 315h0M1221 268h0M1256 319h0M1189 272h0M1220 304h0M1263 331h0M1216 293h0M1239 352h0M1249 318h0M1217 316h0M1208 272h0M1182 322h0M1230 351h0M1214 314h0M1248 347h0M1246 312h0M1239 329h0M1203 320h0M1236 360h0M1218 343h0M1207 288h0M1274 350h0M1217 322h0M1196 333h0M1189 279h0M1215 326h0M1188 288h0M1228 296h0M1227 348h0M1230 319h0M1244 284h0M1208 290h0M1235 299h0M1232 271h0M1201 318h0M1219 352h0M1227 351h0M1202 304h0M1237 355h0M1196 312h0M1183 289h0M1236 325h0M1228 345h0M1215 322h0M1233 349h0M1248 339h0M1198 291h0M1200 287h0M1192 326h0M1210 307h0M1216 283h0M1268 326h0M1227 345h0M1186 284h0M1216 281h0M1227 329h0M1246 266h0M1200 274h0M1188 317h0M1238 307h0M1233 274h0M1234 284h0M1210 303h0M1262 345h0M1233 309h0M1217 312h0M1243 310h0M1244 302h0M1247 284h0M1190 286h0M1228 345h0M1196 287h0M1193 306h0M1222 336h0M1224 336h0M1212 360h0M1261 307h0M1191 345h0M1249 277h0M1220 368h0M1227 338h0M1252 315h0M1188 322h0M1230 298h0M1238 344h0M1259 326h0M1193 267h0M1228 298h0M1224 268h0M1198 288h0M1219 315h0M1219 347h0M1251 326h0M1208 315h0M1228 361h0M1207 297h0M1232 344h0M1230 297h0M1240 327h0M1255 291h0M1213 272h0M1187 326h0M1211 296h0M1199 262h0M1235 282h0M1231 321h0M1197 285h0M1190 327h0M1225 335h0M1254 345h0M1237 301h0M1238 361h0M1187 291h0M1208 306h0M1245 354h0M1252 324h0M1191 312h0M1225 267h0M1182 296h0M1207 334h0M1225 334h0M1236 325h0M1210 299h0M1213 270h0M1233 285h0M1222 270h0M1226 345h0M1226 315h0M1243 327h0M1244 336h0M1197 304h0M1183 298h0M1228 287h0M1229 269h0M1225 291h0M1254 312h0M1200 326h0M1211 337h0M1211 289h0M1214 304h0M1220 291h0M1230 341h0M1204 367h0M1218 263h0M1206 275h0M1164 278h0M1250 320h0M1198 341h0M1235 349h0M1241 273h0M1208 282h0M1203 280h0M1201 348h0M1240 289h0M1180 302h0M1206 362h0M1227 362h0M1232 361h0M1239 274h0M1223 370h0M1237 289h0M1224 258h0M1225 321h0M1216 327h0M1243 319h0M1196 347h0M1243 329h0M1217 298h0M1198 269h0M1218 297h0M1197 268h0M1210 303h0M1219 276h0M1214 274h0M1214 353h0M1252 310h0M1184 335h0M1186 309h0M1192 262h0M1202 342h0M1203 288h0M1241 351h0M1246 346h0M1242 355h0M1186 273h0M1228 353h0M1206 356h0M1183 283h0M1236 293h0M1248 276h0M1208 322h0M1237 300h0M1260 310h0M1203 295h0M1190 305h0M1237 267h0M1219 282h0M1233 365h0M1249 309h0M1231 265h0M1232 268h0M1236 319h0M1191 310h0M1210 273h0M1222 285h0M1192 289h0M1195 321h0M1212 330h0M1231 359h0M1269 325h0M1198 338h0M1247 327h0M1236 272h0M1210 278h0M1259 323h0M1209 273h0M1214 261h0M1256 325h0M1208 335h0M1200 281h0M1181 314h0M1236 309h0M1193 272h0M1235 278h0M1229 360h0M1237 281h0M1246 280h0M1239 354h0M1251 323h0M1212 288h0M1211 292h0M1195 274h0M1220 333h0M1259 292h0M1200 313h0M1218 327h0M1264 341h0M1274 329h0M1265 347h0M1252 328h0M1210 351h0M1244 316h0M1211 326h0M1185 311h0M1257 328h0M1225 337h0M1231 282h0M1227 349h0M1192 307h0M1213 291h0M1194 334h0M1237 284h0M1221 329h0M1188 295h0M1208 335h0M1221 352h0M1247 273h0M1241 347h0M1212 340h0M1188 290h0M1229 322h0M1188 330h0M1249 345h0M1210 262h0M1221 345h0M1227 267h0M1225 288h0M1261 290h0M1228 283h0M1232 303h0M1239 267h0M1220 274h0M1204 364h0M1202 343h0M1218 352h0M1250 312h0M1193 277h0M1225 343h0M1236 342h0M1247 346h0M1203 296h0M1233 315h0M1223 265h0M1235 310h0M1204 276h0M1262 322h0M1200 351h0M1231 355h0M1243 337h0M1198 298h0M1226 288h0M1250 302h0M1186 293h0M1233 311h0M1235 367h0M1200 254h0M1263 307h0M1264 328h0M1246 329h0M1193 344h0M1198 309h0M1208 323h0M1247 322h0M1277 342h0M1238 275h0M1201 259h0M1252 307h0M1192 262h0M1184 287h0M1249 315h0M1218 272h0M1242 353h0M1203 346h0M1207 334h0M1229 344h0M1224 332h0M1198 306h0M1211 303h0M1195 316h0M1240 340h0M1185 284h0M1222 268h0M1236 359h0M1241 349h0M1248 337h0M1214 307h0M1224 337h0M1247 355h0M1220 297h0M1189 285h0M1224 352h0M1202 315h0M1258 318h0M1217 265h0M1226 314h0M1251 333h0M1184 299h0M1185 285h0M1248 331h0M1213 303h0M1223 304h0M1207 258h0M1243 348h0M1217 289h0M1205 332h0M1230 320h0M1218 349h0M1201 272h0M1227 352h0M1212 356h0M1255 321h0M1254 303h0M1192 345h0M1198 285h0M1206 360h0M1235 335h0M1249 323h0M1202 292h0M1186 303h0M1221 334h0M1223 322h0M1233 271h0M1214 273h0M1176 354h0M1217 330h0M1220 333h0M1203 270h0M1211 297h0M1254 283h0M1236 342h0M1232 288h0M1259 295h0M1231 331h0M1186 275h0M1210 341h0M1236 361h0M1190 299h0M1186 290h0M1265 313h0M1239 283h0M1245 331h0M1211 341h0M1183 305h0M1217 340h0M1197 342h0M1238 269h0M1217 355h0M1216 349h0M1246 290h0M1218 267h0M1181 309h0M1255 300h0M1184 283h0M1191 330h0M1261 293h0M1220 258h0M1206 314h0M1238 299h0M1204 339h0M1227 348h0M1200 304h0M1198 338h0M1232 299h0M1200 341h0M1245 279h0M1202 299h0M1183 310h0M1231 363h0M1223 259h0M1225 326h0M1241 336h0M1210 302h0M1239 352h0M1261 297h0M1217 334h0M1202 343h0M1209 262h0M1191 327h0M1252 298h0M1218 345h0M1198 336h0M1200 304h0M1212 334h0M1227 264h0M1173 330h0M1178 325h0M1177 308h0M1177 302h0M1178 287h0M1180 273h0M1179 323h0M1177 285h0M1174 318h0M1174 309h0M1176 327h0M1182 272h0M1178 317h0M1174 301h0M1182 317h0M1180 327h0M1173 278h0M1172 311h0M1179 324h0" stroke="#d1e5f0"/>
<path d="M1166 348h0M1261 335h0M1274 332h0M1171 271h0M1271 338h0M1274 353h0M1260 339h0M1260 342h0M1177 345h0M1267 337h0M1274 340h0M1271 340h0M1179 351h0M1256 350h0M1258 337h0M1258 338h0M1170 339h0M1266 335h0M1276 344h0M1255 341h0M1263 343h0M1272 339h0M1175 353h0M1172 345h0M1266 348h0M1264 347h0" stroke="#fddbc7"/>
<path d="M1217 299h0M1232 273h0M1206 295h0M1194 268h0M1213 268h0M1259 307h0M1247 292h0M1239 344h0M1243 333h0M1225 326h0M1223 306h0M1244 332h0M1202 298h0M1268 318h0M1205 337h0M1215 285h0M1194 332h0M1239 293h0M1200 319h0M1248 274h0M1218 323h0M1223 368h0M1243 284h0M1222 366h0M1205 308h0M1235 284h0M1229 275h0M1254 308h0M1209 257h0M1192 320h0M1240 341h0M1200 261h0M1229 312h0M1247 277h0M1216 267h0M1227 306h0M1199 274h0M1239 288h0M1192 329h0M1264 317h0M1213 290h0M1204 290h0M1238 356h0M1221 359h0M1226 297h0M1222 261h0M1223 296h0M1255 328h0M1235 266h0M1231 303h0M1197 298h0M1182 300h0M1253 349h0M1204 293h0M1193 330h0M1279 331h0M1204 342h0M1231 362h0M1230 348h0M1223 353h0M1242 307h0M1209 277h0M1203 315h0M1258 321h0M1239 359h0M1240 320h0M1196 318h0M1225 334h0M1231 351h0M1218 324h0M1235 335h0M1225 266h0M1252 286h0M1195 349h0M1186 310h0M1212 274h0M1241 317h0M1239 266h0M1210 317h0M1211 263h0M1206 318h0M1208 301h0M1244 336h0M1245 322h0M1190 291h0M1227 298h0M1260 293h0M1235 359h0M1226 289h0M1171 272h0M1235 308h0M1245 277h0M1222 288h0M1201 275h0M1203 326h0M1240 358h0M1224 338h0M1207 262h0M1222 353h0M1233 276h0M1187 304h0M1187 306h0M1241 280h0M1237 358h0M1276 321h0M1200 258h0M1212 310h0M1234 302h0M1228 339h0M1215 270h0M1216 364h0M1263 313h0M1189 291h0M1230 305h0M1201 347h0M1243 350h0M1220 324h0M1186 273h0M1233 309h0M1222 262h0M1245 323h0M1209 312h0M1210 283h0M1215 355h0M1206 357h0M1220 351h0M1211 323h0M1216 304h0M1216 369h0M1240 326h0M1185 293h0M1212 304h0M1199 345h0M1197 353h0M1258 286h0M1208 313h0M1245 291h0M1186 302h0M1204 333h0M1206 348h0M1238 274h0M1188 298h0M1238 327h0M1224 288h0M1215 310h0M1215 274h0M1231 300h0M1217 326h0M1211 352h0M1237 263h0M1229 291h0M1243 263h0M1212 345h0M1235 333h0M1216 304h0M1202 322h0M1254 332h0M1200 351h0M1199 295h0M1224 369h0M1186 288h0M1252 319h0M1214 318h0M1247 274h0M1252 310h0M1192 277h0M1261 328h0M1231 320h0M1217 346h0M1196 272h0M1196 299h0M1258 307h0M1260 305h0M1234 263h0M1254 325h0M1231 308h0M1240 286h0M1230 279h0M1209 324h0M1226 322h0M1194 327h0M1217 272h0M1234 328h0M1245 300h0M1210 335h0M1189 333h0M1259 325h0M1187 308h0M1239 265h0M1218 271h0M1239 272h0M1235 352h0M1250 331h0M1215 269h0M1240 337h0M1212 325h0M1226 283h0M1208 321h0M1188 315h0M1221 271h0M1202 309h0M1253 341h0M1191 340h0M1198 260h0M1219 308h0M1239 294h0M1247 319h0M1236 318h0M1198 336h0M1209 262h0M1212 349h0M1216 348h0M1187 281h0M1241 343h0M1270 323h0M1221 339h0M1194 358h0M1221 312h0M1208 291h0M1237 320h0M1227 363h0M1236 295h0M1241 352h0M1210 268h0M1210 268h0M1201 297h0M1217 289h0M1243 341h0M1234 270h0M1227 323h0M1234 310h0M1228 273h0M1220 318h0M1241 311h0M1231 324h0M1197 270h0M1231 329h0M1209 267h0M1240 345h0M1218 307h0M1231 274h0M1223 274h0M1206 301h0M1189 269h0M1210 280h0M1214 314h0M1201 259h0M1215 352h0M1198 333h0M1221 283h0M1185 295h0M1233 350h0M1188 277h0M1192 344h0M1251 314h0M1228 301h0M1194 339h0M1213 317h0M1241 347h0M1222 321h0M1248 295h0M1252 351h0M1238 313h0M1232 345h0M1195 306h0M1186 308h0M1240 358h0M1249 333h0M1227 328h0M1225 312h0M1196 345h0M1190 292h0M1254 300h0M1200 325h0M1241 310h0M1207 358h0M1236 338h0M1261 327h0M1258 325h0M1220 324h0M1198 261h0M1253 335h0M1194 275h0M1204 359h0M1197 281h0M1222 323h0M1190 322h0M1206 263h0M1219 333h0M1231 347h0M1185 285h0M1192 290h0M1213 350h0M1229 319h0M1202 352h0M1201 300h0M1194 346h0M1247 309h0M1249 284h0M1237 278h0M1195 283h0M1215 315h0M1210 280h0M1195 334h0M1209 318h0M1266 320h0M1210 279h0M1255 312h0M1232 268h0M1230 279h0M1192 343h0M1187 275h0M1203 348h0M1210 286h0M1195 280h0M1227 271h0M1274 344h0M1231 271h0M1245 282h0M1205 305h0M1259 329h0M1188 323h0M1190 285h0M1247 342h0M1201 306h0M1201 279h0M1230 322h0M1202 277h0M1207 348h0M1214 309h0M1230 349h0M1200 353h0M1254 301h0M1221 304h0M1218 266h0M1213 278h0M1217 347h0M1250 283h0M1225 287h0M1198 320h0M1221 296h0M1200 267h0M1229 353h0M1257 329h0M1197 279h0M1209 322h0M1204 319h0M1185 286h0M1202 320h0M1218 357h0M1216 301h0M1257 325h0M1230 309h0M1232 269h0M1194 331h0M1183 293h0M1251 306h0M1217 318h0M1221 355h0M1215 302h0M1244 330h0M1244 273h0M1208 360h0M1217 275h0M1216 315h0M1237 275h0M1212 323h0M1251 348h0M1214 350h0M1238 338h0M1227 354h0M1262 327h0M1221 330h0M1238 349h0M1187 289h0M1183 311h0M1247 313h0M1222 295h0M1249 279h0M1204 346h0M1218 293h0M1197 264h0M1248 304h0M1213 329h0M1188 290h0M1253 294h0M1182 317h0M1218 349h0M1241 287h0M1223 268h0M1225 276h0M1198 306h0M1232 308h0M1244 295h0M1192 268h0M1205 260h0M1228 279h0M1191 322h0M1206 273h0M1234 284h0M1226 298h0M1219 311h0M1262 328h0M1184 308h0M1232 262h0M1240 338h0M1224 293h0M1257 289h0M1195 290h0M1212 342h0M1211 258h0M1236 286h0M1230 307h0M1214 298h0M1193 280h0M1246 300h0M1191 320h0M1203 285h0M1225 314h0M1220 335h0M1208 263h0M1230 332h0M1245 316h0M1230 363h0M1242 329h0M1192 262h0M1197 315h0M1246 315h0M1216 331h0M1258 290h0M1209 315h0M1193 339h0M1252 303h0M1245 274h0M1221 266h0M1229 320h0M1216 326h0M1261 312h0M1220 353h0M1235 326h0M1267 310h0M1225 301h0M1202 311h0M1216 288h0M1200 314h0M1259 284h0M1212 349h0M1198 280h0M1263 306h0M1212 281h0M1234 289h0M1233 289h0M1205 294h0M1218 291h0M1228 290h0M1245 282h0M1195 281h0M1238 335h0M1209 292h0M1252 344h0M1231 372h0M1193 320h0M1191 263h0M1229 320h0M1208 274h0M1202 257h0M1249 353h0M1257 302h0M1244 277h0M1177 314h0M1180 326h0M1178 284h0M1174 271h0M1179 296h0M1175 312h0M1174 290h0M1182 277h0M1172 285h0M1182 330h0M1173 270h0M1179 322h0M1176 297h0M1172 321h0M1176 271h0M1177 295h0M1179 328h0" stroke="#c1ddec"/>
<path d="M1272 344h0M1169 345h0M1280 346h0M1280 345h0M1268 347h0M1276 348h0M1170 352h0M1274 335h0M1271 343h0M1170 348h0M1172 357h0M1272 345h0M1281 338h0M1272 341h0M1281 343h0M1270 347h0" stroke="#fbceb6"/>
<path d="M1226 364h0M1196 262h0M1204 349h0M1254 324h0M1188 273h0M1214 263h0M1257 282h0M1215 363h0M1226 305h0M1262 316h0M1260 314h0M1211 367h0M1183 305h0M1199 300h0M1229 313h0M1197 302h0M1235 308h0M1205 365h0M1215 312h0M1195 279h0M1197 284h0M1245 276h0M1223 327h0M1242 330h0M1263 328h0M1230 293h0M1207 364h0M1230 289h0M1214 282h0M1190 297h0M1254 291h0M1206 269h0M1234 333h0M1212 257h0M1180 304h0M1233 317h0M1205 332h0M1194 296h0M1177 339h0M1209 335h0M1216 286h0M1222 272h0M1249 284h0M1225 265h0M1224 300h0M1221 257h0M1222 255h0M1249 304h0M1191 294h0M1173 339h0M1238 357h0M1205 367h0M1225 360h0M1210 320h0M1184 291h0M1244 315h0M1255 319h0M1195 325h0M1226 367h0M1188 327h0M1194 317h0M1263 322h0M1217 270h0M1217 340h0M1266 326h0M1216 330h0M1214 348h0M1205 259h0M1235 304h0M1225 369h0M1195 328h0M1263 316h0M1238 327h0M1253 348h0M1189 275h0M1212 286h0M1248 357h0M1245 315h0M1189 312h0M1251 321h0M1212 268h0M1188 310h0M1208 349h0M1244 297h0M1222 308h0M1237 279h0M1202 296h0M1205 260h0M1165 277h0M1204 347h0M1232 302h0M1260 297h0M1239 346h0M1212 329h0M1241 278h0M1196 351h0M1191 316h0M1190 343h0M1207 286h0M1233 290h0M1197 285h0M1205 314h0M1252 339h0M1220 307h0M1181 290h0M1192 276h0M1216 368h0M1257 325h0M1242 350h0M1221 280h0M1207 259h0M1242 333h0M1213 328h0M1234 271h0M1264 308h0M1207 267h0M1214 324h0M1220 299h0M1263 298h0M1194 297h0M1238 325h0M1193 289h0M1225 276h0M1236 333h0M1217 351h0M1206 260h0M1201 350h0M1214 275h0M1203 296h0M1229 310h0M1211 343h0M1228 273h0M1203 263h0M1222 369h0M1273 328h0M1197 321h0M1222 277h0M1212 340h0M1247 310h0M1221 297h0M1235 287h0M1236 352h0M1260 299h0M1226 357h0M1200 270h0M1229 285h0M1225 264h0M1188 285h0M1254 301h0M1240 292h0M1235 275h0M1221 358h0M1233 270h0M1184 278h0M1249 302h0M1221 336h0M1193 315h0M1189 307h0M1210 284h0M1250 327h0M1238 350h0M1204 324h0M1229 276h0M1234 283h0M1211 277h0M1249 279h0M1244 343h0M1191 338h0M1186 290h0M1210 364h0M1215 302h0M1244 332h0M1236 301h0M1211 294h0M1209 347h0M1212 284h0M1207 269h0M1181 290h0M1202 281h0M1217 362h0M1211 271h0M1230 355h0M1209 291h0M1250 348h0M1259 327h0M1234 347h0M1221 326h0M1227 288h0M1227 282h0M1201 346h0M1253 324h0M1202 305h0M1234 282h0M1190 305h0M1253 339h0M1222 347h0M1237 273h0M1229 304h0M1198 351h0M1196 354h0M1218 307h0M1261 307h0M1197 343h0M1246 313h0M1207 296h0M1200 328h0M1189 324h0M1196 309h0M1183 335h0M1251 311h0M1217 269h0M1188 296h0M1250 322h0M1192 321h0M1202 355h0M1251 331h0M1222 368h0M1258 330h0M1200 354h0M1222 278h0M1235 351h0M1215 363h0M1205 276h0M1239 360h0M1233 275h0M1201 341h0M1203 348h0M1200 337h0M1252 301h0M1245 278h0M1218 301h0M1254 326h0M1242 284h0M1220 343h0M1241 348h0M1223 266h0M1180 305h0M1205 256h0M1209 273h0M1238 349h0M1234 361h0M1269 322h0M1268 322h0M1223 347h0M1212 300h0M1248 286h0M1232 356h0M1203 335h0M1195 320h0M1206 288h0M1256 323h0M1238 286h0M1215 298h0M1191 339h0M1246 276h0M1255 294h0M1210 283h0M1222 355h0M1206 275h0M1192 267h0M1206 317h0M1211 325h0M1200 316h0M1206 361h0M1213 364h0M1218 259h0M1193 283h0M1214 364h0M1222 283h0M1193 262h0M1198 338h0M1254 312h0M1206 271h0M1239 279h0M1230 357h0M1210 325h0M1205 354h0M1250 299h0M1223 368h0M1200 273h0M1206 268h0M1195 267h0M1193 325h0M1238 285h0M1248 314h0M1219 276h0M1232 277h0M1216 300h0M1199 315h0M1197 328h0M1189 288h0M1219 285h0M1223 306h0M1224 285h0M1182 299h0M1227 329h0M1235 364h0M1242 322h0M1224 258h0M1206 310h0M1199 297h0M1197 334h0M1235 297h0M1212 277h0M1210 302h0M1223 338h0M1212 280h0M1252 326h0M1207 319h0M1228 284h0M1238 277h0M1237 359h0M1184 283h0M1220 354h0M1182 311h0M1187 316h0M1224 268h0M1206 268h0M1217 265h0M1244 287h0M1205 322h0M1205 338h0M1209 273h0M1260 309h0M1220 356h0M1212 261h0M1234 265h0M1237 340h0M1199 285h0M1195 272h0M1194 325h0M1219 369h0M1220 264h0M1238 311h0M1224 312h0M1217 258h0M1239 270h0M1220 336h0M1201 299h0M1202 288h0M1225 331h0M1223 358h0M1228 354h0M1261 324h0M1189 272h0M1209 364h0M1230 368h0M1190 313h0M1206 338h0M1204 315h0M1196 306h0M1226 366h0M1206 336h0M1205 340h0M1232 338h0M1213 360h0M1204 349h0M1189 275h0M1201 332h0M1218 323h0M1240 332h0M1229 303h0M1186 297h0M1192 316h0M1207 325h0M1234 294h0M1225 360h0M1214 319h0M1213 357h0M1198 296h0M1251 341h0M1204 312h0M1185 290h0M1243 328h0M1222 269h0M1249 330h0M1228 305h0M1223 266h0M1240 306h0M1253 291h0M1224 303h0M1220 311h0M1223 265h0M1198 291h0M1219 357h0M1205 325h0M1191 326h0M1197 337h0M1270 330h0M1185 294h0M1224 345h0M1233 330h0M1206 324h0M1190 281h0M1243 308h0M1208 286h0M1211 317h0M1256 289h0M1232 328h0M1195 356h0M1225 283h0M1212 258h0M1212 357h0M1223 365h0M1208 262h0M1249 301h0M1180 355h0M1207 359h0M1203 329h0M1216 356h0M1258 311h0M1207 347h0M1222 309h0M1220 365h0M1231 347h0M1191 307h0M1173 301h0M1171 306h0M1171 279h0M1178 276h0M1177 294h0M1176 304h0M1178 307h0M1173 278h0M1171 278h0M1182 327h0M1179 323h0M1172 316h0M1177 312h0" stroke="#b2d5e7"/>
<path d="M1169 354h0M1172 355h0M1167 350h0M1170 357h0M1169 339h0M1258 336h0M1166 339h0M1165 347h0M1166 343h0M1161 346h0M1171 340h0M1173 353h0M1257 343h0M1266 332h0M1170 344h0M1167 353h0" stroke="#f8c0a4"/>
<path d="M1191 320h0M1199 269h0M1209 356h0M1208 311h0M1204 326h0M1229 273h0M1198 339h0M1239 279h0M1209 277h0M1244 290h0M1223 295h0M1257 321h0M1241 329h0M1251 322h0M1196 289h0M1203 314h0M1223 305h0M1220 262h0M1224 362h0M1204 265h0M1253 347h0M1221 357h0M1228 342h0M1227 272h0M1196 347h0M1191 330h0M1204 284h0M1205 343h0M1197 265h0M1220 305h0M1259 313h0M1232 295h0M1183 279h0M1234 333h0M1257 288h0M1224 259h0M1232 329h0M1221 328h0M1232 357h0M1244 283h0M1254 295h0M1203 268h0M1182 290h0M1217 329h0M1201 270h0M1221 276h0M1231 292h0M1215 302h0M1224 338h0M1183 313h0M1220 350h0M1250 330h0M1226 303h0M1196 330h0M1241 274h0M1204 337h0M1212 334h0M1217 277h0M1224 329h0M1228 300h0M1223 292h0M1230 349h0M1257 329h0M1199 335h0M1201 360h0M1242 282h0M1231 267h0M1188 330h0M1248 284h0M1205 273h0M1237 296h0M1215 342h0M1250 288h0M1231 269h0M1216 261h0M1188 287h0M1235 298h0M1223 348h0M1224 271h0M1189 285h0M1184 287h0M1225 286h0M1192 283h0M1260 296h0M1218 266h0M1206 330h0M1211 346h0M1235 263h0M1222 272h0M1182 301h0M1253 303h0M1203 324h0M1212 354h0M1206 303h0M1183 284h0M1227 299h0M1247 279h0M1247 286h0M1207 320h0M1221 354h0M1204 351h0M1239 278h0M1215 342h0M1190 277h0M1231 327h0M1234 356h0M1208 269h0M1259 320h0M1243 308h0M1229 309h0M1231 343h0M1189 298h0M1248 338h0M1237 271h0M1223 319h0M1224 365h0M1199 254h0M1240 315h0M1212 271h0M1245 277h0M1244 345h0M1199 283h0M1234 355h0M1197 314h0M1227 312h0M1245 272h0M1271 323h0M1202 286h0M1211 353h0M1234 271h0M1198 339h0M1241 278h0M1243 282h0M1213 300h0M1203 362h0M1234 304h0M1227 275h0M1185 291h0M1225 282h0M1219 286h0M1189 288h0M1265 306h0M1190 289h0M1234 361h0M1213 294h0M1190 265h0M1195 337h0M1224 340h0M1195 351h0M1263 312h0M1204 360h0M1222 277h0M1206 354h0M1257 324h0M1212 265h0M1216 358h0M1213 308h0M1256 292h0M1199 272h0M1229 352h0M1232 279h0M1210 366h0M1253 287h0M1226 305h0M1222 353h0M1197 280h0M1252 318h0M1223 281h0M1196 350h0M1205 272h0M1195 275h0M1188 306h0M1221 364h0M1233 316h0M1189 262h0M1253 280h0M1195 316h0M1214 342h0M1230 293h0M1230 311h0M1164 272h0M1238 298h0M1233 332h0M1198 266h0M1202 362h0M1204 290h0M1249 305h0M1265 294h0M1200 273h0M1223 311h0M1229 301h0M1186 295h0M1202 347h0M1240 354h0M1266 322h0M1198 277h0M1195 314h0M1194 289h0M1220 326h0M1232 297h0M1241 304h0M1235 267h0M1220 314h0M1225 262h0M1244 303h0M1219 307h0M1198 324h0M1194 319h0M1210 274h0M1236 282h0M1211 315h0M1244 319h0M1186 270h0M1187 279h0M1241 317h0M1237 339h0M1200 284h0M1234 349h0M1201 280h0M1213 336h0M1208 269h0M1182 290h0M1234 332h0M1242 347h0M1219 336h0M1188 338h0M1227 293h0M1233 259h0M1219 295h0M1183 317h0M1217 327h0M1223 359h0M1254 308h0M1249 341h0M1217 330h0M1238 289h0M1211 278h0M1217 266h0M1215 352h0M1214 366h0M1262 323h0M1200 274h0M1247 316h0M1233 322h0M1205 259h0M1196 265h0M1203 267h0M1235 352h0M1243 354h0M1194 265h0M1218 296h0M1208 263h0M1207 283h0M1234 363h0M1225 339h0M1203 323h0M1229 357h0M1185 276h0M1222 309h0M1190 288h0M1199 327h0M1241 299h0M1189 322h0M1224 330h0M1230 339h0M1249 318h0M1196 312h0M1198 342h0M1214 305h0M1230 271h0M1226 351h0M1205 356h0M1242 325h0M1207 338h0M1186 290h0M1256 318h0M1189 314h0M1203 338h0M1271 320h0M1213 292h0M1187 315h0M1208 275h0M1219 306h0M1245 278h0M1184 284h0M1203 294h0M1246 321h0M1223 286h0M1218 312h0M1250 328h0M1219 322h0M1200 320h0M1189 272h0M1194 284h0M1216 279h0M1214 341h0M1199 276h0M1232 289h0M1247 281h0M1213 256h0M1233 336h0M1229 331h0M1220 288h0M1221 351h0M1229 272h0M1206 292h0M1231 324h0M1249 294h0M1208 327h0M1170 320h0M1171 270h0M1174 290h0M1175 320h0" stroke="#a2cde2"/>
<path d="M1168 348h0M1165 346h0M1167 337h0M1259 340h0M1260 344h0M1164 342h0M1161 348h0M1168 348h0M1267 350h0M1166 339h0M1260 341h0M1171 354h0M1171 353h0M1164 339h0" stroke="#f6b293"/>
<path d="M1170 348h0M1172 342h0M1170 338h0M1171 340h0M1172 347h0M1172 340h0M1168 350h0M1171 349h0M1172 340h0M1166 343h0M1164 349h0M1271 334h0M1163 341h0M1163 350h0M1166 352h0" stroke="#f4a582"/>
<path d="M1236 271h0M1205 313h0M1264 321h0M1207 280h0M1230 345h0M1233 363h0M1217 357h0M1204 340h0M1207 352h0M1209 333h0M1191 297h0M1255 332h0M1192 315h0M1225 366h0M1225 263h0M1235 324h0M1241 294h0M1246 312h0M1196 321h0M1199 301h0M1205 306h0M1232 311h0M1203 352h0M1212 265h0M1195 340h0M1223 306h0M1192 283h0M1200 288h0M1201 319h0M1189 293h0M1189 337h0M1216 321h0M1245 326h0M1205 355h0M1214 324h0M1229 287h0M1187 310h0M1194 342h0M1184 293h0M1192 279h0M1240 335h0M1197 273h0M1216 272h0M1237 333h0M1218 285h0M1231 297h0M1192 277h0M1218 325h0M1214 307h0M1237 293h0M1229 259h0M1260 328h0M1205 346h0M1241 336h0M1218 265h0M1236 324h0M1191 273h0M1192 329h0M1212 338h0M1212 326h0M1220 362h0M1191 330h0M1224 352h0M1198 259h0M1219 368h0M1230 309h0M1206 320h0M1182 284h0M1195 340h0M1215 358h0M1212 315h0M1228 303h0M1202 320h0M1272 316h0M1250 308h0M1218 260h0M1221 278h0M1228 356h0M1194 298h0M1259 287h0M1216 261h0M1186 333h0M1229 338h0M1204 307h0M1192 288h0M1200 354h0M1197 269h0M1213 300h0M1224 271h0M1215 349h0M1220 275h0M1195 277h0M1219 292h0M1211 365h0M1189 293h0M1215 299h0M1188 332h0M1198 302h0M1193 329h0M1237 258h0M1196 287h0M1228 365h0M1258 319h0M1203 260h0M1211 321h0M1233 357h0M1234 353h0M1219 324h0M1231 288h0M1197 265h0M1237 341h0M1196 256h0M1213 315h0M1241 329h0M1194 265h0M1232 306h0M1202 273h0M1232 313h0M1201 346h0M1252 340h0M1228 364h0M1237 283h0M1198 287h0M1231 289h0M1249 303h0M1228 351h0M1236 317h0M1216 369h0M1202 285h0M1228 270h0M1251 334h0M1207 318h0M1216 292h0M1202 283h0M1215 288h0M1223 300h0M1200 345h0M1238 340h0M1204 329h0M1216 291h0M1223 265h0M1225 343h0M1230 360h0M1218 309h0M1226 321h0M1197 344h0M1247 315h0M1205 330h0M1234 269h0M1226 338h0M1201 273h0M1224 290h0M1187 296h0M1195 324h0M1209 310h0M1248 316h0M1225 263h0M1242 326h0M1203 262h0M1216 290h0M1188 262h0M1186 279h0M1224 265h0M1219 264h0M1216 293h0M1230 350h0M1199 351h0M1205 270h0M1213 263h0M1211 275h0M1222 290h0M1190 323h0M1239 274h0M1254 347h0M1247 340h0M1260 280h0M1174 286h0M1175 298h0M1172 304h0M1181 268h0M1175 292h0M1179 299h0" stroke="#92c5de"/>
<path d="M1237 327h0M1212 294h0M1214 327h0M1190 273h0M1190 298h0M1201 348h0M1236 276h0M1231 345h0M1211 368h0M1198 317h0M1204 270h0M1235 345h0M1189 332h0M1230 359h0M1264 313h0M1260 323h0M1211 322h0M1209 272h0M1203 346h0M1233 281h0M1242 354h0M1206 355h0M1235 325h0M1240 272h0M1192 328h0M1235 281h0M1186 290h0M1235 305h0M1198 327h0M1238 347h0M1189 276h0M1212 301h0M1206 274h0M1215 341h0M1227 289h0M1208 352h0M1188 297h0M1214 297h0M1209 358h0M1247 279h0M1204 343h0M1237 298h0M1189 327h0M1193 281h0M1211 265h0M1217 264h0M1209 307h0M1234 356h0M1182 301h0M1247 282h0M1227 306h0M1209 277h0M1187 267h0M1202 286h0M1221 262h0M1245 342h0M1200 345h0M1192 327h0M1221 343h0M1233 336h0M1236 292h0M1203 366h0M1235 308h0M1227 358h0M1231 274h0M1237 320h0M1191 287h0M1180 311h0M1194 285h0M1215 273h0M1235 370h0M1221 285h0M1204 255h0M1215 356h0M1266 321h0M1188 265h0M1247 281h0M1230 263h0M1244 321h0M1201 328h0M1197 274h0M1200 261h0M1209 294h0M1241 364h0M1231 284h0M1219 343h0M1241 272h0M1227 310h0M1234 357h0M1184 284h0M1250 340h0M1214 347h0M1240 298h0M1254 330h0M1186 306h0M1185 275h0M1218 323h0M1224 280h0M1210 275h0M1213 359h0M1227 354h0M1233 339h0M1244 336h0M1249 279h0M1201 305h0M1237 295h0M1211 365h0M1237 289h0M1216 349h0M1230 356h0M1214 272h0M1189 311h0M1180 320h0M1179 304h0M1179 314h0" stroke="#7eb8d7"/>
<path d="M1166 342h0M1159 351h0M1173 344h0M1168 344h0M1165 348h0M1170 338h0M1163 342h0M1164 345h0M1166 353h0M1160 347h0M1171 354h0M1161 338h0" stroke="#ec9475"/>
<path d="M1209 307h0M1221 270h0M1199 277h0M1213 291h0M1220 306h0M1210 285h0M1224 277h0M1229 302h0M1183 282h0M1197 345h0M1219 346h0M1187 287h0M1189 281h0M1184 300h0M1215 292h0M1242 342h0M1234 295h0M1241 335h0M1252 309h0M1209 284h0M1193 266h0M1231 295h0M1200 258h0M1233 282h0M1231 270h0M1202 272h0M1196 265h0M1213 321h0M1196 346h0M1221 343h0M1228 297h0M1234 295h0M1210 263h0M1183 303h0M1195 326h0M1221 305h0M1217 300h0M1237 286h0M1192 285h0M1263 320h0M1249 342h0M1206 302h0M1228 322h0M1227 366h0" stroke="#6aacd0"/>
<path d="M1168 349h0M1163 340h0M1172 354h0M1170 341h0M1164 345h0M1165 343h0M1168 354h0M1172 359h0M1169 343h0M1171 345h0M1170 350h0M1166 337h0" stroke="#e58268"/>
<path d="M1199 292h0M1233 298h0M1208 356h0M1199 297h0M1201 333h0M1222 263h0M1192 345h0M1236 352h0M1233 289h0M1215 360h0M1191 315h0M1238 356h0M1230 263h0M1207 280h0M1235 326h0M1174 288h0M1170 314h0" stroke="#57a0ca"/>
<path d="M1168 355h0M1167 352h0M1161 335h0" stroke="#de715a"/>
<path d="M1212 310h0M1198 283h0M1196 314h0M1201 344h0M1218 291h0M1237 285h0M1239 350h0M1202 298h0M1212 339h0M1200 325h0M1218 372h0M1223 325h0" stroke="#4393c3"/>
<path d="M1163 357h0M1172 353h0M1164 344h0M1166 345h0M1169 342h0" stroke="#d6604d"/>
<path d="M1164 348h0" stroke="#cd4e44"/>
<path d="M1166 348h0" stroke="#c43c3c"/>
</g>
<line x1="426.6" y1="10.8" x2="426.6" y2="83.1" stroke="#333" stroke-width="0.8"/>
<line x1="424.6" y1="13.42" x2="426.6" y2="13.42" stroke="#333" stroke-width="0.8"/>
<text x="422.7" y="15.66" text-anchor="end" fill="#333" style="stroke:#333" font-size="6.4">6</text>
<line x1="424.6" y1="30.01" x2="426.6" y2="30.01" stroke="#333" stroke-width="0.8"/>
<text x="422.7" y="32.25" text-anchor="end" fill="#333" style="stroke:#333" font-size="6.4">3</text>
<line x1="424.6" y1="46.6" x2="426.6" y2="46.6" stroke="#333" stroke-width="0.8"/>
<text x="422.7" y="48.84" text-anchor="end" fill="#333" style="stroke:#333" font-size="6.4">0</text>
<line x1="424.6" y1="63.19" x2="426.6" y2="63.19" stroke="#333" stroke-width="0.8"/>
<text x="422.7" y="65.43" text-anchor="end" fill="#333" style="stroke:#333" font-size="6.4">−3</text>
<line x1="424.6" y1="79.78" x2="426.6" y2="79.78" stroke="#333" stroke-width="0.8"/>
<text x="422.7" y="82.02" text-anchor="end" fill="#333" style="stroke:#333" font-size="6.4">−6</text>
<line x1="426.3" y1="82.8" x2="511.79" y2="82.8" stroke="#333" stroke-width="0.8"/>
<line x1="446" y1="82.8" x2="446" y2="84.8" stroke="#333" stroke-width="0.8"/>
<text x="446" y="93.62" text-anchor="middle" fill="#333" style="stroke:#333" font-size="6.9">−4</text>
<line x1="466.4" y1="82.8" x2="466.4" y2="84.8" stroke="#333" stroke-width="0.8"/>
<text x="466.4" y="93.62" text-anchor="middle" fill="#333" style="stroke:#333" font-size="6.9">0</text>
<line x1="486.8" y1="82.8" x2="486.8" y2="84.8" stroke="#333" stroke-width="0.8"/>
<text x="486.8" y="93.62" text-anchor="middle" fill="#333" style="stroke:#333" font-size="6.9">4</text>
<line x1="507.2" y1="82.8" x2="507.2" y2="84.8" stroke="#333" stroke-width="0.8"/>
<text x="507.2" y="93.62" text-anchor="middle" fill="#333" style="stroke:#333" font-size="6.9">8</text>
<text x="468.9" y="102.73" text-anchor="middle" fill="#b3303a" style="stroke:#b3303a" textLength="26.3" lengthAdjust="spacingAndGlyphs" font-size="8.09">UMAP_1</text>
<text transform="translate(412.03 47) rotate(-90)" text-anchor="middle" fill="#b3303a" style="stroke:#b3303a" textLength="26.8" lengthAdjust="spacingAndGlyphs" font-size="8.09">UMAP_2</text>
<text x="428.6" y="9.42" textLength="74.6" lengthAdjust="spacingAndGlyphs" font-size="7.77">Effector T cell module</text>
<text x="515.1" y="20.72" textLength="24.9" lengthAdjust="spacingAndGlyphs" font-size="7.77">Module</text>
<text x="515.1" y="29.42" textLength="18" lengthAdjust="spacingAndGlyphs" font-size="7.77">score</text>
<line x1="569.4" y1="10.8" x2="569.4" y2="83.1" stroke="#333" stroke-width="0.8"/>
<line x1="567.4" y1="13.42" x2="569.4" y2="13.42" stroke="#333" stroke-width="0.8"/>
<text x="565.5" y="15.66" text-anchor="end" fill="#333" style="stroke:#333" font-size="6.4">6</text>
<line x1="567.4" y1="30.01" x2="569.4" y2="30.01" stroke="#333" stroke-width="0.8"/>
<text x="565.5" y="32.25" text-anchor="end" fill="#333" style="stroke:#333" font-size="6.4">3</text>
<line x1="567.4" y1="46.6" x2="569.4" y2="46.6" stroke="#333" stroke-width="0.8"/>
<text x="565.5" y="48.84" text-anchor="end" fill="#333" style="stroke:#333" font-size="6.4">0</text>
<line x1="567.4" y1="63.19" x2="569.4" y2="63.19" stroke="#333" stroke-width="0.8"/>
<text x="565.5" y="65.43" text-anchor="end" fill="#333" style="stroke:#333" font-size="6.4">−3</text>
<line x1="567.4" y1="79.78" x2="569.4" y2="79.78" stroke="#333" stroke-width="0.8"/>
<text x="565.5" y="82.02" text-anchor="end" fill="#333" style="stroke:#333" font-size="6.4">−6</text>
<line x1="569.1" y1="82.8" x2="656.58" y2="82.8" stroke="#333" stroke-width="0.8"/>
<line x1="589.5" y1="82.8" x2="589.5" y2="84.8" stroke="#333" stroke-width="0.8"/>
<text x="589.5" y="93.62" text-anchor="middle" fill="#333" style="stroke:#333" font-size="6.9">−4</text>
<line x1="610.3" y1="82.8" x2="610.3" y2="84.8" stroke="#333" stroke-width="0.8"/>
<text x="610.3" y="93.62" text-anchor="middle" fill="#333" style="stroke:#333" font-size="6.9">0</text>
<line x1="631.1" y1="82.8" x2="631.1" y2="84.8" stroke="#333" stroke-width="0.8"/>
<text x="631.1" y="93.62" text-anchor="middle" fill="#333" style="stroke:#333" font-size="6.9">4</text>
<line x1="651.9" y1="82.8" x2="651.9" y2="84.8" stroke="#333" stroke-width="0.8"/>
<text x="651.9" y="93.62" text-anchor="middle" fill="#333" style="stroke:#333" font-size="6.9">8</text>
<text x="612.4" y="102.73" text-anchor="middle" fill="#b3303a" style="stroke:#b3303a" textLength="26.3" lengthAdjust="spacingAndGlyphs" font-size="8.09">UMAP_1</text>
<text transform="translate(553.93 47) rotate(-90)" text-anchor="middle" fill="#b3303a" style="stroke:#b3303a" textLength="26.8" lengthAdjust="spacingAndGlyphs" font-size="8.09">UMAP_2</text>
<text x="574.2" y="9.42" textLength="77.1" lengthAdjust="spacingAndGlyphs" font-size="7.77">WNT signaling module</text>
<text x="659.6" y="20.72" textLength="24.9" lengthAdjust="spacingAndGlyphs" font-size="7.77">Module</text>
<text x="659.6" y="29.42" textLength="18" lengthAdjust="spacingAndGlyphs" font-size="7.77">score</text>
<line x1="426.6" y1="121.9" x2="426.6" y2="194.5" stroke="#333" stroke-width="0.8"/>
<line x1="424.6" y1="124.52" x2="426.6" y2="124.52" stroke="#333" stroke-width="0.8"/>
<text x="422.7" y="126.76" text-anchor="end" fill="#333" style="stroke:#333" font-size="6.4">6</text>
<line x1="424.6" y1="141.11" x2="426.6" y2="141.11" stroke="#333" stroke-width="0.8"/>
<text x="422.7" y="143.35" text-anchor="end" fill="#333" style="stroke:#333" font-size="6.4">3</text>
<line x1="424.6" y1="157.7" x2="426.6" y2="157.7" stroke="#333" stroke-width="0.8"/>
<text x="422.7" y="159.94" text-anchor="end" fill="#333" style="stroke:#333" font-size="6.4">0</text>
<line x1="424.6" y1="174.29" x2="426.6" y2="174.29" stroke="#333" stroke-width="0.8"/>
<text x="422.7" y="176.53" text-anchor="end" fill="#333" style="stroke:#333" font-size="6.4">−3</text>
<line x1="424.6" y1="190.88" x2="426.6" y2="190.88" stroke="#333" stroke-width="0.8"/>
<text x="422.7" y="193.12" text-anchor="end" fill="#333" style="stroke:#333" font-size="6.4">−6</text>
<line x1="426.3" y1="194.2" x2="511.79" y2="194.2" stroke="#333" stroke-width="0.8"/>
<line x1="446" y1="194.2" x2="446" y2="196.2" stroke="#333" stroke-width="0.8"/>
<text x="446" y="206.21" text-anchor="middle" fill="#333" style="stroke:#333" font-size="6.9">−4</text>
<line x1="466.4" y1="194.2" x2="466.4" y2="196.2" stroke="#333" stroke-width="0.8"/>
<text x="466.4" y="206.21" text-anchor="middle" fill="#333" style="stroke:#333" font-size="6.9">0</text>
<line x1="486.8" y1="194.2" x2="486.8" y2="196.2" stroke="#333" stroke-width="0.8"/>
<text x="486.8" y="206.21" text-anchor="middle" fill="#333" style="stroke:#333" font-size="6.9">4</text>
<line x1="507.2" y1="194.2" x2="507.2" y2="196.2" stroke="#333" stroke-width="0.8"/>
<text x="507.2" y="206.21" text-anchor="middle" fill="#333" style="stroke:#333" font-size="6.9">8</text>
<text x="468.9" y="215.23" text-anchor="middle" fill="#b3303a" style="stroke:#b3303a" textLength="26.3" lengthAdjust="spacingAndGlyphs" font-size="8.09">UMAP_1</text>
<text transform="translate(412.03 158.1) rotate(-90)" text-anchor="middle" fill="#b3303a" style="stroke:#b3303a" textLength="26.8" lengthAdjust="spacingAndGlyphs" font-size="8.09">UMAP_2</text>
<text x="430.7" y="118.42" textLength="55.5" lengthAdjust="spacingAndGlyphs" font-size="7.77">Antiviral module</text>
<text x="515.1" y="133.22" textLength="24.9" lengthAdjust="spacingAndGlyphs" font-size="7.77">Module</text>
<text x="515.1" y="142.12" textLength="18" lengthAdjust="spacingAndGlyphs" font-size="7.77">score</text>
<line x1="569.4" y1="121.9" x2="569.4" y2="194.5" stroke="#333" stroke-width="0.8"/>
<line x1="567.4" y1="124.52" x2="569.4" y2="124.52" stroke="#333" stroke-width="0.8"/>
<text x="565.5" y="126.76" text-anchor="end" fill="#333" style="stroke:#333" font-size="6.4">6</text>
<line x1="567.4" y1="141.11" x2="569.4" y2="141.11" stroke="#333" stroke-width="0.8"/>
<text x="565.5" y="143.35" text-anchor="end" fill="#333" style="stroke:#333" font-size="6.4">3</text>
<line x1="567.4" y1="157.7" x2="569.4" y2="157.7" stroke="#333" stroke-width="0.8"/>
<text x="565.5" y="159.94" text-anchor="end" fill="#333" style="stroke:#333" font-size="6.4">0</text>
<line x1="567.4" y1="174.29" x2="569.4" y2="174.29" stroke="#333" stroke-width="0.8"/>
<text x="565.5" y="176.53" text-anchor="end" fill="#333" style="stroke:#333" font-size="6.4">−3</text>
<line x1="567.4" y1="190.88" x2="569.4" y2="190.88" stroke="#333" stroke-width="0.8"/>
<text x="565.5" y="193.12" text-anchor="end" fill="#333" style="stroke:#333" font-size="6.4">−6</text>
<line x1="569.1" y1="194.2" x2="656.58" y2="194.2" stroke="#333" stroke-width="0.8"/>
<line x1="589.5" y1="194.2" x2="589.5" y2="196.2" stroke="#333" stroke-width="0.8"/>
<text x="589.5" y="206.21" text-anchor="middle" fill="#333" style="stroke:#333" font-size="6.9">−4</text>
<line x1="610.3" y1="194.2" x2="610.3" y2="196.2" stroke="#333" stroke-width="0.8"/>
<text x="610.3" y="206.21" text-anchor="middle" fill="#333" style="stroke:#333" font-size="6.9">0</text>
<line x1="631.1" y1="194.2" x2="631.1" y2="196.2" stroke="#333" stroke-width="0.8"/>
<text x="631.1" y="206.21" text-anchor="middle" fill="#333" style="stroke:#333" font-size="6.9">4</text>
<line x1="651.9" y1="194.2" x2="651.9" y2="196.2" stroke="#333" stroke-width="0.8"/>
<text x="651.9" y="206.21" text-anchor="middle" fill="#333" style="stroke:#333" font-size="6.9">8</text>
<text x="612.4" y="215.23" text-anchor="middle" fill="#b3303a" style="stroke:#b3303a" textLength="26.3" lengthAdjust="spacingAndGlyphs" font-size="8.09">UMAP_1</text>
<text transform="translate(553.93 158.1) rotate(-90)" text-anchor="middle" fill="#b3303a" style="stroke:#b3303a" textLength="26.8" lengthAdjust="spacingAndGlyphs" font-size="8.09">UMAP_2</text>
<text x="572.7" y="118.42" textLength="39.3" lengthAdjust="spacingAndGlyphs" font-size="7.77">ISG module</text>
<text x="659.6" y="133.22" textLength="24.9" lengthAdjust="spacingAndGlyphs" font-size="7.77">Module</text>
<text x="659.6" y="142.12" textLength="18" lengthAdjust="spacingAndGlyphs" font-size="7.77">score</text>
<defs><linearGradient id="cb1" x1="0" x2="0" y1="0" y2="1"><stop offset="0" stop-color="#67001f"/><stop offset="0.1" stop-color="#b2182b"/><stop offset="0.2" stop-color="#d6604d"/><stop offset="0.3" stop-color="#f4a582"/><stop offset="0.4" stop-color="#fddbc7"/><stop offset="0.5" stop-color="#f7f7f7"/><stop offset="0.6" stop-color="#d1e5f0"/><stop offset="0.7" stop-color="#92c5de"/><stop offset="0.8" stop-color="#4393c3"/><stop offset="0.9" stop-color="#2166ac"/><stop offset="1" stop-color="#053061"/></linearGradient></defs>
<rect x="515.3" y="34.2" width="6.1" height="27.8" fill="url(#cb1)"/>
<line x1="515.3" y1="37.8" x2="516.5" y2="37.8" stroke="#fff" stroke-width="0.6"/>
<line x1="520.2" y1="37.8" x2="521.4" y2="37.8" stroke="#fff" stroke-width="0.6"/>
<text x="524.1" y="40.18" fill="#333" style="stroke:#333" font-size="6.8">0.1</text>
<line x1="515.3" y1="44.8" x2="516.5" y2="44.8" stroke="#fff" stroke-width="0.6"/>
<line x1="520.2" y1="44.8" x2="521.4" y2="44.8" stroke="#fff" stroke-width="0.6"/>
<text x="524.1" y="47.18" fill="#333" style="stroke:#333" font-size="6.8">0</text>
<line x1="515.3" y1="51.9" x2="516.5" y2="51.9" stroke="#fff" stroke-width="0.6"/>
<line x1="520.2" y1="51.9" x2="521.4" y2="51.9" stroke="#fff" stroke-width="0.6"/>
<text x="524.1" y="54.28" fill="#333" style="stroke:#333" font-size="6.8">−0.1</text>
<line x1="515.3" y1="59.7" x2="516.5" y2="59.7" stroke="#fff" stroke-width="0.6"/>
<line x1="520.2" y1="59.7" x2="521.4" y2="59.7" stroke="#fff" stroke-width="0.6"/>
<text x="524.1" y="62.08" fill="#333" style="stroke:#333" font-size="6.8">−0.2</text>
<defs><linearGradient id="cb2" x1="0" x2="0" y1="0" y2="1"><stop offset="0" stop-color="#67001f"/><stop offset="0.1" stop-color="#b2182b"/><stop offset="0.2" stop-color="#d6604d"/><stop offset="0.3" stop-color="#f4a582"/><stop offset="0.4" stop-color="#fddbc7"/><stop offset="0.5" stop-color="#f7f7f7"/><stop offset="0.6" stop-color="#d1e5f0"/><stop offset="0.7" stop-color="#92c5de"/><stop offset="0.8" stop-color="#4393c3"/><stop offset="0.9" stop-color="#2166ac"/><stop offset="1" stop-color="#053061"/></linearGradient></defs>
<rect x="660.9" y="34.2" width="6.1" height="27.8" fill="url(#cb2)"/>
<line x1="660.9" y1="37.8" x2="662.1" y2="37.8" stroke="#fff" stroke-width="0.6"/>
<line x1="665.8" y1="37.8" x2="667" y2="37.8" stroke="#fff" stroke-width="0.6"/>
<text x="669.7" y="40.18" fill="#333" style="stroke:#333" font-size="6.8">0.2</text>
<line x1="660.9" y1="46.1" x2="662.1" y2="46.1" stroke="#fff" stroke-width="0.6"/>
<line x1="665.8" y1="46.1" x2="667" y2="46.1" stroke="#fff" stroke-width="0.6"/>
<text x="669.7" y="48.48" fill="#333" style="stroke:#333" font-size="6.8">0.1</text>
<line x1="660.9" y1="54.6" x2="662.1" y2="54.6" stroke="#fff" stroke-width="0.6"/>
<line x1="665.8" y1="54.6" x2="667" y2="54.6" stroke="#fff" stroke-width="0.6"/>
<text x="669.7" y="56.98" fill="#333" style="stroke:#333" font-size="6.8">0</text>
<defs><linearGradient id="cb3" x1="0" x2="0" y1="0" y2="1"><stop offset="0" stop-color="#67001f"/><stop offset="0.1" stop-color="#b2182b"/><stop offset="0.2" stop-color="#d6604d"/><stop offset="0.3" stop-color="#f4a582"/><stop offset="0.4" stop-color="#fddbc7"/><stop offset="0.5" stop-color="#f7f7f7"/><stop offset="0.6" stop-color="#d1e5f0"/><stop offset="0.7" stop-color="#92c5de"/><stop offset="0.8" stop-color="#4393c3"/><stop offset="0.9" stop-color="#2166ac"/><stop offset="1" stop-color="#053061"/></linearGradient></defs>
<rect x="515.3" y="145.3" width="6.1" height="27.1" fill="url(#cb3)"/>
<line x1="515.3" y1="147.9" x2="516.5" y2="147.9" stroke="#fff" stroke-width="0.6"/>
<line x1="520.2" y1="147.9" x2="521.4" y2="147.9" stroke="#fff" stroke-width="0.6"/>
<text x="524.1" y="150.28" fill="#333" style="stroke:#333" font-size="6.8">0.3</text>
<line x1="515.3" y1="153.6" x2="516.5" y2="153.6" stroke="#fff" stroke-width="0.6"/>
<line x1="520.2" y1="153.6" x2="521.4" y2="153.6" stroke="#fff" stroke-width="0.6"/>
<text x="524.1" y="155.98" fill="#333" style="stroke:#333" font-size="6.8">0.2</text>
<line x1="515.3" y1="159.2" x2="516.5" y2="159.2" stroke="#fff" stroke-width="0.6"/>
<line x1="520.2" y1="159.2" x2="521.4" y2="159.2" stroke="#fff" stroke-width="0.6"/>
<text x="524.1" y="161.58" fill="#333" style="stroke:#333" font-size="6.8">0.1</text>
<line x1="515.3" y1="164.9" x2="516.5" y2="164.9" stroke="#fff" stroke-width="0.6"/>
<line x1="520.2" y1="164.9" x2="521.4" y2="164.9" stroke="#fff" stroke-width="0.6"/>
<text x="524.1" y="167.28" fill="#333" style="stroke:#333" font-size="6.8">0</text>
<line x1="515.3" y1="171" x2="516.5" y2="171" stroke="#fff" stroke-width="0.6"/>
<line x1="520.2" y1="171" x2="521.4" y2="171" stroke="#fff" stroke-width="0.6"/>
<text x="524.1" y="173.38" fill="#333" style="stroke:#333" font-size="6.8">−0.1</text>
<defs><linearGradient id="cb4" x1="0" x2="0" y1="0" y2="1"><stop offset="0" stop-color="#67001f"/><stop offset="0.1" stop-color="#b2182b"/><stop offset="0.2" stop-color="#d6604d"/><stop offset="0.3" stop-color="#f4a582"/><stop offset="0.4" stop-color="#fddbc7"/><stop offset="0.5" stop-color="#f7f7f7"/><stop offset="0.6" stop-color="#d1e5f0"/><stop offset="0.7" stop-color="#92c5de"/><stop offset="0.8" stop-color="#4393c3"/><stop offset="0.9" stop-color="#2166ac"/><stop offset="1" stop-color="#053061"/></linearGradient></defs>
<rect x="660.9" y="145.4" width="6.1" height="27.1" fill="url(#cb4)"/>
<line x1="660.9" y1="148.2" x2="662.1" y2="148.2" stroke="#fff" stroke-width="0.6"/>
<line x1="665.8" y1="148.2" x2="667" y2="148.2" stroke="#fff" stroke-width="0.6"/>
<text x="669.7" y="150.58" fill="#333" style="stroke:#333" font-size="6.8">0.3</text>
<line x1="660.9" y1="155.1" x2="662.1" y2="155.1" stroke="#fff" stroke-width="0.6"/>
<line x1="665.8" y1="155.1" x2="667" y2="155.1" stroke="#fff" stroke-width="0.6"/>
<text x="669.7" y="157.48" fill="#333" style="stroke:#333" font-size="6.8">0.2</text>
<line x1="660.9" y1="162" x2="662.1" y2="162" stroke="#fff" stroke-width="0.6"/>
<line x1="665.8" y1="162" x2="667" y2="162" stroke="#fff" stroke-width="0.6"/>
<text x="669.7" y="164.38" fill="#333" style="stroke:#333" font-size="6.8">0.1</text>
<line x1="660.9" y1="169" x2="662.1" y2="169" stroke="#fff" stroke-width="0.6"/>
<line x1="665.8" y1="169" x2="667" y2="169" stroke="#fff" stroke-width="0.6"/>
<text x="669.7" y="171.38" fill="#333" style="stroke:#333" font-size="6.8">0</text>
<text x="0.7" y="238.19" fill="#000" style="stroke:#000" font-weight="bold" font-size="11.5">d</text>
<text transform="translate(17.07 317) rotate(-90)" text-anchor="middle" textLength="56" lengthAdjust="spacingAndGlyphs" font-size="7.35">Δ % cluster freq.</text>
<text transform="translate(25.27 317) rotate(-90)" text-anchor="middle" textLength="51" lengthAdjust="spacingAndGlyphs" font-size="7.35">(of CD4 T cells)</text>
<line x1="41" y1="274.9" x2="41" y2="358.7" stroke="#9c9c9c" stroke-width="1.3"/>
<line x1="40.6" y1="358.3" x2="75.4" y2="358.3" stroke="#333" stroke-width="0.85"/>
<line x1="38.6" y1="275.3" x2="41" y2="275.3" stroke="#333" stroke-width="0.8"/>
<text x="36.7" y="277.54" text-anchor="end" fill="#444" style="stroke:#444" font-size="6.4">2</text>
<line x1="38.6" y1="296.2" x2="41" y2="296.2" stroke="#333" stroke-width="0.8"/>
<text x="36.7" y="298.44" text-anchor="end" fill="#444" style="stroke:#444" font-size="6.4">0</text>
<line x1="38.6" y1="317.1" x2="41" y2="317.1" stroke="#333" stroke-width="0.8"/>
<text x="36.7" y="319.34" text-anchor="end" fill="#444" style="stroke:#444" font-size="6.4">−2</text>
<line x1="38.6" y1="338" x2="41" y2="338" stroke="#333" stroke-width="0.8"/>
<text x="36.7" y="340.24" text-anchor="end" fill="#444" style="stroke:#444" font-size="6.4">−4</text>
<line x1="38.6" y1="358.9" x2="41" y2="358.9" stroke="#333" stroke-width="0.8"/>
<text x="36.7" y="361.14" text-anchor="end" fill="#444" style="stroke:#444" font-size="6.4">−6</text>
<line x1="47.8" y1="358.3" x2="47.8" y2="360.7" stroke="#333" stroke-width="0.8"/>
<line x1="57.9" y1="358.3" x2="57.9" y2="360.7" stroke="#333" stroke-width="0.8"/>
<line x1="68.3" y1="358.3" x2="68.3" y2="360.7" stroke="#333" stroke-width="0.8"/>
<line x1="41" y1="296.2" x2="75.9" y2="296.2" stroke="#222" stroke-width="0.75" stroke-dasharray="2.6 1.5"/>
<path d="M47.8 296.2L57.9 288.5M47.8 296.2L57.9 291.9M47.8 296.2L57.9 297.7M47.8 296.2L57.9 308.7M47.8 296.2L57.9 317.2M47.8 296.2L57.9 353.5M57.9 288.5L68.3 289M57.9 291.9L68.3 287.9M57.9 297.7L68.3 302.9M57.9 308.7L68.3 309.3M57.9 317.2L68.3 312.8M57.9 353.5L68.3 347M47.8 296.2L68.3 298.9M47.8 296.2L68.3 300.6M47.8 296.2L68.3 302.9" stroke="#111" stroke-width="0.55" fill="none"/>
<circle cx="68.3" cy="287.9" r="1.7" fill="#ff9922"/>
<circle cx="68.3" cy="289" r="1.7" fill="#ff9922"/>
<circle cx="68.3" cy="298.9" r="1.7" fill="#ff9922"/>
<circle cx="68.3" cy="300.6" r="1.7" fill="#ff9922"/>
<circle cx="68.3" cy="302.9" r="1.7" fill="#ff9922"/>
<circle cx="68.3" cy="309.3" r="1.7" fill="#ff9922"/>
<circle cx="68.3" cy="312.8" r="1.7" fill="#ff9922"/>
<circle cx="68.3" cy="347" r="1.7" fill="#ff9922"/>
<circle cx="57.9" cy="288.5" r="1.7" fill="#22dd22"/>
<circle cx="57.9" cy="291.9" r="1.7" fill="#22dd22"/>
<circle cx="57.9" cy="297.7" r="1.7" fill="#22dd22"/>
<circle cx="57.9" cy="308.7" r="1.7" fill="#22dd22"/>
<circle cx="57.9" cy="317.2" r="1.7" fill="#22dd22"/>
<circle cx="57.9" cy="353.5" r="1.7" fill="#22dd22"/>
<circle cx="47.8" cy="296.2" r="1.7" fill="#000"/>
<text x="57.8" y="248.52" text-anchor="middle" font-size="7.2">C4</text>
<line x1="48.1" y1="259.4" x2="67.9" y2="259.4" stroke="#333" stroke-width="0.85"/>
<text x="57.8" y="257.87" text-anchor="middle" fill="#333" style="stroke:#333" font-size="5.9">NS</text>
<line x1="48.1" y1="270.6" x2="57.8" y2="270.6" stroke="#333" stroke-width="0.85"/>
<text x="53.2" y="268.96" text-anchor="middle" fill="#333" style="stroke:#333" font-size="5.9">NS</text>
<line x1="102.2" y1="274.5" x2="102.2" y2="358.6" stroke="#333" stroke-width="0.85"/>
<line x1="101.8" y1="358.2" x2="137.4" y2="358.2" stroke="#333" stroke-width="0.85"/>
<line x1="99.8" y1="274.9" x2="102.2" y2="274.9" stroke="#333" stroke-width="0.8"/>
<text x="97.9" y="277.14" text-anchor="end" fill="#444" style="stroke:#444" font-size="6.4">60</text>
<line x1="99.8" y1="295.7" x2="102.2" y2="295.7" stroke="#333" stroke-width="0.8"/>
<text x="97.9" y="297.94" text-anchor="end" fill="#444" style="stroke:#444" font-size="6.4">40</text>
<line x1="99.8" y1="316.5" x2="102.2" y2="316.5" stroke="#333" stroke-width="0.8"/>
<text x="97.9" y="318.74" text-anchor="end" fill="#444" style="stroke:#444" font-size="6.4">20</text>
<line x1="99.8" y1="337.3" x2="102.2" y2="337.3" stroke="#333" stroke-width="0.8"/>
<text x="97.9" y="339.54" text-anchor="end" fill="#444" style="stroke:#444" font-size="6.4">0</text>
<line x1="99.8" y1="358.1" x2="102.2" y2="358.1" stroke="#333" stroke-width="0.8"/>
<text x="97.9" y="360.34" text-anchor="end" fill="#444" style="stroke:#444" font-size="6.4">−20</text>
<line x1="109.3" y1="358.2" x2="109.3" y2="360.6" stroke="#333" stroke-width="0.8"/>
<line x1="119.4" y1="358.2" x2="119.4" y2="360.6" stroke="#333" stroke-width="0.8"/>
<line x1="129.7" y1="358.2" x2="129.7" y2="360.6" stroke="#333" stroke-width="0.8"/>
<line x1="102.2" y1="337.3" x2="137.9" y2="337.3" stroke="#222" stroke-width="0.75" stroke-dasharray="2.6 1.5"/>
<path d="M109.3 337.3L119.4 328.9M109.3 337.3L119.4 334.5M109.3 337.3L119.4 335.8M109.3 337.3L119.4 337.1M109.3 337.3L119.4 338.3M109.3 337.3L119.4 339.6M109.3 337.3L119.4 340.8M109.3 337.3L129.7 288.5M119.4 328.9L129.7 314.1M119.4 334.5L129.7 309.7M119.4 335.8L129.7 315.4M119.4 337.1L129.7 328.3M119.4 338.3L129.7 330.8M119.4 339.6L129.7 334.2M119.4 340.8L129.7 339.2M109.3 337.3L129.7 329.5" stroke="#111" stroke-width="0.55" fill="none"/>
<circle cx="129.7" cy="288.5" r="1.7" fill="#ff9922"/>
<circle cx="129.7" cy="309.7" r="1.7" fill="#ff9922"/>
<circle cx="129.7" cy="314.1" r="1.7" fill="#ff9922"/>
<circle cx="129.7" cy="315.4" r="1.7" fill="#ff9922"/>
<circle cx="129.7" cy="328.3" r="1.7" fill="#ff9922"/>
<circle cx="129.7" cy="329.5" r="1.7" fill="#ff9922"/>
<circle cx="129.7" cy="330.8" r="1.7" fill="#ff9922"/>
<circle cx="129.7" cy="334.2" r="1.7" fill="#ff9922"/>
<circle cx="129.7" cy="339.2" r="1.7" fill="#ff9922"/>
<circle cx="119.4" cy="328.9" r="1.7" fill="#22dd22"/>
<circle cx="119.4" cy="334.5" r="1.7" fill="#22dd22"/>
<circle cx="119.4" cy="335.8" r="1.7" fill="#22dd22"/>
<circle cx="119.4" cy="337.1" r="1.7" fill="#22dd22"/>
<circle cx="119.4" cy="338.3" r="1.7" fill="#22dd22"/>
<circle cx="119.4" cy="339.6" r="1.7" fill="#22dd22"/>
<circle cx="119.4" cy="340.8" r="1.7" fill="#22dd22"/>
<circle cx="109.3" cy="337.3" r="1.7" fill="#000"/>
<text x="119.1" y="247.79" font-size="7.2" text-anchor="middle">T<tspan font-size="4.46" dy="1.7">reg</tspan><tspan dy="-1.7"> (C2)</tspan></text>
<line x1="109.7" y1="259.3" x2="129.4" y2="259.3" stroke="#333" stroke-width="0.85"/>
<text x="119.6" y="257.26" text-anchor="middle" fill="#333" style="stroke:#333" font-size="5.9">0.004</text>
<line x1="109.7" y1="269.8" x2="119.9" y2="269.8" stroke="#333" stroke-width="0.85"/>
<text x="114.5" y="268.87" text-anchor="middle" fill="#333" style="stroke:#333" font-size="5.9">NS</text>
<line x1="164.6" y1="274.8" x2="164.6" y2="358.9" stroke="#333" stroke-width="0.85"/>
<line x1="164.2" y1="358.5" x2="199.2" y2="358.5" stroke="#333" stroke-width="0.85"/>
<line x1="162.2" y1="275.5" x2="164.6" y2="275.5" stroke="#333" stroke-width="0.8"/>
<text x="160.3" y="277.74" text-anchor="end" fill="#444" style="stroke:#444" font-size="6.4">20</text>
<line x1="162.2" y1="296.3" x2="164.6" y2="296.3" stroke="#333" stroke-width="0.8"/>
<text x="160.3" y="298.54" text-anchor="end" fill="#444" style="stroke:#444" font-size="6.4">0</text>
<line x1="162.2" y1="317.1" x2="164.6" y2="317.1" stroke="#333" stroke-width="0.8"/>
<text x="160.3" y="319.34" text-anchor="end" fill="#444" style="stroke:#444" font-size="6.4">−20</text>
<line x1="162.2" y1="337.9" x2="164.6" y2="337.9" stroke="#333" stroke-width="0.8"/>
<text x="160.3" y="340.14" text-anchor="end" fill="#444" style="stroke:#444" font-size="6.4">−40</text>
<line x1="162.2" y1="358.7" x2="164.6" y2="358.7" stroke="#333" stroke-width="0.8"/>
<text x="160.3" y="360.94" text-anchor="end" fill="#444" style="stroke:#444" font-size="6.4">−60</text>
<line x1="171.8" y1="358.5" x2="171.8" y2="360.9" stroke="#333" stroke-width="0.8"/>
<line x1="181.7" y1="358.5" x2="181.7" y2="360.9" stroke="#333" stroke-width="0.8"/>
<line x1="192.1" y1="358.5" x2="192.1" y2="360.9" stroke="#333" stroke-width="0.8"/>
<line x1="164.6" y1="296.3" x2="199.7" y2="296.3" stroke="#222" stroke-width="0.75" stroke-dasharray="2.6 1.5"/>
<path d="M171.8 296.3L181.7 290.6M171.8 296.3L181.7 292.5M171.8 296.3L181.7 294.4M171.8 296.3L181.7 296.9M171.8 296.3L181.7 300.7M171.8 296.3L181.7 305.7M171.8 296.3L181.7 308.2M181.7 290.6L192.1 301M181.7 292.5L192.1 302.6M181.7 294.4L192.1 304.4M181.7 296.9L192.1 306.3M181.7 300.7L192.1 308.2M181.7 305.7L192.1 304.4M181.7 308.2L192.1 306.3M171.8 296.3L192.1 348.3M171.8 296.3L192.1 316.3M171.8 296.3L192.1 321.6" stroke="#111" stroke-width="0.55" fill="none"/>
<circle cx="192.1" cy="301" r="1.7" fill="#ff9922"/>
<circle cx="192.1" cy="302.6" r="1.7" fill="#ff9922"/>
<circle cx="192.1" cy="304.4" r="1.7" fill="#ff9922"/>
<circle cx="192.1" cy="306.3" r="1.7" fill="#ff9922"/>
<circle cx="192.1" cy="308.2" r="1.7" fill="#ff9922"/>
<circle cx="192.1" cy="316.3" r="1.7" fill="#ff9922"/>
<circle cx="192.1" cy="321.6" r="1.7" fill="#ff9922"/>
<circle cx="192.1" cy="348.3" r="1.7" fill="#ff9922"/>
<circle cx="181.7" cy="290.6" r="1.7" fill="#22dd22"/>
<circle cx="181.7" cy="292.5" r="1.7" fill="#22dd22"/>
<circle cx="181.7" cy="294.4" r="1.7" fill="#22dd22"/>
<circle cx="181.7" cy="296.9" r="1.7" fill="#22dd22"/>
<circle cx="181.7" cy="300.7" r="1.7" fill="#22dd22"/>
<circle cx="181.7" cy="305.7" r="1.7" fill="#22dd22"/>
<circle cx="181.7" cy="308.2" r="1.7" fill="#22dd22"/>
<circle cx="171.8" cy="296.3" r="1.7" fill="#000"/>
<text x="183.8" y="238.89" font-size="7.2" text-anchor="middle">ISG<tspan font-size="4.46" dy="-2.7">lo</tspan></text>
<text x="183.8" y="247.79" font-size="7.2" text-anchor="middle">T<tspan font-size="4.46" dy="1.7">EM</tspan><tspan dy="-1.7"> (C0)</tspan></text>
<line x1="172.5" y1="259.3" x2="191.1" y2="259.3" stroke="#333" stroke-width="0.85"/>
<text x="181.7" y="257.26" text-anchor="middle" fill="#333" style="stroke:#333" font-size="5.9">0.002</text>
<line x1="172.5" y1="269.8" x2="181.7" y2="269.8" stroke="#333" stroke-width="0.85"/>
<text x="177.1" y="268.87" text-anchor="middle" fill="#333" style="stroke:#333" font-size="5.9">NS</text>
<line x1="226.9" y1="273.7" x2="226.9" y2="357" stroke="#333" stroke-width="0.85"/>
<line x1="226.5" y1="356.6" x2="260.7" y2="356.6" stroke="#333" stroke-width="0.85"/>
<line x1="224.5" y1="274.15" x2="226.9" y2="274.15" stroke="#333" stroke-width="0.8"/>
<text x="222.6" y="276.39" text-anchor="end" fill="#444" style="stroke:#444" font-size="6.4">15</text>
<line x1="224.5" y1="287.9" x2="226.9" y2="287.9" stroke="#333" stroke-width="0.8"/>
<text x="222.6" y="290.14" text-anchor="end" fill="#444" style="stroke:#444" font-size="6.4">10</text>
<line x1="224.5" y1="301.65" x2="226.9" y2="301.65" stroke="#333" stroke-width="0.8"/>
<text x="222.6" y="303.89" text-anchor="end" fill="#444" style="stroke:#444" font-size="6.4">5</text>
<line x1="224.5" y1="315.4" x2="226.9" y2="315.4" stroke="#333" stroke-width="0.8"/>
<text x="222.6" y="317.64" text-anchor="end" fill="#444" style="stroke:#444" font-size="6.4">0</text>
<line x1="224.5" y1="329.15" x2="226.9" y2="329.15" stroke="#333" stroke-width="0.8"/>
<text x="222.6" y="331.39" text-anchor="end" fill="#444" style="stroke:#444" font-size="6.4">−5</text>
<line x1="224.5" y1="342.9" x2="226.9" y2="342.9" stroke="#333" stroke-width="0.8"/>
<text x="222.6" y="345.14" text-anchor="end" fill="#444" style="stroke:#444" font-size="6.4">−10</text>
<line x1="224.5" y1="356.65" x2="226.9" y2="356.65" stroke="#333" stroke-width="0.8"/>
<text x="222.6" y="358.89" text-anchor="end" fill="#444" style="stroke:#444" font-size="6.4">−15</text>
<line x1="233.7" y1="356.6" x2="233.7" y2="359" stroke="#333" stroke-width="0.8"/>
<line x1="244.1" y1="356.6" x2="244.1" y2="359" stroke="#333" stroke-width="0.8"/>
<line x1="254.3" y1="356.6" x2="254.3" y2="359" stroke="#333" stroke-width="0.8"/>
<line x1="226.9" y1="315.4" x2="261.2" y2="315.4" stroke="#222" stroke-width="0.75" stroke-dasharray="2.6 1.5"/>
<path d="M233.7 315.4L244.1 292.8M233.7 315.4L244.1 304.7M233.7 315.4L244.1 311.9M233.7 315.4L244.1 313.3M233.7 315.4L244.1 319.5M233.7 315.4L244.1 331.8M233.7 315.4L244.1 333.1M244.1 292.8L254.3 293.1M244.1 333.1L254.3 344.4M244.1 331.8L254.3 333M244.1 319.5L254.3 280.5M244.1 304.7L254.3 305.8M244.1 311.9L254.3 307.8M244.1 313.3L254.3 316.9M244.1 319.5L254.3 321.3M233.7 315.4L254.3 311.9M233.7 315.4L254.3 319.1M233.7 315.4L254.3 323.1" stroke="#111" stroke-width="0.55" fill="none"/>
<circle cx="254.3" cy="280.5" r="1.7" fill="#ff9922"/>
<circle cx="254.3" cy="293.1" r="1.7" fill="#ff9922"/>
<circle cx="254.3" cy="305.8" r="1.7" fill="#ff9922"/>
<circle cx="254.3" cy="307.8" r="1.7" fill="#ff9922"/>
<circle cx="254.3" cy="311.9" r="1.7" fill="#ff9922"/>
<circle cx="254.3" cy="316.9" r="1.7" fill="#ff9922"/>
<circle cx="254.3" cy="319.1" r="1.7" fill="#ff9922"/>
<circle cx="254.3" cy="321.3" r="1.7" fill="#ff9922"/>
<circle cx="254.3" cy="323.1" r="1.7" fill="#ff9922"/>
<circle cx="254.3" cy="333" r="1.7" fill="#ff9922"/>
<circle cx="254.3" cy="344.4" r="1.7" fill="#ff9922"/>
<circle cx="244.1" cy="292.8" r="1.7" fill="#22dd22"/>
<circle cx="244.1" cy="304.7" r="1.7" fill="#22dd22"/>
<circle cx="244.1" cy="311.9" r="1.7" fill="#22dd22"/>
<circle cx="244.1" cy="313.3" r="1.7" fill="#22dd22"/>
<circle cx="244.1" cy="319.5" r="1.7" fill="#22dd22"/>
<circle cx="244.1" cy="331.8" r="1.7" fill="#22dd22"/>
<circle cx="244.1" cy="333.1" r="1.7" fill="#22dd22"/>
<circle cx="233.7" cy="315.4" r="1.7" fill="#000"/>
<text x="244.5" y="247.85" text-anchor="middle" textLength="33.5" lengthAdjust="spacingAndGlyphs" font-size="7.56">Naive (C1)</text>
<line x1="234.5" y1="257.9" x2="253.9" y2="257.9" stroke="#333" stroke-width="0.85"/>
<text x="244.5" y="255.37" text-anchor="middle" fill="#333" style="stroke:#333" font-size="5.9">NS</text>
<line x1="234.5" y1="268.1" x2="243.7" y2="268.1" stroke="#333" stroke-width="0.85"/>
<text x="239.4" y="266.96" text-anchor="middle" fill="#333" style="stroke:#333" font-size="5.9">NS</text>
<line x1="286.2" y1="273.7" x2="286.2" y2="357" stroke="#333" stroke-width="0.85"/>
<line x1="285.8" y1="356.6" x2="320" y2="356.6" stroke="#333" stroke-width="0.85"/>
<line x1="283.8" y1="274.15" x2="286.2" y2="274.15" stroke="#333" stroke-width="0.8"/>
<text x="281.9" y="276.39" text-anchor="end" fill="#444" style="stroke:#444" font-size="6.4">6</text>
<line x1="283.8" y1="287.9" x2="286.2" y2="287.9" stroke="#333" stroke-width="0.8"/>
<text x="281.9" y="290.14" text-anchor="end" fill="#444" style="stroke:#444" font-size="6.4">4</text>
<line x1="283.8" y1="301.65" x2="286.2" y2="301.65" stroke="#333" stroke-width="0.8"/>
<text x="281.9" y="303.89" text-anchor="end" fill="#444" style="stroke:#444" font-size="6.4">2</text>
<line x1="283.8" y1="315.4" x2="286.2" y2="315.4" stroke="#333" stroke-width="0.8"/>
<text x="281.9" y="317.64" text-anchor="end" fill="#444" style="stroke:#444" font-size="6.4">0</text>
<line x1="283.8" y1="329.15" x2="286.2" y2="329.15" stroke="#333" stroke-width="0.8"/>
<text x="281.9" y="331.39" text-anchor="end" fill="#444" style="stroke:#444" font-size="6.4">−2</text>
<line x1="283.8" y1="342.9" x2="286.2" y2="342.9" stroke="#333" stroke-width="0.8"/>
<text x="281.9" y="345.14" text-anchor="end" fill="#444" style="stroke:#444" font-size="6.4">−4</text>
<line x1="283.8" y1="356.65" x2="286.2" y2="356.65" stroke="#333" stroke-width="0.8"/>
<text x="281.9" y="358.89" text-anchor="end" fill="#444" style="stroke:#444" font-size="6.4">−6</text>
<line x1="292.9" y1="356.6" x2="292.9" y2="359" stroke="#333" stroke-width="0.8"/>
<line x1="303" y1="356.6" x2="303" y2="359" stroke="#333" stroke-width="0.8"/>
<line x1="313.4" y1="356.6" x2="313.4" y2="359" stroke="#333" stroke-width="0.8"/>
<line x1="286.2" y1="315.4" x2="320.5" y2="315.4" stroke="#222" stroke-width="0.75" stroke-dasharray="2.6 1.5"/>
<path d="M292.9 315.4L303 280.8M292.9 315.4L303 294.3M292.9 315.4L303 318.1M292.9 315.4L303 322.7M292.9 315.4L303 323.9M292.9 315.4L303 334.7M292.9 315.4L303 344.4M303 280.8L313.4 304.9M303 294.3L313.4 306.8M303 344.4L313.4 321.6M303 334.7L313.4 325.3M303 318.1L313.4 309M303 322.7L313.4 317.9M303 323.9L313.4 321.6M292.9 315.4L313.4 311.2M292.9 315.4L313.4 313.3M292.9 315.4L313.4 315.9" stroke="#111" stroke-width="0.55" fill="none"/>
<circle cx="313.4" cy="304.9" r="1.7" fill="#ff9922"/>
<circle cx="313.4" cy="306.8" r="1.7" fill="#ff9922"/>
<circle cx="313.4" cy="309" r="1.7" fill="#ff9922"/>
<circle cx="313.4" cy="311.2" r="1.7" fill="#ff9922"/>
<circle cx="313.4" cy="313.3" r="1.7" fill="#ff9922"/>
<circle cx="313.4" cy="315.9" r="1.7" fill="#ff9922"/>
<circle cx="313.4" cy="317.9" r="1.7" fill="#ff9922"/>
<circle cx="313.4" cy="321.6" r="1.7" fill="#ff9922"/>
<circle cx="313.4" cy="325.3" r="1.7" fill="#ff9922"/>
<circle cx="303" cy="280.8" r="1.7" fill="#22dd22"/>
<circle cx="303" cy="294.3" r="1.7" fill="#22dd22"/>
<circle cx="303" cy="318.1" r="1.7" fill="#22dd22"/>
<circle cx="303" cy="322.7" r="1.7" fill="#22dd22"/>
<circle cx="303" cy="323.9" r="1.7" fill="#22dd22"/>
<circle cx="303" cy="334.7" r="1.7" fill="#22dd22"/>
<circle cx="303" cy="344.4" r="1.7" fill="#22dd22"/>
<circle cx="292.9" cy="315.4" r="1.7" fill="#000"/>
<text x="302.5" y="238.89" font-size="7.2" text-anchor="middle">ISG<tspan font-size="4.46" dy="-2.7">hi</tspan></text>
<text x="302.5" y="247.79" font-size="7.2" text-anchor="middle">T<tspan font-size="4.46" dy="1.7">EM</tspan><tspan dy="-1.7"> (C3)</tspan></text>
<line x1="293" y1="257.9" x2="312.7" y2="257.9" stroke="#333" stroke-width="0.85"/>
<text x="303.3" y="255.37" text-anchor="middle" fill="#333" style="stroke:#333" font-size="5.9">NS</text>
<line x1="293" y1="268.1" x2="303" y2="268.1" stroke="#333" stroke-width="0.85"/>
<text x="298.4" y="266.96" text-anchor="middle" fill="#333" style="stroke:#333" font-size="5.9">NS</text>
<circle cx="11.8" cy="365.8" r="1.9" fill="#000"/>
<text x="16.7" y="367.93" fill="#333" style="stroke:#333" textLength="22.5" lengthAdjust="spacingAndGlyphs" font-size="6.09">C01D01</text>
<circle cx="11.8" cy="373.8" r="1.9" fill="#5cb946"/>
<text x="16.7" y="375.93" fill="#333" style="stroke:#333" textLength="22.5" lengthAdjust="spacingAndGlyphs" font-size="6.09">C01D02</text>
<circle cx="11.8" cy="381.8" r="1.9" fill="#f39a35"/>
<text x="16.7" y="383.93" fill="#333" style="stroke:#333" textLength="22.5" lengthAdjust="spacingAndGlyphs" font-size="6.09">C01D08</text>
<rect x="112.3" y="388" width="15.26" height="14.13" fill="#dfe2f0"/>
<rect x="127.56" y="388" width="15.26" height="14.13" fill="#c4cae4"/>
<rect x="158.08" y="388" width="15.26" height="14.13" fill="#5a6bb2"/>
<rect x="173.34" y="388" width="15.26" height="14.13" fill="#3a4ea3"/>
<rect x="203.86" y="388" width="15.26" height="14.13" fill="#7583be"/>
<rect x="219.12" y="388" width="15.26" height="14.13" fill="#3a4ea3"/>
<rect x="249.64" y="388" width="15.26" height="14.13" fill="#4558a8"/>
<rect x="264.9" y="388" width="15.26" height="14.13" fill="#6f7ebc"/>
<rect x="295.42" y="388" width="15.26" height="14.13" fill="#5f70b4"/>
<rect x="310.68" y="388" width="15.26" height="14.13" fill="#3a4ea3"/>
<rect x="112.3" y="402.13" width="15.26" height="14.13" fill="#f4f5fa"/>
<rect x="127.56" y="402.13" width="15.26" height="14.13" fill="#f4f5fa"/>
<rect x="158.08" y="402.13" width="15.26" height="14.13" fill="#6574b7"/>
<rect x="173.34" y="402.13" width="15.26" height="14.13" fill="#5a6bb2"/>
<rect x="203.86" y="402.13" width="15.26" height="14.13" fill="#6574b7"/>
<rect x="219.12" y="402.13" width="15.26" height="14.13" fill="#5566b0"/>
<rect x="249.64" y="402.13" width="15.26" height="14.13" fill="#9aa4d0"/>
<rect x="264.9" y="402.13" width="15.26" height="14.13" fill="#aab3d7"/>
<rect x="295.42" y="402.13" width="15.26" height="14.13" fill="#6574b7"/>
<rect x="310.68" y="402.13" width="15.26" height="14.13" fill="#3a4ea3"/>
<rect x="112.3" y="416.26" width="15.26" height="14.13" fill="#8a96c8"/>
<rect x="127.56" y="416.26" width="15.26" height="14.13" fill="#5a6bb2"/>
<rect x="158.08" y="416.26" width="15.26" height="14.13" fill="#8a96c8"/>
<rect x="173.34" y="416.26" width="15.26" height="14.13" fill="#3a4ea3"/>
<rect x="203.86" y="416.26" width="15.26" height="14.13" fill="#bfc6e1"/>
<rect x="219.12" y="416.26" width="15.26" height="14.13" fill="#3a4ea3"/>
<rect x="249.64" y="416.26" width="15.26" height="14.13" fill="#aab3d7"/>
<rect x="264.9" y="416.26" width="15.26" height="14.13" fill="#4053a6"/>
<rect x="295.42" y="416.26" width="15.26" height="14.13" fill="#8f9bcb"/>
<rect x="310.68" y="416.26" width="15.26" height="14.13" fill="#6574b7"/>
<rect x="112.3" y="430.39" width="15.26" height="14.13" fill="#c4cae4"/>
<rect x="127.56" y="430.39" width="15.26" height="14.13" fill="#6f7ebc"/>
<rect x="158.08" y="430.39" width="15.26" height="14.13" fill="#3a4ea3"/>
<rect x="173.34" y="430.39" width="15.26" height="14.13" fill="#3a4ea3"/>
<rect x="203.86" y="430.39" width="15.26" height="14.13" fill="#7f8cc3"/>
<rect x="219.12" y="430.39" width="15.26" height="14.13" fill="#3a4ea3"/>
<rect x="249.64" y="430.39" width="15.26" height="14.13" fill="#959fcd"/>
<rect x="264.9" y="430.39" width="15.26" height="14.13" fill="#4a5dab"/>
<rect x="295.42" y="430.39" width="15.26" height="14.13" fill="#3a4ea3"/>
<rect x="310.68" y="430.39" width="15.26" height="14.13" fill="#5a6bb2"/>
<rect x="112.3" y="444.52" width="15.26" height="14.13" fill="#dfe2f0"/>
<rect x="127.56" y="444.52" width="15.26" height="14.13" fill="#dfe2f0"/>
<rect x="158.08" y="444.52" width="15.26" height="14.13" fill="#4558a8"/>
<rect x="173.34" y="444.52" width="15.26" height="14.13" fill="#3a4ea3"/>
<rect x="203.86" y="444.52" width="15.26" height="14.13" fill="#b5bcdc"/>
<rect x="219.12" y="444.52" width="15.26" height="14.13" fill="#3a4ea3"/>
<rect x="249.64" y="444.52" width="15.26" height="14.13" fill="#3a4ea3"/>
<rect x="264.9" y="444.52" width="15.26" height="14.13" fill="#7583be"/>
<rect x="295.42" y="444.52" width="15.26" height="14.13" fill="#eaecf5"/>
<rect x="310.68" y="444.52" width="15.26" height="14.13" fill="#6574b7"/>
<rect x="112.3" y="458.65" width="15.26" height="14.13" fill="#f9ccce"/>
<rect x="127.56" y="458.65" width="15.26" height="14.13" fill="#fef9fa"/>
<rect x="158.08" y="458.65" width="15.26" height="14.13" fill="#f29498"/>
<rect x="173.34" y="458.65" width="15.26" height="14.13" fill="#e5242b"/>
<rect x="203.86" y="458.65" width="15.26" height="14.13" fill="#ed6d72"/>
<rect x="219.12" y="458.65" width="15.26" height="14.13" fill="#e52931"/>
<rect x="249.64" y="458.65" width="15.26" height="14.13" fill="#f39a9d"/>
<rect x="264.9" y="458.65" width="15.26" height="14.13" fill="#e41e26"/>
<rect x="295.42" y="458.65" width="15.26" height="14.13" fill="#f28e92"/>
<rect x="310.68" y="458.65" width="15.26" height="14.13" fill="#f8c1c3"/>
<rect x="112.3" y="472.78" width="15.26" height="14.13" fill="#e4e7f3"/>
<rect x="127.56" y="472.78" width="15.26" height="14.13" fill="#fafafd"/>
<rect x="158.08" y="472.78" width="15.26" height="14.13" fill="#cacfe6"/>
<rect x="173.34" y="472.78" width="15.26" height="14.13" fill="#3a4ea3"/>
<rect x="203.86" y="472.78" width="15.26" height="14.13" fill="#fdeeef"/>
<rect x="219.12" y="472.78" width="15.26" height="14.13" fill="#bfc6e1"/>
<rect x="249.64" y="472.78" width="15.26" height="14.13" fill="#fafafd"/>
<rect x="264.9" y="472.78" width="15.26" height="14.13" fill="#7f8cc3"/>
<rect x="295.42" y="472.78" width="15.26" height="14.13" fill="#fafafd"/>
<rect x="310.68" y="472.78" width="15.26" height="14.13" fill="#4a5dab"/>
<rect x="112.3" y="486.91" width="15.26" height="14.13" fill="#f8c7c9"/>
<rect x="127.56" y="486.91" width="15.26" height="14.13" fill="#ffffff"/>
<rect x="158.08" y="486.91" width="15.26" height="14.13" fill="#fef9fa"/>
<rect x="173.34" y="486.91" width="15.26" height="14.13" fill="#e52931"/>
<rect x="203.86" y="486.91" width="15.26" height="14.13" fill="#fad2d4"/>
<rect x="219.12" y="486.91" width="15.26" height="14.13" fill="#f1898d"/>
<rect x="249.64" y="486.91" width="15.26" height="14.13" fill="#fdeeef"/>
<rect x="264.9" y="486.91" width="15.26" height="14.13" fill="#fef9fa"/>
<rect x="295.42" y="486.91" width="15.26" height="14.13" fill="#f4f5fa"/>
<rect x="310.68" y="486.91" width="15.26" height="14.13" fill="#dfe2f0"/>
<path d="M112.3 388H325.94M112.3 402.13H325.94M112.3 416.26H325.94M112.3 430.39H325.94M112.3 444.52H325.94M112.3 458.65H325.94M112.3 472.78H325.94M112.3 486.91H325.94M112.3 501.04H325.94M112.3 388V501.04M127.56 388V501.04M142.82 388V501.04M158.08 388V501.04M173.34 388V501.04M188.6 388V501.04M203.86 388V501.04M219.12 388V501.04M234.38 388V501.04M249.64 388V501.04M264.9 388V501.04M280.16 388V501.04M295.42 388V501.04M310.68 388V501.04M325.94 388V501.04" stroke="#8f8f8f" stroke-width="0.7" fill="none"/>
<g fill="#111"><polygon points="164.71,392.92 165.26,394.11 166.56,394.26 165.6,395.15 165.86,396.44 164.71,395.8 163.56,396.44 163.82,395.15 162.86,394.26 164.16,394.11"/><polygon points="179.07,392.92 179.62,394.11 180.92,394.26 179.96,395.15 180.22,396.44 179.07,395.8 177.92,396.44 178.18,395.15 177.22,394.26 178.52,394.11"/><polygon points="183.47,392.92 184.02,394.11 185.32,394.26 184.36,395.15 184.62,396.44 183.47,395.8 182.32,396.44 182.58,395.15 181.62,394.26 182.92,394.11"/><polygon points="224.85,392.92 225.4,394.11 226.7,394.26 225.74,395.15 226,396.44 224.85,395.8 223.7,396.44 223.96,395.15 223,394.26 224.3,394.11"/><polygon points="229.25,392.92 229.8,394.11 231.1,394.26 230.14,395.15 230.4,396.44 229.25,395.8 228.1,396.44 228.36,395.15 227.4,394.26 228.7,394.11"/><polygon points="256.27,392.92 256.82,394.11 258.12,394.26 257.16,395.15 257.42,396.44 256.27,395.8 255.12,396.44 255.38,395.15 254.42,394.26 255.72,394.11"/><polygon points="271.53,392.92 272.08,394.11 273.38,394.26 272.42,395.15 272.68,396.44 271.53,395.8 270.38,396.44 270.64,395.15 269.68,394.26 270.98,394.11"/><polygon points="302.05,392.92 302.6,394.11 303.9,394.26 302.94,395.15 303.2,396.44 302.05,395.8 300.9,396.44 301.16,395.15 300.2,394.26 301.5,394.11"/><polygon points="316.41,392.92 316.96,394.11 318.26,394.26 317.3,395.15 317.56,396.44 316.41,395.8 315.26,396.44 315.52,395.15 314.56,394.26 315.86,394.11"/><polygon points="320.81,392.92 321.36,394.11 322.66,394.26 321.7,395.15 321.96,396.44 320.81,395.8 319.66,396.44 319.92,395.15 318.96,394.26 320.26,394.11"/><polygon points="164.71,407.05 165.26,408.24 166.56,408.39 165.6,409.28 165.86,410.57 164.71,409.93 163.56,410.57 163.82,409.28 162.86,408.39 164.16,408.24"/><polygon points="179.97,407.05 180.52,408.24 181.82,408.39 180.86,409.28 181.12,410.57 179.97,409.93 178.82,410.57 179.08,409.28 178.12,408.39 179.42,408.24"/><polygon points="210.49,407.05 211.04,408.24 212.34,408.39 211.38,409.28 211.64,410.57 210.49,409.93 209.34,410.57 209.6,409.28 208.64,408.39 209.94,408.24"/><polygon points="225.75,407.05 226.3,408.24 227.6,408.39 226.64,409.28 226.9,410.57 225.75,409.93 224.6,410.57 224.86,409.28 223.9,408.39 225.2,408.24"/><polygon points="302.05,407.05 302.6,408.24 303.9,408.39 302.94,409.28 303.2,410.57 302.05,409.93 300.9,410.57 301.16,409.28 300.2,408.39 301.5,408.24"/><polygon points="316.41,407.05 316.96,408.24 318.26,408.39 317.3,409.28 317.56,410.57 316.41,409.93 315.26,410.57 315.52,409.28 314.56,408.39 315.86,408.24"/><polygon points="320.81,407.05 321.36,408.24 322.66,408.39 321.7,409.28 321.96,410.57 320.81,409.93 319.66,410.57 319.92,409.28 318.96,408.39 320.26,408.24"/><polygon points="134.19,421.18 134.74,422.37 136.04,422.52 135.08,423.41 135.34,424.7 134.19,424.06 133.04,424.7 133.3,423.41 132.34,422.52 133.64,422.37"/><polygon points="179.07,421.18 179.62,422.37 180.92,422.52 179.96,423.41 180.22,424.7 179.07,424.06 177.92,424.7 178.18,423.41 177.22,422.52 178.52,422.37"/><polygon points="183.47,421.18 184.02,422.37 185.32,422.52 184.36,423.41 184.62,424.7 183.47,424.06 182.32,424.7 182.58,423.41 181.62,422.52 182.92,422.37"/><polygon points="224.85,421.18 225.4,422.37 226.7,422.52 225.74,423.41 226,424.7 224.85,424.06 223.7,424.7 223.96,423.41 223,422.52 224.3,422.37"/><polygon points="229.25,421.18 229.8,422.37 231.1,422.52 230.14,423.41 230.4,424.7 229.25,424.06 228.1,424.7 228.36,423.41 227.4,422.52 228.7,422.37"/><polygon points="270.63,421.18 271.18,422.37 272.48,422.52 271.52,423.41 271.78,424.7 270.63,424.06 269.48,424.7 269.74,423.41 268.78,422.52 270.08,422.37"/><polygon points="275.03,421.18 275.58,422.37 276.88,422.52 275.92,423.41 276.18,424.7 275.03,424.06 273.88,424.7 274.14,423.41 273.18,422.52 274.48,422.37"/><polygon points="317.31,421.18 317.86,422.37 319.16,422.52 318.2,423.41 318.46,424.7 317.31,424.06 316.16,424.7 316.42,423.41 315.46,422.52 316.76,422.37"/><polygon points="134.19,435.31 134.74,436.5 136.04,436.65 135.08,437.54 135.34,438.83 134.19,438.19 133.04,438.83 133.3,437.54 132.34,436.65 133.64,436.5"/><polygon points="164.71,435.31 165.26,436.5 166.56,436.65 165.6,437.54 165.86,438.83 164.71,438.19 163.56,438.83 163.82,437.54 162.86,436.65 164.16,436.5"/><polygon points="179.07,435.31 179.62,436.5 180.92,436.65 179.96,437.54 180.22,438.83 179.07,438.19 177.92,438.83 178.18,437.54 177.22,436.65 178.52,436.5"/><polygon points="183.47,435.31 184.02,436.5 185.32,436.65 184.36,437.54 184.62,438.83 183.47,438.19 182.32,438.83 182.58,437.54 181.62,436.65 182.92,436.5"/><polygon points="224.85,435.31 225.4,436.5 226.7,436.65 225.74,437.54 226,438.83 224.85,438.19 223.7,438.83 223.96,437.54 223,436.65 224.3,436.5"/><polygon points="229.25,435.31 229.8,436.5 231.1,436.65 230.14,437.54 230.4,438.83 229.25,438.19 228.1,438.83 228.36,437.54 227.4,436.65 228.7,436.5"/><polygon points="271.53,435.31 272.08,436.5 273.38,436.65 272.42,437.54 272.68,438.83 271.53,438.19 270.38,438.83 270.64,437.54 269.68,436.65 270.98,436.5"/><polygon points="302.05,435.31 302.6,436.5 303.9,436.65 302.94,437.54 303.2,438.83 302.05,438.19 300.9,438.83 301.16,437.54 300.2,436.65 301.5,436.5"/><polygon points="317.31,435.31 317.86,436.5 319.16,436.65 318.2,437.54 318.46,438.83 317.31,438.19 316.16,438.83 316.42,437.54 315.46,436.65 316.76,436.5"/><polygon points="164.71,449.44 165.26,450.63 166.56,450.78 165.6,451.67 165.86,452.96 164.71,452.32 163.56,452.96 163.82,451.67 162.86,450.78 164.16,450.63"/><polygon points="179.07,449.44 179.62,450.63 180.92,450.78 179.96,451.67 180.22,452.96 179.07,452.32 177.92,452.96 178.18,451.67 177.22,450.78 178.52,450.63"/><polygon points="183.47,449.44 184.02,450.63 185.32,450.78 184.36,451.67 184.62,452.96 183.47,452.32 182.32,452.96 182.58,451.67 181.62,450.78 182.92,450.63"/><polygon points="224.85,449.44 225.4,450.63 226.7,450.78 225.74,451.67 226,452.96 224.85,452.32 223.7,452.96 223.96,451.67 223,450.78 224.3,450.63"/><polygon points="229.25,449.44 229.8,450.63 231.1,450.78 230.14,451.67 230.4,452.96 229.25,452.32 228.1,452.96 228.36,451.67 227.4,450.78 228.7,450.63"/><polygon points="256.27,449.44 256.82,450.63 258.12,450.78 257.16,451.67 257.42,452.96 256.27,452.32 255.12,452.96 255.38,451.67 254.42,450.78 255.72,450.63"/><polygon points="271.53,449.44 272.08,450.63 273.38,450.78 272.42,451.67 272.68,452.96 271.53,452.32 270.38,452.96 270.64,451.67 269.68,450.78 270.98,450.63"/><polygon points="317.31,449.44 317.86,450.63 319.16,450.78 318.2,451.67 318.46,452.96 317.31,452.32 316.16,452.96 316.42,451.67 315.46,450.78 316.76,450.63"/><polygon points="179.07,463.56 179.62,464.76 180.92,464.91 179.96,465.8 180.22,467.09 179.07,466.45 177.92,467.09 178.18,465.8 177.22,464.91 178.52,464.76"/><polygon points="183.47,463.56 184.02,464.76 185.32,464.91 184.36,465.8 184.62,467.09 183.47,466.45 182.32,467.09 182.58,465.8 181.62,464.91 182.92,464.76"/><polygon points="210.49,463.56 211.04,464.76 212.34,464.91 211.38,465.8 211.64,467.09 210.49,466.45 209.34,467.09 209.6,465.8 208.64,464.91 209.94,464.76"/><polygon points="224.85,463.56 225.4,464.76 226.7,464.91 225.74,465.8 226,467.09 224.85,466.45 223.7,467.09 223.96,465.8 223,464.91 224.3,464.76"/><polygon points="229.25,463.56 229.8,464.76 231.1,464.91 230.14,465.8 230.4,467.09 229.25,466.45 228.1,467.09 228.36,465.8 227.4,464.91 228.7,464.76"/><polygon points="270.63,463.56 271.18,464.76 272.48,464.91 271.52,465.8 271.78,467.09 270.63,466.45 269.48,467.09 269.74,465.8 268.78,464.91 270.08,464.76"/><polygon points="275.03,463.56 275.58,464.76 276.88,464.91 275.92,465.8 276.18,467.09 275.03,466.45 273.88,467.09 274.14,465.8 273.18,464.91 274.48,464.76"/><polygon points="179.07,477.69 179.62,478.89 180.92,479.04 179.96,479.93 180.22,481.22 179.07,480.58 177.92,481.22 178.18,479.93 177.22,479.04 178.52,478.89"/><polygon points="183.47,477.69 184.02,478.89 185.32,479.04 184.36,479.93 184.62,481.22 183.47,480.58 182.32,481.22 182.58,479.93 181.62,479.04 182.92,478.89"/><polygon points="224.85,477.69 225.4,478.89 226.7,479.04 225.74,479.93 226,481.22 224.85,480.58 223.7,481.22 223.96,479.93 223,479.04 224.3,478.89"/><polygon points="229.25,477.69 229.8,478.89 231.1,479.04 230.14,479.93 230.4,481.22 229.25,480.58 228.1,481.22 228.36,479.93 227.4,479.04 228.7,478.89"/><polygon points="316.41,477.69 316.96,478.89 318.26,479.04 317.3,479.93 317.56,481.22 316.41,480.58 315.26,481.22 315.52,479.93 314.56,479.04 315.86,478.89"/><polygon points="320.81,477.69 321.36,478.89 322.66,479.04 321.7,479.93 321.96,481.22 320.81,480.58 319.66,481.22 319.92,479.93 318.96,479.04 320.26,478.89"/><polygon points="179.07,491.83 179.62,493.02 180.92,493.17 179.96,494.06 180.22,495.35 179.07,494.71 177.92,495.35 178.18,494.06 177.22,493.17 178.52,493.02"/><polygon points="183.47,491.83 184.02,493.02 185.32,493.17 184.36,494.06 184.62,495.35 183.47,494.71 182.32,495.35 182.58,494.06 181.62,493.17 182.92,493.02"/></g>
<text x="109.2" y="397.78" text-anchor="end" textLength="52.4" lengthAdjust="spacingAndGlyphs" font-size="7.77">CTNNB1 targets</text>
<text x="109.2" y="411.91" text-anchor="end" textLength="42.8" lengthAdjust="spacingAndGlyphs" font-size="7.77">TCF7 targets</text>
<text x="109.2" y="426.04" text-anchor="end" textLength="47.6" lengthAdjust="spacingAndGlyphs" font-size="7.77">STAT6 targets</text>
<text x="109.2" y="440.17" text-anchor="end" textLength="55.6" lengthAdjust="spacingAndGlyphs" font-size="7.77">DNMT3A targets</text>
<text x="109.2" y="454.3" text-anchor="end" textLength="77" lengthAdjust="spacingAndGlyphs" font-size="7.77">WNT signaling module</text>
<text x="109.2" y="468.43" text-anchor="end" textLength="74.8" lengthAdjust="spacingAndGlyphs" font-size="7.77">Effector T cell module</text>
<text x="109.2" y="482.56" text-anchor="end" textLength="56.1" lengthAdjust="spacingAndGlyphs" font-size="7.77">Antiviral module</text>
<text x="109.2" y="496.69" text-anchor="end" textLength="39.7" lengthAdjust="spacingAndGlyphs" font-size="7.77">ISG module</text>
<text x="134.7" y="384.52" text-anchor="middle" font-size="7.2">C4</text>
<text x="174" y="384.59" font-size="7.2" text-anchor="middle">T<tspan font-size="4.46" dy="1.7">reg</tspan><tspan dy="-1.7"> (C2)</tspan></text>
<text x="220" y="375.59" font-size="7.2" text-anchor="middle">ISG<tspan font-size="4.46" dy="-2.7">lo</tspan></text>
<text x="219" y="384.59" font-size="7.2" text-anchor="middle">T<tspan font-size="4.46" dy="1.7">EM</tspan><tspan dy="-1.7"> (C0)</tspan></text>
<text x="264" y="384.65" text-anchor="middle" textLength="33.5" lengthAdjust="spacingAndGlyphs" font-size="7.56">Naive (C1)</text>
<text x="310" y="375.59" font-size="7.2" text-anchor="middle">ISG<tspan font-size="4.46" dy="-2.7">hi</tspan></text>
<text x="309" y="384.59" font-size="7.2" text-anchor="middle">T<tspan font-size="4.46" dy="1.7">EM</tspan><tspan dy="-1.7"> (C3)</tspan></text>
<text transform="translate(122.08 505.2) rotate(-90)" text-anchor="end" font-size="8.2">D02</text>
<text transform="translate(138.14 505.2) rotate(-90)" text-anchor="end" font-size="8.2">D08</text>
<text transform="translate(167.86 505.2) rotate(-90)" text-anchor="end" font-size="8.2">D02</text>
<text transform="translate(183.92 505.2) rotate(-90)" text-anchor="end" font-size="8.2">D08</text>
<text transform="translate(213.64 505.2) rotate(-90)" text-anchor="end" font-size="8.2">D02</text>
<text transform="translate(229.7 505.2) rotate(-90)" text-anchor="end" font-size="8.2">D08</text>
<text transform="translate(259.42 505.2) rotate(-90)" text-anchor="end" font-size="8.2">D02</text>
<text transform="translate(275.48 505.2) rotate(-90)" text-anchor="end" font-size="8.2">D08</text>
<text transform="translate(305.2 505.2) rotate(-90)" text-anchor="end" font-size="8.2">D02</text>
<text transform="translate(321.26 505.2) rotate(-90)" text-anchor="end" font-size="8.2">D08</text>
<defs><linearGradient id="gd" x1="0" x2="0" y1="0" y2="1"><stop offset="0" stop-color="#e41e26"/><stop offset="0.5" stop-color="#fff"/><stop offset="1" stop-color="#3a4ea3"/></linearGradient></defs>
<rect x="17.7" y="422.7" width="5.5" height="79" fill="url(#gd)"/>
<text x="26.2" y="429.5" fill="#333" style="stroke:#333" font-size="6.3">2</text>
<text x="26.2" y="464.81" fill="#333" style="stroke:#333" font-size="6.3">0</text>
<text x="25.8" y="501.2" fill="#333" style="stroke:#333" font-size="6.3">−2</text>
<text transform="translate(6.45 463.8) rotate(-90)" text-anchor="middle" textLength="52" lengthAdjust="spacingAndGlyphs" font-size="7.56">Δ module score</text>
<text transform="translate(13.95 463.8) rotate(-90)" text-anchor="middle" textLength="41" lengthAdjust="spacingAndGlyphs" font-size="7.56">(vs C01D01)</text>
<text x="338.1" y="238.09" fill="#000" style="stroke:#000" font-weight="bold" font-size="11.5">e</text>
<circle cx="372.7" cy="248.3" r="1.75" fill="#000"/>
<text x="377.5" y="250.39" fill="#333" style="stroke:#333" textLength="22.3" lengthAdjust="spacingAndGlyphs" font-size="5.99">C01D01</text>
<circle cx="372.7" cy="255.9" r="1.75" fill="#6abd45"/>
<text x="377.5" y="257.99" fill="#333" style="stroke:#333" textLength="22.3" lengthAdjust="spacingAndGlyphs" font-size="5.99">C01D02</text>
<circle cx="372.7" cy="263.6" r="1.75" fill="#f59b33"/>
<text x="377.5" y="265.69" fill="#333" style="stroke:#333" textLength="22.3" lengthAdjust="spacingAndGlyphs" font-size="5.99">C01D08</text>
<line x1="366.4" y1="258.1" x2="366.4" y2="440.4" stroke="#333" stroke-width="0.9"/>
<line x1="361.1" y1="258.5" x2="366.4" y2="258.5" stroke="#333" stroke-width="0.9"/>
<text x="358" y="260.67" text-anchor="end" fill="#333" style="stroke:#333" font-size="6.2">80</text>
<line x1="361.1" y1="303.6" x2="366.4" y2="303.6" stroke="#333" stroke-width="0.9"/>
<text x="358" y="305.77" text-anchor="end" fill="#333" style="stroke:#333" font-size="6.2">60</text>
<line x1="361.1" y1="348.7" x2="366.4" y2="348.7" stroke="#333" stroke-width="0.9"/>
<text x="358" y="350.87" text-anchor="end" fill="#333" style="stroke:#333" font-size="6.2">40</text>
<line x1="361.1" y1="393.8" x2="366.4" y2="393.8" stroke="#333" stroke-width="0.9"/>
<text x="358" y="395.97" text-anchor="end" fill="#333" style="stroke:#333" font-size="6.2">20</text>
<line x1="361.1" y1="439.5" x2="366.4" y2="439.5" stroke="#333" stroke-width="0.9"/>
<text x="358" y="441.67" text-anchor="end" fill="#333" style="stroke:#333" font-size="6.2">0</text>
<line x1="361.1" y1="440" x2="447.2" y2="440" stroke="#333" stroke-width="0.9"/>
<line x1="366.4" y1="440" x2="366.4" y2="443.7" stroke="#333" stroke-width="0.9"/>
<text x="366.4" y="451.17" text-anchor="middle" fill="#333" style="stroke:#333" font-size="6.2">0.01</text>
<line x1="386.4" y1="440" x2="386.4" y2="443.7" stroke="#333" stroke-width="0.9"/>
<text x="386.4" y="451.17" text-anchor="middle" fill="#333" style="stroke:#333" font-size="6.2">0.1</text>
<line x1="406.5" y1="440" x2="406.5" y2="443.7" stroke="#333" stroke-width="0.9"/>
<text x="406.5" y="451.17" text-anchor="middle" fill="#333" style="stroke:#333" font-size="6.2">1</text>
<line x1="426.6" y1="440" x2="426.6" y2="443.7" stroke="#333" stroke-width="0.9"/>
<text x="426.6" y="451.17" text-anchor="middle" fill="#333" style="stroke:#333" font-size="6.2">10</text>
<line x1="447" y1="440" x2="447" y2="443.7" stroke="#333" stroke-width="0.9"/>
<text x="447" y="451.17" text-anchor="middle" fill="#333" style="stroke:#333" font-size="6.2">100</text>
<text x="406.6" y="461.35" text-anchor="middle" textLength="81.4" lengthAdjust="spacingAndGlyphs" font-size="7.56">HIV RNA (copies per ml)</text>
<text x="370.7" y="424.6" font-size="7.2"><tspan font-style="italic">ρ</tspan> = −0.49</text>
<text x="370.7" y="433.2" font-size="7.2"><tspan font-style="italic">P</tspan> = 0.007</text>
<text transform="translate(344.86 347.3) rotate(-90)" text-anchor="middle" font-size="7.4">Percent C0: ISG<tspan font-size="4.6" dy="-2.7">lo</tspan><tspan dy="2.7"> T</tspan><tspan font-size="4.6" dy="1.7">EM</tspan><tspan dy="-1.7">  (of all CD4 T cells)</tspan></text>
<circle cx="406" cy="295.4" r="3.2" fill="#000"/>
<circle cx="391.2" cy="302.5" r="3.2" fill="#000"/>
<circle cx="391.8" cy="307.1" r="3.2" fill="#000"/>
<circle cx="414.9" cy="318.8" r="3.2" fill="#000"/>
<circle cx="385.3" cy="322.5" r="3.2" fill="#000"/>
<circle cx="391.2" cy="322.8" r="3.2" fill="#000"/>
<circle cx="384.4" cy="326.2" r="3.2" fill="#000"/>
<circle cx="384.1" cy="350" r="3.2" fill="#000"/>
<circle cx="410.6" cy="359.5" r="3.2" fill="#000"/>
<circle cx="409.1" cy="384.2" r="3.2" fill="#000"/>
<circle cx="426.7" cy="383" r="3.2" fill="#000"/>
<circle cx="419.6" cy="390" r="3.2" fill="#000"/>
<circle cx="409.7" cy="284.6" r="3.2" fill="#6abd45"/>
<circle cx="412.8" cy="308" r="3.2" fill="#6abd45"/>
<circle cx="407.2" cy="329.6" r="3.2" fill="#6abd45"/>
<circle cx="384.7" cy="333" r="3.2" fill="#6abd45"/>
<circle cx="391.2" cy="350.9" r="3.2" fill="#6abd45"/>
<circle cx="396.8" cy="351.5" r="3.2" fill="#6abd45"/>
<circle cx="425.4" cy="404.2" r="3.2" fill="#6abd45"/>
<circle cx="397.4" cy="309.9" r="3.2" fill="#f59b33"/>
<circle cx="401.4" cy="327.2" r="3.2" fill="#f59b33"/>
<circle cx="409.1" cy="329.6" r="3.2" fill="#f59b33"/>
<circle cx="411.5" cy="362.9" r="3.2" fill="#f59b33"/>
<circle cx="397.1" cy="370.3" r="3.2" fill="#f59b33"/>
<circle cx="402" cy="378" r="3.2" fill="#f59b33"/>
<circle cx="431" cy="396.2" r="3.2" fill="#f59b33"/>
<circle cx="439.6" cy="403.9" r="3.2" fill="#f59b33"/>
<circle cx="419.9" cy="409.5" r="3.2" fill="#f59b33"/>
<text x="452.4" y="238.09" fill="#000" style="stroke:#000" font-weight="bold" font-size="11.5">f</text>
<defs><filter id="fb" x="-50%" y="-50%" width="200%" height="200%"><feGaussianBlur stdDeviation="0.75"/></filter><clipPath id="fc"><rect x="477" y="243.1" width="93.3" height="93.4"/></clipPath></defs>
<g clip-path="url(#fc)"><path d="M526.29 265.53h.01M530.09 268.94h.01M517.93 278.61h.01M550.26 261.96h.01M521.3 276.06h.01M526.68 284.32h.01M540.7 261.6h.01M512.35 287.19h.01M524.15 280.15h.01M528.09 272.83h.01M534.54 263.05h.01M539.57 264.37h.01M561.97 253.8h.01M543.2 265.3h.01M535.03 278.84h.01M535.51 267.32h.01M552.75 254.97h.01M529.02 275.14h.01M552.07 255.69h.01M542.27 260.36h.01M513.36 294.59h.01M548.45 263.11h.01M526.5 286.01h.01M519.23 277.44h.01M523.87 276.27h.01M545.45 267.34h.01M523.78 291.23h.01M544.73 269.1h.01M518.57 284.17h.01M552.34 272.78h.01M524.8 286.61h.01M529.77 275.67h.01M516.19 281.39h.01M537.48 269.07h.01M547.24 255.75h.01M550.72 260.2h.01M552.4 252.98h.01M523.42 267.09h.01M532.66 275.48h.01M539.03 266.14h.01M518.68 285.09h.01M543.96 271.39h.01M539.8 268.24h.01M547.59 263.14h.01M542.64 260.84h.01M530.64 273.84h.01M513.39 292.78h.01M518.92 289.02h.01M542.33 269.46h.01M556.61 256.01h.01M541.85 261.08h.01M524.57 287.39h.01M545.02 261.95h.01M535.16 264.97h.01M531.49 274.14h.01M537.95 256.07h.01M543.27 252.65h.01M547.48 262.35h.01M553.85 252.87h.01M550.79 254.72h.01M537.42 268.85h.01M546.2 268.32h.01M558.73 248.64h.01M532.15 265.21h.01M535.64 268.3h.01M551.45 262.05h.01M537.06 276.47h.01M529.76 260.86h.01M530.65 276.71h.01M544.14 265.76h.01M548.56 251.95h.01M547.65 263.44h.01M517.59 282.4h.01M554.29 252.91h.01M539.1 268.12h.01M541.09 260h.01M547.74 260.65h.01M519.87 280.99h.01M520.17 281.59h.01M533.54 277.14h.01M551.85 255.05h.01M515.99 285.34h.01M541.18 260.12h.01M549.5 259.95h.01M543.07 271.07h.01M527.11 278.3h.01M536.08 266.6h.01M546.32 251.72h.01M545.1 268.05h.01M528.28 279.76h.01M546.07 265.41h.01M529.28 267.49h.01M541.31 259.71h.01M548.75 258.43h.01M551.48 253.19h.01M528.72 261.87h.01M524.36 267.86h.01M551.82 257.57h.01M544.33 271.31h.01M543.93 252.71h.01M534.72 269.77h.01M546.06 252.56h.01M536.86 268.82h.01M534.98 275.8h.01M539.39 260.89h.01M515.46 284.88h.01M549.29 263.39h.01M548.64 261.92h.01M536.26 258.23h.01M548.39 260.57h.01M554.94 257.16h.01M536.27 275.18h.01M534 262.62h.01M537.63 270.88h.01M551.35 256.15h.01M554.22 256.79h.01M541.24 271.85h.01M536.31 267.36h.01M548.8 254.3h.01M543.06 257.13h.01M548.61 264.98h.01M542.84 267.91h.01M525.54 276.36h.01M538.07 260.46h.01M534.97 271.9h.01M521.08 294.79h.01M521.09 290.84h.01M513.04 303.15h.01M515.88 293.88h.01M533.21 299.27h.01M516 306.16h.01M537.25 295.91h.01M514.81 313.62h.01M541.63 321.7h.01M517.64 319.99h.01M551.93 324.14h.01M521.57 322.84h.01M511.68 293.59h.01M515.6 305.6h.01M520.04 315.35h.01M515.33 315.25h.01M513.91 308.71h.01M511.59 308.6h.01M534.07 293.93h.01M513.13 309.05h.01M513.32 297.54h.01M514.05 326.64h.01M512.77 325.21h.01M512.21 318.29h.01M518.07 305.91h.01M512.49 290.49h.01M513.12 306.8h.01M518.6 305h.01M512.05 323.05h.01M511.08 316.07h.01M515.2 312.19h.01M515.44 326.36h.01M511.69 317.54h.01M524.19 320.14h.01M520.83 315.71h.01M518.48 318.31h.01M511.39 302.64h.01M513.26 290.39h.01M516.4 298.59h.01M517.42 314.65h.01M515.18 309.72h.01M517.57 327h.01M536.62 326.26h.01M520.69 317.34h.01M512.57 297.23h.01M512.12 293.64h.01M517.29 308.79h.01M515.24 311.02h.01M518.07 292.82h.01M549.21 318.09h.01M514.63 296.26h.01M549.81 312.61h.01M517.45 312.12h.01M514.51 300.57h.01M515.55 316.51h.01M513.71 290.52h.01M516.57 304.43h.01M551.55 317.69h.01M513.2 323.51h.01M511.8 307.67h.01M511.29 324.68h.01M518.3 307.33h.01M514.32 294.26h.01M514.08 306.86h.01M514.04 306.39h.01M511.54 306.86h.01M516.44 318.78h.01M514.09 326.91h.01M511.44 294.21h.01M515.41 319.02h.01M514.03 315.35h.01M514.7 311.89h.01M511.08 299.21h.01M514.89 323.88h.01M513.06 300.02h.01M533.67 313.06h.01M513.29 315.02h.01M512.12 313.35h.01M515.09 302.72h.01M516.79 321.03h.01M528.97 318.44h.01M518.82 299.55h.01M516.94 326.6h.01M517.41 310.3h.01M547.01 303.66h.01M534.57 292.9h.01M520.08 301.06h.01M538.48 292.81h.01M515.45 316.82h.01M526.31 300.47h.01M511.86 294.34h.01M516.67 311.06h.01M523.34 306.21h.01M515.89 301.28h.01M526.47 323.1h.01M519.27 303.53h.01M515.71 297.21h.01M514.62 319.49h.01M514.99 296.53h.01M517.61 322.59h.01M518.15 310.13h.01M512.01 325.76h.01M511.73 310.23h.01M541.48 293.11h.01M541.83 313.46h.01M520.82 314.01h.01M511.7 318.29h.01M518.25 302.5h.01M514.28 309.88h.01M517.18 316.2h.01M520.5 314.67h.01M516.98 319.82h.01M522.55 313.69h.01M520.72 316.27h.01M516.52 295.41h.01M513.96 326.67h.01M513.01 305.72h.01M524.34 325.88h.01M514.49 318.71h.01M516.73 306.97h.01M520.69 294.02h.01M511.88 298.71h.01M514.54 296.84h.01M513.4 296.38h.01M513.86 320.23h.01M518 299.64h.01M515.71 310.25h.01M513.99 307.86h.01M521.21 304.24h.01M514.49 309.09h.01M530.91 298.79h.01M511.54 303.75h.01M524.87 295.82h.01M518.97 299.6h.01M519.5 326.75h.01M542.82 309.78h.01M522.14 321.31h.01M511.1 293.05h.01M511.57 307.76h.01M513.65 325.35h.01M514.19 319.2h.01M545.05 323.92h.01M545.28 309.45h.01M518.26 301.52h.01M515.55 307.29h.01M513.36 303.31h.01M515.73 307.09h.01M514.7 320.7h.01M534.56 316.27h.01M551.66 306.95h.01M505.94 279.25h.01M508.9 269.18h.01M504.53 288.46h.01M501 282.27h.01M505.92 265.94h.01M503.25 280.98h.01M506.95 285.43h.01M509.13 264.52h.01M506.28 273.39h.01M506.93 287.78h.01M508.44 276.26h.01M507.71 285.11h.01M509.18 287.28h.01M509.47 289.63h.01M508.53 279.56h.01M515.24 264.33h.01M513.53 277.22h.01M503.69 284.89h.01M506.4 277.34h.01M502.48 262.9h.01M515.62 280.43h.01M504.13 280.79h.01M500.57 284.51h.01M507.77 277.95h.01M508.48 276.55h.01M501.32 279.97h.01M503.32 280.79h.01M510.89 275.16h.01M503.46 279.47h.01M507.6 276.73h.01M496.12 270.98h.01M504.32 283.05h.01M498.97 278.62h.01M508.48 276.07h.01M504.45 268.6h.01M508.98 288.63h.01M516.33 275.23h.01M507.37 285.46h.01M503.21 275.23h.01M507.03 282.32h.01M502.64 274.46h.01M505.65 281.9h.01M508.8 267.07h.01M498.16 286.76h.01M505.5 287.95h.01M511.88 276.86h.01M510.39 305.16h.01M501.43 319.03h.01M495.64 307h.01M514.69 291.63h.01M496.91 300.26h.01M499.81 314.6h.01M510.34 307.27h.01M497.49 323.58h.01M499.85 328.67h.01M497.72 291.35h.01M509.88 312.19h.01M499.49 294.3h.01M496.05 320.76h.01M511.64 320.97h.01M509.85 293.62h.01M513.43 310.84h.01M500.59 311.65h.01M509.51 317.31h.01M495.3 291.64h.01M498.46 290.29h.01M513.46 303.86h.01M509.94 304.2h.01M501.01 286.48h.01M515.57 326.55h.01M497.64 321h.01M499.71 294.42h.01M511.28 285.03h.01M511.83 298.09h.01M498.5 295.71h.01M498.64 311.26h.01M514.85 291.24h.01M512.83 295.23h.01M512.3 322.88h.01M513.89 320.76h.01M512.74 300.49h.01M510.81 293.38h.01M510.48 306.5h.01M501.32 319.54h.01M511.39 304.86h.01M501.34 318.76h.01M511.95 325.72h.01M510.12 289.79h.01M499.26 303.37h.01M511.28 286.67h.01M520.57 319.64h.01M511.92 318.23h.01M509.83 309.49h.01M512.08 294.6h.01M493.84 300.47h.01M511.39 299.18h.01M514.14 284.9h.01M500.95 302.35h.01M500.8 299.47h.01M500.55 316.34h.01M512.49 325.55h.01M498.08 305.2h.01M496.38 301.29h.01M513.58 320.5h.01M510.18 291.81h.01M512.57 309.38h.01M482.79 301.11h.01M483.65 309.03h.01M485.25 308.41h.01M496.89 315.38h.01M494.67 301.14h.01M486.51 297.18h.01M505.5 252.5h.01M503 262h.01M508 265h.01M517 262h.01M524 266h.01M546 254h.01M552 256h.01M560 254h.01M569.5 289h.01M540 330h.01M550 322h.01" stroke="#3446b4" stroke-width="1.6" stroke-linecap="round" fill="none"/>
<path d="M498.6 284 C499 279 510 279 510.8 284 L511 324 C511 331 499.5 331 498.8 324 Z" fill="#3748b6"/>
<g filter="url(#fb)"><ellipse cx="504.4" cy="306" rx="3.6" ry="17" fill="#3270d0"/><ellipse cx="504.3" cy="309" rx="2.9" ry="12.5" fill="#38c2dc"/><ellipse cx="504.3" cy="313" rx="2.6" ry="8" fill="#5cc84a"/><ellipse cx="504.3" cy="314" rx="2.0" ry="5" fill="#ece236"/><ellipse cx="504.2" cy="314" rx="1.35" ry="2.8" fill="#e83020"/></g>
</g>
<rect x="477" y="243.1" width="93.3" height="93.4" fill="none" stroke="#b5b5b5" stroke-width="0.6"/>
<path d="M477 245.1h1.2M477 248.7h1.2M477 252.3h1.2M477 255.9h1.2M477 259.5h1.2M477 263.1h1.2M477 266.7h1.2M477 270.3h1.2M477 273.9h1.2M477 277.5h1.2M477 281.1h1.2M477 284.7h1.2M477 288.3h1.2M477 291.9h1.2M477 295.5h1.2M477 299.1h1.2M477 302.7h1.2M477 306.3h1.2M477 309.9h1.2M477 313.5h1.2M477 317.1h1.2M477 320.7h1.2M477 324.3h1.2M477 327.9h1.2M477 331.5h1.2M477 335.1h1.2M479 336.5v-1.2M482.6 336.5v-1.2M486.2 336.5v-1.2M489.8 336.5v-1.2M493.4 336.5v-1.2M497 336.5v-1.2M500.6 336.5v-1.2M504.2 336.5v-1.2M507.8 336.5v-1.2M511.4 336.5v-1.2M515 336.5v-1.2M518.6 336.5v-1.2M522.2 336.5v-1.2M525.8 336.5v-1.2M529.4 336.5v-1.2M533 336.5v-1.2M536.6 336.5v-1.2M540.2 336.5v-1.2M543.8 336.5v-1.2M547.4 336.5v-1.2M551 336.5v-1.2M554.6 336.5v-1.2M558.2 336.5v-1.2M561.8 336.5v-1.2M565.4 336.5v-1.2M569 336.5v-1.2" stroke="#999" stroke-width="0.5" fill="none"/>
<line x1="475.1" y1="257.5" x2="477" y2="257.5" stroke="#666" stroke-width="0.6"/>
<line x1="475.1" y1="278.4" x2="477" y2="278.4" stroke="#666" stroke-width="0.6"/>
<line x1="475.1" y1="303.4" x2="477" y2="303.4" stroke="#666" stroke-width="0.6"/>
<line x1="475.1" y1="325.5" x2="477" y2="325.5" stroke="#666" stroke-width="0.6"/>
<line x1="504.8" y1="336.5" x2="504.8" y2="338.3" stroke="#666" stroke-width="0.6"/>
<line x1="530" y1="336.5" x2="530" y2="338.3" stroke="#666" stroke-width="0.6"/>
<line x1="557.7" y1="336.5" x2="557.7" y2="338.3" stroke="#666" stroke-width="0.6"/>
<line x1="511.5" y1="243.1" x2="511.5" y2="336.5" stroke="#333" stroke-width="0.9"/>
<line x1="477" y1="288.3" x2="570.3" y2="288.3" stroke="#444" stroke-width="1"/>
<circle cx="476.1" cy="314.4" r="1.3" fill="#000"/>
<path d="M500 337.6h4.3" stroke="#000" stroke-width="1.2" stroke-dasharray="1 0.6"/>
<text x="473.6" y="259.5" font-size="5.6" text-anchor="end" fill="#333">10<tspan font-size="3.6" dy="-2.2">5</tspan></text>
<text x="473.6" y="280.4" font-size="5.6" text-anchor="end" fill="#333">10<tspan font-size="3.6" dy="-2.2">4</tspan></text>
<text x="473.6" y="305.4" font-size="5.6" text-anchor="end" fill="#333">10<tspan font-size="3.6" dy="-2.2">3</tspan></text>
<text x="473.6" y="327.5" font-size="5.6" text-anchor="end" fill="#333">−10<tspan font-size="3.6" dy="-2.2">3</tspan></text>
<text x="504.8" y="345.73" text-anchor="middle" fill="#333" style="stroke:#333" font-size="5.8">0</text>
<text x="526.4" y="345.8" font-size="5.6" fill="#333">10<tspan font-size="3.6" dy="-2.2">4</tspan></text>
<text x="554.7" y="345.8" font-size="5.6" fill="#333">10<tspan font-size="3.6" dy="-2.2">5</tspan></text>
<text x="525.4" y="354.5" text-anchor="middle" textLength="14.4" lengthAdjust="spacingAndGlyphs" font-size="7.14">IFNγ</text>
<text transform="translate(458 290.9) rotate(-90)" text-anchor="middle" textLength="12" lengthAdjust="spacingAndGlyphs" font-size="7.14">TNF</text>
<line x1="617.1" y1="244.5" x2="617.1" y2="338.6" stroke="#222" stroke-width="1"/>
<line x1="616.6" y1="338.1" x2="679" y2="338.1" stroke="#222" stroke-width="1"/>
<line x1="614.1" y1="245" x2="617.1" y2="245" stroke="#222" stroke-width="0.9"/>
<text x="610.6" y="247.17" text-anchor="end" fill="#333" style="stroke:#333" font-size="6.2">0.10</text>
<line x1="614.1" y1="291.4" x2="617.1" y2="291.4" stroke="#222" stroke-width="0.9"/>
<text x="610.6" y="293.57" text-anchor="end" fill="#333" style="stroke:#333" font-size="6.2">0.01</text>
<line x1="614.1" y1="338.1" x2="617.1" y2="338.1" stroke="#222" stroke-width="0.9"/>
<text x="610.6" y="340.27" text-anchor="end" fill="#333" style="stroke:#333" font-size="6.2">0</text>
<text transform="translate(589.02 295.2) rotate(-90)" text-anchor="middle" font-size="7">TNF<tspan font-size="5" dy="-2.4">+</tspan><tspan dy="2.4"> IFNγ cells</tspan></text>
<text transform="translate(594.77 295) rotate(-90)" text-anchor="middle" textLength="64.2" lengthAdjust="spacingAndGlyphs" font-size="7.35">(of CD4 T cells) (%)</text>
<path d="M629.2 265.9V244.3H647.9V250.3" stroke="#222" stroke-width="0.8" fill="none"/>
<text x="638.8" y="242.77" text-anchor="middle" fill="#333" style="stroke:#333" font-size="6.2">0.1</text>
<line x1="629.2" y1="271.2" x2="647.9" y2="255.1" stroke="#e8302a" stroke-width="0.8"/>
<line x1="629.2" y1="275.1" x2="647.9" y2="260.9" stroke="#e8302a" stroke-width="0.8"/>
<line x1="629.2" y1="302.5" x2="647.9" y2="292.4" stroke="#e8302a" stroke-width="0.8"/>
<line x1="629.2" y1="306.3" x2="647.9" y2="295.3" stroke="#e8302a" stroke-width="0.8"/>
<line x1="629.2" y1="338.1" x2="647.9" y2="276.3" stroke="#e8302a" stroke-width="0.8"/>
<line x1="629.2" y1="338.1" x2="647.9" y2="292.4" stroke="#e8302a" stroke-width="0.8"/>
<line x1="629.2" y1="338.1" x2="647.9" y2="338.1" stroke="#e8302a" stroke-width="0.8"/>
<line x1="629.2" y1="285.9" x2="647.9" y2="338.1" stroke="#3d58b0" stroke-width="0.8"/>
<line x1="629.2" y1="320.8" x2="647.9" y2="338.1" stroke="#3d58b0" stroke-width="0.8"/>
<line x1="647.9" y1="255.1" x2="666.5" y2="279.2" stroke="#3d58b0" stroke-width="0.8"/>
<line x1="647.9" y1="260.9" x2="666.5" y2="282.3" stroke="#3d58b0" stroke-width="0.8"/>
<line x1="647.9" y1="276.3" x2="666.5" y2="283.5" stroke="#3d58b0" stroke-width="0.8"/>
<line x1="647.9" y1="295.3" x2="666.5" y2="308.8" stroke="#3d58b0" stroke-width="0.8"/>
<line x1="647.9" y1="338.1" x2="666.5" y2="338.1" stroke="#3d58b0" stroke-width="0.8"/>
<line x1="629.2" y1="276.7" x2="666.5" y2="282.3" stroke="#999" stroke-width="0.8" stroke-dasharray="1 1.2"/>
<line x1="629.2" y1="296.2" x2="666.5" y2="288.1" stroke="#999" stroke-width="0.8" stroke-dasharray="1 1.2"/>
<circle cx="629.2" cy="271.2" r="2.4" fill="#000"/>
<circle cx="629.2" cy="275.1" r="2.4" fill="#000"/>
<circle cx="629.2" cy="276.7" r="2.4" fill="#000"/>
<circle cx="629.2" cy="285.9" r="2.4" fill="#000"/>
<circle cx="629.2" cy="296.2" r="2.4" fill="#000"/>
<circle cx="629.2" cy="302.5" r="2.4" fill="#000"/>
<circle cx="629.2" cy="306.3" r="2.4" fill="#000"/>
<circle cx="629.2" cy="316" r="2.4" fill="#000"/>
<circle cx="629.2" cy="320.8" r="2.4" fill="#000"/>
<circle cx="629.2" cy="338.1" r="2.4" fill="#000"/>
<circle cx="647.9" cy="255.1" r="2.4" fill="#6abd45"/>
<circle cx="647.9" cy="260.9" r="2.4" fill="#6abd45"/>
<circle cx="647.9" cy="276.3" r="2.4" fill="#6abd45"/>
<circle cx="647.9" cy="292.4" r="2.4" fill="#6abd45"/>
<circle cx="647.9" cy="295.3" r="2.4" fill="#6abd45"/>
<circle cx="647.9" cy="338.1" r="2.4" fill="#6abd45"/>
<circle cx="666.5" cy="279.2" r="2.4" fill="#f59b33"/>
<circle cx="666.5" cy="282.3" r="2.4" fill="#f59b33"/>
<circle cx="666.5" cy="285" r="2.4" fill="#f59b33"/>
<circle cx="666.5" cy="288.1" r="2.4" fill="#f59b33"/>
<circle cx="666.5" cy="308.8" r="2.4" fill="#f59b33"/>
<circle cx="666.5" cy="338.1" r="2.4" fill="#f59b33"/>
<circle cx="655.1" cy="241.8" r="1.75" fill="#000"/>
<text x="658.8" y="243.89" fill="#333" style="stroke:#333" textLength="22.3" lengthAdjust="spacingAndGlyphs" font-size="5.99">C01D01</text>
<circle cx="655.1" cy="249.4" r="1.75" fill="#6abd45"/>
<text x="658.8" y="251.49" fill="#333" style="stroke:#333" textLength="22.3" lengthAdjust="spacingAndGlyphs" font-size="5.99">C01D02</text>
<circle cx="655.1" cy="257" r="1.75" fill="#f59b33"/>
<text x="658.8" y="259.09" fill="#333" style="stroke:#333" textLength="22.3" lengthAdjust="spacingAndGlyphs" font-size="5.99">C01D08</text>
<line x1="500.4" y1="362" x2="500.4" y2="442" stroke="#222" stroke-width="1"/>
<line x1="496" y1="441.4" x2="678.3" y2="441.4" stroke="#222" stroke-width="1"/>
<line x1="496" y1="362.4" x2="500.4" y2="362.4" stroke="#222" stroke-width="0.9"/>
<text x="493.8" y="364.57" text-anchor="end" fill="#333" style="stroke:#333" font-size="6.2">0.10</text>
<line x1="496" y1="402" x2="500.4" y2="402" stroke="#222" stroke-width="0.9"/>
<text x="493.8" y="404.17" text-anchor="end" fill="#333" style="stroke:#333" font-size="6.2">0.01</text>
<line x1="496" y1="441.4" x2="500.4" y2="441.4" stroke="#222" stroke-width="0.9"/>
<text x="493.8" y="443.57" text-anchor="end" fill="#333" style="stroke:#333" font-size="6.2">0</text>
<line x1="500.8" y1="441.4" x2="500.8" y2="445.2" stroke="#222" stroke-width="0.9"/>
<text x="500.8" y="453.97" text-anchor="middle" fill="#333" style="stroke:#333" font-size="6.2">0.01</text>
<line x1="544.6" y1="441.4" x2="544.6" y2="445.2" stroke="#222" stroke-width="0.9"/>
<text x="544.6" y="453.97" text-anchor="middle" fill="#333" style="stroke:#333" font-size="6.2">0.1</text>
<line x1="588.9" y1="441.4" x2="588.9" y2="445.2" stroke="#222" stroke-width="0.9"/>
<text x="588.9" y="453.97" text-anchor="middle" fill="#333" style="stroke:#333" font-size="6.2">1</text>
<line x1="633.1" y1="441.4" x2="633.1" y2="445.2" stroke="#222" stroke-width="0.9"/>
<text x="633.1" y="453.97" text-anchor="middle" fill="#333" style="stroke:#333" font-size="6.2">10</text>
<line x1="677.3" y1="441.4" x2="677.3" y2="445.2" stroke="#222" stroke-width="0.9"/>
<text x="677.3" y="453.97" text-anchor="middle" fill="#333" style="stroke:#333" font-size="6.2">100</text>
<text x="587.2" y="464.85" text-anchor="middle" textLength="81.4" lengthAdjust="spacingAndGlyphs" font-size="7.56">HIV RNA (copies per ml)</text>
<text transform="translate(466.82 404.1) rotate(-90)" text-anchor="middle" font-size="7">TNF<tspan font-size="5" dy="-2.4">+</tspan><tspan dy="2.4"> IFNγ cells</tspan></text>
<text transform="translate(475.27 404.3) rotate(-90)" text-anchor="middle" textLength="63.9" lengthAdjust="spacingAndGlyphs" font-size="7.35">(of CD4 T cells) (%)</text>
<text x="644.5" y="374.3" font-size="6.4"><tspan font-style="italic">ρ</tspan> = 0.40</text>
<text x="644.5" y="381.2" font-size="6.4"><tspan font-style="italic">P</tspan> = 0.02</text>
<circle cx="539.9" cy="414.2" r="2.75" fill="#000"/>
<circle cx="540.9" cy="411.5" r="2.75" fill="#000"/>
<circle cx="555.7" cy="388.5" r="2.75" fill="#000"/>
<circle cx="554.3" cy="426.9" r="2.75" fill="#000"/>
<circle cx="568.4" cy="397" r="2.75" fill="#000"/>
<circle cx="588.9" cy="441.3" r="2.75" fill="#000"/>
<circle cx="597.5" cy="422.8" r="2.75" fill="#000"/>
<circle cx="607.1" cy="384.7" r="2.75" fill="#000"/>
<circle cx="617.8" cy="405.6" r="2.75" fill="#000"/>
<circle cx="632.8" cy="389.8" r="2.75" fill="#000"/>
<circle cx="542.6" cy="441.3" r="2.75" fill="#f59b33"/>
<circle cx="569" cy="393.6" r="2.75" fill="#f59b33"/>
<circle cx="568.4" cy="416.6" r="2.75" fill="#f59b33"/>
<circle cx="578" cy="394.6" r="2.75" fill="#f59b33"/>
<circle cx="578.6" cy="441.3" r="2.75" fill="#f59b33"/>
<circle cx="594.1" cy="441.3" r="2.75" fill="#f59b33"/>
<circle cx="599.9" cy="391.9" r="2.75" fill="#f59b33"/>
<circle cx="618.4" cy="441.3" r="2.75" fill="#f59b33"/>
<circle cx="643.1" cy="393.6" r="2.75" fill="#f59b33"/>
<circle cx="661.7" cy="398.8" r="2.75" fill="#f59b33"/>
<circle cx="540.9" cy="404.6" r="2.75" fill="#6abd45"/>
<circle cx="540.9" cy="441.3" r="2.75" fill="#6abd45"/>
<circle cx="554.6" cy="404.6" r="2.75" fill="#6abd45"/>
<circle cx="554.6" cy="441.3" r="2.75" fill="#6abd45"/>
<circle cx="567.3" cy="402.9" r="2.75" fill="#6abd45"/>
<circle cx="590" cy="441.3" r="2.75" fill="#6abd45"/>
<circle cx="595.1" cy="388.8" r="2.75" fill="#6abd45"/>
<circle cx="603" cy="376.1" r="2.75" fill="#6abd45"/>
<circle cx="630.4" cy="371" r="2.75" fill="#6abd45"/>
<circle cx="655.8" cy="417.6" r="1.75" fill="#000"/>
<text x="660.3" y="419.69" fill="#333" style="stroke:#333" textLength="22.3" lengthAdjust="spacingAndGlyphs" font-size="5.99">C01D01</text>
<circle cx="655.8" cy="425.9" r="1.75" fill="#6abd45"/>
<text x="660.3" y="427.99" fill="#333" style="stroke:#333" textLength="22.3" lengthAdjust="spacingAndGlyphs" font-size="5.99">C01D02</text>
<circle cx="655.8" cy="433.8" r="1.75" fill="#f59b33"/>
<text x="660.3" y="435.89" fill="#333" style="stroke:#333" textLength="22.3" lengthAdjust="spacingAndGlyphs" font-size="5.99">C01D08</text>
</svg>
</body></html>
